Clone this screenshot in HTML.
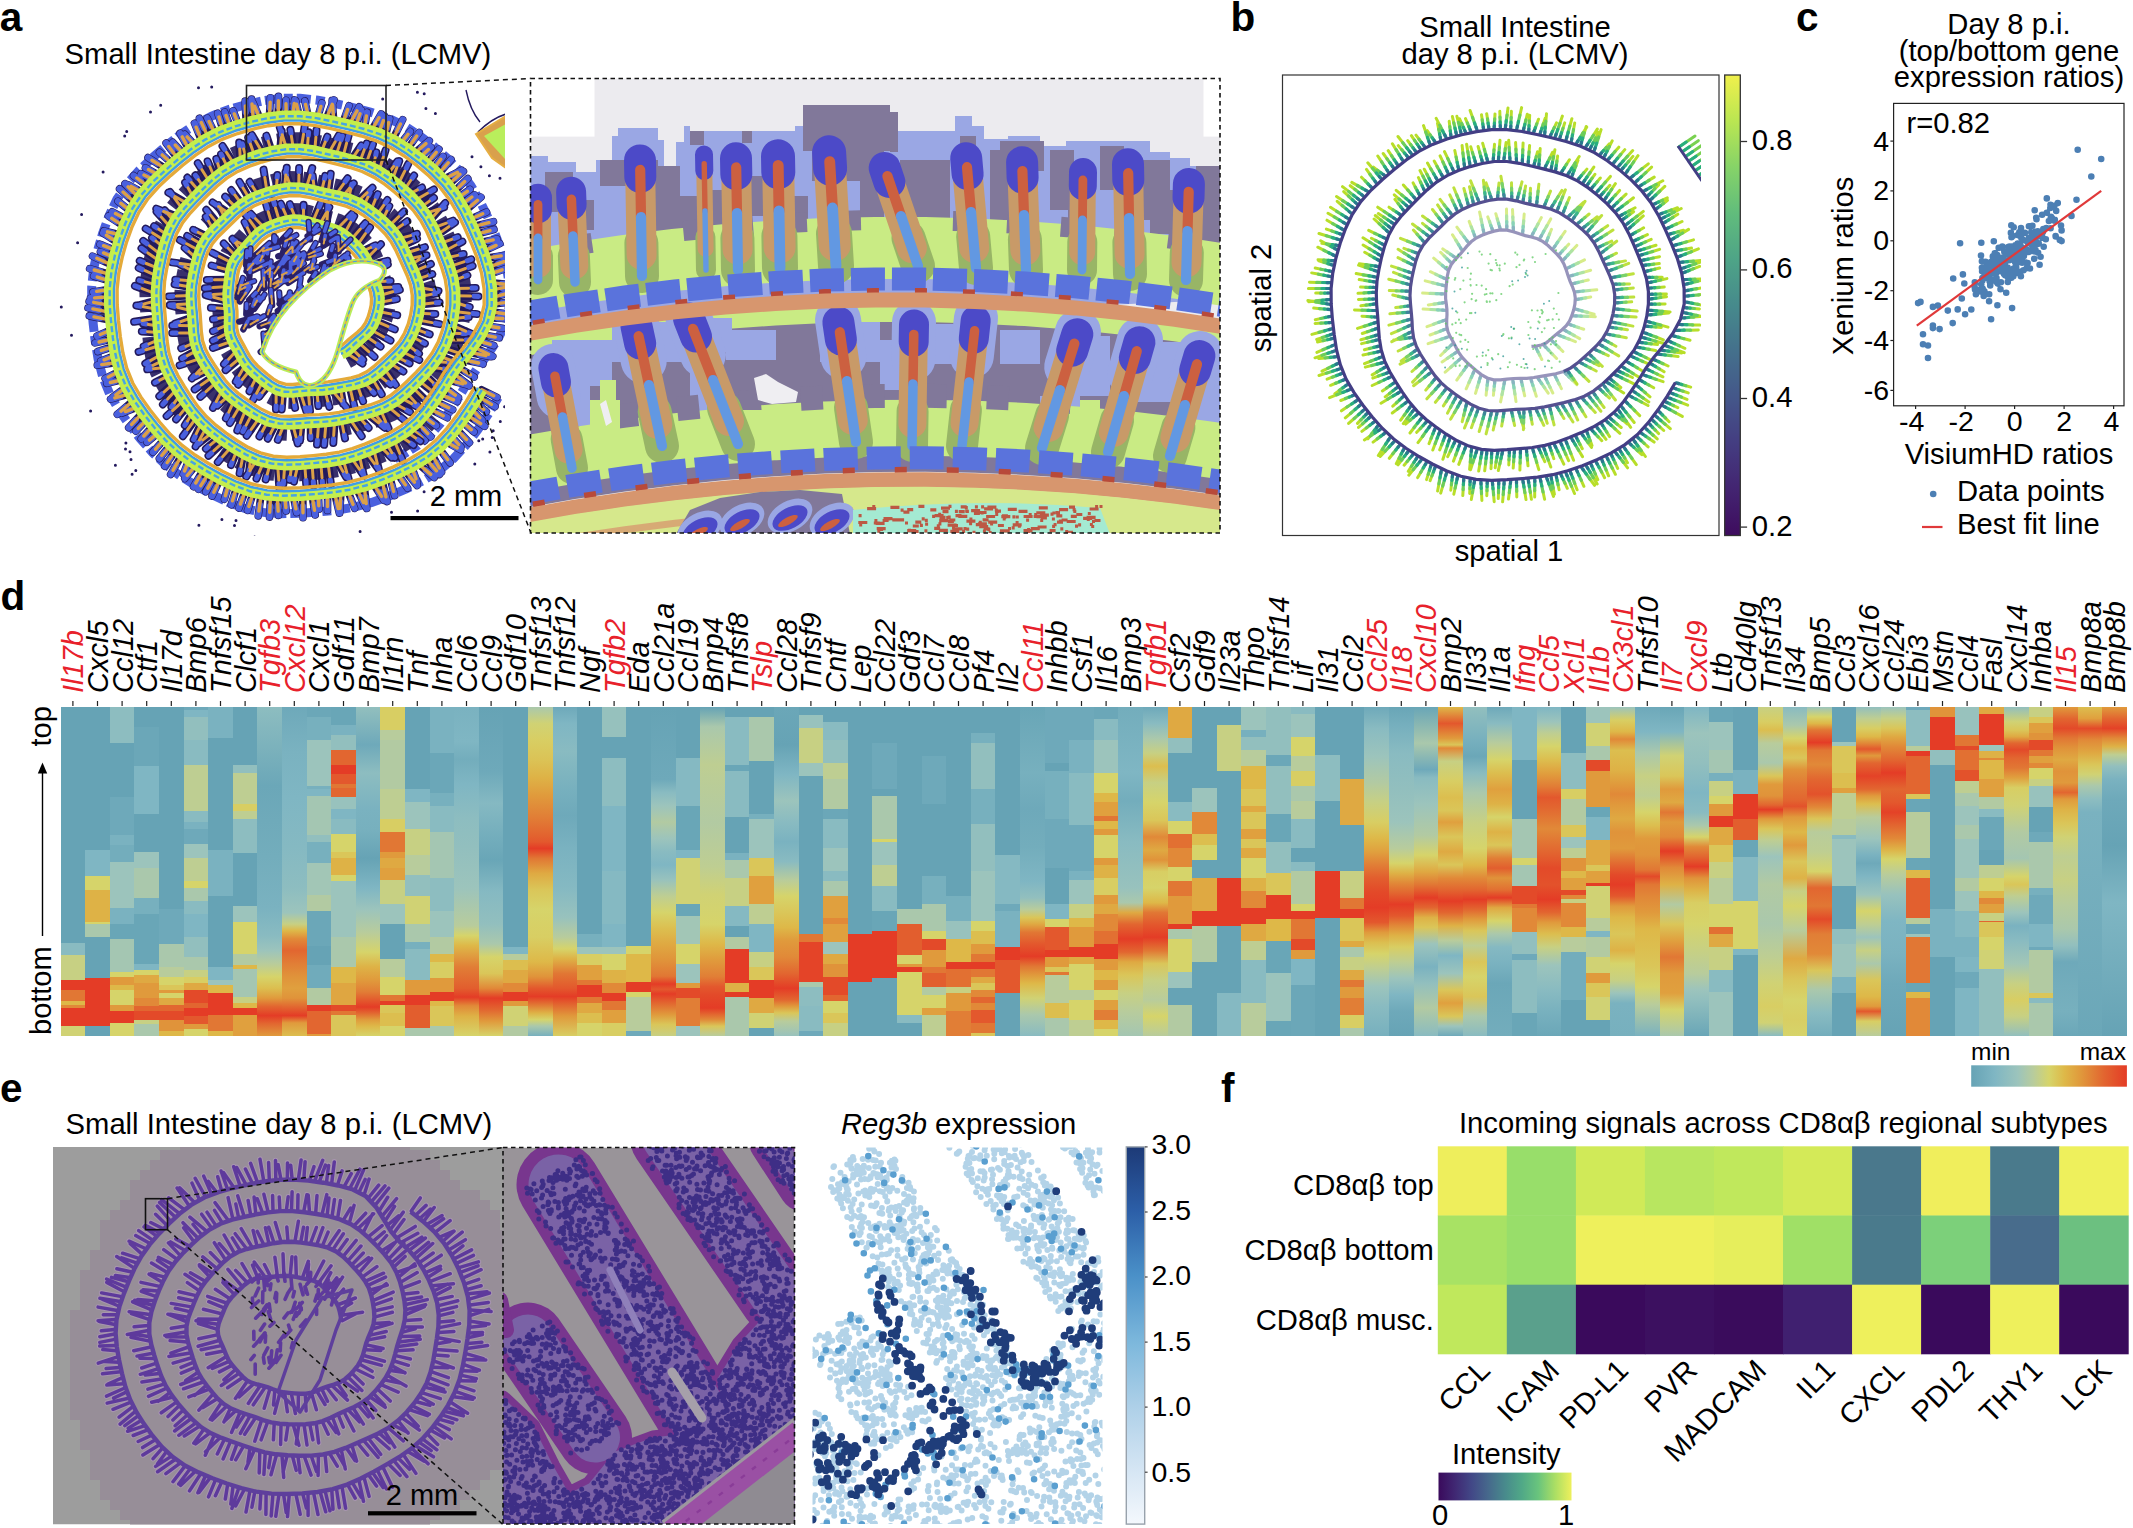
<!DOCTYPE html>
<html><head><meta charset="utf-8"><title>Figure</title>
<style>
html,body{margin:0;padding:0;background:#fff}
#fig{position:relative;width:2133px;height:1528px;overflow:hidden;background:#fff;font-family:'Liberation Sans', sans-serif}
#fig svg{position:absolute;left:0;top:0}
.hm{position:absolute;left:0;top:706.9px;height:329.3px;width:2133px}
.hm div{position:absolute;top:0;height:100%}
svg text{font-family:'Liberation Sans', sans-serif}
</style></head><body>
<div id="fig">
<div class="hm"><div style="left:60.6px;width:24.9px;background:linear-gradient(#66a3b5 0% 71.7%,#89bbc1 71.7% 75.5%,#c7d083 75.5% 83%,#e43c26 83% 86%,#e17734 86% 89.5%,#deb848 89.5% 90.5%,#e18938 90.5% 91.5%,#e43c26 91.5% 97%,#d0d274 97% 100%)"></div><div style="left:85.2px;width:24.9px;background:linear-gradient(#66a3b5 0% 43.5%,#7fb6c3 43.5% 51.3%,#d6d46a 51.3% 55.7%,#deb246 55.7% 65.5%,#d6d46a 65.5% 66%,#aac8ac 66% 70%,#66a3b5 70% 82.5%,#e43c26 82.5% 97%,#66a3b5 97% 100%)"></div><div style="left:109.8px;width:24.9px;background:linear-gradient(#8dbdc0 0% 11%,#66a3b5 11% 27.5%,#6ea9ba 27.5% 39%,#7ab2c0 39% 42%,#73adbc 42% 47%,#9cc4bc 47% 61%,#7ab2c0 61% 66%,#69a6b7 66% 70.5%,#a4c6b2 70.5% 80.5%,#d6d46a 80.5% 82%,#e09a3c 82% 84.5%,#deb848 84.5% 86%,#d6d46a 86% 90.5%,#e09a3c 90.5% 92.5%,#e43c26 92.5% 96%,#d6d46a 96% 100%)"></div><div style="left:134.4px;width:24.9px;background:linear-gradient(#66a3b5 0% 6%,#6ba7b8 6% 18%,#7fb6c3 18% 32.5%,#66a3b5 32.5% 44%,#9cc4bc 44% 49%,#aac8ac 49% 58%,#77b0be 58% 63%,#69a6b7 63% 78%,#7fb6c3 78% 80%,#d6d46a 80% 81.5%,#dfa942 81.5% 84%,#e09a3c 84% 88.5%,#e18938 88.5% 91%,#e26630 91% 92.5%,#e34a29 92.5% 95%,#c7d083 95% 96.5%,#aac8ac 96.5% 100%)"></div><div style="left:159px;width:24.9px;background:linear-gradient(#66a3b5 0% 61.5%,#6ea9ba 61.5% 72%,#aac8ac 72% 79%,#b8cc9c 79% 82%,#d6d46a 82% 84.5%,#dac659 84.5% 86%,#e09a3c 86% 87%,#d6d46a 87% 88.5%,#dfa942 88.5% 90.5%,#e26630 90.5% 92.5%,#e34a29 92.5% 95%,#e0933a 95% 98.5%,#deb848 98.5% 100%)"></div><div style="left:183.6px;width:24.9px;background:linear-gradient(#6ea9ba 0% 1%,#7fb6c3 1% 3%,#92bfbe 3% 10%,#89bbc1 10% 17.5%,#bece92 17.5% 31.5%,#89bbc1 31.5% 35%,#7ab2c0 35% 37%,#6ea9ba 37% 41.5%,#9cc4bc 41.5% 46%,#bece92 46% 53%,#d6d46a 53% 55%,#aac8ac 55% 59%,#89bbc1 59% 63%,#7fb6c3 63% 70%,#92bfbe 70% 76%,#aac8ac 76% 80%,#c7d083 80% 82%,#d8ce63 82% 84%,#dfa942 84% 86%,#e34a29 86% 90%,#e26630 90% 91.5%,#e43c26 91.5% 94%,#e3582d 94% 96.5%,#e09a3c 96.5% 98%,#d6d46a 98% 100%)"></div><div style="left:208.2px;width:24.9px;background:linear-gradient(#7ab2c0 0% 9.5%,#66a3b5 9.5% 43.5%,#7ab2c0 43.5% 57.5%,#66a3b5 57.5% 79%,#7fb6c3 79% 83%,#9cc4bc 83% 84.5%,#deb848 84.5% 87%,#e43c26 87% 93.5%,#e17734 93.5% 98.5%,#deb848 98.5% 100%)"></div><div style="left:232.8px;width:24.9px;background:linear-gradient(#66a3b5 0% 17.5%,#92bfbe 17.5% 20%,#bece92 20% 29.5%,#d8ce63 29.5% 31.5%,#bece92 31.5% 34%,#8dbdc0 34% 44.5%,#66a3b5 44.5% 60.5%,#9cc4bc 60.5% 65.5%,#d6d46a 65.5% 75%,#b2caa2 75% 78.5%,#deb848 78.5% 79.5%,#a4c6b2 79.5% 88%,#c7d083 88% 90%,#deb848 90% 91.5%,#e43c26 91.5% 93.5%,#e0a03e 93.5% 100%)"></div><div style="left:257.4px;width:24.9px;background:linear-gradient(#8dbdc0 0%,#6ba7b8 24%,#73adbc 45.5%,#7ab2c0 61%,#89bbc1 69.5%,#9cc4bc 74%,#b8cc9c 78%,#d6d46a 82%,#dcbe4f 85.5%,#e09a3c 88.5%,#e26630 91%,#e43c26 93.8%,#e26630 96.2%,#e09a3c 100%)"></div><div style="left:282px;width:24.9px;background:linear-gradient(#6ea9ba 0%,#7ab2c0 13.5%,#7fb6c3 27.5%,#85b9c2 42.5%,#8dbdc0 55%,#9cc4bc 62.5%,#c7d083 66%,#deb848 68%,#e18938 70.5%,#e26630 74%,#e17e36 78%,#e0933a 82%,#e0a03e 85.5%,#e0933a 88.5%,#e26630 91.2%,#e43c26 93.8%,#e09a3c 96%,#dcbe4f 100%)"></div><div style="left:306.6px;width:24.9px;background:linear-gradient(#6ba7b8 0% 3%,#77b0be 3% 10%,#9cc4bc 10% 24%,#77b0be 24% 25%,#7fb6c3 25% 27%,#a4c6b2 27% 39%,#92bfbe 39% 41%,#77b0be 41% 47.5%,#a2c6b6 47.5% 57%,#b2caa2 57% 62%,#6ba7b8 62% 72.5%,#66a3b5 72.5% 78.5%,#70abbb 78.5% 85.5%,#b2caa2 85.5% 90.5%,#e43c26 90.5% 92.5%,#e26630 92.5% 99.5%,#e09a3c 99.5% 100%)"></div><div style="left:331.2px;width:24.9px;background:linear-gradient(#69a6b7 0% 5.5%,#7ab2c0 5.5% 8.5%,#92bfbe 8.5% 13%,#e26630 13% 17.5%,#e43c26 17.5% 20.5%,#e3582d 20.5% 23.5%,#e17734 23.5% 24.5%,#e26630 24.5% 27.5%,#98c2bd 27.5% 31%,#7fb6c3 31% 34%,#89bbc1 34% 38.5%,#d6d46a 38.5% 44%,#dac659 44% 46%,#deb246 46% 51%,#d6d46a 51% 53%,#9cc4bc 53% 70%,#aac8ac 70% 79%,#deb848 79% 84%,#dfa641 84% 90.5%,#e34a29 90.5% 92.5%,#e17734 92.5% 93.5%,#dac659 93.5% 100%)"></div><div style="left:355.8px;width:24.9px;background:linear-gradient(#92bfbe 0%,#6ea9ba 11.5%,#8dbdc0 20%,#7ab2c0 31%,#77b0be 37.5%,#66a3b5 46%,#7fb6c3 55%,#9cc4bc 61.5%,#b8cc9c 68.5%,#d6d46a 74.5%,#deb246 79%,#e09a3c 83%,#e17e36 86.5%,#e3582d 89.2%,#e43c26 91.2%,#e26630 93%,#e09a3c 95%,#deb848 97%,#d6d46a 100%)"></div><div style="left:380.4px;width:24.9px;background:linear-gradient(#d8ce63 0% 7%,#b8cc9c 7% 10%,#b2caa2 10% 25%,#bece92 25% 34%,#d8ce63 34% 38%,#e17734 38% 44%,#e09a3c 44% 46%,#dfa942 46% 49%,#e0a03e 49% 52.5%,#c7d083 52.5% 60%,#9cc4bc 60% 66%,#66a3b5 66% 76.5%,#b8cc9c 76.5% 82%,#d6d46a 82% 87.5%,#e17734 87.5% 89.5%,#e43c26 89.5% 90.5%,#dac659 90.5% 93%,#dcbe4f 93% 97%,#d6d46a 97% 100%)"></div><div style="left:405px;width:24.9px;background:linear-gradient(#66a3b5 0% 25%,#7fb6c3 25% 29%,#9cc4bc 29% 37%,#c7d083 37% 45%,#b8cc9c 45% 51%,#92bfbe 51% 57.5%,#d0d274 57.5% 66%,#aac8ac 66% 71.5%,#77b0be 71.5% 73.5%,#89bbc1 73.5% 83%,#e09a3c 83% 87.5%,#e43c26 87.5% 90.5%,#e25e2e 90.5% 97.5%,#aac8ac 97.5% 100%)"></div><div style="left:429.6px;width:24.9px;background:linear-gradient(#7ab2c0 0% 14%,#6ba7b8 14% 26%,#77b0be 26% 30%,#89bbc1 30% 38%,#a4c6b2 38% 52%,#8dbdc0 52% 62%,#9cc4bc 62% 70%,#b2caa2 70% 75%,#deb848 75% 77.5%,#d8ce63 77.5% 82.5%,#e09a3c 82.5% 86.5%,#e43c26 86.5% 89.5%,#deb848 89.5% 91%,#dac659 91% 97%,#aac8ac 97% 100%)"></div><div style="left:454.2px;width:24.9px;background:linear-gradient(#7ab2c0 0%,#7fb6c3 10.5%,#73adbc 16%,#7fb6c3 23.5%,#8dbdc0 34%,#92bfbe 42.5%,#9cc4bc 55%,#b8cc9c 66.5%,#d6d46a 69.5%,#deb848 72.5%,#e17e36 79%,#e25e2e 85.5%,#e43c26 88.2%,#e18938 90.8%,#deb246 94%,#d6d46a 100%)"></div><div style="left:478.8px;width:24.9px;background:linear-gradient(#66a3b5 0%,#6ea9ba 19.8%,#85b9c2 29.2%,#73adbc 39.8%,#69a6b7 46.5%,#85b9c2 56%,#92bfbe 66%,#aac8ac 72%,#d6d46a 76%,#dac659 81%,#e18938 85.5%,#e43c26 88.5%,#e26630 92%,#e09a3c 95.5%,#d6d46a 100%)"></div><div style="left:503.4px;width:24.9px;background:linear-gradient(#66a3b5 0% 73%,#7fb6c3 73% 75%,#b8cc9c 75% 77%,#dcbe4f 77% 80%,#dfa942 80% 84%,#e18938 84% 86.5%,#e43c26 86.5% 89.5%,#e09a3c 89.5% 91%,#d0d274 91% 97%,#b2caa2 97% 100%)"></div><div style="left:528px;width:24.9px;background:linear-gradient(#aac8ac 0%,#d0d274 5%,#d8ce63 10%,#dbc356 16%,#deb246 21.5%,#e09a3c 27%,#e17e36 33.5%,#e26630 38.5%,#e3582d 41%,#e43c26 43%,#e17734 46%,#dfa942 50.5%,#dac659 55.5%,#d6d46a 61.5%,#d8ce63 70%,#deb848 77.5%,#e0933a 82%,#e3582d 85.5%,#e43c26 88%,#e17734 90.5%,#deb246 93%,#d6d46a 95%,#aac8ac 97%,#77b0be 100%)"></div><div style="left:552.6px;width:24.9px;background:linear-gradient(#6ea9ba 0%,#7fb6c3 5%,#89bbc1 13.5%,#77b0be 25%,#6ea9ba 33%,#7ab2c0 43%,#85b9c2 55%,#98c2bd 64%,#b8cc9c 70%,#d6d46a 73.5%,#deb246 76.5%,#e17734 81%,#e3582d 85.5%,#e43c26 88%,#e26630 90.5%,#e09a3c 94%,#d8ce63 100%)"></div><div style="left:577.2px;width:24.9px;background:linear-gradient(#66a3b5 0% 69%,#77b0be 69% 73%,#9cc4bc 73% 75%,#d8ce63 75% 78.5%,#e0a03e 78.5% 83%,#e17734 83% 84.5%,#e43c26 84.5% 88%,#e17734 88% 90%,#dfa942 90% 93%,#dcbe4f 93% 96%,#d6d46a 96% 100%)"></div><div style="left:601.8px;width:24.9px;background:linear-gradient(#96c1bd 0% 9%,#66a3b5 9% 15.5%,#8dbdc0 15.5% 30%,#7fb6c3 30% 50%,#85b9c2 50% 66%,#7fb6c3 66% 73%,#9cc4bc 73% 75%,#d6d46a 75% 80%,#deb246 80% 84%,#e18938 84% 87%,#e43c26 87% 89.5%,#e17734 89.5% 92%,#e0a03e 92% 96%,#d8ce63 96% 100%)"></div><div style="left:626.4px;width:24.9px;background:linear-gradient(#66a3b5 0% 72.5%,#d6d46a 72.5% 75%,#deb848 75% 83.5%,#e43c26 83.5% 86.5%,#d6d46a 86.5% 88%,#b8cc9c 88% 98.5%,#6ea9ba 98.5% 100%)"></div><div style="left:651px;width:24.9px;background:linear-gradient(#66a3b5 0%,#6ea9ba 22%,#89bbc1 26%,#9cc4bc 30%,#b2caa2 35%,#9cc4bc 40%,#89bbc1 44%,#7fb6c3 48%,#98c2bd 52.5%,#bece92 57.5%,#d6d46a 62.5%,#dcbe4f 67.5%,#dfa942 72%,#e0933a 77%,#e17734 81.8%,#e43c26 84.2%,#e3582d 85.8%,#e43c26 87.2%,#e26630 90%,#e09a3c 93.5%,#dac659 96.5%,#c7d083 100%)"></div><div style="left:675.6px;width:24.9px;background:linear-gradient(#66a3b5 0% 15.5%,#85b9c2 15.5% 30%,#69a6b7 30% 43.5%,#7fb6c3 43.5% 46%,#d0d274 46% 60%,#69a6b7 60% 63.5%,#a2c6b6 63.5% 72%,#d6d46a 72% 78%,#9cc4bc 78% 84%,#e09a3c 84% 85.5%,#e34a29 85.5% 88.5%,#e17e36 88.5% 97%,#9cc4bc 97% 100%)"></div><div style="left:700.2px;width:24.9px;background:linear-gradient(#66a3b5 0%,#aac8ac 6%,#bece92 17.5%,#b2caa2 35%,#bece92 48.5%,#d0d274 57%,#d6d46a 66%,#deb848 72%,#e09a3c 77%,#e17e36 82%,#e3582d 85%,#e34a29 87.5%,#e43c26 91.5%,#e18938 95%,#dac659 97%,#b8cc9c 100%)"></div><div style="left:724.8px;width:24.9px;background:linear-gradient(#66a3b5 0% 3%,#89bbc1 3% 17.5%,#69a6b7 17.5% 19.5%,#89bbc1 19.5% 33.5%,#66a3b5 33.5% 44.5%,#7ab2c0 44.5% 46.5%,#aac8ac 46.5% 52%,#c7d083 52% 60.5%,#85b9c2 60.5% 66.5%,#66a3b5 66.5% 70%,#b2caa2 70% 73.5%,#e43c26 73.5% 84%,#deb246 84% 86.5%,#e43c26 86.5% 88%,#aac8ac 88% 100%)"></div><div style="left:749.4px;width:24.9px;background:linear-gradient(#66a3b5 0% 3%,#aac8ac 3% 16.5%,#66a3b5 16.5% 32.5%,#77b0be 32.5% 34%,#9cc4bc 34% 46%,#dac659 46% 51.5%,#e0a03e 51.5% 60%,#bece92 60% 66%,#7fb6c3 66% 74.5%,#c7d083 74.5% 79%,#dac659 79% 83%,#e43c26 83% 88.5%,#dfa942 88.5% 93%,#d0d274 93% 97.5%,#66a3b5 97.5% 100%)"></div><div style="left:774px;width:24.9px;background:linear-gradient(#6ba7b8 0%,#66a3b5 11.5%,#7fb6c3 20.5%,#9cc4bc 28.5%,#89bbc1 35%,#7ab2c0 41%,#89bbc1 47%,#b8cc9c 52.5%,#d6d46a 57.5%,#dac659 62.5%,#deb848 67%,#e09a3c 71%,#e18938 76%,#e26630 81%,#e43c26 85.5%,#e26630 89%,#e09a3c 91%,#dac659 93%,#b8cc9c 95.5%,#98c2bd 100%)"></div><div style="left:798.6px;width:24.9px;background:linear-gradient(#66a3b5 0% 2.5%,#98c2bd 2.5% 6.5%,#c7d083 6.5% 17%,#9cc4bc 17% 21%,#66a3b5 21% 69%,#e17734 69% 71.5%,#e44428 71.5% 83.5%,#aac8ac 83.5% 85%,#8dbdc0 85% 91%,#89bbc1 91% 98.5%,#6ea9ba 98.5% 100%)"></div><div style="left:823.2px;width:24.9px;background:linear-gradient(#66a3b5 0% 4.5%,#89bbc1 4.5% 10%,#92bfbe 10% 17%,#bece92 17% 22%,#b2caa2 22% 31%,#6ba7b8 31% 34%,#89bbc1 34% 43%,#9cc4bc 43% 50%,#89bbc1 50% 53%,#aac8ac 53% 57.5%,#e0a03e 57.5% 64%,#e18938 64% 66%,#e0a03e 66% 71.5%,#9cc4bc 71.5% 75%,#dfa942 75% 78%,#e0933a 78% 82%,#e34a29 82% 87.5%,#e26630 87.5% 89.5%,#d6d46a 89.5% 93%,#dac659 93% 96%,#c7d083 96% 100%)"></div><div style="left:847.8px;width:24.9px;background:linear-gradient(#66a3b5 0% 69%,#e43c26 69% 83.5%,#66a3b5 83.5% 100%)"></div><div style="left:872.4px;width:24.9px;background:linear-gradient(#66a3b5 0% 11%,#6ea9ba 11% 25%,#66a3b5 25% 27%,#aac8ac 27% 40%,#d6d46a 40% 41%,#9cc4bc 41% 48%,#bece92 48% 54.5%,#89bbc1 54.5% 62%,#69a6b7 62% 68%,#e43c26 68% 82.5%,#66a3b5 82.5% 100%)"></div><div style="left:897px;width:24.9px;background:linear-gradient(#66a3b5 0% 61.5%,#aac8ac 61.5% 66%,#e25e2e 66% 75.5%,#d6d46a 75.5% 78%,#e09a3c 78% 79%,#e43c26 79% 80.5%,#d6d46a 80.5% 93.5%,#89bbc1 93.5% 96%,#66a3b5 96% 100%)"></div><div style="left:921.6px;width:24.9px;background:linear-gradient(#66a3b5 0% 15%,#6ea9ba 15% 29.5%,#66a3b5 29.5% 51.5%,#77b0be 51.5% 60%,#aac8ac 60% 68%,#d6d46a 68% 70.5%,#e34a29 70.5% 74%,#e09a3c 74% 79%,#e17734 79% 81%,#e25e2e 81% 85%,#b2caa2 85% 87.5%,#d6d46a 87.5% 91.5%,#e0a03e 91.5% 93.5%,#bece92 93.5% 100%)"></div><div style="left:946.2px;width:24.9px;background:linear-gradient(#66a3b5 0% 57.5%,#77b0be 57.5% 65%,#98c2bd 65% 70.5%,#deb848 70.5% 77.5%,#e43c26 77.5% 79.5%,#e27032 79.5% 85%,#c7d083 85% 87%,#e09a3c 87% 92.5%,#e17e36 92.5% 100%)"></div><div style="left:970.8px;width:24.9px;background:linear-gradient(#66a3b5 0% 8%,#77b0be 8% 11%,#92bfbe 11% 25%,#77b0be 25% 35.5%,#92bfbe 35.5% 50%,#9cc4bc 50% 65%,#d6d46a 65% 68%,#dcbe4f 68% 72%,#e09a3c 72% 75%,#e17734 75% 77.5%,#e43c26 77.5% 79.5%,#e17734 79.5% 82%,#dfa942 82% 84%,#dac659 84% 86%,#e18938 86% 88%,#e26630 88% 90%,#e18938 90% 92%,#e3582d 92% 96%,#e17734 96% 99%,#dac659 99% 100%)"></div><div style="left:995.4px;width:24.9px;background:linear-gradient(#66a3b5 0% 45%,#85b9c2 45% 60%,#6ea9ba 60% 62%,#7ab2c0 62% 73%,#e43c26 73% 77%,#e3582d 77% 87%,#66a3b5 87% 100%)"></div><div style="left:1020px;width:24.9px;background:linear-gradient(#69a6b7 0%,#77b0be 20%,#6ea9ba 31%,#73adbc 42.5%,#7fb6c3 53%,#92bfbe 58%,#b8cc9c 61.5%,#dac659 64%,#dfa942 66%,#e17734 68.5%,#e3582d 72%,#e43c26 75.8%,#e17734 78.8%,#e09a3c 81.5%,#deb848 84%,#d0d274 88.5%,#aac8ac 93.5%,#89bbc1 100%)"></div><div style="left:1044.6px;width:24.9px;background:linear-gradient(#6ea9ba 0% 17%,#66a3b5 17% 19.5%,#77b0be 19.5% 34%,#6ea9ba 34% 49%,#66a3b5 49% 60%,#7fb6c3 60% 64.5%,#d6d46a 64.5% 67%,#e3582d 67% 74%,#e43c26 74% 76%,#e09a3c 76% 79%,#dac659 79% 80.5%,#e17734 80.5% 81.5%,#b8cc9c 81.5% 90%,#dcbe4f 90% 94.5%,#aac8ac 94.5% 100%)"></div><div style="left:1069.2px;width:24.9px;background:linear-gradient(#6ea9ba 0% 10%,#7ab2c0 10% 20%,#89bbc1 20% 36%,#6ea9ba 36% 50%,#7ab2c0 50% 52.5%,#9cc4bc 52.5% 60%,#c7d083 60% 64%,#deb848 64% 67%,#e09a3c 67% 73%,#e43c26 73% 76%,#dfa942 76% 78%,#d6d46a 78% 86%,#b8cc9c 86% 89%,#d6d46a 89% 95%,#bece92 95% 100%)"></div><div style="left:1093.8px;width:24.9px;background:linear-gradient(#6ba7b8 0% 3.5%,#89bbc1 3.5% 10%,#9cc4bc 10% 20%,#d6d46a 20% 26%,#deb848 26% 29%,#e0a03e 29% 33%,#e17734 33% 34.5%,#deb848 34.5% 37%,#e09a3c 37% 39%,#d6d46a 39% 46%,#e09a3c 46% 48%,#deb246 48% 52%,#d8ce63 52% 57%,#e09a3c 57% 60%,#dfa942 60% 63%,#e18938 63% 68%,#e27032 68% 72%,#e43c26 72% 76.5%,#e09a3c 76.5% 80%,#deb848 80% 83%,#e09a3c 83% 86%,#d6d46a 86% 89%,#e0a03e 89% 92%,#e17e36 92% 95%,#deb848 95% 98%,#d6d46a 98% 100%)"></div><div style="left:1118.4px;width:24.9px;background:linear-gradient(#73adbc 0%,#7fb6c3 19.8%,#73adbc 28.5%,#89bbc1 41%,#98c2bd 55%,#aac8ac 59.5%,#dfa942 62.5%,#e26630 66%,#e43c26 70.5%,#e26630 74.5%,#dfa942 77.5%,#dac659 81.5%,#c7d083 87%,#b8cc9c 92.5%,#a4c6b2 100%)"></div><div style="left:1143px;width:24.9px;background:linear-gradient(#6ea9ba 0%,#89bbc1 5%,#aac8ac 9.5%,#c7d083 14%,#dcbe4f 18%,#c7d083 23%,#d6d46a 29%,#dac659 34.5%,#e18938 39.5%,#dfa942 43.5%,#e0933a 46.5%,#d8ce63 50%,#d6d46a 55%,#deb848 59.5%,#e17734 62.5%,#e3582d 66%,#e43c26 70%,#e17734 74%,#dac659 78%,#c7d083 83%,#b8cc9c 89%,#d6d46a 94%,#b8cc9c 100%)"></div><div style="left:1167.6px;width:24.9px;background:linear-gradient(#dfa942 0% 9.5%,#92bfbe 9.5% 14%,#66a3b5 14% 29%,#89bbc1 29% 34.5%,#d6d46a 34.5% 38.5%,#e27032 38.5% 43%,#e18938 43% 48.5%,#d6d46a 48.5% 53%,#e17734 53% 57.5%,#e09a3c 57.5% 66%,#e43c26 66% 67.5%,#aac8ac 67.5% 70.5%,#d6d46a 70.5% 80.5%,#9cc4bc 80.5% 85.5%,#66a3b5 85.5% 90.5%,#b2caa2 90.5% 100%)"></div><div style="left:1192.2px;width:24.9px;background:linear-gradient(#66a3b5 0% 24.5%,#9cc4bc 24.5% 32%,#e18938 32% 38.5%,#dcbe4f 38.5% 42%,#d6d46a 42% 46.5%,#66a3b5 46.5% 52%,#dfa942 52% 62%,#e43c26 62% 66.5%,#b2caa2 66.5% 77.5%,#66a3b5 77.5% 100%)"></div><div style="left:1216.8px;width:24.9px;background:linear-gradient(#66a3b5 0% 5.5%,#c7d083 5.5% 19.5%,#66a3b5 19.5% 52%,#e43c26 52% 66.5%,#66a3b5 66.5% 87%,#85b9c2 87% 100%)"></div><div style="left:1241.4px;width:24.9px;background:linear-gradient(#9cc4bc 0% 7%,#77b0be 7% 9%,#92bfbe 9% 13%,#b8cc9c 13% 18%,#deb848 18% 25%,#dac659 25% 30%,#dfa942 30% 32%,#dac659 32% 37%,#e0a03e 37% 40%,#dac659 40% 43%,#dfa942 43% 46%,#d6d46a 46% 52%,#deb246 52% 56%,#e18938 56% 61%,#e43c26 61% 66%,#dfa942 66% 71%,#bece92 71% 77%,#89bbc1 77% 90%,#b8cc9c 90% 100%)"></div><div style="left:1266px;width:24.9px;background:linear-gradient(#92bfbe 0% 14.5%,#6ba7b8 14.5% 18%,#92bfbe 18% 32.5%,#69a6b7 32.5% 41%,#92bfbe 41% 50.5%,#dac659 50.5% 57%,#e43c26 57% 64.5%,#deb848 64.5% 71%,#69a6b7 71% 81%,#9cc4bc 81% 95.5%,#69a6b7 95.5% 100%)"></div><div style="left:1290.6px;width:24.9px;background:linear-gradient(#89bbc1 0% 2%,#9cc4bc 2% 9%,#d6d46a 9% 15%,#b8cc9c 15% 19.5%,#d8ce63 19.5% 24%,#aac8ac 24% 28.5%,#b8cc9c 28.5% 34%,#89bbc1 34% 43%,#66a3b5 43% 47%,#89bbc1 47% 50%,#b2caa2 50% 60%,#d6d46a 60% 62%,#e43c26 62% 64.5%,#e17734 64.5% 70.5%,#e34a29 70.5% 74%,#e09a3c 74% 76.5%,#7fb6c3 76.5% 84.5%,#6ba7b8 84.5% 100%)"></div><div style="left:1315.2px;width:24.9px;background:linear-gradient(#66a3b5 0% 14.5%,#8dbdc0 14.5% 28.5%,#66a3b5 28.5% 50%,#e43c26 50% 64%,#66a3b5 64% 100%)"></div><div style="left:1339.8px;width:24.9px;background:linear-gradient(#66a3b5 0% 22%,#dfa942 22% 36%,#66a3b5 36% 50%,#c7d083 50% 58%,#e17734 58% 61.5%,#e43c26 61.5% 64%,#dac659 64% 71%,#dfa942 71% 73%,#aac8ac 73% 76%,#c7d083 76% 80%,#dfa942 80% 83%,#e17734 83% 85%,#e09a3c 85% 88.5%,#e17e36 88.5% 93.5%,#d8ce63 93.5% 97.5%,#aac8ac 97.5% 100%)"></div><div style="left:1364.4px;width:24.9px;background:linear-gradient(#6ea9ba 0%,#89bbc1 6.5%,#9cc4bc 15%,#b2caa2 23%,#c7d083 29%,#d8ce63 35%,#deb848 40%,#e0a03e 44%,#e17e36 48%,#e25e2e 52%,#e34a29 56%,#e43c26 61%,#e3582d 65.5%,#e09a3c 68.5%,#dcbe4f 71.5%,#d6d46a 75%,#bece92 79.5%,#9cc4bc 85%,#89bbc1 91%,#77b0be 100%)"></div><div style="left:1389px;width:24.9px;background:linear-gradient(#69a6b7 0%,#77b0be 6%,#89bbc1 14%,#92bfbe 25%,#9cc4bc 35%,#b8cc9c 43%,#d6d46a 47.5%,#deb246 50.5%,#e18938 53.5%,#e26630 56.5%,#e43c26 60%,#e3582d 63.5%,#e18938 66.5%,#deb246 69.5%,#d8ce63 73%,#bece92 77.5%,#9cc4bc 82.5%,#7fb6c3 87.5%,#6ea9ba 92.5%,#66a3b5 100%)"></div><div style="left:1413.6px;width:24.9px;background:linear-gradient(#69a6b7 0%,#aac8ac 11%,#6ea9ba 19%,#89bbc1 21.5%,#9cc4bc 29.5%,#b2caa2 39%,#d6d46a 45%,#dfa942 50%,#e17734 54%,#e43c26 58%,#e26630 61%,#deb246 64%,#dac659 67%,#9cc4bc 72%,#7ab2c0 79%,#92bfbe 84%,#b2caa2 91.5%,#89bbc1 100%)"></div><div style="left:1438.2px;width:24.9px;background:linear-gradient(#deb848 0%,#e3582d 5%,#e09a3c 9.5%,#dac659 11.5%,#e18938 12.5%,#c7d083 16.5%,#d8ce63 22.5%,#dcbe4f 27.5%,#dac659 31.5%,#e0a03e 35%,#dac659 39.5%,#dfa942 44%,#dac659 48%,#e18938 52%,#e26630 55.5%,#e43c26 59%,#e26630 62.5%,#deb246 66.5%,#b8cc9c 71%,#7fb6c3 75.5%,#9cc4bc 81%,#dac659 86%,#e0a03e 90%,#dac659 94%,#9cc4bc 97%,#6ea9ba 100%)"></div><div style="left:1462.8px;width:24.9px;background:linear-gradient(#92bfbe 0%,#77b0be 10%,#6ba7b8 15%,#89bbc1 20%,#aac8ac 26%,#c7d083 35%,#d6d46a 43%,#deb848 48%,#e18938 52%,#e26630 55.5%,#e43c26 58.5%,#e26630 61.5%,#e09a3c 64.5%,#dac659 68%,#bece92 72.5%,#dac659 77.5%,#d6d46a 82%,#dac659 88%,#aac8ac 94%,#89bbc1 100%)"></div><div style="left:1487.4px;width:24.9px;background:linear-gradient(#6ea9ba 0%,#89bbc1 5%,#b8cc9c 11%,#d6d46a 16%,#dcbe4f 20%,#e0a03e 25%,#deb246 29.5%,#d6d46a 33.5%,#deb246 38%,#dac659 42%,#e17e36 46%,#e25e2e 49%,#e0933a 52%,#e27032 55.5%,#e43c26 58%,#dfa942 61%,#d6d46a 65%,#aac8ac 69%,#85b9c2 73%,#7ab2c0 78%,#6ba7b8 84%,#73adbc 100%)"></div><div style="left:1512px;width:24.9px;background:linear-gradient(#7fb6c3 0% 16%,#66a3b5 16% 34%,#a4c6b2 34% 46%,#d6d46a 46% 48%,#a4c6b2 48% 54.5%,#e34a29 54.5% 60%,#e17734 60% 61%,#e18938 61% 68.5%,#92bfbe 68.5% 75%,#6ea9ba 75% 77%,#8dbdc0 77% 93%,#69a6b7 93% 100%)"></div><div style="left:1536.6px;width:24.9px;background:linear-gradient(#7fb6c3 0%,#9cc4bc 4.5%,#bece92 8%,#d6d46a 12%,#dcbe4f 16%,#e0a03e 20%,#e17e36 24%,#e3582d 27.5%,#e26630 30.5%,#e18938 37%,#e26630 44%,#e34a29 49%,#e3522b 54%,#e43c26 58.5%,#e26630 62.5%,#e09a3c 65.5%,#dcbe4f 69%,#c7d083 73%,#9cc4bc 78.5%,#89bbc1 86%,#77b0be 93%,#6ba7b8 100%)"></div><div style="left:1561.2px;width:24.9px;background:linear-gradient(#66a3b5 0% 14%,#8dbdc0 14% 25%,#d8ce63 25% 28%,#b2caa2 28% 36%,#dac659 36% 39.5%,#9cc4bc 39.5% 43%,#bece92 43% 46%,#e0933a 46% 50%,#deb848 50% 52%,#e0a03e 52% 55.5%,#e34a29 55.5% 57%,#e18938 57% 58.5%,#c7d083 58.5% 59.5%,#e18938 59.5% 67%,#deb848 67% 70%,#b8cc9c 70% 74.5%,#73adbc 74.5% 89%,#66a3b5 89% 100%)"></div><div style="left:1585.8px;width:24.9px;background:linear-gradient(#9cc4bc 0% 5%,#d0d274 5% 12%,#aac8ac 12% 16%,#e34a29 16% 19.5%,#e09a3c 19.5% 30.5%,#69a6b7 30.5% 33.5%,#7fb6c3 33.5% 40.5%,#dfa942 40.5% 48%,#dac659 48% 50%,#e0a03e 50% 53.5%,#e43c26 53.5% 54.5%,#d0d274 54.5% 64%,#b8cc9c 64% 68%,#7fb6c3 68% 70%,#b2caa2 70% 76%,#d0d274 76% 81%,#e09a3c 81% 84%,#dac659 84% 88%,#d0d274 88% 95%,#66a3b5 95% 100%)"></div><div style="left:1610.4px;width:24.9px;background:linear-gradient(#9cc4bc 0%,#d8ce63 4%,#deb848 7.5%,#e18938 9.8%,#dcbe4f 13.2%,#deb246 19%,#e09a3c 23.5%,#e18938 26.5%,#e09a3c 30%,#dfa942 34%,#e0933a 38%,#e09a3c 43%,#e26630 48%,#e34a29 51%,#e43c26 54%,#e3582d 57.5%,#e09a3c 60.5%,#deb848 64%,#dac659 69%,#deb246 74%,#d6d46a 78%,#c7d083 83%,#9cc4bc 87%,#7ab2c0 90%,#77b0be 100%)"></div><div style="left:1635px;width:24.9px;background:linear-gradient(#6ea9ba 0%,#7fb6c3 7.5%,#aac8ac 14%,#c7d083 21%,#bece92 27%,#d6d46a 32%,#dcbe4f 36%,#e09a3c 40%,#e0933a 45%,#e17734 49.5%,#e34a29 51.5%,#e17734 54%,#e18938 58%,#e09a3c 62.5%,#deb848 67.5%,#dcbe4f 73%,#dac659 79%,#d6d46a 85%,#b8cc9c 90.5%,#7ab2c0 100%)"></div><div style="left:1659.6px;width:24.9px;background:linear-gradient(#69a6b7 0%,#7fb6c3 7.5%,#d0d274 14.8%,#dac659 21%,#e09a3c 25%,#dfa942 29%,#e17734 32%,#e09a3c 35%,#e18938 39.5%,#e43c26 43.8%,#e18938 48.8%,#deb246 54%,#b2caa2 60%,#dac659 66%,#e0a03e 71%,#e17734 76%,#e09a3c 81%,#e0a03e 87%,#d6d46a 92%,#aac8ac 100%)"></div><div style="left:1684.2px;width:24.9px;background:linear-gradient(#7fb6c3 0%,#9cc4bc 8%,#92bfbe 17%,#7fb6c3 26%,#89bbc1 32%,#aac8ac 36%,#d6d46a 39.5%,#e18938 42.5%,#e26630 45.5%,#e43c26 48.5%,#e0933a 52%,#deb246 55.5%,#d8ce63 59.5%,#d6d46a 66%,#c7d083 74%,#b8cc9c 81%,#9cc4bc 86%,#92bfbe 88.8%,#69a6b7 100%)"></div><div style="left:1708.8px;width:24.9px;background:linear-gradient(#69a6b7 0% 4.5%,#9cc4bc 4.5% 13%,#a4c6b2 13% 20%,#77b0be 20% 22.5%,#c7d083 22.5% 27%,#d6d46a 27% 29.5%,#e09a3c 29.5% 33%,#e43c26 33% 36.5%,#dfa942 36.5% 42%,#dac659 42% 47%,#c7d083 47% 52%,#b8cc9c 52% 60%,#d6d46a 60% 67%,#e27032 67% 69%,#dfa942 69% 73%,#c7d083 73% 80%,#89bbc1 80% 86.5%,#9cc4bc 86.5% 100%)"></div><div style="left:1733.4px;width:24.9px;background:linear-gradient(#66a3b5 0% 19%,#7ab2c0 19% 26.5%,#e43c26 26.5% 34%,#e25e2e 34% 40.5%,#69a6b7 40.5% 45.5%,#85b9c2 45.5% 59%,#d6d46a 59% 73.5%,#7fb6c3 73.5% 75.5%,#66a3b5 75.5% 100%)"></div><div style="left:1758px;width:24.9px;background:linear-gradient(#c7d083 0%,#d8ce63 4.5%,#dcbe4f 7%,#b8cc9c 11%,#aac8ac 17%,#dac659 21%,#e09a3c 23.5%,#e0933a 27%,#e26630 29.8%,#e43c26 31.2%,#e09a3c 34%,#dac659 37%,#bece92 40.5%,#9cc4bc 45.5%,#b2caa2 54%,#aac8ac 66%,#bece92 76%,#d0d274 84%,#d8ce63 91%,#d0d274 96%,#89bbc1 100%)"></div><div style="left:1782.6px;width:24.9px;background:linear-gradient(#89bbc1 0%,#aac8ac 5.5%,#d6d46a 9.5%,#deb848 12.5%,#dac659 15.5%,#e0933a 19%,#e17734 24%,#e26630 28.2%,#e3522b 30.2%,#e09a3c 33.5%,#deb848 38%,#e09a3c 42%,#dac659 47%,#deb246 52%,#c7d083 56%,#d6d46a 60.5%,#b8cc9c 68%,#dfa942 76.5%,#dac659 83%,#d6d46a 89%,#d8ce63 95%,#d6d46a 100%)"></div><div style="left:1807.2px;width:24.9px;background:linear-gradient(#9cc4bc 0%,#d6d46a 3%,#deb848 5%,#e17734 7%,#e3582d 9%,#e43c26 10.8%,#e17734 13.2%,#e18938 17.5%,#e26630 22%,#e3522b 26.5%,#e18938 30.5%,#dac659 34%,#b8cc9c 38%,#bece92 44%,#d6d46a 50%,#e26630 55%,#e17734 60.5%,#e34a29 64.5%,#e17e36 69%,#e18938 75%,#dac659 80%,#aac8ac 86%,#89bbc1 93%,#73adbc 100%)"></div><div style="left:1831.8px;width:24.9px;background:linear-gradient(#66a3b5 0% 10.5%,#9cc4bc 10.5% 12%,#dac659 12% 20%,#dcbe4f 20% 24.5%,#e0a03e 24.5% 26%,#bece92 26% 34%,#b8cc9c 34% 39%,#89bbc1 39% 40%,#9cc4bc 40% 54.5%,#66a3b5 54.5% 67.5%,#92bfbe 67.5% 72%,#9cc4bc 72% 82%,#7ab2c0 82% 87%,#66a3b5 87% 100%)"></div><div style="left:1856.4px;width:24.9px;background:linear-gradient(#92bfbe 0%,#bece92 3.5%,#d8ce63 6.5%,#deb848 9%,#e18938 11%,#e3582d 12.8%,#e09a3c 14.8%,#e26630 17%,#e44227 21%,#e26630 25%,#e09a3c 27%,#dcbe4f 29.5%,#b8cc9c 33.5%,#9cc4bc 40%,#7ab2c0 45%,#6ea9ba 47.5%,#7fb6c3 51.5%,#9cc4bc 57%,#d6d46a 62%,#bece92 66%,#9cc4bc 70%,#c7d083 74%,#aac8ac 78%,#dac659 83%,#deb848 88%,#e09a3c 91%,#e3582d 92.5%,#d8ce63 95.5%,#b8cc9c 100%)"></div><div style="left:1881px;width:24.9px;background:linear-gradient(#9cc4bc 0%,#c7d083 3.5%,#dac659 6.5%,#dfa942 9%,#e18938 12%,#e26630 16%,#e43c26 20%,#e26630 25%,#e3582d 29%,#e44227 32%,#e26630 36%,#e18938 40%,#deb246 43.2%,#d6d46a 46.2%,#b8cc9c 51%,#98c2bd 57%,#7fb6c3 65%,#7ab2c0 75%,#6ea9ba 84%,#66a3b5 100%)"></div><div style="left:1905.6px;width:24.9px;background:linear-gradient(#6ea9ba 0% 1%,#8dbdc0 1% 12%,#b8cc9c 12% 13.5%,#e43c26 13.5% 15%,#e26630 15% 26.5%,#dac659 26.5% 28%,#69a6b7 28% 32%,#b8cc9c 32% 46%,#69a6b7 46% 49.5%,#deb848 49.5% 52%,#e2602f 52% 64%,#b8cc9c 64% 66%,#69a6b7 66% 69%,#9cc4bc 69% 70%,#e17734 70% 84%,#69a6b7 84% 86.5%,#deb848 86.5% 88.5%,#e18938 88.5% 100%)"></div><div style="left:1930.2px;width:24.9px;background:linear-gradient(#e0933a 0% 3%,#e43c26 3% 13%,#92bfbe 13% 17.5%,#66a3b5 17.5% 61.5%,#7ab2c0 61.5% 76%,#66a3b5 76% 100%)"></div><div style="left:1954.8px;width:24.9px;background:linear-gradient(#98c2bd 0% 8.5%,#e17734 8.5% 12%,#e34a29 12% 13%,#e27032 13% 19%,#e3522b 19% 22.5%,#bece92 22.5% 26%,#aac8ac 26% 30%,#9cc4bc 30% 36%,#aac8ac 36% 40%,#9cc4bc 40% 52%,#b2caa2 52% 56%,#9cc4bc 56% 62%,#85b9c2 62% 70%,#7ab2c0 70% 76%,#7fb6c3 76% 80.5%,#6ea9ba 80.5% 85.5%,#7fb6c3 85.5% 100%)"></div><div style="left:1979.4px;width:24.9px;background:linear-gradient(#dfa942 0% 2%,#e43c26 2% 11.5%,#9cc4bc 11.5% 13.5%,#deb246 13.5% 15.5%,#e18938 15.5% 16%,#deb848 16% 22%,#e0a03e 22% 27.5%,#b2caa2 27.5% 31%,#89bbc1 31% 33.5%,#6ba7b8 33.5% 43.5%,#66a3b5 43.5% 48%,#bece92 48% 52%,#d6d46a 52% 56%,#deb848 56% 58%,#e18938 58% 60%,#e0a03e 60% 62.5%,#c7d083 62.5% 65%,#e26630 65% 65.5%,#dac659 65.5% 70%,#d6d46a 70% 74%,#d0d274 74% 79.5%,#92bfbe 79.5% 100%)"></div><div style="left:2004px;width:24.9px;background:linear-gradient(#92bfbe 0%,#d0d274 4.5%,#dac659 7%,#dfa942 9%,#e26630 11%,#e34a29 13%,#e26630 15.5%,#e17734 18.5%,#e0a03e 21.5%,#d8ce63 24.5%,#d0d274 30%,#b2caa2 38%,#a4c6b2 46%,#d6d46a 51.5%,#dac659 54%,#bece92 57.5%,#9cc4bc 62.5%,#7ab2c0 66.5%,#89bbc1 71%,#a2c6b6 78%,#c7d083 84%,#d8ce63 89%,#c7d083 94%,#92bfbe 100%)"></div><div style="left:2028.6px;width:24.9px;background:linear-gradient(#c7d083 0% 3%,#dac659 3% 5%,#e0a03e 5% 8%,#e0933a 8% 10%,#e34a29 10% 13%,#e17734 13% 15%,#e0a03e 15% 17%,#e18938 17% 18.5%,#d6d46a 18.5% 22%,#c7d083 22% 24%,#98c2bd 24% 30.5%,#66a3b5 30.5% 38%,#6ea9ba 38% 41%,#aac8ac 41% 55%,#77b0be 55% 57%,#6ea9ba 57% 66%,#7fb6c3 66% 73%,#6ea9ba 73% 74%,#b2caa2 74% 87%,#dac659 87% 88.5%,#89bbc1 88.5% 90%,#aac8ac 90% 100%)"></div><div style="left:2053.2px;width:24.9px;background:linear-gradient(#e09a3c 0%,#e26630 3.5%,#e34a29 6.5%,#e17734 9.5%,#e0933a 12.5%,#dfa942 16%,#e0933a 19.5%,#e09a3c 23%,#e26630 26%,#e09a3c 28%,#deb246 31%,#dac659 35.5%,#d0d274 39.5%,#bece92 45.5%,#c7d083 52.5%,#b8cc9c 60%,#aac8ac 67.5%,#92bfbe 72.5%,#6ea9ba 77.5%,#73adbc 85%,#77b0be 92.5%,#6ba7b8 100%)"></div><div style="left:2077.8px;width:24.9px;background:linear-gradient(#dcbe4f 0%,#e0a03e 3.5%,#e34a29 6.5%,#e18938 10%,#dfa942 14%,#dac659 17.5%,#d0d274 20.5%,#aac8ac 24%,#8dbdc0 28%,#7ab2c0 32%,#6ba7b8 100%)"></div><div style="left:2102.4px;width:24.9px;background:linear-gradient(#e09a3c 0%,#e26630 3.5%,#e44227 6.5%,#e18938 9.5%,#deb246 12%,#bece92 14.5%,#92bfbe 18%,#7ab2c0 22%,#6ea9ba 28%,#66a3b5 42.2%,#7fb6c3 59.5%,#66a3b5 100%)"></div></div>
<svg width="2133" height="1528" viewBox="0 0 2133 1528">
<clipPath id="ca"><rect x="55" y="84" width="450" height="452"/></clipPath>
<g clip-path="url(#ca)" fill="none">
<path d="M498.2 397.4L488.5 413.8 477.9 429.6 466.4 444.7 453.6 458.6 439.1 470.7 423 480.7 406.2 489 389.1 496.2 371.8 502.4 354.2 507.1 336.2 510.2 318.1 512 300 513.2 281.7 513.7 263.4 512.4 245.4 508.7 228.2 502.4 211.7 494.4 195.7 485.6 180.3 475.9 165.8 464.9 152.5 452.5 140.4 438.9 129.2 424.6 118.7 409.7 109.6 393.8 102.7 376.8 98.1 359.1 95.2 341.1 93.1 323.1 91.7 305 91.7 286.8 93.7 268.6 97.5 250.7 102.7 233.2 109 215.9 116.9 199.3 127.1 183.9 139.3 170.1 152.6 157.6 166.3 145.7 180.6 134.4 195.7 124.3 211.8 116 228.8 109.5 246.3 104.5 264 100.6 281.9 98.3 300 98.2 317.9 100.2 335.5 103.6 352.9 107.6 370.2 112.1 387.3 117.8 403.6 125.5 418.9 135.1 433.4 146.1 447 158 459.7 171 470.8 185.4 480 201.1 487.9 217.4 495.1 234 501.7 251 506.8 268.5 509.5 286.7 509.7 305 505.8 323 497.6 339.8 487.3 355.2 476.6 369.3 467.3 383 459.1 396.8 450.2 410.2 440.7 423.1 430.1 435.1 417.8 445.4 404.3 453.9 390 461" stroke="#4a60de" stroke-width="9" stroke-dasharray="14 5 9 4"/>
<path d="M435.4 418.6L425.1 430.1 413.3 440.1 400.3 448.2 386.5 454.9 372.7 460.8 358.6 466 344.2 470 329.5 472.5 314.8 474 300 475.2 285.1 475.7 270.1 474.5 255.6 470.8 241.8 464.8 229 457.3 216.8 449.1 205.2 440.4 194.5 430.7 185 420 176.7 408.5 169 396.7 161.9 384.7 155.8 372.2 151.6 359 149.2 345.4 147.9 331.8 146.7 318.4 145.7 305 145.4 291.5 146.4 277.9 148.7 264.5 151.7 251 155.5 237.6 160.6 224.5 167.5 212.2 176.1 201.1 185.8 190.8 195.8 180.8 206.2 171 217.5 162.1 229.9 154.6 243.1 148.7 256.9 144.1 271 140.5 285.4 138.3 300 138.2 314.4 140.1 328.5 143.2 342.5 146.5 356.4 150.1 370.1 154.8 383.1 161.1 395.2 169 406.6 178 417.3 187.7 427.3 198.2 435.8 209.9 442.8 222.5 448.7 235.6 454.3 248.8 459.5 262.3 463.6 276.2 465.7 290.5 465.7 305 464 319.3 460.7 333.3 456.1 346.8 449.6 359.4 441.4 370.9 432.3 381.4 423 391.1 413.6 400.3 403.6 408.6 392.5 415.2 380.6 420.1 368.6 423.8 356.9 427 345.4 429.7 334 431.7 322.5 432.8 311.2 433.4 300 434.2 288.6 434.9 277.2 434.3 266.1 431.6 255.6 427 245.8 421.1 236.5 414.9 227.6 408.4 219.3 401.2 211.9 393.1 205.4 384.4 199.3 375.5 193.5 366.5 188.6 357 185.2 346.8 183.4 336.2 182.5 325.7 181.7 315.4 180.7 305 180.3 294.5 181 284 182.8 273.6 185.1 263.2 187.9 252.7 191.8 242.5 197.3 233.1 204.2 224.6 211.9 216.9 219.8 209.4 227.8 201.9 236.5 194.9 246 189.3 256.3 184.9 266.9 181.5 277.7 178.7 288.8 177.1 300 177.2 311 178.9 321.8 181.4 332.4 183.9 343.2 186.3 353.9 189.4 364.1 193.9 373.6 199.9 382.6 206.6 391.2 213.8 399.2 221.8 406.1 230.7 411.6 240.6 416.3 250.8 420.9 261 425.4 271.4 429 282.3 430.8 293.6 430.7 305 429.1 316.3 426.4 327.3 422.5 337.8 417.1 347.6 410.2 356.4 402.7 364.3 395.2 371.6 387.8 378.6 379.9 384.9 371.1 389.7 361.7 393.1 352.2 395.4 343.1 397.5 334.3 399.3 325.6 400.6 317 401.2 308.4 401.5 300 402.2 291.4 402.9 282.8 402.6 274.4 400.4 266.8 396.3 259.8 391.3 253.2 386.1 246.9 380.9 241.2 375.1 236.3 368.7 232.2 361.9 228.3 355.2 224.5 348.6 221.2 341.7 219.3 334.4 218.8 326.8 218.8 319.3 218.5 312.1 217.7 305 217.1 297.7 217.3 290.4 218.2 283.1 219.3 275.6 220.6 268 222.7 260.4 226.2 253.3 231 247.1 236.3 241.3 241.7 235.5 247.1 229.5 253.1 223.8 260 219.1 267.5 215.6 275.3 212.8 283.3 210.4 291.6 209 300 209.2 308.2 210.9 316.2 213.2 324 215.4 331.9 217.4 339.7 220 347 223.7 353.5 228.5 359.6 234 365.4 239.6 370.6 245.7 374.9 252.5 378.1 259.9 380.7 267.4 383.4 274.6 386.4 281.8 388.9 289.3 390 297.1 389.7 305 388.4 312.7 386.3 320.2 383.5 327.4 379.6 334 374.6 339.8 369.2 344.9 364.1 349.9 359.2 354.7 354.1 359.1 348.1 362.4" stroke="#231a5c" stroke-width="12" stroke-dasharray="12 5 7 8" opacity=".9"/>
<path d="M481.8 389.8L497 397.3M478.1 396.4L495.1 406.6M474.7 402L486.3 411.7M470.8 408L482.3 420.4M466.4 414.6L484.7 426.2M461.6 421.4L474 431.9M456.1 428.7L469.4 442.6M450.8 435.4L460.9 447.1M445.3 441.5L460.6 449.7M438.8 447.9L450.1 462.9M431.7 453.8L441.5 472.1M425.5 458.3L439.6 474.4M417.6 463.2L434.3 477.5M411.6 466.5L417.2 482.3M404.6 470L417.1 485.6M397.3 473.3L407.6 488.2M389.7 476.6L394.7 495.6M381.8 479.8L387.1 501.6M372.8 483.1L383.9 500.2M364.2 485.9L366.8 508.5M356.3 488.1L365.5 506.7M347.5 490.1L354.6 508.4M341 491.3L339.7 513.1M334.4 492.3L339.3 513.1M327.6 493L327.5 510.4M318.4 493.9L319 509.2M311.9 494.4L315.2 514.9M302.8 495L303 517.8M293.2 495.5L296.6 512.6M284.8 495.7L286.2 510.9M277.1 495.6L278.5 515.4M270.6 495.1L269.5 517.1M261.2 493.9L258.2 515.9M253.5 492.2L247.5 510.4M245.6 489.9L238.9 508.1M236.8 486.6L231.3 504.8M228.9 483L224.4 499.3M220.4 478.7L212 496M214.8 475.7L205.9 491.7M209.1 472.6L198.4 489.3M203.5 469.3L193.6 486.7M196.2 464.8L184.8 478.5M188.9 460L183.3 474.1M182 454.9L170.6 474.5M176 449.9L164.7 466.2M170.4 444.9L159.4 458.5M164.5 439L153 452.1M158.6 432.5L146.9 442.2M153 425.8L141.3 438.8M147.4 418.8L135.8 431.1M142.7 412.6L128.7 427.7M138.3 406.6L121.9 413.1M133.9 400.1L117.3 414.3M130 393.8L110.5 399.1M126.3 386.9L112.9 397.1M122.9 379.6L106.8 383.3M119.8 371.1L105.1 378.6M117.3 362.5L97.3 365.2M115.7 355.2L100.8 361.1M114.1 346.4L97.8 351.5M113 338.7L95.2 342.9M111.9 329.5L97 335.9M110.9 320.2L89.3 315.9M110.2 312.4L88 307.9M109.7 305.3L89.1 301.4M109.5 296.8L90.4 298.2M109.6 289.3L93 292M110.2 281.1L93.7 276M111 274.6L89.6 268.7M112.6 265.4L92.5 256.1M114.4 257.4L100.4 251.7M116.2 250.7L100 244.3M118.4 243L103.1 233M121 235L103.8 230.9M124.1 226.4L108.4 216.1M127 219.5L112.3 211.8M130.9 211.4L118 201.2M135.5 203.3L119.6 188.9M139.1 198L125 183.7M143 192.8L127.9 184.7M148.3 186.6L133.6 175.6M154.5 180.3L141 173.6M159.4 175.6L145.4 167.9M166.5 169.2L148 157.6M172.5 164L159.5 152.3M178.2 159.2L166.1 143.1M184.1 154.4L172.8 142.4M189.4 150.3L180.1 133.2M195.6 145.8L184.8 134.4M201.9 141.6L194.5 123.2M208.4 137.7L199.4 118.3M215.3 134.2L207.3 118.1M223.2 130.7L217.7 113.2M230.5 127.9L224.7 112M238.7 125.2L233.1 110.7M246.2 123.1L245.2 101.1M253.5 121.2L251.6 99.1M260.5 119.6L252.9 102.5M269.4 117.9L270.4 97.7M278.2 116.7L278.5 96.4M286.3 116.1L286 100.2M292.7 115.9L294.6 99.9M299.3 116.1L295.7 100.8M308.4 117L304.8 100.9M317.4 118.3L321.9 103M325.8 119.9L334.1 99.9M333.8 121.7L332.2 100.4M342.5 123.6L349 105.7M349 125.2L359.2 106.8M355.4 126.7L361.2 110.1M364.2 129L367.1 112.3M371.1 131.1L381.2 113.9M378.4 133.6L384.9 116.9M385.3 136.5L389.6 118.7M392.5 140L402.7 119.6M400.1 144.3L410.2 131.5M407.5 149.1L419.2 132.4M413.9 153.7L429.3 140.7M419.4 157.9L430.9 147.2M426.6 163.8L438.9 149.2M433.1 169.6L443 156.4M438.2 174.4L451 159.5M443.2 179.5L461.5 170.3M448 185L463.4 171.3M453.6 192.2L467.8 178.6M457.5 198.1L470 189.4M461.5 204.6L474.7 194.9M465 211.1L481 197.2M469.2 219.7L486.5 212.1M472.5 226.8L493.5 221.6M475.8 234.3L494 229.5M479.3 242.7L497.1 239M482.8 251.5L499.8 243.6M485.2 258.3L505.7 255.2M488 267.4L508.5 260M489.6 274.2L505.7 268.5M491 282.7L512.7 285M491.7 289.9L513.2 285.9M491.9 297.6L512 292M491.7 304.3L513.3 301.7M490.8 311.7L510.3 314.3M489.1 318L506.8 318.6M486.1 325.7L502.5 328.3M481.3 334.5L499.1 337.8M477.3 340.6L493.8 345.5M473 346.5L492.8 356.4M468.6 352.2L490.6 356.7M462.5 359.6L483.1 363.9M456.9 366.6L474.2 377.1M452.7 372.6L469.1 385.8M448.4 380.1L467 384.9M444.1 386.9L458.4 397.5M439.4 394.1L457.4 401.5M434.6 401.1L452.7 409.6M429.1 408.6L447.2 417.7M423.2 416L436.2 425.6M417.3 422.4L430.8 436.8M411 428.1L424.8 440.6" stroke="#231a5c" stroke-width="7.6" stroke-linecap="round"/>
<path d="M489.4 393.6L497 397.3M486.6 401.5L495.1 406.6M480.5 406.8L486.3 411.7M476.6 414.2L482.3 420.4M475.6 420.4L484.7 426.2M467.8 426.6L474 431.9M462.8 435.7L469.4 442.6M455.9 441.2L460.9 447.1M452.9 445.6L460.6 449.7M444.4 455.4L450.1 462.9M436.6 462.9L441.5 472.1M432.6 466.3L439.6 474.4M426 470.4L434.3 477.5M414.4 474.4L417.2 482.3M410.9 477.8L417.1 485.6M402.5 480.7L407.6 488.2M392.2 486.1L394.7 495.6M384.4 490.7L387.1 501.6M378.4 491.6L383.9 500.2M365.5 497.2L366.8 508.5M360.9 497.4L365.5 506.7M351 499.3L354.6 508.4M340.4 502.2L339.7 513.1M336.8 502.7L339.3 513.1M327.5 501.7L327.5 510.4M318.7 501.5L319 509.2M313.6 504.6L315.2 514.9M302.9 506.4L303 517.8M294.9 504.1L296.6 512.6M285.5 503.3L286.2 510.9M277.8 505.5L278.5 515.4M270 506.1L269.5 517.1M259.7 504.9L258.2 515.9M250.5 501.3L247.5 510.4M242.2 499L238.9 508.1M234.1 495.7L231.3 504.8M226.7 491.2L224.4 499.3M216.2 487.3L212 496M210.3 483.7L205.9 491.7M203.8 481L198.4 489.3M198.6 478L193.6 486.7M190.5 471.7L184.8 478.5M186.1 467L183.3 474.1M176.3 464.7L170.6 474.5M170.3 458L164.7 466.2M164.9 451.7L159.4 458.5M158.8 445.5L153 452.1M152.7 437.3L146.9 442.2M147.1 432.3L141.3 438.8M141.6 424.9L135.8 431.1M135.7 420.1L128.7 427.7M130.1 409.8L121.9 413.1M125.6 407.2L117.3 414.3M120.3 396.4L110.5 399.1M119.6 392L112.9 397.1M114.9 381.4L106.8 383.3M112.4 374.8L105.1 378.6M107.3 363.8L97.3 365.2M108.2 358.2L100.8 361.1M105.9 349L97.8 351.5M104.1 340.8L95.2 342.9M104.4 332.7L97 335.9M100.1 318.1L89.3 315.9M99.1 310.2L88 307.9M99.4 303.4L89.1 301.4M99.9 297.5L90.4 298.2M101.3 290.7L93 292M101.9 278.5L93.7 276M100.3 271.7L89.6 268.7M102.5 260.8L92.5 256.1M107.4 254.5L100.4 251.7M108.1 247.5L100 244.3M110.7 238L103.1 233M112.4 233L103.8 230.9M116.2 221.3L108.4 216.1M119.6 215.7L112.3 211.8M124.5 206.3L118 201.2M127.6 196.1L119.6 188.9M132 190.9L125 183.7M135.5 188.7L127.9 184.7M141 181.1L133.6 175.6M147.7 176.9L141 173.6M152.4 171.7L145.4 167.9M157.2 163.4L148 157.6M166 158.2L159.5 152.3M172.2 151.1L166.1 143.1M178.4 148.4L172.8 142.4M184.8 141.7L180.1 133.2M190.2 140.1L184.8 134.4M198.2 132.4L194.5 123.2M203.9 128L199.4 118.3M211.3 126.1L207.3 118.1M220.4 121.9L217.7 113.2M227.6 120L224.7 112M235.9 118L233.1 110.7M245.7 112.1L245.2 101.1M252.5 110.2L251.6 99.1M256.7 111.1L252.9 102.5M269.9 107.8L270.4 97.7M278.3 106.5L278.5 96.4M286.1 108.2L286 100.2M293.7 107.9L294.6 99.9M297.5 108.5L295.7 100.8M306.6 108.9L304.8 100.9M319.6 110.7L321.9 103M329.9 109.9L334.1 99.9M333 111L332.2 100.4M345.7 114.7L349 105.7M354.1 116L359.2 106.8M358.3 118.4L361.2 110.1M365.6 120.7L367.1 112.3M376.1 122.5L381.2 113.9M381.6 125.3L384.9 116.9M387.5 127.6L389.6 118.7M397.6 129.8L402.7 119.6M405.1 137.9L410.2 131.5M413.4 140.8L419.2 132.4M421.6 147.2L429.3 140.7M425.1 152.6L430.9 147.2M432.7 156.5L438.9 149.2M438.1 163L443 156.4M444.6 167L451 159.5M452.3 174.9L461.5 170.3M455.7 178.2L463.4 171.3M460.7 185.4L467.8 178.6M463.8 193.8L470 189.4M468.1 199.7L474.7 194.9M473 204.2L481 197.2M477.8 215.9L486.5 212.1M483 224.2L493.5 221.6M484.9 231.9L494 229.5M488.2 240.9L497.1 239M491.3 247.6L499.8 243.6M495.5 256.7L505.7 255.2M498.3 263.7L508.5 260M497.6 271.4L505.7 268.5M501.9 283.9L512.7 285M502.4 287.9L513.2 285.9M501.9 294.8L512 292M502.5 303L513.3 301.7M500.6 313L510.3 314.3M498 318.3L506.8 318.6M494.3 327L502.5 328.3M490.2 336.1L499.1 337.8M485.6 343L493.8 345.5M482.9 351.4L492.8 356.4M479.6 354.5L490.6 356.7M472.8 361.7L483.1 363.9M465.6 371.8L474.2 377.1M460.9 379.2L469.1 385.8M457.7 382.5L467 384.9M451.3 392.2L458.4 397.5M448.4 397.8L457.4 401.5M443.7 405.4L452.7 409.6M438.2 413.2L447.2 417.7M429.7 420.8L436.2 425.6M424.1 429.6L430.8 436.8M417.9 434.3L424.8 440.6" stroke="#4a60de" stroke-width="6.4" stroke-linecap="round"/>
<path d="M481.8 389.8L493.7 395.7M478.1 396.4L491.4 404.4M474.7 402L483.8 409.5M470.8 408L479.8 417.7M466.4 414.6L480.7 423.7M461.6 421.4L471.3 429.6M456.1 428.7L466.5 439.5M450.8 435.4L458.7 444.5M445.3 441.5L457.2 447.9M438.8 447.9L447.6 459.6M431.7 453.8L439.3 468M425.5 458.3L436.5 470.8M417.6 463.2L430.7 474.4M411.6 466.5L416 478.8M404.6 470L414.4 482.2M397.3 473.3L405.4 484.9M389.7 476.6L393.6 491.4M381.8 479.8L385.9 496.8M372.8 483.1L381.5 496.4M364.2 485.9L366.2 503.5M356.3 488.1L363.4 502.6M347.5 490.1L353 504.4M341 491.3L340 508.3M334.4 492.3L338.2 508.5M327.6 493L327.5 506.6M318.4 493.9L318.8 505.8M311.9 494.4L314.5 510.3M302.8 495L303 512.8M293.2 495.5L295.9 508.9M284.8 495.7L285.9 507.6M277.1 495.6L278.2 511.1M270.6 495.1L269.7 512.2M261.2 493.9L258.9 511M253.5 492.2L248.8 506.4M245.6 489.9L240.4 504.1M236.8 486.6L232.5 500.8M228.9 483L225.4 495.7M220.4 478.7L213.8 492.2M214.8 475.7L207.8 488.2M209.1 472.6L200.8 485.7M203.5 469.3L195.8 482.9M196.2 464.8L187.3 475.5M188.9 460L184.5 471M182 454.9L173.1 470.2M176 449.9L167.2 462.6M170.4 444.9L161.8 455.5M164.5 439L155.6 449.2M158.6 432.5L149.5 440.1M153 425.8L143.9 436M147.4 418.8L138.3 428.4M142.7 412.6L131.7 424.4M138.3 406.6L125.5 411.6M133.9 400.1L121 411.2M130 393.8L114.8 397.9M126.3 386.9L115.9 394.8M122.9 379.6L110.4 382.5M119.8 371.1L108.3 377M117.3 362.5L101.7 364.6M115.7 355.2L104.1 359.8M114.1 346.4L101.4 350.4M113 338.7L99.1 342M111.9 329.5L100.3 334.5M110.9 320.2L94 316.9M110.2 312.4L92.9 308.9M109.7 305.3L93.7 302.3M109.5 296.8L94.6 297.9M109.6 289.3L96.7 291.4M110.2 281.1L97.3 277.1M111 274.6L94.3 270M112.6 265.4L96.9 258.2M114.4 257.4L103.5 252.9M116.2 250.7L103.6 245.7M118.4 243L106.4 235.2M121 235L107.5 231.8M124.1 226.4L111.8 218.4M127 219.5L115.5 213.5M130.9 211.4L120.9 203.4M135.5 203.3L123.1 192.1M139.1 198L128.1 186.9M143 192.8L131.2 186.4M148.3 186.6L136.9 178M154.5 180.3L144 175.1M159.4 175.6L148.5 169.6M166.5 169.2L152 160.2M172.5 164L162.3 154.9M178.2 159.2L168.7 146.6M184.1 154.4L175.3 145M189.4 150.3L182.2 136.9M195.6 145.8L187.2 136.9M201.9 141.6L196.1 127.2M208.4 137.7L201.4 122.6M215.3 134.2L209.1 121.6M223.2 130.7L218.9 117M230.5 127.9L226 115.5M238.7 125.2L234.3 113.9M246.2 123.1L245.4 105.9M253.5 121.2L252 104M260.5 119.6L254.6 106.3M269.4 117.9L270.2 102.1M278.2 116.7L278.4 100.8M286.3 116.1L286 103.7M292.7 115.9L294.2 103.4M299.3 116.1L296.5 104.2M308.4 117L305.6 104.5M317.4 118.3L320.9 106.4M325.8 119.9L332.2 104.3M333.8 121.7L332.6 105M342.5 123.6L347.6 109.6M349 125.2L357 110.9M355.4 126.7L360 113.8M364.2 129L366.4 116M371.1 131.1L379 117.7M378.4 133.6L383.4 120.6M385.3 136.5L388.7 122.6M392.5 140L400.4 124.1M400.1 144.3L408 134.3M407.5 149.1L416.7 136.1M413.9 153.7L425.9 143.6M419.4 157.9L428.4 149.5M426.6 163.8L436.2 152.4M433.1 169.6L440.8 159.3M438.2 174.4L448.2 162.8M443.2 179.5L457.5 172.3M448 185L460 174.3M453.6 192.2L464.7 181.6M457.5 198.1L467.3 191.3M461.5 204.6L471.8 197M465 211.1L477.5 200.3M469.2 219.7L482.7 213.8M472.5 226.8L488.9 222.7M475.8 234.3L490 230.6M479.3 242.7L493.2 239.9M482.8 251.5L496.1 245.4M485.2 258.3L501.2 255.9M488 267.4L504 261.7M489.6 274.2L502.1 269.8M491 282.7L507.9 284.5M491.7 289.9L508.5 286.7M491.9 297.6L507.6 293.2M491.7 304.3L508.5 302.2M490.8 311.7L506 313.8M489.1 318L502.9 318.5M486.1 325.7L498.9 327.7M481.3 334.5L495.2 337.1M477.3 340.6L490.2 344.4M473 346.5L488.5 354.2M468.6 352.2L485.8 355.7M462.5 359.6L478.6 363M456.9 366.6L470.4 374.8M452.7 372.6L465.5 382.9M448.4 380.1L462.9 383.8M444.1 386.9L455.3 395.2M439.4 394.1L453.5 399.9M434.6 401.1L448.7 407.8M429.1 408.6L443.2 415.7M423.2 416L433.3 423.5M417.3 422.4L427.8 433.6M411 428.1L421.8 437.8" stroke="#dca048" stroke-width="3.4" stroke-linecap="round"/>
<path d="M406.3 431.6L420.4 441.2M400.1 435.7L413.5 445.1M393.7 439.3L402.8 460.7M386.2 443L394.8 457.7M379.8 445.9L391.6 457.6M373.6 448.6L379.3 471.2M365.7 451.8L378.8 469.7M359.1 454.3L363.5 474.4M350.8 457L363.9 475.7M343.1 459L348.7 479.3M336.6 460.3L346.1 477.1M327.8 461.7L331 484.3M320.8 462.5L322.6 485.6M312 463.2L313.6 485.8M304.7 463.8L306.2 484.1M298.1 464.3L294 481.6M291.8 464.6L289.6 479.9M284.8 464.7L283.3 484.4M277.6 464.3L279.4 488.2M270.3 463.3L265.7 479.5M263.6 461.8L256.5 478.6M256.8 459.6L246.3 476.6M250.9 457.1L249 472.5M243.4 453.2L239.6 473.4M237.2 449.6L231 465M231.9 446.2L217.8 462.1M224.4 441.1L208.5 455.7M219.4 437.5L205.9 448.8M212.6 432.3L197.9 443.8M206.5 427.1L195.6 446.6M201.7 422.4L193.6 439.6M196.8 417L182.9 436.2M192.9 412.2L184.8 425.3M187.8 405.3L176.1 419.4M184.2 400L166.6 416.1M180.5 394.3L171.5 407M177 388.7L162.9 404.4M173.7 383.3L159.3 396.3M169.3 375.3L155 382.6M165.8 367.5L147.2 369.3M163.3 360.4L147.8 367.8M161.7 354.3L145.3 363.6M160.1 345.5L138.6 351.8M159.4 339.3L143.7 346.3M158.9 332.5L141.8 331.4M158.4 325.9L143.1 323.6M157.8 318.1L134.1 321.8M157 309.2L136.4 305.5M156.5 300.7L137.6 305.6M156.3 293.9L134.9 285.9M156.7 284.9L139.3 280.4M157.7 276.3L138.7 267.9M159 268.6L139.7 260.8M160.5 261.8L141.5 248.3M161.9 255.5L143.2 240.9M163.9 247.5L152 237.9M165.8 241.2L145.7 228.6M167.9 235.2L154.1 226.1M171.1 227.9L156.6 211.8M174.4 221.9L164.8 210.3M177.7 216.7L156.3 208.7M183 209.9L170.1 192.1M188.2 204.1L168.4 192.6M193.9 198.2L185.1 182.5M199.9 192.2L187.4 177.6M204.3 187.8L195.4 175.3M209.9 182.5L197.8 163.2M214.8 178.1L207.6 161.3M220.8 173.2L216.3 158.8M228 168.3L221.1 154.1M234.4 164.6L222.5 146M240.5 161.7L239.2 142.4M246.5 159.3L242.2 143.8M254.8 156.3L248.2 137.8M263.1 153.7L251.8 134.9M271.7 151.6L266.4 135.7M280.2 150L281.7 131.2M286.8 149.2L279.8 127.4M293.4 148.9L290.4 129.7M301.1 149.3L304.7 126.4M307.2 150L308.6 132.2M314.7 151.3L316.5 129.9M321 152.6L327.3 136.7M328 154.3L338.9 135.3M335.8 156.2L342.3 136.1M342.7 157.9L348.6 135.4M351.3 160.1L361.3 145.4M359.5 162.6L366.7 143.3M365.7 164.8L373 144.2M373.1 168.2L376.3 152.3M378.9 171.3L385.6 150.1M386.3 176.2L397.3 161.5M392.1 180.4L399.2 161.1M397.8 185L408.2 164M404 190.3L414.1 175.5M408.5 194.5L422 187.5M414.7 200.6L433.9 189.5M420.6 207.4L433.9 197.9M425.1 213.6L444.2 207.1M429.5 220.8L445.3 203M433.3 228L453 220.7M436.6 235.2L455 222.4M440.1 243.5L457.7 237.2M443.5 251.7L462.4 241.6M446.1 258L463.6 254M449.4 266.6L471.3 259.3M451.6 273.6L472.6 265.9M453.3 280.8L467.4 275.3M454.5 288.5L475.7 288M454.9 295.7L478.5 296.4M454.8 302.3L469.7 307.1M454.1 311.4L477.2 314.1M453 318.4L468.8 317.1M451.6 325.1L473 334.3M449.3 333.3L465.7 333.4M447 340L470.6 340M443.6 347.9L463.7 354.6M439.1 355.9L455.3 362.1M435.3 361.5L451.1 362.6M430.7 367.2L446.7 369.4M424.4 374.2L436.9 386.5M418.5 380.3L435.4 393.7M412 386.8L428.3 402.9M406.3 392.3L420.4 408.1M400.3 397.4L417.4 406.8M393.1 402.6L410 412M387.2 405.9L404.8 420.5M380.2 409L388.5 428.4M373.2 411.5L384.4 426.1M366.9 413.3L384.7 427.7M357.8 415.6L368.6 427.9M349.1 417.8L361.7 436.3M341.3 419.5L345 438.4M334.6 420.7L333.3 443M326.1 421.6L324.2 444.8M318.7 422L317 444.6M310.7 422.4L310.8 438.3M301.6 423L300 440.7M292.5 423.8L297.7 443.5M284.2 423.9L277.8 439.9M276 422.9L267.8 438.7M268.1 420.7L259.4 436.5M259.9 416.9L246.7 435.8M252.7 412.6L242.8 431.5M246.2 408.3L237.3 430.5M240.8 404.6L229.9 423M234.4 399.8L225.9 418.4M229.1 395.4L217.3 405.6M222.7 389L213 407.9M216.9 381.7L200.4 396.8M213.3 376.5L194.7 389.4M208.7 369.7L195.1 376.4M205.2 364.4L191.9 378.4M201.4 358.1L179.6 365.3M197.6 350.1L182.1 358.5M195.3 342.3L181.2 348.3M194 333L172.2 333.1M193.5 325.8L172.3 325.6M192.9 317.3L175 323.6M192.3 311L170 305.4M191.6 303.8L169.8 305M191.3 295.5L168.7 296.4M191.7 287.3L174.6 284.3M192.6 280.9L175.3 279.7M194.3 271.9L180 264.4M195.8 265.5L172.1 262.4M197.4 259L184.7 247.8M200.1 251L179.8 240M202.8 244.9L187.2 235.9M208 237.1L193.2 229.8M213.9 230.5L205.8 216.6M219 225.4L206.3 209.8M225.5 219.1L218.4 205.2M230.4 214.3L212.6 202.5M236.9 208.4L225.2 196.7M242 204.5L231.2 190.1M249.9 199.6L239.5 182M258.5 195.8L249.7 181.8M267.2 192.9L263.6 169.6M276.2 190.4L277.4 174.9M284.5 188.7L286.7 167.8M291 188L285.5 172.1M298.7 188.1L299.1 168.1M306 189L312.2 168.2M314.5 190.9L312.7 175.7M321.2 192.6L325.2 175.9M327.9 194.1L330.7 173.7M335.1 195.7L347.6 178.3M341.9 197.2L353.7 183.4M348.6 199.2L351.8 184.3M356.8 202.5L372.5 187.7M363.6 206.4L370.1 192.5M370.6 211.2L377.7 194.1M376.4 215.7L387.4 200M382.3 220.6L389.3 206M388.6 226.6L404 211.4M393 231.5L407.3 221.2M398.2 238.9L416.9 233.9M402 245.8L417 238.7M405.4 253.2L424.9 247.2M407.9 258.9L426.5 255.3M410.7 265L423.7 256.8M413.6 271.6L430.9 264M416.7 279.3L432.3 274.1M418.9 287.4L438.5 290.9M419.9 296.5L436.9 293.3M419.8 304.4L439.6 302.4M418.6 313.2L435.3 314.1M417.1 319.7L439.7 324.1M414.4 328.7L429.7 334.3M411.3 336.2L424.9 343.5M406.6 344L419 353.7M400.9 351L419.3 360M395.8 356.3L409.6 363.4M389 362.6L403.4 371.5M383.7 367.6L395.8 385M376.8 373.7L390.6 384.6M371.7 377.4L381.7 394.4M363.4 381.6L374 393.1M356.9 383.7L363.1 401.4M349.4 385.4L354.6 407.4M340.3 387.1L343 403.7M331 388.9L346.4 407.3M324.6 389.8L329.3 406.8M316.8 390.3L318.3 406.1M308.2 390.5L310 411.1M300 391.2L306.4 411.4M292.1 392L295.1 407.9M283.1 391.5L281.7 409.4M276.2 389.3L276 409.5M268.9 384.8L258.9 396.8M263.3 380.4L253.1 399.8M257.2 375.4L249.5 391.3M250.6 369.3L238.2 384.7M245.9 363.7L235.8 381.6M241.6 356.7L225.6 370.1M237.5 349.4L224 364.2M232.9 340.9L212.9 347.9M229.8 331.8L212.9 340.6M229.4 324.1L213 331.1M229.6 316.4L213 319.3M229.2 308.9L210.9 307.8M228.3 301.2L206.3 295.3M228.1 293.4L205.6 294.9M228.7 286.5L204.8 288.2M229.6 279.8L206.8 279.9M230.9 270.8L211.6 265.5M233.1 263.5L212.1 252.6M236.9 257.2L223.8 243.5M241.7 251.6L232.5 238.8M246.4 246.6L232.7 239.5M252.9 239.1L244.6 222.1M259 233L245 213.8M265.3 228.7L250.5 213.6M272.3 225.5L266.2 204.5M279.9 222.8L273.3 200.3M288.4 220.5L280.8 203.7M296.1 219.9L289.9 204.1M303.4 220.8L303.6 204.7M312 223.3L320.7 203.3M319.1 225.5L329.3 207.2M326.7 227.4L327.9 204.2M335.8 230.2L351.9 213.9M343.7 234.7L354.2 216.1M350.4 240.4L365.4 223.1M356.5 246.3L370 227.3M361.5 251.9L375.3 245.3M366.1 259.1L380.9 244.2M368.7 265.7L387.4 260.9M371.1 273L387.8 264.4M374.5 281.7L390.6 280.9M377 287.8L398.3 287.1M378.9 295.7L399.8 289.9M378.9 302.6L396.8 299.1M377.5 311.3L397.2 315.2M374.6 320.6L394.8 329.3M370 329.2L390.5 340.5M364.6 335.2L380.6 346.5M357.3 341.4L374.5 356.9M350.9 347.5L363.2 359.7M345.1 352L362.5 363.5" stroke="#231a5c" stroke-width="8" stroke-linecap="round"/>
<path d="M417.6 439.3L420.4 441.2M410.9 443.2L413.5 445.1M401 456.4L402.8 460.7M393.1 454.7L394.8 457.7M389.2 455.2L391.6 457.6M378.1 466.7L379.3 471.2M376.2 466.1L378.8 469.7M362.6 470.4L363.5 474.4M361.3 472L363.9 475.7M347.6 475.2L348.7 479.3M344.2 473.7L346.1 477.1M330.3 479.7L331 484.3M322.3 481L322.6 485.6M313.3 481.3L313.6 485.8M305.9 480.1L306.2 484.1M294.8 478.1L294 481.6M290.1 476.8L289.6 479.9M283.6 480.5L283.3 484.4M279 483.4L279.4 488.2M266.6 476.3L265.7 479.5M257.9 475.2L256.5 478.6M248.4 473.2L246.3 476.6M249.4 469.5L249 472.5M240.4 469.4L239.6 473.4M232.2 461.9L231 465M220.6 458.9L217.8 462.1M211.7 452.8L208.5 455.7M208.6 446.5L205.9 448.8M200.8 441.5L197.9 443.8M197.8 442.7L195.6 446.6M195.2 436.2L193.6 439.6M185.7 432.4L182.9 436.2M186.4 422.7L184.8 425.3M178.5 416.6L176.1 419.4M170.1 412.9L166.6 416.1M173.3 404.4L171.5 407M165.7 401.3L162.9 404.4M162.2 393.7L159.3 396.3M157.8 381.1L155 382.6M150.9 369L147.2 369.3M150.9 366.3L147.8 367.8M148.6 361.7L145.3 363.6M142.9 350.5L138.6 351.8M146.8 344.9L143.7 346.3M145.2 331.6L141.8 331.4M146.2 324L143.1 323.6M138.9 321.1L134.1 321.8M140.6 306.3L136.4 305.5M141.4 304.6L137.6 305.6M139.2 287.5L134.9 285.9M142.8 281.3L139.3 280.4M142.5 269.6L138.7 267.9M143.5 262.4L139.7 260.8M145.3 251L141.5 248.3M147 243.8L143.2 240.9M154.3 239.8L152 237.9M149.7 231.1L145.7 228.6M156.9 227.9L154.1 226.1M159.5 215L156.6 211.8M166.7 212.6L164.8 210.3M160.6 210.3L156.3 208.7M172.7 195.6L170.1 192.1M172.4 194.9L168.4 192.6M186.9 185.7L185.1 182.5M189.9 180.5L187.4 177.6M197.2 177.8L195.4 175.3M200.2 167L197.8 163.2M209 164.6L207.6 161.3M217.2 161.6L216.3 158.8M222.5 156.9L221.1 154.1M224.8 149.8L222.5 146M239.5 146.2L239.2 142.4M243.1 146.9L242.2 143.8M249.5 141.5L248.2 137.8M254.1 138.7L251.8 134.9M267.5 138.8L266.4 135.7M281.4 135L281.7 131.2M281.2 131.8L279.8 127.4M291 133.6L290.4 129.7M304 131L304.7 126.4M308.3 135.8L308.6 132.2M316.2 134.2L316.5 129.9M326 139.9L327.3 136.7M336.7 139.1L338.9 135.3M341 140.1L342.3 136.1M347.4 139.9L348.6 135.4M359.3 148.4L361.3 145.4M365.2 147.2L366.7 143.3M371.6 148.3L373 144.2M375.7 155.5L376.3 152.3M384.3 154.4L385.6 150.1M395.1 164.4L397.3 161.5M397.8 165L399.2 161.1M406.2 168.2L408.2 164M412.1 178.4L414.1 175.5M419.3 188.9L422 187.5M430 191.7L433.9 189.5M431.3 199.8L433.9 197.9M440.4 208.4L444.2 207.1M442.1 206.6L445.3 203M449.1 222.1L453 220.7M451.3 224.9L455 222.4M454.2 238.4L457.7 237.2M458.6 243.6L462.4 241.6M460.1 254.8L463.6 254M466.9 260.8L471.3 259.3M468.4 267.4L472.6 265.9M464.6 276.4L467.4 275.3M471.5 288.1L475.7 288M473.8 296.2L478.5 296.4M466.7 306.2L469.7 307.1M472.6 313.6L477.2 314.1M465.6 317.4L468.8 317.1M468.7 332.5L473 334.3M462.4 333.4L465.7 333.4M465.9 340L470.6 340M459.6 353.3L463.7 354.6M452.1 360.9L455.3 362.1M447.9 362.3L451.1 362.6M443.5 368.9L446.7 369.4M434.4 384.1L436.9 386.5M432 391L435.4 393.7M425 399.7L428.3 402.9M417.6 404.9L420.4 408.1M414 405L417.4 406.8M406.6 410.1L410 412M401.3 417.6L404.8 420.5M386.9 424.6L388.5 428.4M382.2 423.2L384.4 426.1M381.1 424.8L384.7 427.7M366.5 425.5L368.6 427.9M359.2 432.6L361.7 436.3M344.3 434.6L345 438.4M333.5 438.6L333.3 443M324.6 440.2L324.2 444.8M317.4 440.1L317 444.6M310.7 435.2L310.8 438.3M300.3 437.2L300 440.7M296.7 439.6L297.7 443.5M279.1 436.7L277.8 439.9M269.4 435.6L267.8 438.7M261.1 433.4L259.4 436.5M249.3 432L246.7 435.8M244.8 427.7L242.8 431.5M239.1 426L237.3 430.5M232.1 419.3L229.9 423M227.6 414.7L225.9 418.4M219.6 403.6L217.3 405.6M214.9 404.1L213 407.9M203.7 393.8L200.4 396.8M198.4 386.8L194.7 389.4M197.8 375.1L195.1 376.4M194.6 375.6L191.9 378.4M183.9 363.9L179.6 365.3M185.2 356.8L182.1 358.5M184.1 347.1L181.2 348.3M176.6 333.1L172.2 333.1M176.5 325.6L172.3 325.6M178.6 322.4L175 323.6M174.5 306.5L170 305.4M174.2 304.8L169.8 305M173.2 296.2L168.7 296.4M178.1 284.9L174.6 284.3M178.7 279.9L175.3 279.7M182.9 265.9L180 264.4M176.8 263L172.1 262.4M187.3 250.1L184.7 247.8M183.8 242.2L179.8 240M190.3 237.7L187.2 235.9M196.1 231.3L193.2 229.8M207.4 219.4L205.8 216.6M208.8 213L206.3 209.8M219.8 208L218.4 205.2M216.1 204.8L212.6 202.5M227.5 199L225.2 196.7M233.4 193L231.2 190.1M241.6 185.5L239.5 182M251.4 184.6L249.7 181.8M264.3 174.3L263.6 169.6M277.1 178L277.4 174.9M286.2 172L286.7 167.8M286.6 175.3L285.5 172.1M299 172.1L299.1 168.1M311 172.4L312.2 168.2M313 178.7L312.7 175.7M324.4 179.3L325.2 175.9M330.1 177.8L330.7 173.7M345.1 181.8L347.6 178.3M351.3 186.2L353.7 183.4M351.2 187.2L351.8 184.3M369.3 190.7L372.5 187.7M368.8 195.2L370.1 192.5M376.2 197.5L377.7 194.1M385.2 203.2L387.4 200M387.9 208.9L389.3 206M400.9 214.5L404 211.4M404.5 223.2L407.3 221.2M413.2 234.9L416.9 233.9M414 240.1L417 238.7M421 248.4L424.9 247.2M422.8 256L426.5 255.3M421.1 258.4L423.7 256.8M427.5 265.5L430.9 264M429.2 275.1L432.3 274.1M434.6 290.2L438.5 290.9M433.5 293.9L436.9 293.3M435.6 302.8L439.6 302.4M432 313.9L435.3 314.1M435.2 323.2L439.7 324.1M426.7 333.1L429.7 334.3M422.1 342.1L424.9 343.5M416.5 351.7L419 353.7M415.6 358.2L419.3 360M406.8 361.9L409.6 363.4M400.5 369.7L403.4 371.5M393.4 381.5L395.8 385M387.9 382.4L390.6 384.6M379.7 391L381.7 394.4M371.9 390.8L374 393.1M361.8 397.9L363.1 401.4M353.6 403L354.6 407.4M342.5 400.4L343 403.7M343.3 403.6L346.4 407.3M328.3 403.4L329.3 406.8M318 402.9L318.3 406.1M309.6 406.9L310 411.1M305.1 407.4L306.4 411.4M294.5 404.8L295.1 407.9M282 405.8L281.7 409.4M276.1 405.5L276 409.5M260.9 394.4L258.9 396.8M255.1 395.9L253.1 399.8M251.1 388.1L249.5 391.3M240.7 381.6L238.2 384.7M237.8 378L235.8 381.6M228.8 367.4L225.6 370.1M226.7 361.3L224 364.2M216.9 346.5L212.9 347.9M216.3 338.9L212.9 340.6M216.3 329.7L213 331.1M216.3 318.7L213 319.3M214.6 308L210.9 307.8M210.7 296.5L206.3 295.3M210.1 294.6L205.6 294.9M209.6 287.8L204.8 288.2M211.3 279.8L206.8 279.9M215.5 266.6L211.6 265.5M216.3 254.8L212.1 252.6M226.4 246.2L223.8 243.5M234.3 241.4L232.5 238.8M235.4 240.9L232.7 239.5M246.3 225.5L244.6 222.1M247.8 217.6L245 213.8M253.5 216.6L250.5 213.6M267.4 208.7L266.2 204.5M274.6 204.8L273.3 200.3M282.3 207L280.8 203.7M291.1 207.3L289.9 204.1M303.5 207.9L303.6 204.7M319 207.3L320.7 203.3M327.3 210.8L329.3 207.2M327.7 208.9L327.9 204.2M348.7 217.2L351.9 213.9M352.1 219.8L354.2 216.1M362.4 226.6L365.4 223.1M367.3 231.1L370 227.3M372.6 246.6L375.3 245.3M377.9 247.1L380.9 244.2M383.7 261.8L387.4 260.9M384.4 266.1L387.8 264.4M387.4 281L390.6 280.9M394 287.2L398.3 287.1M395.6 291L399.8 289.9M393.3 299.8L396.8 299.1M393.3 314.4L397.2 315.2M390.7 327.6L394.8 329.3M386.4 338.2L390.5 340.5M377.4 344.2L380.6 346.5M371.1 353.8L374.5 356.9M360.7 357.3L363.2 359.7M359 361.2L362.5 363.5" stroke="#4a60de" stroke-width="5" stroke-linecap="round"/>
<path d="M406.3 431.6L415.6 438M400.1 435.7L409 441.9M393.7 439.3L399.7 453.4M386.2 443L391.9 452.7M379.8 445.9L387.6 453.6M373.6 448.6L377.3 463.5M365.7 451.8L374.4 463.6M359.1 454.3L362 467.6M350.8 457L359.5 469.3M343.1 459L346.8 472.4M336.6 460.3L342.9 471.4M327.8 461.7L329.9 476.6M320.8 462.5L322 477.7M312 463.2L313.1 478.1M304.7 463.8L305.7 477.2M298.1 464.3L295.4 475.7M291.8 464.6L290.4 474.7M284.8 464.7L283.8 477.7M277.6 464.3L278.8 480.1M270.3 463.3L267.3 474M263.6 461.8L258.9 472.9M256.8 459.6L249.9 470.8M250.9 457.1L249.6 467.3M243.4 453.2L240.9 466.5M237.2 449.6L233.1 459.7M231.9 446.2L222.6 456.7M224.4 441.1L213.9 450.7M219.4 437.5L210.5 444.9M212.6 432.3L202.9 439.9M206.5 427.1L199.4 440M201.7 422.4L196.3 433.7M196.8 417L187.6 429.7M192.9 412.2L187.5 420.9M187.8 405.3L180.1 414.6M184.2 400L172.6 410.6M180.5 394.3L174.5 402.7M177 388.7L167.7 399.1M173.7 383.3L164.2 391.9M169.3 375.3L159.8 380.1M165.8 367.5L153.5 368.7M163.3 360.4L153 365.3M161.7 354.3L150.9 360.4M160.1 345.5L145.9 349.7M159.4 339.3L149 343.9M158.9 332.5L147.6 331.7M158.4 325.9L148.3 324.4M157.8 318.1L142.2 320.6M157 309.2L143.4 306.8M156.5 300.7L144 303.9M156.3 293.9L142.2 288.6M156.7 284.9L145.2 281.9M157.7 276.3L145.2 270.7M159 268.6L146.3 263.5M160.5 261.8L147.9 252.9M161.9 255.5L149.6 245.9M163.9 247.5L156 241.1M165.8 241.2L152.6 232.9M167.9 235.2L158.8 229.2M171.1 227.9L161.5 217.2M174.4 221.9L168 214.3M177.7 216.7L163.6 211.5M183 209.9L174.5 198.1M188.2 204.1L175.1 196.5M193.9 198.2L188.1 187.9M199.9 192.2L191.6 182.5M204.3 187.8L198.4 179.6M209.9 182.5L201.9 169.7M214.8 178.1L210 167M220.8 173.2L217.8 163.7M228 168.3L223.4 158.9M234.4 164.6L226.5 152.4M240.5 161.7L239.7 148.9M246.5 159.3L243.7 149M254.8 156.3L250.4 144.1M263.1 153.7L255.7 141.3M271.7 151.6L268.2 141.1M280.2 150L281.2 137.6M286.8 149.2L282.2 134.8M293.4 148.9L291.4 136.2M301.1 149.3L303.5 134.2M307.2 150L308.1 138.3M314.7 151.3L315.9 137.2M321 152.6L325.2 142.1M328 154.3L335.2 141.8M335.8 156.2L340.1 143M342.7 157.9L346.6 143.1M351.3 160.1L357.9 150.4M359.5 162.6L364.2 149.9M365.7 164.8L370.5 151.2M373.1 168.2L375.2 157.7M378.9 171.3L383.3 157.3M386.3 176.2L393.6 166.5M392.1 180.4L396.8 167.7M397.8 185L404.7 171.2M404 190.3L410.6 180.5M408.5 194.5L417.4 189.9M414.7 200.6L427.4 193.3M420.6 207.4L429.4 201.1M425.1 213.6L437.7 209.3M429.5 220.8L439.9 209.1M433.3 228L446.3 223.2M436.6 235.2L448.8 226.7M440.1 243.5L451.7 239.3M443.5 251.7L456 245M446.1 258L457.7 255.4M449.4 266.6L463.8 261.8M451.6 273.6L465.4 268.5M453.3 280.8L462.6 277.2M454.5 288.5L468.5 288.2M454.9 295.7L470.5 296.1M454.8 302.3L464.6 305.5M454.1 311.4L469.4 313.2M453 318.4L463.4 317.6M451.6 325.1L465.7 331.2M449.3 333.3L460.1 333.4M447 340L462.6 340M443.6 347.9L456.8 352.3M439.1 355.9L449.8 360M435.3 361.5L445.7 362.2M430.7 367.2L441.2 368.6M424.4 374.2L432.7 382.3M418.5 380.3L429.7 389.2M412 386.8L422.7 397.4M406.3 392.3L415.6 402.7M400.3 397.4L411.6 403.6M393.1 402.6L404.3 408.8M387.2 405.9L398.8 415.5M380.2 409L385.7 421.8M373.2 411.5L380.6 421.1M366.9 413.3L378.6 422.8M357.8 415.6L364.9 423.7M349.1 417.8L357.4 430M341.3 419.5L343.7 432M334.6 420.7L333.7 435.4M326.1 421.6L324.8 436.9M318.7 422L317.6 436.9M310.7 422.4L310.7 432.9M301.6 423L300.5 434.7M292.5 423.8L296 436.8M284.2 423.9L280 434.5M276 422.9L270.6 433.4M268.1 420.7L262.4 431.2M259.9 416.9L251.2 429.4M252.7 412.6L246.2 425.1M246.2 408.3L240.3 422.9M240.8 404.6L233.6 416.7M234.4 399.8L228.8 412.1M229.1 395.4L221.3 402.2M222.7 389L216.3 401.5M216.9 381.7L206 391.6M213.3 376.5L201.1 385M208.7 369.7L199.7 374.1M205.2 364.4L196.4 373.6M201.4 358.1L187 362.9M197.6 350.1L187.4 355.6M195.3 342.3L186 346.3M194 333L179.6 333.1M193.5 325.8L179.5 325.6M192.9 317.3L181.1 321.5M192.3 311L177.6 307.3M191.6 303.8L177.2 304.6M191.3 295.5L176.4 296.1M191.7 287.3L180.4 285.3M192.6 280.9L181.1 280.1M194.3 271.9L184.9 267M195.8 265.5L180.1 263.5M197.4 259L189 251.6M200.1 251L186.7 243.8M202.8 244.9L192.5 239M208 237.1L198.2 232.3M213.9 230.5L208.5 221.3M219 225.4L210.6 215.1M225.5 219.1L220.8 209.9M230.4 214.3L218.6 206.5M236.9 208.4L229.2 200.7M242 204.5L234.9 195M249.9 199.6L243 188M258.5 195.8L252.7 186.6M267.2 192.9L264.8 177.5M276.2 190.4L277 180.2M284.5 188.7L285.9 174.9M291 188L287.4 177.5M298.7 188.1L298.9 174.9M306 189L310.1 175.3M314.5 190.9L313.3 180.9M321.2 192.6L323.9 181.6M327.9 194.1L329.8 180.7M335.1 195.7L343.4 184.2M341.9 197.2L349.7 188.1M348.6 199.2L350.7 189.3M356.8 202.5L367.1 192.7M363.6 206.4L367.9 197.2M370.6 211.2L375.2 199.9M376.4 215.7L383.6 205.4M382.3 220.6L386.9 211M388.6 226.6L398.8 216.6M393 231.5L402.5 224.7M398.2 238.9L410.5 235.6M402 245.8L411.9 241.1M405.4 253.2L418.2 249.2M407.9 258.9L420.2 256.5M410.7 265L419.3 259.6M413.6 271.6L425.1 266.6M416.7 279.3L427 275.9M418.9 287.4L431.8 289.7M419.9 296.5L431.2 294.4M419.8 304.4L432.8 303.1M418.6 313.2L429.6 313.8M417.1 319.7L432 322.6M414.4 328.7L424.5 332.4M411.3 336.2L420.2 341M406.6 344L414.8 350.4M400.9 351L413 357M395.8 356.3L404.9 361M389 362.6L398.5 368.5M383.7 367.6L391.7 379.1M376.8 373.7L385.9 380.9M371.7 377.4L378.3 388.6M363.4 381.6L370.4 389.2M356.9 383.7L361 395.4M349.4 385.4L352.8 399.9M340.3 387.1L342.1 398.1M331 388.9L341.1 401.1M324.6 389.8L327.7 401M316.8 390.3L317.8 400.7M308.2 390.5L309.4 404.1M300 391.2L304.2 404.5M292.1 392L294 402.5M283.1 391.5L282.2 403.3M276.2 389.3L276.1 402.6M268.9 384.8L262.3 392.7M263.3 380.4L256.6 393.2M257.2 375.4L252.1 385.9M250.6 369.3L242.4 379.5M245.9 363.7L239.2 375.5M241.6 356.7L231.1 365.5M237.5 349.4L228.6 359.2M232.9 340.9L219.7 345.5M229.8 331.8L218.7 337.6M229.4 324.1L218.6 328.7M229.6 316.4L218.7 318.3M229.2 308.9L217.1 308.1M228.3 301.2L213.7 297.3M228.1 293.4L213.2 294.4M228.7 286.5L212.9 287.6M229.6 279.8L214.5 279.8M230.9 270.8L218.2 267.3M233.1 263.5L219.3 256.3M236.9 257.2L228.2 248.2M241.7 251.6L235.6 243.2M246.4 246.6L237.3 241.9M252.9 239.1L247.4 227.9M259 233L249.8 220.3M265.3 228.7L255.6 218.7M272.3 225.5L268.2 211.7M279.9 222.8L275.5 208M288.4 220.5L283.4 209.4M296.1 219.9L292 209.5M303.4 220.8L303.5 210.1M312 223.3L317.7 210.1M319.1 225.5L325.9 213.4M326.7 227.4L327.5 212.1M335.8 230.2L346.4 219.5M343.7 234.7L350.6 222.4M350.4 240.4L360.3 229M356.5 246.3L365.4 233.7M361.5 251.9L370.6 247.5M366.1 259.1L375.9 249.2M368.7 265.7L381.1 262.5M371.1 273L382.1 267.3M374.5 281.7L385.1 281.2M377 287.8L391 287.3M378.9 295.7L392.7 291.8M378.9 302.6L390.8 300.3M377.5 311.3L390.5 313.9M374.6 320.6L387.9 326.4M370 329.2L383.5 336.7M364.6 335.2L375.1 342.6M357.3 341.4L368.7 351.7M350.9 347.5L359 355.6M345.1 352L356.6 359.6" stroke="#dca048" stroke-width="3" stroke-linecap="round"/>
<path d="M482.3 390L473.3 405.1 463.6 419.5 453 433.4 441.3 446.3 427.8 457.3 413 466.3 397.5 473.8 381.7 480.3 365.9 485.9 349.6 490.2 333.1 492.9 316.6 494.5 300 495.7 283.3 496.2 266.5 495.2 250 491.8 234.1 485.9 219.1 478.6 204.5 470.4 190.4 461.6 177 451.5 164.9 440.1 153.8 427.6 143.5 414.6 133.9 400.9 125.5 386.4 119.2 370.8 115 354.6 112.4 338.1 110.5 321.6 109.2 305 109.2 288.3 110.9 271.7 114.4 255.3 119.1 239.2 124.8 223.3 132.1 208.1 141.4 194 152.7 181.4 164.9 169.9 177.6 159.1 190.6 148.8 204.4 139.4 219.2 131.8 234.8 125.9 250.8 121.4 267 117.8 283.4 115.7 300 115.7 316.4 117.6 332.5 120.9 348.4 124.5 364.2 128.5 379.9 133.7 394.9 140.7 408.9 149.5 422.1 159.5 434.7 170.3 446.3 182.3 456.4 195.5 464.9 209.8 472.1 224.8 478.7 240 484.8 255.5 489.5 271.6 492 288.2 492.2 305 488.4 321.5 480.4 336.8 470.4 350.7 460.1 363.3 451.5 375.6 443.9 388.1 435.9 400.1 427.3 411.8 417.7 422.7 406.6 432 394.2 439.6 381.3 445.8 368.2 451.3 355 456.2 341.5 459.9 327.7 462.2 313.9 463.6 300 464.7 286 465.2 271.9 464.1 258.3 460.7 245.4 454.9 233.4 447.8 222.1 440 211.2 431.8 201.3 422.7 192.5 412.5 184.7 401.7 177.6 390.7 171 379.5 165.3 367.8 161.4 355.4 159.3 342.7 158.2 330 157.2 317.5 156.2 305 155.9 292.4 156.8 279.7 158.8 267.2 161.6 254.6 165 242.1 169.7 229.7 176.1 218.2 184.2 207.8 193.2 198.2 202.5 188.8 212.2 179.6 222.7 171.2 234.3 164.1 246.7 158.6 259.6 154.2 272.8 150.8 286.3 148.7 300 148.7 313.5 150.5 326.7 153.5 339.7 156.7 352.8 160 365.6 164.3 377.8 170.2 389.2 177.6 399.8 186 409.9 195.1 419.2 205 427.2 215.9 433.7 227.8 439.2 240.1 444.4 252.4 449.3 265 453.2 278 455.2 291.4 455.2 305 453.5 318.4 450.4 331.5 445.9 344.1 439.7 355.9 431.9 366.5 423.2 376.1 414.4 385.1 405.6 393.6 396.1 401.1 385.7 407.2 374.6 411.5 363.3 414.7 352.4 417.5 341.8 419.9 331.2 421.6 320.7 422.4 310.3 422.9 300 423.7 289.6 424.4 279 423.9 268.8 421.5 259.2 417.1 250.3 411.6 241.8 405.8 233.6 399.8 226 393.2 219.3 385.7 213.5 377.6 207.9 369.5 202.6 361.2 198.1 352.5 195 343.2 193.5 333.5 192.9 323.9 192.1 314.4 191.2 305 190.8 295.4 191.4 285.8 192.9 276.3 195 266.8 197.4 257.2 200.9 247.8 205.9 239.1 212.3 231.4 219.4 224.4 226.5 217.4 233.8 210.5 241.7 204 250.5 198.8 259.9 194.8 269.6 191.6 279.6 189.1 289.7 187.5 300 187.7 310.1 189.4 320 191.8 329.7 194 339.6 196.2 349.5 198.9 358.9 203 367.6 208.5 375.8 214.6 383.7 221.3 391.1 228.5 397.5 236.8 402.5 245.8 406.8 255.2 411 264.6 415.2 274.1 418.6 284.1 420.3 294.5 420.2 305 418.7 315.4 416 325.5 412.3 335.1 407.2 344 400.7 352 393.6 359 386.6 365.6 379.7 371.9 372.5 377.5 364.4 381.7 355.6 384.5 347 386.3 338.7 387.9 330.7 389.4 322.9 390.5 315.1 390.8 307.5 391 300 391.7 292.3 392.5 284.6 392.3 277.2 390.2 270.4 386.4 264.2 381.8 258.4 377 252.9 372.3 247.9 367.1 243.7 361.3 240.2 355.2 236.9 349.2 233.6 343.4 230.8 337.3 229.2 330.8 228.9 324 229.1 317.5 228.9 311.2 228.2 305 227.6 298.7 227.6 292.2 228.3 285.8 229.1 279.2 230.1 272.4 231.8 265.6 234.8 259.3 239 253.8 243.8 248.8 248.4 243.6 253.1 238.1 258.4 232.9 264.4 228.6 271 225.5 278 222.9 285.1 220.8 292.5 219.5 300 219.7 307.3 221.3 314.4 223.6 321.3 225.6 328.3 227.3 335.2 229.5 341.7 232.8 347.5 237.1 352.8 242 357.9 247.1 362.6 252.5 366.3 258.5 369 265.1 371.2 271.8 373.6 278.2 376.3 284.6 378.5 291.1 379.6 298 379.2 305 377.9 311.8 376 318.4 373.4 324.7 369.7 330.4 365.1 335.3 360.1 339.7 355.5 343.8 351.2 347.9 346.7 351.7 341.4 354.3" stroke="#c4ee4c" stroke-width="10.5"/>
<path d="M481.8 389.8L472.9 404.8 463.1 419.2 452.7 433.1 440.9 445.9 427.5 456.9 412.7 465.9 397.2 473.4 381.5 479.9 365.7 485.5 349.5 489.7 333 492.4 316.5 494 300 495.2 283.3 495.7 266.6 494.7 250.1 491.3 234.3 485.5 219.3 478.1 204.7 470 190.6 461.2 177.4 451.2 165.2 439.8 154.2 427.3 143.9 414.3 134.3 400.7 125.9 386.2 119.6 370.7 115.5 354.4 112.9 338 111 321.5 109.7 305 109.7 288.3 111.4 271.8 114.9 255.4 119.6 239.3 125.3 223.5 132.5 208.3 141.9 194.3 153 181.7 165.3 170.3 177.9 159.5 190.9 149.2 204.7 139.9 219.5 132.3 235 126.4 250.9 121.9 267.1 118.3 283.5 116.2 300 116.2 316.3 118.1 332.4 121.4 348.2 125 364.1 129 379.7 134.1 394.6 141.1 408.6 149.9 421.8 159.9 434.3 170.7 445.9 182.6 456 195.8 464.4 210.1 471.6 225 478.2 240.1 484.3 255.6 489 271.7 491.5 288.2 491.7 305 487.9 321.4 479.9 336.7 469.9 350.5 459.7 363.1 451 375.4 443.5 387.8 435.5 399.8 426.9 411.5 417.3 422.3 406.3 431.6 393.9 439.2 381 445.4 368 450.9 354.8 455.7 341.4 459.4 327.6 461.7 313.8 463.1 300 464.2 286 464.7 272 463.6 258.4 460.2 245.6 454.4 233.6 447.3 222.3 439.6 211.5 431.4 201.6 422.3 192.8 412.2 185.1 401.4 178 390.4 171.4 379.2 165.8 367.6 161.9 355.3 159.8 342.6 158.7 329.9 157.7 317.4 156.7 305 156.4 292.4 157.2 279.8 159.3 267.3 162.1 254.8 165.5 242.3 170.1 230 176.5 218.5 184.6 208.1 193.6 198.6 202.9 189.2 212.5 180 223 171.6 234.5 164.6 246.9 159.1 259.7 154.7 272.9 151.3 286.4 149.2 300 149.2 313.5 151 326.6 154 339.6 157.1 352.6 160.5 365.4 164.7 377.6 170.6 388.9 178 399.5 186.4 409.5 195.5 418.8 205.3 426.8 216.2 433.3 228 438.8 240.3 443.9 252.6 448.8 265.1 452.7 278.1 454.7 291.5 454.7 305 453 318.4 449.9 331.4 445.4 344 439.3 355.7 431.5 366.3 422.8 375.9 414 384.8 405.2 393.3 395.8 400.8 385.4 406.8 374.3 411.1 363.1 414.3 352.2 417 341.6 419.4 331.1 421.1 320.6 422 310.3 422.4 300 423.2 289.6 423.9 279.1 423.5 268.9 421 259.4 416.6 250.5 411.2 242 405.4 233.9 399.4 226.3 392.8 219.7 385.3 213.8 377.3 208.3 369.2 203.1 361 198.5 352.3 195.5 343 194 333.4 193.4 323.8 192.6 314.4 191.7 305 191.3 295.5 191.9 285.9 193.4 276.4 195.4 266.9 197.9 257.4 201.3 248 206.3 239.4 212.7 231.7 219.7 224.7 226.9 217.8 234.1 210.9 242 204.5 250.7 199.2 260.1 195.3 269.8 192.1 279.6 189.6 289.8 188 300 188.2 310.1 189.9 319.9 192.3 329.6 194.5 339.4 196.6 349.2 199.4 358.6 203.5 367.3 208.9 375.5 215 383.4 221.6 390.7 228.9 397 237.1 402.1 246.1 406.4 255.4 410.6 264.8 414.8 274.3 418.1 284.2 419.8 294.5 419.7 305 418.2 315.3 415.5 325.4 411.8 335 406.7 343.8 400.2 351.7 393.1 358.8 386.2 365.3 379.3 371.6 372.1 377.1 364 381.3 355.4 384.1 346.7 385.9 338.5 387.5 330.6 389 322.8 390 315 390.3 307.5 390.5 300 391.2 292.4 392 284.7 391.8 277.3 389.7 270.5 386 264.4 381.3 258.7 376.6 253.2 371.8 248.2 366.7 244.1 360.9 240.6 354.8 237.3 348.9 234 343.1 231.2 337.1 229.7 330.6 229.4 323.9 229.6 317.4 229.4 311.2 228.7 305 228.1 298.7 228.1 292.3 228.8 285.9 229.6 279.4 230.6 272.6 232.2 265.9 235.2 259.6 239.4 254.2 244.1 249.1 248.8 243.9 253.4 238.5 258.6 233.3 264.6 229.1 271.2 225.9 278.1 223.4 285.2 221.3 292.6 220 300 220.2 307.3 221.8 314.3 224.1 321.1 226.1 328.1 227.8 335 229.9 341.5 233.2 347.2 237.6 352.5 242.4 357.6 247.4 362.2 252.8 365.9 258.8 368.6 265.4 370.7 272 373.1 278.4 375.8 284.7 378.1 291.2 379.1 298.1 378.7 305 377.4 311.8 375.5 318.3 372.9 324.5 369.3 330.2 364.6 335.1 359.7 339.4 355 343.5 350.8 347.6 346.3 351.3 341.1 353.9" stroke="#46a4e4" stroke-width="2.4" stroke-dasharray="6 3"/>
<path d="M477.9 387.9L469.1 402.6 459.5 416.7 449.3 430.3 437.8 442.8 424.7 453.6 410.2 462.3 395 469.6 379.7 475.9 364.2 481.3 348.4 485.5 332.3 488.1 316.2 489.6 300 490.8 283.7 491.3 267.3 490.4 251.2 487 235.8 481.3 221.1 474.1 206.9 466.2 193.2 457.6 180.2 447.8 168.4 436.6 157.6 424.5 147.5 411.8 138.1 398.5 129.9 384.3 123.8 369.1 119.8 353.3 117.3 337.2 115.4 321.1 114.1 305 114 288.7 115.8 272.5 119.2 256.5 123.7 240.8 129.3 225.4 136.3 210.5 145.5 196.8 156.4 184.5 168.4 173.4 180.7 162.8 193.4 152.8 206.9 143.7 221.3 136.3 236.5 130.5 252.1 126.1 267.8 122.7 283.9 120.6 300 120.6 316 122.5 331.6 125.7 347.1 129.2 362.6 133.1 377.8 138.1 392.4 144.9 406.1 153.5 419 163.2 431.2 173.8 442.5 185.4 452.4 198.3 460.6 212.3 467.6 226.8 474.1 241.6 480.1 256.8 484.7 272.4 487.2 288.6 487.3 305 483.5 321.1 475.6 336 465.7 349.4 455.5 361.6 447 373.6 439.7 385.6 431.8 397.3 423.6 408.7 414.2 419.2 403.4 428.3 391.4 435.6 378.8 441.6 366.2 446.9 353.3 451.6 340.2 455.1 326.9 457.4 313.4 458.7 300 459.8 286.4 460.3 272.8 459.3 259.6 455.9 247.1 450.3 235.5 443.3 224.5 435.8 214 427.8 204.4 418.9 195.9 409.1 188.5 398.6 181.6 387.9 175.2 377 169.8 365.7 166 353.8 164 341.4 163 329.2 162.1 317.1 161.1 305 160.7 292.8 161.6 280.6 163.6 268.4 166.2 256.3 169.5 244.1 173.9 232.2 180.1 221 187.9 211 196.7 201.7 205.7 192.6 215 183.7 225.2 175.4 236.4 168.6 248.4 163.2 260.9 159 273.7 155.6 286.8 153.6 300 153.6 313.1 155.4 325.9 158.3 338.5 161.4 351.1 164.6 363.6 168.7 375.4 174.4 386.4 181.6 396.7 189.8 406.4 198.6 415.5 208.1 423.2 218.7 429.5 230.2 434.8 242.1 439.8 254.1 444.6 266.3 448.4 278.8 450.3 291.8 450.3 305 448.6 318 445.6 330.7 441.2 342.8 435.1 354.2 427.5 364.4 419 373.7 410.4 382.3 401.8 390.4 392.7 397.7 382.6 403.4 371.8 407.5 360.9 410.5 350.4 413 340.1 415.3 330 416.9 319.9 417.6 309.9 418 300 418.8 290 419.5 279.9 419.1 270.1 416.8 260.9 412.5 252.4 407.2 244.2 401.6 236.4 395.8 229.2 389.4 222.8 382.2 217.2 374.5 212 366.7 206.9 358.8 202.5 350.5 199.6 341.5 198.3 332.3 197.7 323 197 314 196.1 305 195.6 295.9 196.2 286.7 197.7 277.6 199.6 268.4 201.9 259.2 205.1 250.2 209.9 241.9 216 234.5 222.8 227.8 229.7 221.2 236.6 214.5 244.2 208.3 252.5 203.2 261.6 199.4 270.9 196.4 280.4 193.9 290.2 192.4 300 192.6 309.7 194.2 319.1 196.6 328.5 198.8 337.9 200.8 347.4 203.4 356.4 207.3 364.8 212.5 372.7 218.4 380.3 224.7 387.4 231.7 393.4 239.6 398.3 248.3 402.4 257.3 406.4 266.3 410.5 275.4 413.8 284.9 415.4 294.9 415.3 305 413.8 315 411.2 324.6 407.6 333.8 402.6 342.3 396.3 349.9 389.3 356.6 382.6 362.8 376 368.7 369 374 361.2 378 352.8 380.5 344.5 382.1 336.6 383.5 329.1 384.8 321.6 385.7 314.3 386 307.1 386.1 300 386.8 292.8 387.6 285.5 387.4 278.4 385.5 272 381.8 266.3 377.3 260.9 372.8 255.7 368.2 251.1 363.3 247.2 357.8 244 352 240.9 346.4 237.8 340.9 235.2 335.2 233.8 329.1 233.7 322.8 234 316.6 233.8 310.8 233.1 305 232.5 299.1 232.5 293.1 233 287.1 233.7 280.9 234.5 274.5 236 268.1 238.8 262.2 242.8 257 247.2 252.2 251.6 247.3 255.9 242.1 260.8 237.1 266.5 233.1 272.7 230.1 279.3 227.6 286 225.6 292.9 224.4 300 224.6 306.9 226.2 313.5 228.4 320 230.3 326.6 231.9 333.1 233.9 339.3 237 344.7 241.2 349.7 245.8 354.5 250.5 358.8 255.6 362.3 261.4 364.8 267.6 366.8 273.9 369 279.9 371.5 285.8 373.7 292 374.7 298.5 374.3 305 373 311.4 371.1 317.5 368.6 323.4 365.1 328.7 360.6 333.3 355.8 337.2 351.4 341 347.4 344.8 343.2 348.2 338.2 350.6" stroke="#3f9ee6" stroke-width="2.4"/>
<path d="M475 386.6L466.4 401.1 457 414.9 446.9 428.3 435.6 440.6 422.7 451.2 408.4 459.8 393.5 466.9 378.4 473.1 363.1 478.4 347.6 482.5 331.7 485 315.9 486.5 300 487.7 284 488.3 267.9 487.3 252 484 236.9 478.4 222.4 471.3 208.5 463.5 195 455 182.2 445.4 170.5 434.5 160 422.5 150.1 410 140.8 396.9 132.7 383 126.7 368.1 122.8 352.5 120.3 336.7 118.5 320.9 117.2 305 117.1 289 118.8 273.1 122.2 257.3 126.6 241.9 132.1 226.7 139 212.1 148 198.6 158.8 186.5 170.6 175.6 182.7 165.2 195.2 155.3 208.4 146.4 222.6 139.1 237.6 133.5 252.9 129.1 268.4 125.7 284.1 123.7 300 123.7 315.7 125.6 331.1 128.7 346.3 132.2 361.5 136 376.5 140.9 390.9 147.6 404.3 156 417 165.6 429 176 440.2 187.4 449.9 200.1 457.9 213.8 464.8 228.1 471.2 242.7 477.1 257.6 481.6 273 484.1 288.9 484.2 305 480.4 320.8 472.5 335.4 462.7 348.6 452.6 360.5 444.2 372.3 437 384.1 429.3 395.5 421.2 406.7 412 417 401.4 425.9 389.6 433 377.3 438.9 364.8 444.1 352.3 448.6 339.4 452.1 326.3 454.3 313.2 455.6 300 456.7 286.7 457.2 273.3 456.2 260.4 452.9 248.2 447.4 236.8 440.5 226.1 433.1 215.8 425.2 206.4 416.5 198.1 406.9 190.9 396.6 184.2 386.1 177.9 375.5 172.6 364.4 168.9 352.7 167 340.6 166.1 328.6 165.2 316.8 164.2 305 163.8 293.1 164.6 281.1 166.6 269.2 169.1 257.4 172.3 245.4 176.6 233.7 182.6 222.8 190.3 213 198.9 203.9 207.7 195 216.8 186.2 226.7 178.1 237.7 171.4 249.5 166.1 261.7 162 274.2 158.7 287 156.7 300 156.7 312.8 158.5 325.3 161.4 337.7 164.4 350 167.5 362.2 171.5 373.8 177.1 384.6 184.2 394.7 192.2 404.2 200.8 413.1 210.1 420.7 220.5 426.8 231.8 432 243.5 436.9 255.2 441.6 267.1 445.3 279.4 447.2 292.1 447.2 305 445.5 317.7 442.5 330.1 438.2 342 432.2 353.1 424.7 363.1 416.3 372.1 407.9 380.5 399.4 388.4 390.5 395.5 380.6 401 370 405 359.3 407.8 349.1 410.2 339.1 412.4 329.2 413.9 319.3 414.6 309.6 414.9 300 415.7 290.3 416.4 280.4 416.1 270.9 413.8 261.9 409.6 253.7 404.4 245.8 398.9 238.2 393.3 231.1 387.1 225 380 219.6 372.5 214.5 364.9 209.6 357.2 205.3 349.1 202.5 340.5 201.3 331.5 200.7 322.5 200.1 313.7 199.2 305 198.7 296.1 199.2 287.2 200.6 278.4 202.5 269.5 204.7 260.6 207.8 251.8 212.4 243.7 218.4 236.5 225 230 231.7 223.6 238.4 217 245.7 211 253.8 206 262.6 202.3 271.7 199.4 280.9 197 290.4 195.5 300 195.7 309.4 197.3 318.6 199.6 327.7 201.8 336.9 203.7 346.1 206.2 354.9 210 363 215 370.7 220.8 378.1 226.9 385 233.7 390.9 241.4 395.6 249.8 399.6 258.6 403.5 267.3 407.5 276.2 410.7 285.5 412.3 295.2 412.2 305 410.7 314.7 408.2 324.1 404.6 333 399.7 341.3 393.4 348.6 386.6 355 380 361 373.6 366.7 366.8 371.8 359.2 375.6 351.1 377.9 343 379.4 335.3 380.7 328 381.9 320.8 382.7 313.7 382.9 306.8 383 300 383.7 293 384.5 286 384.4 279.2 382.5 273.1 378.9 267.6 374.5 262.4 370.1 257.5 365.7 253.1 360.9 249.4 355.6 246.3 350 243.4 344.6 240.5 339.4 238 333.9 236.7 328 236.6 322 237 316.1 236.9 310.5 236.2 305 235.5 299.4 235.5 293.6 236 287.9 236.7 281.9 237.4 275.8 238.7 269.6 241.3 263.9 245.2 259 249.4 254.4 253.6 249.7 257.7 244.6 262.4 239.8 267.8 235.9 273.8 233 280.1 230.6 286.5 228.6 293.2 227.4 300 227.7 306.6 229.3 313 231.5 319.2 233.3 325.5 234.8 331.8 236.7 337.7 239.7 342.9 243.7 347.7 248.2 352.3 252.7 356.5 257.6 359.8 263.1 362.1 269.1 364 275.2 366.1 281 368.6 286.6 370.7 292.5 371.6 298.7 371.2 305 369.9 311.1 368.1 317 365.6 322.6 362.2 327.6 357.8 332 353.2 335.7 348.9 339.2 345.1 342.8 341 346 336.2 348.2" stroke="#e4aa3a" stroke-width="3.4"/>
<path d="M239.5 286.3L254.1 281.1M292.3 256L301.5 244.5M269.5 348.5L278.3 342.6M310.1 239.5L308.6 221.8M261.1 251.7L278.1 246.7M270.7 354.7L280.5 342.3M260.6 351.9L274.9 339.9M343.2 263.2L347.6 253.5M272.2 305.2L270.9 289.5M276.5 264.8L288.6 258M273.9 288.4L281.4 282.4M279.9 301.8L279.2 292.4M259.6 326.3L276.8 319.8M277.3 271L287.4 257.6M249 325.3L264 316.2M246.9 269L259.5 255.9M276.8 349.5L284.4 340.1M274 246.5L274.2 236M284.7 254.8L296.4 242M290.7 280.2L290.5 262M239.9 290.1L249 285.3M248.8 282L250.9 264.6M271.4 284.5L288.3 280M353.1 284.6L362.2 271.1M293.5 262.2L298.3 252.9M295.9 268.7L296.4 257M279.4 330.5L292.7 321.8M279.6 319.2L283.8 306M271.3 352.5L282.1 342.4M237.4 297.5L241.5 282.3M291.6 334.7L303.9 323.1M277.7 310.9L291.7 300.7M278 338.3L292.4 331.5M298.2 295L300.7 277.9M348.5 287.9L361 277.5M323.6 245.7L336.1 237.7M315.9 280.1L327.7 268.2M288.9 311.7L292.4 296.2M292.6 253.2L292.5 242.9M274.1 247.1L275.8 237.9M291.8 274.5L302.2 263.8M264.5 346.6L263.4 333.6M269.4 278.6L270.7 261.3M309.6 235.1L317.4 225.4M334.2 279.8L347.6 272.1M280.3 241.6L290.3 230.8M309 270.5L317.3 266.9M249 300.1L256.2 292.6M281.1 281.6L283.8 270M352.7 274.4L369.9 268.8M307.5 257.9L320.9 253.9M285.9 266L299.2 262.1M270.4 287.8L271.6 272.7M289.2 262.4L303.8 253.2M237.6 295.5L242.9 277.9M329.8 255.9L332.8 245.8M309 287.5L319.9 277.2M325.2 238.3L335.2 231.6M300 268.4L304.6 254.8M291.7 271.8L303.9 263.2M287.3 301.4L299.3 291.9M282.3 276.1L292 271.1M271.6 336.5L271.7 319.2M319.4 281.7L324.5 265.7M293.4 297.8L300.4 287.7M254.4 302.8L262.8 298M263.6 335.1L276.9 326.9M239.1 321.7L257.2 316.3M337 252.3L350.5 239.5M321.5 240.6L327.2 223.3M254 306.3L259 296.9M249 274.3L249.1 264.8M305 324.4L314.4 320.1M287.8 265.4L297.3 255.3M348.6 273.6L348.5 257.7M254.1 309.1L264.6 294.4M302.6 307.7L306.6 293.7M266.5 325.6L272.6 317.3M264.1 273.2L272.9 266.9M246.2 314.2L246.6 303.9M307.3 254.9L319.8 249.1M274.8 331.9L274 315.7M311 270.9L313.9 258.9M309.7 270.1L314.2 260.8M332.5 281.8L345.2 275.4M307.1 301.1L317.6 293.5M342.7 288.4L350.2 283.3M310.3 281.2L315.7 272.7M281 275.2L290.5 270.8M266.5 260.3L268.1 248.5M264.2 288.5L263.4 270.3M250.1 314.3L255.1 299.3M323.5 244.5L325.3 235.4M279.7 265L286.1 255M255.6 255.2L269.4 243.1M313.5 281.4L322.2 278.8M243.3 329.5L247.7 321.2M298.3 270.3L298.7 260.6M343.9 289.8L352.8 286.5M266.7 278.2L269.8 269.3M257.5 292.2L264.1 279.5M246.1 265.3L247 250.9M338.8 251.6L337.9 237.2M294.4 300.9L300.9 287M272.9 284L282.8 278.5M249.9 265L250.5 248.3M334.3 265.2L335.3 255.4M287.4 301.6L289.9 292.3M260 261.5L264.2 252.4M286.5 265.3L298.4 257M327.2 301.3L335.8 286.5M268.1 334.1L272.6 324.8M267.5 315.3L270.5 306.1M327.7 298.9L327.2 289.4M251.6 271.3L268.2 263.1M309.4 253.9L315.6 242.9M299.6 245.6L310.2 237.3M250.2 265.8L262.8 260.7M288.1 282.9L303.4 272.8M307.5 236.3L319 229.7M239.9 301.6L249.8 286.8M283.1 251.8L286.4 241.2M303.5 271.3L312.9 264.7M278.2 256.3L294.9 251.3M284.1 241.7L296.3 235.1M247.8 321L258 316.7M331.6 266.7L345.1 255.3M297.4 303L299.6 290.3M273.4 274.8L282.2 261.4M279.5 303.9L290.3 294.6M246.5 271.1L257.5 258.7M321.7 264.3L332.7 260.2" stroke="#2a2068" stroke-width="6.2" stroke-linecap="round"/>
<path d="M247.5 283.4L254.1 281.1M297.3 249.7L301.5 244.5M274.4 345.2L278.3 342.6M309.3 229.8L308.6 221.8M270.5 249L278.1 246.7M276.1 347.9L280.5 342.3M268.5 345.3L274.9 339.9M345.6 257.9L347.6 253.5M271.4 296.6L270.9 289.5M283.2 261L288.6 258M278 285.1L281.4 282.4M279.6 296.6L279.2 292.4M269.1 322.7L276.8 319.8M282.9 263.6L287.4 257.6M257.2 320.3L264 316.2M253.9 261.8L259.5 255.9M281 344.3L284.4 340.1M274.1 240.7L274.2 236M291.1 247.8L296.4 242M290.6 270.2L290.5 262M244.9 287.5L249 285.3M250 272.4L250.9 264.6M280.7 282L288.3 280M358.1 277.2L362.2 271.1M296.1 257L298.3 252.9M296.2 262.3L296.4 257M286.7 325.7L292.7 321.8M281.9 311.9L283.8 306M277.2 346.9L282.1 342.4M239.6 289.1L241.5 282.3M298.4 328.3L303.9 323.1M285.4 305.3L291.7 300.7M285.9 334.6L292.4 331.5M299.6 285.6L300.7 277.9M355.3 282.2L361 277.5M330.5 241.3L336.1 237.7M322.4 273.5L327.7 268.2M290.8 303.2L292.4 296.2M292.5 247.5L292.5 242.9M275 242L275.8 237.9M297.5 268.6L302.2 263.8M263.9 339.5L263.4 333.6M270.1 269.1L270.7 261.3M313.9 229.8L317.4 225.4M341.6 275.6L347.6 272.1M285.8 235.7L290.3 230.8M313.6 268.5L317.3 266.9M252.9 296L256.2 292.6M282.6 275.2L283.8 270M362.2 271.3L369.9 268.8M314.9 255.7L320.9 253.9M293.2 263.9L299.2 262.1M271.1 279.5L271.6 272.7M297.2 257.4L303.8 253.2M240.5 285.8L242.9 277.9M331.5 250.3L332.8 245.8M315 281.8L319.9 277.2M330.7 234.6L335.2 231.6M302.5 260.9L304.6 254.8M298.4 267.1L303.9 263.2M293.9 296.2L299.3 291.9M287.6 273.4L292 271.1M271.6 327L271.7 319.2M322.2 272.9L324.5 265.7M297.3 292.2L300.4 287.7M259 300.2L262.8 298M270.9 330.6L276.9 326.9M249.1 318.7L257.2 316.3M344.5 245.3L350.5 239.5M324.6 231.1L327.2 223.3M256.7 301.1L259 296.9M249.1 269.1L249.1 264.8M310.2 322.1L314.4 320.1M293 259.8L297.3 255.3M348.5 264.9L348.5 257.7M259.9 301L264.6 294.4M304.8 300L306.6 293.7M269.9 321L272.6 317.3M268.9 269.7L272.9 266.9M246.5 308.5L246.6 303.9M314.2 251.7L319.8 249.1M274.4 323L274 315.7M312.6 264.3L313.9 258.9M312.1 265L314.2 260.8M339.5 278.3L345.2 275.4M312.9 296.9L317.6 293.5M346.8 285.6L350.2 283.3M313.3 276.5L315.7 272.7M286.2 272.8L290.5 270.8M267.4 253.8L268.1 248.5M263.8 278.5L263.4 270.3M252.9 306L255.1 299.3M324.5 239.5L325.3 235.4M283.2 259.5L286.1 255M263.2 248.5L269.4 243.1M318.3 280L322.2 278.8M245.7 324.9L247.7 321.2M298.5 265L298.7 260.6M348.8 288L352.8 286.5M268.4 273.3L269.8 269.3M261.1 285.2L264.1 279.5M246.6 257.4L247 250.9M338.3 243.7L337.9 237.2M297.9 293.3L300.9 287M278.3 281L282.8 278.5M250.2 255.8L250.5 248.3M334.8 259.8L335.3 255.4M288.8 296.5L289.9 292.3M262.3 256.5L264.2 252.4M293 260.8L298.4 257M331.9 293.2L335.8 286.5M270.6 329L272.6 324.8M269.1 310.2L270.5 306.1M327.4 293.7L327.2 289.4M260.7 266.8L268.2 263.1M312.8 247.8L315.6 242.9M305.5 241L310.2 237.3M257.1 263L262.8 260.7M296.5 277.3L303.4 272.8M313.8 232.7L319 229.7M245.4 293.5L249.8 286.8M284.9 246L286.4 241.2M308.6 267.7L312.9 264.7M287.4 253.6L294.9 251.3M290.8 238.1L296.3 235.1M253.4 318.7L258 316.7M339 260.4L345.1 255.3M298.6 296L299.6 290.3M278.3 267.4L282.2 261.4M285.5 298.8L290.3 294.6M252.5 264.3L257.5 258.7M327.8 262.1L332.7 260.2" stroke="#4a60de" stroke-width="3.6" stroke-linecap="round"/>
<path d="M240.9 285.7L248.2 283.1M270.4 347.9L274.8 344.9M262.8 251.2L271.3 248.7M262 350.7L269.2 344.7M272 303.7L271.4 295.8M274.6 287.8L278.4 284.8M261.3 325.6L269.9 322.4M250.5 324.4L258 319.8M277.6 348.6L281.3 343.9M285.9 253.5L291.7 247.1M240.8 289.6L245.4 287.2M273.1 284.1L281.5 281.8M294 261.2L296.4 256.6M280.7 329.6L287.4 325.3M272.3 351.5L277.8 346.4M292.8 333.5L299 327.7M279.4 337.6L286.6 334.2M349.7 286.8L356 281.7M317 278.9L323 273M292.6 252.2L292.5 247M292.9 273.4L298 268M269.6 276.9L270.2 268.2M335.6 279.1L342.2 275.2M309.9 270.1L314 268.3M281.4 280.4L282.7 274.6M308.8 257.5L315.5 255.5M270.5 286.3L271.1 278.7M238.1 293.7L240.8 285M310.1 286.5L315.5 281.3M300.5 267L302.8 260.3M288.5 300.5L294.5 295.7M271.6 334.8L271.6 326.1M294.1 296.8L297.6 291.7M264.9 334.3L271.6 330.2M338.4 251L345.1 244.6M254.5 305.3L257 300.6M306 324L310.7 321.8M348.6 272L348.5 264.1M303 306.3L305 299.3M265 272.6L269.4 269.4M308.5 254.3L314.8 251.4M311.3 269.7L312.7 263.7M333.8 281.2L340.1 278M343.5 287.9L347.2 285.3M281.9 274.8L286.7 272.6M264.1 286.7L263.8 277.6M323.7 243.6L324.6 239.1M257 254L263.9 247.9M243.7 328.7L245.9 324.5M344.8 289.5L349.2 287.8M258.2 290.9L261.5 284.6M338.7 250.2L338.3 243M273.9 283.4L278.8 280.7M334.4 264.2L334.9 259.3M260.4 260.6L262.5 256M328 299.8L332.4 292.4M267.8 314.4L269.3 309.8M253.3 270.5L261.6 266.4M300.7 244.8L306 240.6M289.6 281.9L297.3 276.8M240.9 300.1L245.9 292.7M304.4 270.6L309.1 267.3M285.3 241.1L291.4 237.8M333 265.6L339.7 259.9M274.3 273.5L278.7 266.8M247.6 269.9L253.1 263.6" stroke="#dca048" stroke-width="2" stroke-linecap="round"/>
<path d="M262 352Q270 326 288 306T330 270Q352 258 372 262T380 280Q358 288 352 304T338 350Q330 378 316 384T296 372Q270 366 262 352Z" fill="#fff" stroke="#b9ee5c" stroke-width="5" stroke-linejoin="round"/>
<path d="M262 352Q270 326 288 306T330 270Q352 258 372 262T380 280Q358 288 352 304T338 350Q330 378 316 384T296 372Q270 366 262 352Z" stroke="#e6ae42" stroke-width="1.6" stroke-linejoin="round"/>
<path d="M262 352Q270 326 288 306T330 270Q352 258 372 262T380 280Q358 288 352 304T338 350Q330 378 316 384T296 372Q270 366 262 352Z" stroke="#3fa4e6" stroke-width="1.2" stroke-linejoin="round" stroke-dasharray="4 3"/>
<path d="M478 132Q492 118 506 114" stroke="#241a5e" stroke-width="1.6"/>
<path d="M466 90Q470 110 480 122" stroke="#241a5e" stroke-width="1.4"/>
<path d="M476 134L506 116 506 168 492 158Z" fill="#d9a04c" stroke="#e6ae42" stroke-width="2"/>
<path d="M484 136L506 124 506 160Z" fill="#b9ee5c"/>
<path d="M283 68.9h0M360.1 531.6h0M480.9 166.7h0M532.1 267.7h0M125.9 442.9h0M125.5 449.1h0M160.7 105.2h0M500 178.3h0M130 451.8h0M211.7 86.9h0M250 79.5h0M472 156.7h0M221.9 519.6h0M124.7 135.9h0M417.6 511h0M323.5 78.8h0M517.5 395.4h0M417.4 92.2h0M268.1 75.2h0M90.6 411h0M489.4 175.8h0M254.6 537.1h0M521.5 257.7h0M520.7 347.8h0M81.6 214.4h0M391.5 512.3h0M103.1 172.1h0M212.1 82.2h0M516.5 392.9h0M424.2 93.8h0M198.9 525.3h0M150.5 111.9h0M331.3 541.7h0M425.9 108.4h0M482.7 439.1h0M424.1 491.7h0M436.8 498.2h0M489.9 452.1h0M279.1 64.3h0M379.1 79.4h0M517.6 192.5h0M126.7 131.6h0M478.8 440.7h0M508.6 394.4h0M135.8 470.4h0M198.5 87.7h0M500.3 421.4h0M77.6 242.7h0M474.8 464.1h0M132.1 474.2h0M510.5 229.2h0M314.7 66.1h0M236 520.5h0M71.5 335.3h0M280.5 61.7h0M131 459.5h0M61.3 306.9h0M357.2 76.2h0M234.5 525.6h0M435.4 113.6h0M520.6 377.3h0M318.2 542.3h0M504.6 406.7h0M492.2 437.5h0M533.9 282.3h0M115.4 465.2h0M493.2 430.7h0M382.7 98.9h0M323 75.5h0" stroke="#241a5e" stroke-width="3" stroke-linecap="round"/>
</g>
<rect x="246.5" y="85.5" width="139.5" height="74.5" fill="none" stroke="#222" stroke-width="1.6"/>
<path d="M386 85.5L531 78.5M386 160L531 533" stroke="#111" stroke-width="1.5" stroke-dasharray="5 4" fill="none"/>
<rect x="390.5" y="516" width="128" height="4.2" fill="#000"/>
<text x="466" y="506" font-size="29" text-anchor="middle">2 mm</text>
<text x="64.6" y="64" font-size="29.2">Small Intestine day 8 p.i. (LCMV)</text>
<text x="-0.2" y="30.6" font-size="40.5" font-weight="bold">a</text>
<clipPath id="cai"><rect x="530.5" y="78.5" width="689.5" height="454.5"/></clipPath>
<g clip-path="url(#cai)" fill="none">
<rect x="530.5" y="78.5" width="689.5" height="454.5" fill="#ecebef"/>
<rect x="530" y="78" width="64.5" height="58.6" fill="#fff"/><rect x="1203.5" y="78" width="17" height="58.6" fill="#fff"/>
<path d="M530 156 548 156 548 162 576 162 576 172 596 172 596 160 612 160 612 136 618 136 618 128 658 128 658 140 664 140 664 166 676 166 676 142 684 142 684 126 690 126 690 131 795 131 795 126 803 126 803 112 812 112 812 105 890 105 890 112 897 112 897 131 955 131 955 116 972 116 972 126 984 126 984 139 1008 139 1008 136 1040 136 1040 146 1066 146 1066 141 1150 141 1150 152 1170 152 1170 158 1190 158 1190 166 1221 166 L1221 300 529 330Z" fill="#9aa7e4"/>
<path d="M803 105h87v46h-87zM812 151h60v30h-60zM890 112h8v40h-8zM600 160h58v26h-58zM640 166h40v60h-40zM655 196h50v42h-50zM690 131h14v14h-14zM742 131h10v12h-10zM740 176h40v40h-40zM860 150h24v70h-24zM900 160h50v58h-50zM905 210h34v14h-34zM990 150h22v70h-22zM1000 141h44v30h-44zM1050 150h24v60h-24zM1100 146h24v44h-24zM1140 160h30v60h-30zM1150 190h36v44h-36zM1196 166h25v110h-25zM545 172h28v40h-28zM560 200h34v30h-34zM700 190h26v40h-26zM782 196h26v36h-26zM960 136h16v30h-16zM1068 200h20v24h-20z" fill="#81789a"/>
<path d="M525 281.9L575 273.3 625 266 675 259.9 725 255.1 775 251.5 825 249.1 875 248 925 248.1 975 249.5 1025 252.1 1075 255.9 1125 261 1175 267.3 1225 274.8" stroke="#c9eb84" stroke-width="62"/>
<path d="M525 253.9L575 245.3 625 238 675 231.9 725 227.1 775 223.5 825 221.1 875 220 925 220.1 975 221.5 1025 224.1 1075 227.9 1125 233 1175 239.3 1225 246.8" stroke="#81789a" stroke-width="20" stroke-dasharray="16 38" stroke-dashoffset="-52"/>
<path d="M525 339.9L575 331.3 625 324 675 317.9 725 313.1 775 309.5 825 307.1 875 306 925 306.1 975 307.5 1025 310.1 1075 313.9 1125 319 1175 325.3 1225 332.8 1225 495.8 1175 488.7 1125 482.9 1075 478.3 1025 474.9 975 472.7 925 471.7 875 472 825 473.5 775 476.2 725 480.1 675 485.2 625 491.6 575 499.1 525 507.9Z" fill="#81789a"/>
<path d="M525 347.9L575 339.3 625 332 675 325.9 725 321.1 775 317.5 825 315.1 875 314 925 314.1 975 315.5 1025 318.1 1075 321.9 1125 327 1175 333.3 1225 340.8" stroke="#c9eb84" stroke-width="16"/>
<path d="M552 340h60v46h-60zM612 322h72v40h-72zM672 318h60v34h-60zM726 330h50v30h-50zM820 322h60v40h-60zM930 324h56v40h-56zM1000 330h40v34h-40zM1060 336h50v60h-50zM1128 342h60v60h-60zM1180 360h41v70h-41zM560 386h30v40h-30zM690 352h30v60h-30zM880 340h30v50h-30zM1040 396h40v30h-40z" fill="#9aa7e4"/>
<path d="M525 463.9L575 455.1 625 447.6 675 441.2 725 436.1 775 432.2 825 429.5 875 428 925 427.7 975 428.7 1025 430.9 1075 434.3 1125 438.9 1175 444.7 1225 451.8" stroke="#c9eb84" stroke-width="56"/>
<path d="M525 431.9L575 423.1 625 415.6 675 409.2 725 404.1 775 400.2 825 397.5 875 396 925 395.7 975 396.7 1025 398.9 1075 402.3 1125 406.9 1175 412.7 1225 419.8" stroke="#81789a" stroke-width="24" stroke-dasharray="22 40" stroke-dashoffset="-30"/>
<path d="M590 400h30v34h-30zM600 380h16v20h-16zM740 410h30v30h-30zM960 420h40v20h-40zM1080 400h20v30h-20z" fill="#c9eb84"/>
<path d="M538 256.5L538 280" stroke="#98b566" stroke-width="30" stroke-linecap="round"/>
<path d="M538 209.4L538 264.9" stroke="#c89a68" stroke-width="26" stroke-linecap="round"/>
<path d="M538 197.7L538 209.4" stroke="#4c4ac8" stroke-width="28" stroke-linecap="round"/>
<path d="M538 204.4L538 238" stroke="#cc6040" stroke-width="8.8" stroke-linecap="round"/>
<path d="M538 238L538 280" stroke="#6298e2" stroke-width="8.8" stroke-linecap="round"/>
<path d="M573.9 256.2L575 282" stroke="#98b566" stroke-width="32" stroke-linecap="round"/>
<path d="M571.6 204.7L574.3 265.4" stroke="#c89a68" stroke-width="28" stroke-linecap="round"/>
<path d="M571.1 191.8L571.6 204.7" stroke="#4c4ac8" stroke-width="30" stroke-linecap="round"/>
<path d="M571.4 199.2L573 236" stroke="#cc6040" stroke-width="9.5" stroke-linecap="round"/>
<path d="M573 236L575 282" stroke="#6298e2" stroke-width="9.5" stroke-linecap="round"/>
<path d="M641.4 243L642 276" stroke="#98b566" stroke-width="34" stroke-linecap="round"/>
<path d="M640.3 176.9L641.6 254.8" stroke="#c89a68" stroke-width="30" stroke-linecap="round"/>
<path d="M640 160.4L640.3 176.9" stroke="#4c4ac8" stroke-width="32" stroke-linecap="round"/>
<path d="M640.2 169.8L641 217" stroke="#cc6040" stroke-width="10.2" stroke-linecap="round"/>
<path d="M641 217L642 276" stroke="#6298e2" stroke-width="10.2" stroke-linecap="round"/>
<path d="M705.4 237L706 270" stroke="#98b566" stroke-width="20" stroke-linecap="round"/>
<path d="M704.3 170.9L705.6 248.8" stroke="#c89a68" stroke-width="16" stroke-linecap="round"/>
<path d="M704 154.4L704.3 170.9" stroke="#4c4ac8" stroke-width="18" stroke-linecap="round"/>
<path d="M704.2 163.8L705 211" stroke="#cc6040" stroke-width="5.4" stroke-linecap="round"/>
<path d="M705 211L706 270" stroke="#6298e2" stroke-width="5.4" stroke-linecap="round"/>
<path d="M737.4 238.1L738 270" stroke="#98b566" stroke-width="34" stroke-linecap="round"/>
<path d="M736.3 174.2L737.6 249.5" stroke="#c89a68" stroke-width="30" stroke-linecap="round"/>
<path d="M736 158.3L736.3 174.2" stroke="#4c4ac8" stroke-width="32" stroke-linecap="round"/>
<path d="M736.2 167.4L737 213" stroke="#cc6040" stroke-width="10.2" stroke-linecap="round"/>
<path d="M737 213L738 270" stroke="#6298e2" stroke-width="10.2" stroke-linecap="round"/>
<path d="M779.4 236.1L780 268" stroke="#98b566" stroke-width="36" stroke-linecap="round"/>
<path d="M778.3 172.2L779.6 247.5" stroke="#c89a68" stroke-width="32" stroke-linecap="round"/>
<path d="M778 156.3L778.3 172.2" stroke="#4c4ac8" stroke-width="34" stroke-linecap="round"/>
<path d="M778.2 165.4L779 211" stroke="#cc6040" stroke-width="10.9" stroke-linecap="round"/>
<path d="M779 211L780 268" stroke="#6298e2" stroke-width="10.9" stroke-linecap="round"/>
<path d="M834 233.5L836 266" stroke="#98b566" stroke-width="36" stroke-linecap="round"/>
<path d="M830.1 168.6L834.7 245.1" stroke="#c89a68" stroke-width="32" stroke-linecap="round"/>
<path d="M829.1 152.3L830.1 168.6" stroke="#4c4ac8" stroke-width="34" stroke-linecap="round"/>
<path d="M829.7 161.6L832.5 208" stroke="#cc6040" stroke-width="10.9" stroke-linecap="round"/>
<path d="M832.5 208L836 266" stroke="#6298e2" stroke-width="10.9" stroke-linecap="round"/>
<path d="M908.5 238L918 266" stroke="#98b566" stroke-width="34" stroke-linecap="round"/>
<path d="M889.4 182L911.9 248" stroke="#c89a68" stroke-width="30" stroke-linecap="round"/>
<path d="M884.7 168L889.4 182" stroke="#4c4ac8" stroke-width="32" stroke-linecap="round"/>
<path d="M887.4 176L901 216" stroke="#cc6040" stroke-width="10.2" stroke-linecap="round"/>
<path d="M901 216L918 266" stroke="#6298e2" stroke-width="10.2" stroke-linecap="round"/>
<path d="M973.2 236.6L976 268" stroke="#98b566" stroke-width="34" stroke-linecap="round"/>
<path d="M967.6 173.9L974.2 247.8" stroke="#c89a68" stroke-width="30" stroke-linecap="round"/>
<path d="M966.2 158.2L967.6 173.9" stroke="#4c4ac8" stroke-width="32" stroke-linecap="round"/>
<path d="M967 167.2L971 212" stroke="#cc6040" stroke-width="10.2" stroke-linecap="round"/>
<path d="M971 212L976 268" stroke="#6298e2" stroke-width="10.2" stroke-linecap="round"/>
<path d="M1024.9 239.2L1026 270" stroke="#98b566" stroke-width="34" stroke-linecap="round"/>
<path d="M1022.6 177.6L1025.3 250.2" stroke="#c89a68" stroke-width="30" stroke-linecap="round"/>
<path d="M1022.1 162.2L1022.6 177.6" stroke="#4c4ac8" stroke-width="32" stroke-linecap="round"/>
<path d="M1022.4 171L1024 215" stroke="#cc6040" stroke-width="10.2" stroke-linecap="round"/>
<path d="M1024 215L1026 270" stroke="#6298e2" stroke-width="10.2" stroke-linecap="round"/>
<path d="M1082.3 242L1082 270" stroke="#98b566" stroke-width="30" stroke-linecap="round"/>
<path d="M1082.8 186L1082.2 252" stroke="#c89a68" stroke-width="26" stroke-linecap="round"/>
<path d="M1083 172L1082.8 186" stroke="#4c4ac8" stroke-width="28" stroke-linecap="round"/>
<path d="M1082.9 180L1082.5 220" stroke="#cc6040" stroke-width="8.8" stroke-linecap="round"/>
<path d="M1082.5 220L1082 270" stroke="#6298e2" stroke-width="8.8" stroke-linecap="round"/>
<path d="M1129.4 242.6L1130 274" stroke="#98b566" stroke-width="34" stroke-linecap="round"/>
<path d="M1128.3 179.9L1129.6 253.8" stroke="#c89a68" stroke-width="30" stroke-linecap="round"/>
<path d="M1128 164.2L1128.3 179.9" stroke="#4c4ac8" stroke-width="32" stroke-linecap="round"/>
<path d="M1128.2 173.2L1129 218" stroke="#cc6040" stroke-width="10.2" stroke-linecap="round"/>
<path d="M1129 218L1130 274" stroke="#6298e2" stroke-width="10.2" stroke-linecap="round"/>
<path d="M1186.8 252.6L1186 280" stroke="#98b566" stroke-width="34" stroke-linecap="round"/>
<path d="M1188.5 197.7L1186.5 262.4" stroke="#c89a68" stroke-width="30" stroke-linecap="round"/>
<path d="M1188.9 184L1188.5 197.7" stroke="#4c4ac8" stroke-width="32" stroke-linecap="round"/>
<path d="M1188.7 191.8L1187.5 231" stroke="#cc6040" stroke-width="10.2" stroke-linecap="round"/>
<path d="M1187.5 231L1186 280" stroke="#6298e2" stroke-width="10.2" stroke-linecap="round"/>
<path d="M553 366L558.7 396.6" stroke="#9aa7e4" stroke-width="44" stroke-linecap="round"/>
<path d="M566.7 439.4L572 468" stroke="#98b566" stroke-width="32" stroke-linecap="round"/>
<path d="M556 382.3L568.6 449.6" stroke="#c89a68" stroke-width="28" stroke-linecap="round"/>
<path d="M553.4 368L556 382.3" stroke="#4c4ac8" stroke-width="30" stroke-linecap="round"/>
<path d="M554.9 376.2L562.5 417" stroke="#cc6040" stroke-width="9.5" stroke-linecap="round"/>
<path d="M562.5 417L572 468" stroke="#6298e2" stroke-width="9.5" stroke-linecap="round"/>
<path d="M636 324L643.8 360.6" stroke="#9aa7e4" stroke-width="46" stroke-linecap="round"/>
<path d="M654.7 411.8L662 446" stroke="#98b566" stroke-width="34" stroke-linecap="round"/>
<path d="M640.2 343.5L657.3 424" stroke="#c89a68" stroke-width="30" stroke-linecap="round"/>
<path d="M636.5 326.4L640.2 343.5" stroke="#4c4ac8" stroke-width="32" stroke-linecap="round"/>
<path d="M638.6 336.2L649 385" stroke="#cc6040" stroke-width="10.2" stroke-linecap="round"/>
<path d="M649 385L662 446" stroke="#6298e2" stroke-width="10.2" stroke-linecap="round"/>
<path d="M688 316L703 354.4" stroke="#9aa7e4" stroke-width="46" stroke-linecap="round"/>
<path d="M724 408.2L738 444" stroke="#98b566" stroke-width="34" stroke-linecap="round"/>
<path d="M696 336.5L729 421" stroke="#c89a68" stroke-width="30" stroke-linecap="round"/>
<path d="M689 318.6L696 336.5" stroke="#4c4ac8" stroke-width="32" stroke-linecap="round"/>
<path d="M693 328.8L713 380" stroke="#cc6040" stroke-width="10.2" stroke-linecap="round"/>
<path d="M713 380L738 444" stroke="#6298e2" stroke-width="10.2" stroke-linecap="round"/>
<path d="M838 320L843.4 356.6" stroke="#9aa7e4" stroke-width="46" stroke-linecap="round"/>
<path d="M851 407.8L856 442" stroke="#98b566" stroke-width="34" stroke-linecap="round"/>
<path d="M840.9 339.5L852.8 420" stroke="#c89a68" stroke-width="30" stroke-linecap="round"/>
<path d="M838.4 322.4L840.9 339.5" stroke="#4c4ac8" stroke-width="32" stroke-linecap="round"/>
<path d="M839.8 332.2L847 381" stroke="#cc6040" stroke-width="10.2" stroke-linecap="round"/>
<path d="M847 381L856 442" stroke="#6298e2" stroke-width="10.2" stroke-linecap="round"/>
<path d="M914 322L913.4 359.2" stroke="#9aa7e4" stroke-width="44" stroke-linecap="round"/>
<path d="M912.6 411.3L912 446" stroke="#98b566" stroke-width="32" stroke-linecap="round"/>
<path d="M913.7 341.8L912.4 423.7" stroke="#c89a68" stroke-width="28" stroke-linecap="round"/>
<path d="M914 324.5L913.7 341.8" stroke="#4c4ac8" stroke-width="30" stroke-linecap="round"/>
<path d="M913.8 334.4L913 384" stroke="#cc6040" stroke-width="9.5" stroke-linecap="round"/>
<path d="M913 384L912 446" stroke="#6298e2" stroke-width="9.5" stroke-linecap="round"/>
<path d="M976 318L971.8 356.4" stroke="#9aa7e4" stroke-width="44" stroke-linecap="round"/>
<path d="M965.9 410.2L962 446" stroke="#98b566" stroke-width="32" stroke-linecap="round"/>
<path d="M973.8 338.5L964.5 423" stroke="#c89a68" stroke-width="28" stroke-linecap="round"/>
<path d="M975.7 320.6L973.8 338.5" stroke="#4c4ac8" stroke-width="30" stroke-linecap="round"/>
<path d="M974.6 330.8L969 382" stroke="#cc6040" stroke-width="9.5" stroke-linecap="round"/>
<path d="M969 382L962 446" stroke="#6298e2" stroke-width="9.5" stroke-linecap="round"/>
<path d="M1078 332L1067.2 366.8" stroke="#9aa7e4" stroke-width="46" stroke-linecap="round"/>
<path d="M1052.1 415.5L1042 448" stroke="#98b566" stroke-width="34" stroke-linecap="round"/>
<path d="M1072.2 350.6L1048.5 427.1" stroke="#c89a68" stroke-width="30" stroke-linecap="round"/>
<path d="M1077.3 334.3L1072.2 350.6" stroke="#4c4ac8" stroke-width="32" stroke-linecap="round"/>
<path d="M1074.4 343.6L1060 390" stroke="#cc6040" stroke-width="10.2" stroke-linecap="round"/>
<path d="M1060 390L1042 448" stroke="#6298e2" stroke-width="10.2" stroke-linecap="round"/>
<path d="M1140 340L1130.4 373.6" stroke="#9aa7e4" stroke-width="46" stroke-linecap="round"/>
<path d="M1117 420.6L1108 452" stroke="#98b566" stroke-width="34" stroke-linecap="round"/>
<path d="M1134.9 357.9L1113.8 431.8" stroke="#c89a68" stroke-width="30" stroke-linecap="round"/>
<path d="M1139.4 342.2L1134.9 357.9" stroke="#4c4ac8" stroke-width="32" stroke-linecap="round"/>
<path d="M1136.8 351.2L1124 396" stroke="#cc6040" stroke-width="10.2" stroke-linecap="round"/>
<path d="M1124 396L1108 452" stroke="#6298e2" stroke-width="10.2" stroke-linecap="round"/>
<path d="M1200 354L1191 384.6" stroke="#9aa7e4" stroke-width="46" stroke-linecap="round"/>
<path d="M1178.4 427.4L1170 456" stroke="#98b566" stroke-width="34" stroke-linecap="round"/>
<path d="M1195.2 370.3L1175.4 437.6" stroke="#c89a68" stroke-width="30" stroke-linecap="round"/>
<path d="M1199.4 356L1195.2 370.3" stroke="#4c4ac8" stroke-width="32" stroke-linecap="round"/>
<path d="M1197 364.2L1185 405" stroke="#cc6040" stroke-width="10.2" stroke-linecap="round"/>
<path d="M1185 405L1170 456" stroke="#6298e2" stroke-width="10.2" stroke-linecap="round"/>
<path d="M754 378L766 374 778 382 798 392 796 402 772 404 758 400Z" fill="#efeef2"/>
<path d="M600 404l6 -4 6 22 -6 4z" fill="#efeef2"/>
<path d="M525 312.9L575 304.3 625 297 675 290.9 725 286.1 775 282.5 825 280.1 875 279 925 279.1 975 280.5 1025 283.1 1075 286.9 1125 292 1175 298.3 1225 305.8" stroke="#5a73dc" stroke-width="23" stroke-dasharray="34 7"/>
<path d="M525 493.9L575 485.1 625 477.6 675 471.2 725 466.1 775 462.2 825 459.5 875 458 925 457.7 975 458.7 1025 460.9 1075 464.3 1125 468.9 1175 474.7 1225 481.8" stroke="#5a73dc" stroke-width="23" stroke-dasharray="34 9"/>
<path d="M525 324.9L575 316.3 625 309 675 302.9 725 298.1 775 294.5 825 292.1 875 291 925 291.1 975 292.5 1025 295.1 1075 298.9 1125 304 1175 310.3 1225 317.8" stroke="#b84a3a" stroke-width="6" stroke-dasharray="12 36" stroke-dashoffset="-8"/>
<path d="M525 505.9L575 497.1 625 489.6 675 483.2 725 478.1 775 474.2 825 471.5 875 470 925 469.7 975 470.7 1025 472.9 1075 476.3 1125 480.9 1175 486.7 1225 493.8" stroke="#b84a3a" stroke-width="6" stroke-dasharray="12 40" stroke-dashoffset="-8"/>
<path d="M525 333.9L575 325.3 625 318 675 311.9 725 307.1 775 303.5 825 301.1 875 300 925 300.1 975 301.5 1025 304.1 1075 307.9 1125 313 1175 319.3 1225 326.8" stroke="#d7966e" stroke-width="15"/>
<path d="M525 515.9L575 507.1 625 499.6 675 493.2 725 488.1 775 484.2 825 481.5 875 480 925 479.7 975 480.7 1025 482.9 1075 486.3 1125 490.9 1175 496.7 1225 503.8" stroke="#d7966e" stroke-width="15"/>
<path d="M525 522.9L575 514.1 625 506.6 675 500.2 725 495.1 775 491.2 825 488.5 875 487 925 486.7 975 487.7 1025 489.9 1075 493.3 1125 497.9 1175 503.7 1225 510.8 1225 540 525 540Z" fill="#d6e88c"/>
<path d="M525 545.9L575 537.1 625 529.6 675 523.2 725 518.1 775 514.2 825 511.5 875 510 925 509.7 975 510.7 1025 512.9 1075 516.3 1125 520.9 1175 526.7 1225 533.8" stroke="#d7966e" stroke-width="7" opacity=".75" stroke-dasharray="330 800"/>
<path d="M676 534L690 510 720 498 760 492 800 490 842 494 850 534Z" fill="#81789a"/>
<ellipse cx="700" cy="528" rx="24" ry="15" fill="#9aa7e4" transform="rotate(-28 700 528)"/>
<ellipse cx="700" cy="530" rx="19" ry="10.5" fill="#4c4ac8" transform="rotate(-28 700 530)"/>
<ellipse cx="698" cy="533" rx="11" ry="3.6" fill="#cc6040" transform="rotate(-28 698 533)"/>
<ellipse cx="742" cy="520" rx="24" ry="15" fill="#9aa7e4" transform="rotate(-28 742 520)"/>
<ellipse cx="742" cy="522" rx="19" ry="10.5" fill="#4c4ac8" transform="rotate(-28 742 522)"/>
<ellipse cx="740" cy="525" rx="11" ry="3.6" fill="#cc6040" transform="rotate(-28 740 525)"/>
<ellipse cx="790" cy="516" rx="24" ry="15" fill="#9aa7e4" transform="rotate(-28 790 516)"/>
<ellipse cx="790" cy="518" rx="19" ry="10.5" fill="#4c4ac8" transform="rotate(-28 790 518)"/>
<ellipse cx="788" cy="521" rx="11" ry="3.6" fill="#cc6040" transform="rotate(-28 788 521)"/>
<ellipse cx="832" cy="520" rx="24" ry="15" fill="#9aa7e4" transform="rotate(-28 832 520)"/>
<ellipse cx="832" cy="522" rx="19" ry="10.5" fill="#4c4ac8" transform="rotate(-28 832 522)"/>
<ellipse cx="830" cy="525" rx="11" ry="3.6" fill="#cc6040" transform="rotate(-28 830 525)"/>
<path d="M853 510Q980 497 1100 508L1110 534 853 534Z" fill="#a4ead2"/>
<path d="M966.4 521.1h9M966.2 529.1h3M901.1 519.8h3M1053.6 524.7h3M1001.3 516.7h9M1015.6 522.6h3M1008 528.5h3M1061.6 520h6M977.9 523.9h9M1015.8 517h3M1028.7 514.5h3M981.1 506.8h3M953.7 528.9h9M872.3 506.5h3M907.2 530.6h9M947.6 525.1h9M873.8 523h6M938.2 514.4h3M1091.2 526.5h3M969.4 519.1h3M965.2 511.1h3M958.3 516.4h9M958.7 511.7h6M1066.9 532.3h6M1099.5 506.5h3M952.2 529.1h3M858.3 522.5h9M915.3 522.2h6M1007.8 509.4h9M1059.1 509.7h9M900.6 510.2h3M1055.5 512.7h3M1023.6 516.5h9M1003.3 517.4h3M1036.5 516.6h9M1057 522.1h6M982.9 531.1h3M886.8 518.9h3M924.4 530.8h3M1038.8 507.9h9M964.8 507.6h3M924.8 520.3h3M936.8 525.8h3M999.9 530.9h9M1078.1 524.9h3M1034.2 514.6h3M874.4 520.7h3M1049.6 530.7h6M1065.2 531.5h3M1066.7 521.5h9M948.5 506.3h3M875.6 523.3h9M1033.7 516.5h9M963.5 528.6h3M982.6 519.9h6M1002.7 519h3M1089.6 509h9M918.4 506.3h6M1039.9 515.2h9M977.6 512.5h9M1018.5 511.4h9M1052.1 526.4h3M1070.8 516.4h6M907.2 509.6h6M1060.3 528.9h3M1087.8 513.5h3M883.5 518.7h9M949.3 520h6M1030.8 528.7h9M934.2 528.4h6M1069 507.1h6M995.2 514.3h3M1012.4 516.9h3M890.4 507.3h9M882.6 520.5h6M1089.9 524.5h3M1057 512.9h3M1040.2 520.4h3M1026.1 520.1h3M952 527.4h3M877.3 531.2h3M965.9 511.3h3M947.9 521.4h6M969.1 523.6h3M880.1 529.4h3M908 530.3h3M1094.5 520.5h6M919.9 525.4h3M941 508.2h9M939.5 517.4h6M974.9 506.8h3M960.7 506.9h6M1023.5 530.7h9M892.3 519.9h9M1086.8 519.3h3M1040.9 517.9h6M1058.8 521.2h3M983.6 528.8h6M932.1 516.3h3M930.3 509.8h6M995.8 511.4h3M978.8 522.3h3M987.4 507.2h9M988.7 532.7h3M975.8 524.7h3M1083.1 518.4h9M921.7 518.8h3M938.9 530.3h9M984.1 508.9h9M1006.8 531h3M1027.3 532.4h3M903.4 512.1h6M934.6 515.6h9M980.6 512.8h3M1027.1 529.7h3M947.7 517.2h3M987.3 529.3h3M985.2 529h3M912.8 526h6M1076.3 514.5h6M1073.3 511.3h3M1072.6 509.6h3M962.1 531.4h3M905 523h3M1056.3 515.8h6M978.7 524.5h3M1051.9 519h3M994.8 510h3M925.1 524.2h3M942.5 511.7h6M859.2 524.9h3M955.5 515.7h6M954.9 511.3h3M876.7 528.7h9M995 511.2h6M1052.4 513h3M1037.6 527h9M946.2 517.7h3M955 525.5h3M1050.5 514.1h3M858.6 515.6h3M912.6 531.5h6M938.4 523.8h3M986.1 516.5h9M1012.7 524.9h9M1095.1 506.6h3M1036.3 512.9h9M979.2 526.6h9M939.2 520.6h9M1092 521.3h3M1011.7 527.9h3M990.1 524h3M950.3 531.3h9M971.1 510.6h9M988.2 522.1h9M1086.6 517.4h9M1001.9 515.9h6M973.9 513.3h6M1017.9 526.2h3M1075 526.2h3M997.9 525.5h6M972.5 532.3h3M867.1 508.7h9" stroke="#bc5844" stroke-width="3.2"/>
</g>
<rect x="530.5" y="78.5" width="689.5" height="454.5" fill="none" stroke="#111" stroke-width="1.6" stroke-dasharray="4.5 3.5"/>
<clipPath id="cb"><rect x="1290" y="84" width="411" height="444"/></clipPath>
<g clip-path="url(#cb)" fill="none">
<g opacity="1.0" stroke-linecap="round">
<path d="M1685.2 385.5L1690.7 387.1M1682.6 391L1688.2 392.9M1680.7 396.9L1687 399.4M1680.1 402.2L1687.7 405.2M1672.9 405.3L1677.8 407.6M1674.7 412.2L1682.3 416.4M1665 417.6L1669.1 421.7M1664.5 423.7L1670.3 428.7M1659.3 426.4L1663.7 430.5M1655 429.7L1658.6 433.6M1652.6 434.7L1657.2 438.9M1649 438.5L1654.1 442.1M1643.8 443L1648.1 446.9M1640.8 450L1645.4 456.5M1636.9 450.2L1641.8 454.7M1631.5 457.8L1636.3 464.6M1624.4 457.6L1627.5 462.7M1622.9 461.7L1627.6 467.8M1615.2 462.9L1617.7 468.4M1612 467.5L1615.4 474.3M1605.9 469.3L1608.6 475.8M1601.3 471.4L1604.6 477.7M1595.1 473.5L1597.8 479.7M1592.9 476.9L1597.2 484M1589.5 478.5L1594.6 485.4M1580.9 479.7L1583.9 486.3M1574.4 482.7L1577.1 489.8M1571.2 485.5L1574.5 493.5M1564.8 482.8L1567.3 488.3M1557.9 484.2L1559.1 489.8M1553.1 487.4L1554.4 494.3M1550.8 489L1553.5 496.4M1542.9 491.1L1544.6 499.3M1534.7 489.9L1534.7 497M1530.2 491.6L1531.4 499.3M1524.8 491.9L1526 499.5M1516.7 490.6L1516.8 497.1M1509.4 491.9L1508.5 499M1503.3 493.8L1502.6 501.8M1498.5 491.9L1498.3 498.6M1493.5 493.9L1494.2 501.7M1487 490.2L1486.8 495.7M1481.5 493L1481.9 500.4M1472.6 492.1L1471.3 499.4M1469.9 488.2L1469.7 493.5M1463.2 488.9L1462.8 495.6M1455.3 487.3L1453.8 494.2M1451.5 484.2L1450.8 490.2M1443 485.1L1440.7 493.1M1439.1 483L1437.6 491.1M1432.1 475.3L1430.1 480.7M1428.4 473.8L1426.6 479.6M1421.1 471.7L1417.7 477.6M1413.7 469.1L1408.8 475.2M1411.8 465.7L1408.3 471.3M1407.6 461L1404.1 465.2M1402 459.7L1398 464.9M1399.3 457.8L1396.3 463.7M1393.3 453.2L1389.3 458.3M1385.7 450.6L1380.2 456.4M1382.8 448.6L1378.3 455.5M1377.7 438.6L1373.1 442.1M1370.8 435.6L1364.4 439.9M1371.9 433.6L1367.9 438.7M1366.8 427.6L1361.9 431.4M1363.1 423.3L1358.5 427.4M1361.3 419.4L1357.5 423.4M1354.8 418L1348.6 423.4M1351.3 412.8L1345.3 417.9M1347.7 406.6L1341.5 410.8M1346 398.4L1340.8 400.5M1337.7 394.4L1329.6 397.6M1339.8 390.1L1334.9 393.6M1336.1 383L1330.6 385.3M1332.9 376.9L1327.1 379.1M1327.2 372.9L1319 375.5M1328.4 368.1L1322 371.1M1325.7 357.9L1318.8 358.6M1322.9 355.1L1315 357.8M1323.7 349.4L1316.9 352.4M1323.7 340.6L1317.5 342M1322.9 337.3L1316.7 339.5M1319.7 332.2L1311.9 334.4M1321.5 323.1L1315.1 323.4M1321.3 318.4L1315.3 319.7M1320.1 308.7L1313.7 308.1M1316.4 302L1307.9 300.5M1316.8 300.9L1308.6 301.7M1321.1 293.1L1315.7 293.1M1316.7 288.5L1308.4 288.5M1317.5 282.4L1309.5 282.3M1319.1 274.3L1311.7 272.9M1321.6 269.4L1315.2 268M1324.3 262.5L1318.8 260.8M1324.2 260.1L1318 259.8M1324.5 250.6L1317.8 247.2M1327 244.2L1320.7 240.7M1328.2 244.2L1321.9 243.3M1327.1 236L1319 233.5M1332.4 231.2L1326.4 229.1M1333.4 224L1327 220.2M1335 217.3L1328 213.2M1337.4 211.7L1330.5 207.3M1342.7 206L1337.2 201.3M1343.4 201L1336.5 196.5M1349 196.5L1343.7 191.6M1349.3 191.9L1342.5 186.6M1355.4 189.8L1350.2 185.7M1358 185.9L1351.8 182.4M1365.5 181.3L1361.5 177.2M1370.4 174.8L1366.5 169.4M1373.1 169L1367.8 162.8M1377.9 170.6L1373.5 167.2M1382 162.4L1377.8 156M1387.3 159.2L1383.2 153.5M1391.9 156.2L1388.2 150.7M1396.5 150.4L1392.4 143.8M1402 150.1L1398.3 145.6M1403.4 143.4L1398 136.5M1410.9 145L1407.7 140.7M1414.9 140.9L1411.4 135.7M1419.4 139.7L1416 135.1M1426 132.8L1423.5 125.6M1430.3 135.1L1427.2 130.7M1438.8 129.7L1437.5 123.3M1440.1 125.9L1436.2 118.4M1449.9 127.2L1449.2 121.3M1454 123.6L1452.4 116.5M1458.6 123L1456.9 116.3M1461.9 124.1L1459.5 118.7M1467.6 123.6L1465.5 118.6M1472.8 118.1L1470.1 110.5M1482.3 120.4L1481.5 114.8M1487.6 119.5L1486.7 113.7M1494.7 119.5L1495 113.9M1500 117.8L1499.8 111.2M1507 115.8L1508 107.9M1511.1 118L1511.4 111.2M1519.7 116L1521.6 107.6M1525.8 120.5L1527.3 114.2M1529.3 121.5L1529.7 115.2M1536.6 124.3L1538.5 119.2M1543.1 124.4L1545.1 118.4M1545.8 121.9L1546.5 113.7M1554 128.1L1556.5 122.9M1559.6 124.3L1562.4 116.1M1562.8 128.9L1564.7 122.9M1569.6 127L1571.9 118.7M1573.4 130.2L1574.7 123M1582.7 133.4L1586.7 127.1M1584.1 133.6L1586.2 126.5M1592.9 136L1597.3 129.1M1595.3 138.7L1598.7 132.3M1598.4 137.9L1601.1 129.6M1605.8 147.9L1609.4 143.8M1609.1 147.1L1612.2 140.9M1614.6 152L1618.8 147.2M1620.3 154.9L1624.8 149.6M1627 156.8L1632.7 150.5M1628.5 161.6L1632.9 156.4M1633.2 162.5L1638 155.7M1641.5 169.2L1648.3 163.8M1645.4 173L1651.6 167.1M1648.4 180.6L1654.2 177.1M1655.4 184.8L1662.8 180.8M1654.4 189.2L1658.7 184.9M1659.3 191.6L1664.8 186.4M1661.9 200.4L1667.3 197.9M1663.2 203.7L1667.5 200.3M1670.5 210.3L1677.5 207.7M1673.6 212.4L1681.2 208.5M1672.3 217.6L1677.8 214.2M1675.9 224.3L1682 221.5M1677.8 231.8L1683.5 230.2M1681.9 233.4L1688.6 229.4M1685.8 242.1L1693.5 239.9M1685.4 249.2L1691.5 248.1M1690.6 252L1698.4 248.9M1692.6 261.2L1700.6 260.4M1694.8 264L1703 261.2M1693.2 268.9L1699.6 266.4M1694.5 279.3L1700.9 279.1M1697 281.4L1704.6 279.5M1696.1 288.9L1702.8 287.7M1698.2 294.9L1706.1 294M1697.6 304.3L1705.1 305.7M1693.9 308.4L1699.4 308.9M1696.5 315.3L1704.3 317M1693.2 317.1L1700 316.6M1692 324.9L1699.9 325.1M1689.7 330.2L1698.3 330.1M1683.3 338.5L1690 340.3M1678.6 345.5L1684.9 348.3M1676.9 350L1684.2 352.7M1673.9 351.9L1681.8 352.9M1670.3 355.6L1678.1 356.5M1662.4 363.4L1668.1 366M1658.8 368.5L1664.1 371.8M1656.7 373.8L1662.9 376.8M1655.5 379.1L1663.1 381.7M1648.4 384.8L1653.7 387.8M1644.8 392.4L1650 396.8M1642.7 397.7L1648.8 401.9M1640.9 401.7L1648 405.5M1634.2 410.1L1639.7 415.6M1629.2 416.3L1634.2 422.5M1625.9 420.6L1630.7 427.3M1622.5 419.9L1627.4 424M1616.7 423.8L1621.2 427.5M1614.5 428.4L1619.9 433.3M1606.4 431.6L1609.6 436.6M1602.3 434.5L1606 439.4M1597.7 436.3L1601.8 440.7M1590 440.1L1592 445.6M1587.7 442.2L1591.5 447.5M1579.8 443.9L1582.3 448.7M1578.2 449.5L1582.5 456.6M1570.5 452.6L1573.6 460.3M1565.5 453.6L1568.6 460.7M1560.1 456.4L1563.8 464.1M1552.1 453.6L1553.8 458.7M1548 459.3L1550.8 467M1542.4 456.3L1544.8 461.7M1536.4 461.6L1538.8 469.6M1527.4 459.5L1528 465.8M1520.1 462.3L1519.9 470.1M1513.7 461.2L1513.2 468.1M1509 459.4L1508.8 464.9M1500 463.1L1498.3 470.6M1496.2 461.4L1495.2 467.7M1491.3 462.1L1491 468.8M1485.6 463.2L1484.7 470.8M1480 463.2L1478.7 471M1473 462L1470.5 469.7M1470.4 461.2L1469.6 469.3M1461.5 457.4L1458.8 464.4M1455.9 454.4L1453.4 461.2M1450.6 450.6L1447.7 456.6M1445.6 451.1L1442.9 459.3M1441.9 444.2L1439.7 449.9M1435.5 442.8L1432.8 450M1431.4 437.6L1429 443.7M1423 435.8L1418 442.6M1420.6 428.2L1416.7 432.3M1414.6 427L1410 433M1410.3 420L1405.6 424.1M1407.4 418.2L1403.3 423.6M1404.6 414.7L1400.7 420.2M1398.1 408.6L1392.3 413M1397 402.3L1392.8 406.2M1388.5 398.7L1381 403.2M1390 393.1L1385.2 396.9M1387.1 387.7L1382.4 390.9M1379.5 382.1L1372.2 385.5M1379 375.9L1372.8 378.1M1377.5 371.7L1372.2 374.9M1372.5 365.3L1365.3 367.1M1371.2 361L1364.5 363.6M1369.7 353.6L1363 355M1370.1 348.3L1364.4 349.7M1368 342.1L1361.6 343.6M1367.4 337.9L1360.9 339.8M1368.1 331.5L1362.3 333.5M1365 326L1357.5 328.4M1367.6 316.5L1362 316.2M1362.8 310.2L1354.5 310.1M1366.5 305.1L1360.9 305.8M1364.9 299.3L1358.4 299.5M1364.6 292.9L1358 293.3M1366.3 287.3L1360.6 287.1M1365.6 280.6L1359.2 279.6M1364 274.9L1356.2 273.6M1365.8 267.6L1358.6 265.2M1366.6 264.8L1359.3 263.7M1370.4 255.5L1364.7 252.2M1369.9 249.1L1363.1 245M1370.4 242.5L1363 237.8M1376.2 240.8L1371.4 238.2M1375.3 233.6L1368.7 230.4M1379.7 224.2L1374.1 219M1381.3 220.4L1375.3 215.5M1384.3 217.5L1378.3 213.5M1385 212L1377.7 207.2M1393.6 210.2L1389 207.2M1398.5 203.9L1394.9 199.4M1399.6 199.5L1394.3 194.8M1402.2 195.3L1396.2 190.3M1408.2 190.5L1403.4 185M1415.6 187.7L1413.1 182.9M1420.7 182.6L1418.4 177.5M1423.3 176.9L1420 170.5M1427.3 174.9L1424.3 169.2M1431.3 169.7L1427.5 163.1M1437.5 167L1434.2 161M1443.3 162.7L1440.1 155.9M1448.1 159.2L1444.5 151.6M1456.3 157.7L1454.8 150.5M1463 153.8L1462.1 145.4M1467.9 152.3L1466.6 144.2M1472.7 153.3L1470.8 146.8M1479.8 152.6L1478.1 146.5M1484.6 150.2L1482.7 143.3M1494 150.5L1494.5 144.3M1499.4 147.9L1500 140.3M1505.2 149.2L1506.1 142.4M1509.2 148.1L1508.7 140.3M1516 149.9L1515.6 142.6M1522.8 150.5L1523.1 142.9M1529 152.6L1529.6 145.4M1536.1 157.1L1537.5 151.8M1539.7 155.5L1540.2 148.6M1549.6 158.3L1552.6 152.2M1553.4 157.4L1554.9 149.8M1556.8 161.8L1557.6 156.1M1566.2 164.7L1569.4 159.8M1574.7 163.5L1579.2 156.5M1575.6 166.6L1578 160.3M1583.4 173.2L1586.9 169.1M1589.7 173.1L1593.8 167.1M1591.8 178.6L1594.9 174.3M1596.8 182.1L1600.3 178M1605 182.7L1610.4 176.4M1606.2 189.4L1609.9 185.3M1611.2 189.9L1615.4 183.7M1615.2 195.4L1619.6 190.4M1620.8 199.2L1626.1 194.1M1626.7 203L1633.5 197.8M1629.2 210.9L1635.1 207.7M1629.3 214.8L1633.6 211.7M1636.5 216.7L1643.3 211.4M1637.4 221.1L1643.3 215.9M1638.7 230.7L1643.6 227.8M1642 237.1L1647.4 234.6M1645.2 242L1651.2 239.3M1648.9 247.4L1656 245.2M1651.9 251.7L1659.6 249.4M1652.6 258.1L1659.5 256.7M1653.2 264.3L1659.3 263.6M1654.2 269.3L1659.6 268M1656.4 277.3L1662.2 277.3M1659.8 280.2L1666.9 278.6M1658.5 287.4L1664.3 287M1660 294.1L1666.4 294M1660.1 297.6L1666.5 296.7M1659.1 304.1L1665.1 304M1662 311.3L1670.1 311.9M1660.8 313.8L1668.6 313.1M1659.9 324.9L1668 327.1M1655.2 326.9L1661.3 327.4M1655.9 337L1663.4 339.9M1655 341L1663.1 343.3M1650.7 343.8L1657.5 344.6M1648.6 349.2L1655.7 350.5M1645.4 357.3L1652.3 360.6M1642.1 361.1L1649 364.2M1636.7 367.5L1642.9 371.2M1632.5 373.2L1639.1 377.3M1626.8 374.9L1632.4 377.5M1626.4 380.2L1633.9 383.9M1616.6 384.1L1620.8 387.5M1617.1 388.7L1623.7 392.9" stroke="#b8de29" stroke-width="3"/>
<path d="M1681.2 384.4L1685.8 385.7M1678.4 389.7L1683.2 391.2M1676.1 395L1681.4 397.1M1674.4 400L1680.9 402.5M1669.3 403.6L1673.4 405.5M1669.1 409.1L1675.5 412.7M1662 414.6L1665.5 418M1660.2 420L1665.1 424.2M1656 423.3L1659.7 426.8M1652.2 426.8L1655.3 430.1M1649.2 431.6L1653.1 435.2M1645.2 435.9L1649.5 438.9M1640.6 440L1644.2 443.4M1637.4 445.3L1641.3 450.7M1633.4 446.9L1637.5 450.7M1627.9 452.8L1632 458.5M1622.2 453.9L1624.8 458.1M1619.4 457.3L1623.4 462.4M1613.3 458.9L1615.4 463.5M1609.4 462.5L1612.3 468.2M1603.8 464.5L1606.1 470M1598.8 466.8L1601.6 472.1M1593.1 468.9L1595.4 474.2M1589.8 471.6L1593.3 477.6M1585.8 473.3L1590 479.2M1578.8 474.9L1581.3 480.4M1572.5 477.4L1574.7 483.4M1568.7 479.6L1571.5 486.3M1562.9 478.8L1565 483.4M1557.1 480L1558.1 484.8M1552.1 482.3L1553.2 488.1M1548.8 483.5L1551.1 489.8M1541.6 485.1L1543 492M1534.8 484.7L1534.7 490.7M1529.3 485.9L1530.3 492.4M1523.8 486.3L1524.9 492.7M1516.6 485.8L1516.7 491.3M1510 486.7L1509.3 492.7M1503.7 487.9L1503.2 494.6M1498.6 487L1498.5 492.6M1493 488.2L1493.6 494.8M1487.1 486.1L1487 490.7M1481.2 487.5L1481.5 493.7M1473.5 486.7L1472.5 492.8M1470 484.2L1469.9 488.7M1463.4 484L1463.1 489.6M1456.4 482.3L1455.1 488.1M1452 479.8L1451.4 484.8M1444.7 479.2L1442.7 486M1440.1 476.9L1438.9 483.8M1433.6 471.4L1431.9 475.9M1429.7 469.6L1428.2 474.4M1423.7 467.3L1420.8 472.3M1417.4 464.7L1413.2 469.8M1414.4 461.7L1411.4 466.3M1410.1 457.9L1407.2 461.4M1404.9 455.8L1401.5 460.2M1401.5 453.5L1399 458.4M1396.2 449.5L1392.8 453.8M1389.7 446.3L1385.1 451.2M1386.1 443.5L1382.3 449.3M1381.2 435.9L1377.2 438.9M1375.6 432.5L1370.2 436.1M1374.7 429.9L1371.4 434.1M1370.4 424.8L1366.3 428M1366.5 420.2L1362.6 423.7M1364.2 416.4L1360.9 419.8M1359.3 414L1354.1 418.6M1355.7 408.9L1350.7 413.3M1352.3 403.5L1347 407M1349.8 396.8L1345.4 398.6M1343.6 392.1L1336.8 394.8M1343.4 387.4L1339.3 390.4M1340.2 381.4L1335.6 383.3M1337.2 375.3L1332.3 377.2M1333.3 371L1326.3 373.2M1333.1 365.8L1327.7 368.4M1330.9 357.3L1325 357.9M1328.7 353L1322 355.3M1328.6 347.3L1322.9 349.8M1328.2 339.5L1323 340.7M1327.5 335.7L1322.3 337.5M1325.5 330.6L1318.9 332.4M1326.1 322.8L1320.8 323.1M1325.8 317.4L1320.7 318.5M1324.9 309.1L1319.5 308.6M1322.7 303.1L1315.5 301.9M1322.8 300.2L1315.9 300.9M1325.1 293L1320.6 293.1M1322.8 288.5L1315.8 288.5M1323.4 282.5L1316.7 282.4M1324.6 275.4L1318.4 274.2M1326.3 270.3L1320.9 269.2M1328.4 263.8L1323.8 262.3M1328.8 260.4L1323.6 260.1M1329.5 253.1L1323.8 250.2M1331.6 246.8L1326.3 243.8M1332.9 244.8L1327.6 244.1M1333.1 237.8L1326.3 235.7M1336.8 232.7L1331.8 231M1338.1 226.7L1332.7 223.6M1340.1 220.4L1334.2 216.9M1342.6 215L1336.7 211.3M1346.7 209.4L1342.1 205.5M1348.5 204.4L1342.7 200.6M1352.8 200.1L1348.4 196M1354.3 195.9L1348.6 191.4M1359.2 192.8L1354.8 189.3M1362.6 188.5L1357.4 185.5M1368.4 184.3L1365.1 180.8M1373.2 178.7L1369.9 174.2M1376.9 173.6L1372.5 168.3M1381.2 173L1377.5 170.2M1385.1 167.1L1381.6 161.8M1390.3 163.4L1386.9 158.6M1394.6 160.3L1391.5 155.6M1399.5 155.2L1396.1 149.7M1404.8 153.4L1401.7 149.6M1407.3 148.5L1402.8 142.7M1413.3 148.1L1410.6 144.5M1417.5 144.7L1414.6 140.3M1421.9 143L1419 139.2M1427.8 138.1L1425.7 132M1432.6 138.3L1430 134.6M1439.7 134.4L1438.7 129M1443 131.5L1439.7 125.1M1450.4 131.5L1449.8 126.6M1455.2 128.8L1453.8 122.8M1459.8 127.9L1458.4 122.3M1463.7 128L1461.7 123.5M1469.1 127.2L1467.4 123M1474.8 123.7L1472.5 117.3M1482.9 124.5L1482.2 119.8M1488.2 123.7L1487.5 118.8M1494.4 123.6L1494.7 118.9M1500.2 122.6L1500 117.1M1506.2 121.5L1507.1 115M1510.9 122.9L1511.2 117.3M1518.3 122.2L1519.9 115.1M1524.7 125.1L1525.9 119.8M1529 126.1L1529.3 120.9M1535.2 128.1L1536.8 123.8M1541.7 128.8L1543.3 123.8M1545.3 127.9L1545.8 121.1M1552.2 131.9L1554.3 127.5M1557.5 130.3L1559.9 123.4M1561.3 133.4L1563 128.3M1567.9 133L1569.8 126.1M1572.4 135.5L1573.5 129.5M1579.8 138L1583.1 132.7M1582.5 138.8L1584.3 132.8M1589.6 141.1L1593.3 135.3M1592.8 143.4L1595.7 138M1596.4 143.9L1598.7 137M1603.1 151L1606.2 147.5M1606.8 151.7L1609.4 146.5M1611.5 155.6L1615 151.5M1617 158.9L1620.8 154.4M1622.7 161.5L1627.6 156.2M1625.2 165.5L1628.9 161.1M1629.7 167.6L1633.7 161.8M1636.5 173.2L1642.2 168.6M1640.7 177.3L1646 172.4M1644.2 183.3L1649 180.3M1650 187.7L1656.2 184.4M1651.3 192.4L1654.9 188.7M1655.2 195.5L1659.9 191M1658 202.3L1662.5 200.2M1659.9 206.1L1663.6 203.3M1665.3 212.2L1671.2 210M1668.1 215.4L1674.4 212M1668.3 220.2L1672.9 217.3M1671.4 226.3L1676.5 224M1673.6 233L1678.4 231.7M1677 236.4L1682.6 233M1680.2 243.7L1686.6 241.8M1680.9 249.9L1686.1 249.1M1684.8 254.3L1691.4 251.7M1686.8 261.7L1693.5 261.1M1688.8 266.1L1695.7 263.7M1688.4 270.8L1693.8 268.6M1689.7 279.4L1695.2 279.2M1691.4 282.8L1697.8 281.2M1691.2 289.7L1696.8 288.7M1692.4 295.5L1699.1 294.8M1692 303.2L1698.4 304.4M1689.8 308.1L1694.4 308.5M1690.7 314.1L1697.3 315.5M1688.1 317.5L1693.9 317.1M1686.1 324.7L1692.8 324.9M1683.4 330.2L1690.6 330.2M1678.4 337.2L1684 338.7M1674 343.4L1679.3 345.8M1671.4 347.9L1677.6 350.3M1668 351.1L1674.7 352M1664.5 354.9L1671.1 355.7M1658.3 361.5L1663 363.7M1654.9 366.2L1659.3 368.9M1652.1 371.6L1657.3 374.1M1649.9 377.1L1656.3 379.4M1644.5 382.6L1648.9 385.1M1641 389.1L1645.4 392.8M1638.1 394.5L1643.3 398.1M1635.6 398.9L1641.6 402.1M1630.2 406L1634.8 410.7M1625.6 411.7L1629.8 416.9M1622.4 415.6L1626.4 421.3M1618.8 416.9L1623 420.4M1613.4 421L1617.2 424.2M1610.6 424.8L1615.1 428.9M1604.1 427.9L1606.8 432.1M1599.6 430.8L1602.7 435M1594.6 433.1L1598.1 436.8M1588.5 436.1L1590.2 440.7M1584.9 438.3L1588.1 442.7M1577.9 440.4L1580 444.4M1575 444.3L1578.6 450.3M1568.3 447L1570.8 453.5M1563.2 448.3L1565.8 454.3M1557.4 450.8L1560.5 457.2M1550.8 449.9L1552.3 454.2M1545.9 453.6L1548.3 460.1M1540.6 452.4L1542.6 456.9M1534.7 455.6L1536.7 462.4M1526.9 454.8L1527.5 460.1M1520.3 456.6L1520.1 463.1M1514 456.2L1513.6 462M1509.2 455.4L1509 460M1501.2 457.6L1499.8 463.9M1497 456.8L1496.1 462.1M1491.5 457.1L1491.3 462.8M1486.2 457.7L1485.5 464M1480.9 457.4L1479.8 464M1474.9 456.4L1472.7 462.8M1470.9 455.3L1470.3 462.1M1463.5 452.3L1461.2 458.2M1457.8 449.4L1455.7 455.1M1452.7 446.2L1450.3 451.2M1447.6 445L1445.3 452M1443.6 439.9L1441.7 444.8M1437.5 437.5L1435.2 443.6M1433.2 433.2L1431.1 438.3M1426.6 430.7L1422.5 436.5M1423.5 425.1L1420.2 428.6M1418 422.6L1414.1 427.6M1413.8 417.1L1409.8 420.5M1410.5 414.2L1407 418.8M1407.5 410.6L1404.2 415.3M1402.4 405.3L1397.5 409.1M1400 399.5L1396.5 402.7M1394 395.4L1387.7 399.2M1393.6 390.3L1389.5 393.5M1390.6 385.2L1386.6 388M1384.9 379.6L1378.8 382.4M1383.5 374.3L1378.3 376.1M1381.3 369.4L1376.9 372M1377.7 363.9L1371.7 365.5M1376.1 359.1L1370.5 361.3M1374.6 352.6L1369 353.8M1374.3 347.3L1369.5 348.5M1372.8 341L1367.4 342.2M1372.2 336.5L1366.7 338.1M1372.4 330L1367.5 331.7M1370.5 324.2L1364.2 326.3M1371.7 316.8L1367 316.5M1368.8 310.4L1361.9 310.2M1370.7 304.6L1365.9 305.2M1369.6 299.1L1364.2 299.3M1369.4 292.6L1363.9 292.9M1370.4 287.4L1365.7 287.3M1370.3 281.3L1364.9 280.5M1369.7 275.9L1363.1 274.8M1371.1 269.3L1365.1 267.3M1372 265.6L1365.8 264.7M1374.6 258L1369.8 255.2M1374.9 252.1L1369.1 248.7M1375.8 246L1369.6 242M1379.7 242.6L1375.7 240.5M1380.2 235.9L1374.6 233.3M1383.8 228L1379.1 223.6M1385.7 224L1380.7 219.9M1388.6 220.4L1383.6 217M1390.3 215.6L1384.2 211.5M1396.9 212.3L1393.1 209.8M1401.1 207.2L1398.1 203.4M1403.5 202.9L1399 199M1406.6 199L1401.5 194.8M1411.7 194.5L1407.7 189.9M1417.5 191.2L1415.4 187.2M1422.5 186.4L1420.5 182M1425.7 181.6L1423 176.2M1429.5 179.2L1427 174.3M1434.1 174.5L1430.9 169M1439.9 171.5L1437.1 166.4M1445.6 167.8L1442.9 162M1450.6 164.7L1447.7 158.4M1457.3 163L1456.1 157M1463.7 159.9L1462.9 152.9M1468.9 158.3L1467.8 151.5M1474.2 158.1L1472.5 152.6M1481 157L1479.6 151.9M1486 155.3L1484.4 149.5M1493.6 155.1L1494 149.9M1498.9 153.5L1499.4 147.1M1504.6 154.3L1505.3 148.5M1509.6 153.9L1509.1 147.3M1516.2 155.3L1515.9 149.1M1522.6 156.1L1522.8 149.7M1528.6 157.9L1529.1 151.8M1535.1 161L1536.3 156.5M1539.3 160.7L1539.7 154.8M1547.4 162.8L1549.9 157.7M1552.3 163L1553.6 156.6M1556.2 166L1556.9 161.2M1563.9 168.3L1566.6 164.2M1571.4 168.7L1575.2 162.8M1573.8 171.2L1575.9 165.9M1580.8 176.2L1583.7 172.8M1586.6 177.6L1590.1 172.5M1589.5 181.8L1592.1 178.1M1594.2 185.2L1597.2 181.7M1601 187.3L1605.5 182M1603.4 192.5L1606.6 189M1608.1 194.5L1611.7 189.3M1611.9 199L1615.6 194.8M1616.9 203L1621.3 198.7M1621.7 206.8L1627.4 202.5M1624.8 213.3L1629.8 210.6M1626.1 217.1L1629.7 214.5M1631.5 220.5L1637.2 216.1M1633.1 224.9L1638 220.5M1635 232.7L1639.2 230.4M1638.1 239L1642.6 236.9M1640.8 244L1645.8 241.8M1643.7 249.1L1649.7 247.2M1646.2 253.5L1652.7 251.5M1647.5 259.2L1653.3 258M1648.7 264.8L1653.8 264.2M1650.2 270.3L1654.8 269.2M1652.2 277.3L1657.1 277.3M1654.6 281.4L1660.6 280M1654.3 287.8L1659.1 287.4M1655.2 294.2L1660.6 294.1M1655.3 298.3L1660.8 297.5M1654.7 304.2L1659.8 304.1M1656 310.8L1662.8 311.3M1655 314.3L1661.6 313.7M1653.9 323.2L1660.8 325.1M1650.8 326.6L1655.9 327M1650.3 334.9L1656.7 337.3M1649 339.3L1655.9 341.2M1645.6 343.1L1651.4 343.9M1643.3 348.3L1649.3 349.4M1640.2 354.8L1646.1 357.6M1637 358.9L1642.8 361.5M1632.1 364.7L1637.3 367.9M1627.7 370.2L1633.2 373.6M1622.7 373L1627.4 375.2M1620.9 377.5L1627.2 380.6M1613.5 381.6L1617.1 384.4M1612.2 385.6L1617.8 389.1" stroke="#6ccd5a" stroke-width="3.2"/>
<path d="M1678 383.4L1681.8 384.5M1675.2 388.6L1679 389.9M1672.5 393.6L1676.8 395.3M1670 398.3L1675.2 400.4M1666.4 402.2L1669.8 403.8M1664.6 406.7L1669.9 409.6M1659.7 412.2L1662.5 415M1656.9 417.1L1660.9 420.5M1653.4 420.9L1656.4 423.8M1650.1 424.6L1652.6 427.3M1646.5 429.2L1649.7 432.1M1642.2 433.8L1645.7 436.3M1638.1 437.7L1641 440.5M1634.7 441.5L1637.9 446M1630.6 444.3L1633.9 447.4M1625.1 448.9L1628.4 453.5M1620.4 451L1622.5 454.4M1616.6 453.8L1619.9 457.9M1611.9 455.8L1613.6 459.5M1607.4 458.6L1609.8 463.2M1602.3 460.8L1604.1 465.2M1596.8 463.2L1599.1 467.5M1591.5 465.3L1593.4 469.6M1587.3 467.5L1590.2 472.4M1582.8 469.3L1586.3 474.1M1577.1 471.1L1579.1 475.6M1570.9 473.3L1572.8 478.2M1566.8 474.9L1569.1 480.4M1561.4 475.6L1563.2 479.3M1556.4 476.7L1557.2 480.6M1551.3 478.2L1552.2 483M1547.2 479.2L1549 484.3M1540.6 480.4L1541.8 486M1534.8 480.7L1534.8 485.5M1528.5 481.5L1529.4 486.7M1523.1 481.9L1524 487.1M1516.5 482L1516.6 486.5M1510.5 482.6L1509.9 487.5M1504.1 483.3L1503.6 488.8M1498.8 483.2L1498.6 487.7M1492.6 483.7L1493 489M1487.2 482.9L1487.1 486.7M1481 483.2L1481.3 488.3M1474.3 482.4L1473.4 487.4M1470.1 481.1L1470 484.8M1463.7 480.1L1463.4 484.7M1457.2 478.4L1456.2 483M1452.4 476.3L1451.9 480.4M1446 474.6L1444.4 480.1M1441 472.2L1440 477.8M1434.7 468.3L1433.4 472M1430.7 466.3L1429.5 470.2M1425.7 463.9L1423.3 467.9M1420.3 461.2L1416.9 465.3M1416.4 458.5L1414 462.3M1412.2 455.5L1409.8 458.3M1407.2 452.8L1404.5 456.4M1403.3 450.1L1401.2 454.1M1398.5 446.6L1395.8 450.1M1392.9 442.9L1389.2 446.9M1388.8 439.5L1385.7 444.2M1383.9 433.9L1380.7 436.3M1379.3 430.1L1374.9 433M1377 426.9L1374.3 430.4M1373.3 422.6L1369.9 425.2M1369.2 417.8L1366 420.6M1366.4 414.1L1363.8 416.8M1362.9 410.8L1358.6 414.6M1359.2 405.9L1355.1 409.5M1355.9 401.1L1351.6 404M1352.8 395.6L1349.3 397.1M1348.2 390.3L1342.7 392.4M1346.2 385.3L1342.9 387.8M1343.4 380.1L1339.6 381.6M1340.6 374L1336.6 375.5M1338 369.5L1332.4 371.2M1336.8 364L1332.4 366.1M1334.9 356.9L1330.1 357.4M1333.2 351.4L1327.8 353.3M1332.6 345.6L1327.9 347.6M1331.8 338.7L1327.6 339.7M1331.2 334.4L1326.9 335.9M1330 329.3L1324.7 330.8M1329.8 322.6L1325.5 322.8M1329.3 316.6L1325.1 317.5M1328.6 309.4L1324.2 309M1327.6 304L1321.8 303M1327.5 299.7L1321.9 300.3M1328.3 293L1324.6 293.1M1327.6 288.5L1321.9 288.5M1328 282.6L1322.6 282.5M1328.9 276.2L1323.8 275.2M1330 271.1L1325.7 270.2M1331.6 264.8L1327.8 263.6M1332.4 260.6L1328.1 260.4M1333.4 255L1328.8 252.7M1335.3 248.8L1331 246.4M1336.5 245.3L1332.2 244.7M1337.8 239.2L1332.2 237.6M1340.3 233.9L1336.2 232.5M1341.8 228.9L1337.5 226.4M1344.1 222.9L1339.4 220M1346.6 217.6L1341.8 214.5M1349.9 212.1L1346.2 208.9M1352.5 207.1L1347.8 203.9M1355.8 202.9L1352.3 199.6M1358.2 199L1353.6 195.3M1362.2 195.1L1358.7 192.4M1366.2 190.6L1362 188.1M1370.7 186.6L1368 183.8M1375.5 181.8L1372.8 178.1M1379.9 177.2L1376.3 172.9M1383.8 174.9L1380.7 172.7M1387.5 170.8L1384.6 166.4M1392.7 166.7L1389.9 162.8M1396.8 163.5L1394.2 159.7M1401.9 159.1L1399.1 154.5M1407 156L1404.4 152.9M1410.4 152.5L1406.7 147.7M1415.2 150.6L1413 147.7M1419.6 147.7L1417.2 144.1M1423.8 145.6L1421.5 142.5M1429.2 142.3L1427.5 137.3M1434.4 140.8L1432.2 137.8M1440.4 138.1L1439.6 133.7M1445.2 135.8L1442.5 130.7M1450.8 134.9L1450.3 130.9M1456.1 132.9L1455 128.1M1460.7 131.8L1459.6 127.2M1465.1 131.1L1463.4 127.5M1470.3 130.1L1468.9 126.7M1476.4 128.1L1474.5 122.9M1483.3 127.7L1482.8 123.9M1488.7 127.1L1488.1 123.1M1494.2 126.8L1494.5 123M1500.3 126.4L1500.1 121.9M1505.6 126.1L1506.3 120.7M1510.8 126.8L1511 122.2M1517.2 127L1518.5 121.3M1523.8 128.7L1524.8 124.4M1528.8 129.8L1529.1 125.5M1534.1 131.1L1535.4 127.6M1540.5 132.3L1541.9 128.2M1544.8 132.7L1545.3 127.1M1550.8 134.9L1552.5 131.3M1555.8 135.1L1557.8 129.5M1560.2 136.9L1561.5 132.7M1566.6 137.8L1568.2 132.2M1571.6 139.7L1572.5 134.8M1577.5 141.6L1580.2 137.3M1581.3 143L1582.7 138.1M1587 145.1L1590 140.4M1590.9 147.2L1593.2 142.8M1594.9 148.7L1596.7 143.1M1601 153.4L1603.5 150.5M1605 155.3L1607.1 151.1M1609.1 158.4L1612 155.1M1614.4 162L1617.5 158.3M1619.4 165.2L1623.3 160.9M1622.6 168.5L1625.7 164.9M1627 171.5L1630.2 166.8M1632.5 176.3L1637.2 172.6M1637.1 180.6L1641.4 176.6M1640.9 185.3L1644.8 182.9M1645.7 190L1650.7 187.3M1648.8 194.9L1651.7 191.9M1652 198.5L1655.8 194.9M1654.9 203.7L1658.6 202M1657.4 208.1L1660.4 205.8M1661.2 213.6L1666 211.9M1663.7 217.7L1668.9 214.9M1665.1 222.1L1668.8 219.8M1667.9 228L1672.1 226.1M1670.3 233.9L1674.2 232.8M1673.1 238.7L1677.7 236M1675.7 244.9L1681 243.5M1677.4 250.5L1681.6 249.8M1680.3 256.1L1685.7 254M1682.2 262.2L1687.6 261.6M1684.1 267.7L1689.7 265.8M1684.7 272.2L1689.1 270.5M1686 279.5L1690.4 279.4M1687 283.9L1692.2 282.6M1687.3 290.4L1691.9 289.6M1687.8 296L1693.2 295.4M1687.6 302.4L1692.8 303.4M1686.5 307.8L1690.3 308.1M1686.2 313.1L1691.5 314.2M1684.1 317.8L1688.8 317.5M1681.6 324.6L1687 324.7M1678.5 330.3L1684.3 330.2M1674.5 336.2L1679.1 337.4M1670.4 341.8L1674.7 343.7M1667.2 346.3L1672.2 348.2M1663.5 350.5L1668.9 351.2M1660 354.4L1665.4 355M1655.1 360.1L1658.9 361.8M1651.8 364.3L1655.5 366.5M1648.5 369.9L1652.7 371.9M1645.5 375.6L1650.7 377.4M1641.5 380.9L1645.1 383M1638 386.6L1641.6 389.6M1634.6 392.1L1638.8 395M1631.5 396.8L1636.3 399.3M1627 402.8L1630.7 406.6M1622.7 408.1L1626.1 412.4M1619.6 411.6L1622.9 416.3M1615.9 414.6L1619.3 417.4M1610.8 418.8L1613.9 421.4M1607.4 422L1611.1 425.3M1602.3 425L1604.5 428.4M1597.4 428L1600 431.3M1592.3 430.6L1595.1 433.6M1587.3 433L1588.7 436.7M1582.7 435.2L1585.3 438.9M1576.4 437.6L1578.2 440.9M1572.6 440.1L1575.5 445M1566.5 442.5L1568.6 447.8M1561.3 444.2L1563.5 449.1M1555.3 446.4L1557.8 451.6M1549.8 446.9L1551 450.4M1544.3 449.1L1546.2 454.4M1539.2 449.2L1540.8 452.9M1533.3 450.9L1534.9 456.5M1526.6 451.1L1527 455.4M1520.4 452L1520.3 457.4M1514.3 452.2L1514 456.9M1509.4 452.2L1509.2 456M1502.1 453.3L1501 458.4M1497.6 453.1L1496.9 457.4M1491.7 453.3L1491.5 457.9M1486.7 453.3L1486.1 458.5M1481.7 452.9L1480.8 458.2M1476.3 451.9L1474.6 457.2M1471.3 450.6L1470.8 456.1M1465.1 448.2L1463.3 453M1459.3 445.5L1457.5 450.1M1454.4 442.7L1452.4 446.8M1449.2 440.3L1447.3 445.9M1444.8 436.6L1443.3 440.6M1439.1 433.3L1437.2 438.2M1434.6 429.7L1432.9 433.8M1429.5 426.7L1426.1 431.4M1425.7 422.7L1423.1 425.5M1420.7 419.2L1417.5 423.2M1416.6 414.8L1413.3 417.5M1412.9 411.1L1410 414.8M1409.8 407.4L1407.1 411.2M1405.8 402.7L1401.8 405.8M1402.5 397.2L1399.6 399.9M1398.4 392.8L1393.2 395.9M1396.3 388.2L1393 390.7M1393.4 383.3L1390.1 385.6M1389.1 377.6L1384.1 379.9M1387.1 373L1382.9 374.5M1384.4 367.6L1380.8 369.7M1381.9 362.9L1377 364.1M1380 357.6L1375.4 359.4M1378.4 351.8L1373.9 352.7M1377.6 346.4L1373.7 347.4M1376.5 340.1L1372.1 341.2M1376 335.4L1371.5 336.7M1375.8 328.9L1371.8 330.2M1374.8 322.8L1369.7 324.5M1375 317L1371.2 316.8M1373.6 310.5L1368 310.4M1373.9 304.2L1370.1 304.6M1373.4 299L1368.9 299.2M1373.2 292.4L1368.7 292.6M1373.7 287.4L1369.8 287.3M1374 281.8L1369.6 281.2M1374.2 276.7L1368.9 275.8M1375.3 270.7L1370.4 269.1M1376.2 266.2L1371.2 265.5M1377.9 259.9L1374 257.6M1378.8 254.5L1374.2 251.7M1380.1 248.7L1375 245.5M1382.5 244.1L1379.2 242.4M1384 237.7L1379.5 235.6M1387.1 231L1383.2 227.4M1389.2 226.8L1385.1 223.5M1392 222.7L1388 220M1394.5 218.5L1389.5 215.1M1399.5 214.1L1396.4 212M1403.2 209.9L1400.7 206.8M1406.6 205.6L1403 202.4M1410 201.9L1405.9 198.4M1414.4 197.7L1411.2 193.9M1419 194L1417.3 190.7M1423.8 189.3L1422.2 185.8M1427.6 185.2L1425.4 180.9M1431.2 182.5L1429.2 178.6M1436.3 178.3L1433.7 173.8M1441.8 175L1439.6 170.9M1447.4 171.8L1445.3 167.1M1452.7 169.1L1450.3 163.9M1458.2 167.2L1457.2 162.3M1464.3 164.8L1463.6 159.1M1469.7 163.1L1468.7 157.5M1475.3 161.9L1474 157.4M1482 160.5L1480.8 156.4M1487.1 159.3L1485.8 154.6M1493.3 158.7L1493.7 154.5M1498.6 158L1499 152.7M1504.1 158.2L1504.7 153.5M1509.9 158.4L1509.5 153M1516.4 159.5L1516.2 154.5M1522.4 160.6L1522.6 155.3M1528.3 162L1528.6 157.1M1534.3 164L1535.2 160.4M1538.9 164.7L1539.3 159.9M1545.6 166.4L1547.7 162.2M1551.4 167.5L1552.5 162.2M1555.8 169.3L1556.3 165.4M1562.1 171.2L1564.3 167.8M1568.8 172.8L1571.9 168M1572.4 174.8L1574.1 170.5M1578.8 178.6L1581.2 175.8M1584.2 181.1L1587 177M1587.7 184.3L1589.8 181.3M1592.2 187.6L1594.6 184.7M1597.8 190.9L1601.5 186.6M1601.3 194.9L1603.8 192.1M1605.7 198L1608.6 193.8M1609.4 201.8L1612.4 198.5M1613.8 205.9L1617.4 202.4M1617.8 209.8L1622.4 206.3M1621.3 215.1L1625.4 212.9M1623.5 219L1626.5 216.8M1627.6 223.6L1632.2 220M1629.7 227.9L1633.7 224.3M1632.1 234.4L1635.5 232.4M1634.9 240.5L1638.6 238.7M1637.3 245.6L1641.4 243.7M1639.6 250.4L1644.5 248.8M1641.7 254.8L1647 253.2M1643.5 260.1L1648.2 259.1M1645.2 265.2L1649.3 264.7M1647.1 271.1L1650.8 270.2M1648.9 277.3L1652.8 277.3M1650.5 282.3L1655.4 281.2M1650.9 288L1654.9 287.7M1651.5 294.3L1655.9 294.2M1651.6 298.8L1656 298.2M1651.2 304.2L1655.3 304.1M1651.3 310.4L1656.9 310.9M1650.4 314.8L1655.8 314.3M1649.2 322L1654.8 323.5M1647.3 326.4L1651.4 326.7M1645.9 333.3L1651.1 335.2M1644.3 337.9L1649.9 339.5M1641.6 342.7L1646.3 343.2M1639.2 347.5L1644.1 348.4M1636.2 352.9L1641 355.2M1633.1 357.1L1637.8 359.2M1628.5 362.6L1632.7 365.1M1623.9 367.8L1628.4 370.6M1619.4 371.5L1623.3 373.3M1616.6 375.3L1621.7 377.9M1611.1 379.6L1614 381.9M1608.4 383.1L1612.9 386" stroke="#28ae80" stroke-width="3.2"/>
<path d="M1676.3 382.9L1678.6 383.6M1673.4 388L1675.8 388.8M1670.5 392.8L1673.1 393.9M1667.6 397.4L1670.8 398.6M1664.9 401.5L1667 402.5M1662.2 405.4L1665.4 407.2M1658.4 410.9L1660.1 412.7M1655 415.5L1657.5 417.6M1651.9 419.6L1653.8 421.4M1648.9 423.4L1650.5 425M1645.1 427.9L1647 429.6M1640.6 432.7L1642.8 434.2M1636.7 436.5L1638.5 438.2M1633.2 439.5L1635.2 442.2M1629 442.9L1631.1 444.8M1623.6 446.7L1625.6 449.6M1619.4 449.4L1620.7 451.5M1615.1 451.9L1617.1 454.4M1611.1 454.1L1612.1 456.4M1606.4 456.4L1607.8 459.3M1601.4 458.7L1602.6 461.5M1595.8 461.2L1597.2 463.9M1590.6 463.4L1591.8 466M1585.9 465.3L1587.7 468.3M1581.2 467.1L1583.4 470M1576.1 469L1577.4 471.8M1570.1 471L1571.2 474M1565.7 472.4L1567.1 475.8M1560.6 473.8L1561.7 476.1M1556 475L1556.5 477.3M1550.9 476L1551.5 479M1546.3 476.9L1547.5 480M1540 477.8L1540.8 481.2M1534.8 478.4L1534.8 481.4M1528.1 479.1L1528.7 482.3M1522.7 479.5L1523.3 482.7M1516.5 480L1516.5 482.7M1510.8 480.4L1510.4 483.4M1504.2 480.8L1504 484.2M1498.8 481.1L1498.7 483.9M1492.3 481.2L1492.6 484.5M1487.3 481.1L1487.2 483.5M1480.9 480.8L1481 483.9M1474.7 480.1L1474.1 483.2M1470.1 479.4L1470.1 481.7M1463.8 478L1463.6 480.8M1457.7 476.2L1457.1 479.1M1452.6 474.4L1452.3 477M1446.8 472.1L1445.8 475.4M1441.5 469.6L1440.8 473.1M1435.4 466.6L1434.5 468.9M1431.3 464.5L1430.5 466.9M1426.8 462L1425.3 464.5M1421.9 459.2L1419.8 461.8M1417.5 456.7L1416.1 459.1M1413.3 454.1L1411.8 455.9M1408.5 451.1L1406.8 453.3M1404.2 448.3L1403 450.7M1399.8 445.1L1398.1 447.2M1394.6 441.1L1392.3 443.5M1390.2 437.3L1388.3 440.2M1385.3 432.7L1383.4 434.2M1381.4 428.7L1378.7 430.5M1378.2 425.3L1376.6 427.5M1374.8 421.4L1372.7 423M1370.7 416.5L1368.7 418.3M1367.7 412.8L1366 414.5M1364.8 409.1L1362.2 411.4M1361.1 404.3L1358.6 406.5M1357.8 399.8L1355.2 401.6M1354.4 395L1352.3 395.8M1350.7 389.3L1347.4 390.6M1347.8 384.2L1345.7 385.7M1345.2 379.3L1342.9 380.3M1342.4 373.3L1340 374.2M1340.6 368.6L1337.2 369.7M1338.8 363.1L1336.1 364.3M1337.1 356.6L1334.1 357M1335.7 350.5L1332.4 351.7M1334.7 344.6L1331.8 345.9M1333.7 338.2L1331.1 338.8M1333.1 333.7L1330.5 334.7M1332.5 328.6L1329.2 329.6M1331.8 322.5L1329.1 322.7M1331.2 316.2L1328.6 316.7M1330.6 309.6L1327.9 309.3M1330.3 304.5L1326.7 303.8M1330.1 299.5L1326.6 299.8M1330 293L1327.7 293M1330.2 288.5L1326.7 288.5M1330.6 282.7L1327.2 282.6M1331.3 276.6L1328.1 276M1332.1 271.5L1329.4 271M1333.3 265.3L1331 264.6M1334.3 260.7L1331.7 260.6M1335.5 256.1L1332.7 254.7M1337.2 249.9L1334.6 248.4M1338.5 245.5L1335.9 245.2M1340.3 240L1336.9 239M1342.2 234.6L1339.7 233.7M1343.9 230.1L1341.2 228.5M1346.3 224.2L1343.4 222.4M1348.8 219L1345.8 217.1M1351.6 213.6L1349.3 211.6M1354.7 208.5L1351.8 206.6M1357.5 204.4L1355.3 202.4M1360.3 200.7L1357.5 198.4M1363.8 196.4L1361.7 194.7M1368.2 191.7L1365.6 190.2M1372 187.9L1370.3 186.2M1376.7 183.5L1375 181.2M1381.6 179.1L1379.4 176.5M1385.1 176L1383.3 174.6M1388.8 172.8L1387.1 170.1M1394 168.5L1392.3 166.1M1397.9 165.3L1396.4 162.9M1403.2 161.1L1401.4 158.4M1408.1 157.4L1406.6 155.5M1412.1 154.6L1409.8 151.7M1416.2 152L1414.8 150.2M1420.7 149.3L1419.2 147.1M1424.9 147L1423.5 145.1M1430 144.5L1429 141.5M1435.4 142.2L1434 140.4M1440.8 140.1L1440.3 137.4M1446.4 138.2L1444.8 135M1451 136.8L1450.7 134.3M1456.6 135.2L1455.9 132.2M1461.2 134L1460.5 131.1M1465.8 132.8L1464.8 130.6M1471 131.7L1470.1 129.6M1477.2 130.5L1476.1 127.3M1483.6 129.5L1483.3 127.1M1488.9 128.9L1488.6 126.5M1494.1 128.5L1494.3 126.2M1500.4 128.4L1500.3 125.7M1505.2 128.6L1505.7 125.3M1510.7 128.9L1510.8 126.1M1516.6 129.7L1517.4 126.1M1523.3 130.7L1523.9 128.1M1528.7 131.8L1528.9 129.1M1533.5 132.8L1534.3 130.6M1539.9 134.2L1540.7 131.7M1544.6 135.3L1544.9 131.8M1550 136.5L1551 134.3M1554.9 137.7L1556.1 134.2M1559.6 138.8L1560.4 136.3M1565.9 140.4L1566.9 137M1571.2 142L1571.8 138.9M1576.2 143.6L1577.9 141M1580.6 145.2L1581.5 142.2M1585.6 147.2L1587.4 144.3M1589.8 149.2L1591.2 146.5M1594 151.3L1595.1 147.9M1599.9 154.7L1601.4 152.9M1604 157.3L1605.3 154.7M1607.8 159.9L1609.5 157.9M1613 163.6L1614.9 161.4M1617.6 167.2L1620 164.5M1621.2 170.1L1623.1 167.9M1625.5 173.7L1627.5 170.8M1630.4 178L1633.2 175.7M1635.1 182.5L1637.8 180M1639.1 186.5L1641.5 185M1643.4 191.2L1646.5 189.6M1647.4 196.3L1649.2 194.4M1650.3 200.2L1652.6 197.9M1653.2 204.5L1655.5 203.5M1656.1 209.1L1657.9 207.7M1659 214.4L1662 213.4M1661.3 218.9L1664.5 217.2M1663.4 223.2L1665.7 221.8M1666 228.9L1668.6 227.7M1668.5 234.4L1670.9 233.8M1670.9 240L1673.8 238.3M1673.3 245.6L1676.5 244.7M1675.5 250.9L1678 250.4M1677.8 257.1L1681.1 255.8M1679.7 262.4L1683 262.1M1681.5 268.6L1685 267.4M1682.7 273L1685.4 272M1683.9 279.6L1686.7 279.5M1684.6 284.5L1687.8 283.7M1685.2 290.8L1688 290.3M1685.3 296.2L1688.6 295.9M1685.2 301.9L1688.4 302.5M1684.8 307.7L1687.1 307.9M1683.7 312.6L1687 313.3M1682 318L1684.9 317.8M1679.1 324.5L1682.4 324.6M1675.8 330.3L1679.4 330.3M1672.3 335.6L1675.2 336.4M1668.5 340.9L1671.1 342.1M1664.9 345.4L1668 346.6M1661 350.1L1664.3 350.6M1657.6 354.1L1660.9 354.5M1653.3 359.3L1655.7 360.3M1650.2 363.3L1652.4 364.7M1646.5 369L1649.1 370.2M1643.1 374.8L1646.3 375.9M1639.8 380L1642 381.2M1636.4 385.2L1638.6 387M1632.6 390.7L1635.2 392.5M1629.2 395.6L1632.2 397.2M1625.2 401L1627.5 403.3M1621.1 406.1L1623.2 408.7M1618.1 409.5L1620.1 412.4M1614.4 413.3L1616.5 415M1609.4 417.6L1611.3 419.2M1605.7 420.4L1608 422.5M1601.3 423.4L1602.7 425.5M1596.3 426.4L1597.8 428.5M1591 429.2L1592.7 431M1586.7 431.2L1587.5 433.5M1581.5 433.6L1583.1 435.8M1575.6 436.1L1576.7 438.1M1571.2 437.9L1573 440.9M1565.5 440.1L1566.8 443.3M1560.3 442L1561.7 445M1554.1 444L1555.7 447.2M1549.2 445.3L1550 447.5M1543.4 446.7L1544.6 449.9M1538.4 447.6L1539.4 449.8M1532.5 448.4L1533.5 451.8M1526.4 449.1L1526.6 451.7M1520.5 449.6L1520.4 452.9M1514.5 450.1L1514.3 453M1509.4 450.5L1509.3 452.8M1502.6 451L1502 454.1M1498 451.2L1497.5 453.8M1491.8 451.2L1491.6 454M1486.9 450.9L1486.6 454.1M1482.1 450.4L1481.5 453.7M1477.1 449.5L1476.1 452.7M1471.6 448L1471.3 451.4M1466 446L1464.8 449M1460.1 443.4L1459 446.2M1455.3 440.8L1454.1 443.3M1450 437.7L1448.9 441.1M1445.5 434.8L1444.6 437.2M1440 431L1438.8 434.1M1435.4 427.8L1434.3 430.3M1431.1 424.6L1429 427.5M1427 421.4L1425.3 423.1M1422.1 417.3L1420.2 419.8M1418.1 413.5L1416.1 415.2M1414.2 409.4L1412.4 411.6M1411 405.7L1409.4 408M1407.6 401.3L1405.2 403.2M1403.8 396L1402 397.7M1400.7 391.4L1397.6 393.3M1397.9 387L1395.8 388.6M1394.9 382.3L1392.9 383.7M1391.4 376.6L1388.4 378M1389 372.3L1386.4 373.2M1386 366.6L1383.8 367.9M1384.2 362.3L1381.1 363.1M1382.1 356.7L1379.3 357.8M1380.6 351.3L1377.7 351.9M1379.4 346L1377 346.6M1378.6 339.7L1375.8 340.3M1378.1 334.8L1375.3 335.6M1377.6 328.2L1375.1 329.1M1377.2 322.1L1374 323.1M1376.8 317.2L1374.4 317M1376.2 310.5L1372.7 310.5M1375.7 303.9L1373.3 304.2M1375.4 299L1372.7 299.1M1375.3 292.3L1372.5 292.4M1375.5 287.5L1373.1 287.4M1376 282.1L1373.3 281.7M1376.6 277.2L1373.3 276.6M1377.6 271.5L1374.5 270.5M1378.5 266.6L1375.4 266.1M1379.8 260.9L1377.3 259.5M1380.9 255.8L1378.1 254.1M1382.4 250.2L1379.3 248.2M1384 244.9L1382 243.8M1386.1 238.7L1383.3 237.4M1388.8 232.6L1386.5 230.5M1391.1 228.4L1388.6 226.3M1393.9 223.9L1391.4 222.3M1396.8 220L1393.7 218M1400.9 215L1399 213.8M1404.3 211.3L1402.8 209.4M1408.3 207.1L1406.1 205.1M1411.9 203.4L1409.4 201.3M1415.9 199.4L1413.9 197.1M1419.8 195.5L1418.8 193.5M1424.6 190.9L1423.6 188.8M1428.7 187.2L1427.3 184.6M1432.2 184.3L1430.9 181.9M1437.5 180.3L1435.9 177.6M1442.9 176.9L1441.5 174.4M1448.4 173.9L1447.1 171M1453.8 171.5L1452.3 168.3M1458.7 169.5L1458 166.5M1464.6 167.4L1464.2 163.9M1470.1 165.7L1469.5 162.2M1476 164L1475.1 161.2M1482.5 162.4L1481.8 159.9M1487.7 161.4L1486.9 158.5M1493.2 160.7L1493.4 158.1M1498.4 160.4L1498.6 157.2M1503.8 160.4L1504.2 157.5M1510.1 160.9L1509.8 157.6M1516.5 161.8L1516.4 158.7M1522.3 163L1522.4 159.7M1528.1 164.3L1528.3 161.3M1533.8 165.7L1534.4 163.5M1538.8 166.9L1539 164M1544.7 168.3L1545.9 165.7M1551 169.9L1551.6 166.7M1555.5 171.1L1555.8 168.7M1561.1 172.8L1562.5 170.7M1567.4 175L1569.3 172.1M1571.7 176.8L1572.7 174.2M1577.7 179.9L1579.1 178.2M1582.9 183L1584.6 180.5M1586.8 185.7L1588.1 183.8M1591.1 188.9L1592.6 187.1M1596.1 192.8L1598.4 190.2M1600.1 196.2L1601.7 194.5M1604.4 200L1606.2 197.4M1608 203.4L1609.8 201.3M1612.1 207.5L1614.4 205.4M1615.7 211.5L1618.5 209.3M1619.5 216.2L1622 214.8M1622.2 220L1624 218.6M1625.5 225.2L1628.3 223M1627.8 229.5L1630.3 227.3M1630.6 235.3L1632.7 234.1M1633.2 241.3L1635.5 240.2M1635.5 246.5L1638 245.3M1637.4 251.1L1640.4 250.1M1639.3 255.5L1642.5 254.6M1641.3 260.5L1644.2 259.9M1643.2 265.4L1645.8 265.1M1645.4 271.5L1647.7 270.9M1647.1 277.3L1649.5 277.3M1648.3 282.8L1651.3 282.1M1649.1 288.1L1651.5 288M1649.5 294.3L1652.2 294.2M1649.6 299.1L1652.3 298.7M1649.3 304.2L1651.9 304.2M1648.7 310.2L1652.1 310.5M1648 315L1651.3 314.7M1646.7 321.3L1650.1 322.2M1645.4 326.2L1648 326.4M1643.5 332.4L1646.7 333.6M1641.7 337.2L1645.2 338.2M1639.4 342.4L1642.3 342.7M1636.9 347.1L1639.9 347.7M1634 351.8L1636.9 353.2M1630.9 356.1L1633.8 357.4M1626.5 361.4L1629.1 363M1621.8 366.5L1624.6 368.2M1617.7 370.7L1620 371.8M1614.2 374.2L1617.3 375.7M1609.7 378.5L1611.5 380M1606.3 381.8L1609.1 383.6" stroke="#2a788e" stroke-width="3.2"/>
<path d="M1675.4 382.5L1667.1 396.4 1658 409.8 1648.3 422.6 1637.5 434.5 1625 444.6 1611.3 452.9 1596.9 459.7 1582.4 465.7 1567.7 470.8 1552.7 474.7 1537.5 477.2 1522.3 478.6 1507 479.7 1491.6 480.3 1476.1 479.4 1460.9 476.2 1446.3 470.8 1432.4 464 1419 456.5 1406 448.3 1393.7 439 1382.5 428.5 1372.3 417 1362.8 405 1353.9 392.4 1346.1 379 1340.3 364.7 1336.5 349.7 1334.2 334.5 1332.4 319.3 1331.2 304 1331.1 288.6 1332.7 273.3 1335.9 258.2 1340.2 243.3 1345.5 228.7 1352.2 214.6 1360.8 201.6 1371.2 190 1382.5 179.5 1394.2 169.6 1406.2 160 1418.9 151.4 1432.6 144.4 1447 139 1461.7 134.8 1476.6 131.6 1491.7 129.6 1507 129.6 1522.1 131.5 1536.9 134.5 1551.5 137.8 1566.1 141.5 1580.6 146.2 1594.4 152.6 1607.3 160.7 1619.5 169.9 1631.1 179.9 1641.8 190.9 1651.2 203.1 1658.9 216.3 1665.5 230.1 1671.6 244.1 1677.3 258.4 1681.7 273.2 1684.1 288.5 1684.2 304 1680.5 319.2 1672.9 333.3 1663.4 345.9 1653.7 357.4 1645.6 368.6 1638.7 380 1631.3 391 1623.5 401.7 1614.7 411.7 1604.5 420.2 1593.1 427 1581.3 432.6 1569.3 437.6 1557.2 442 1544.9 445.4 1532.3 447.5 1519.7 448.7 1507 449.7 1494.2 450.3 1481.4 449.3 1468.9 446.1 1457.2 440.8 1446.3 434.2 1436 427 1426.1 419.5 1417.1 411.1 1409.2 401.8 1402.2 391.9 1395.8 381.9 1389.8 371.7 1384.7 361.1 1381.2 349.8 1379.3 338.2 1378.4 326.7 1377.6 315.3 1376.6 304 1376.3 292.6 1377 281.1 1378.9 269.7 1381.3 258.3 1384.4 246.8 1388.5 235.6 1394.3 225.1 1401.7 215.6 1409.9 206.9 1418.3 198.3 1427.1 189.9 1436.6 182.1 1447.1 175.6 1458.4 170.6 1470.2 166.6 1482.2 163.5 1494.5 161.5 1507 161.5 1519.3 163.3 1531.3 166 1543.2 168.9 1555.1 171.9 1566.8 175.8 1577.9 181.1 1588.3 187.9 1597.9 195.6 1607.1 203.9 1615.6 212.9 1622.9 222.8 1628.8 233.7 1633.8 244.9 1638.5 256.1 1643 267.6 1646.6 279.4 1648.4 291.6 1648.4 304 1646.8 316.2 1643.9 328.1 1639.7 339.6 1634 350.2 1626.7 359.8 1618.6 368.4 1610.5 376.5 1602.4 384.1" stroke="#433e85" stroke-width="3.2" stroke-linecap="butt"/>
</g>
<g opacity="0.9" stroke-linecap="round">
<path d="M1610.8 394.2L1615.4 400M1605.5 394.4L1609.5 398.1M1599.9 401.8L1604.1 407.5M1596.1 405.1L1600.9 411.2M1590.3 407L1595.3 412.5M1582.1 410.6L1585.9 416.8M1574.5 413.2L1577.7 420M1568.7 415.2L1573 422M1561 413.5L1563.9 418.5M1552.4 418L1554.1 424.9M1545.4 417.5L1547.2 423.2M1540.8 419.2L1543.8 425.3M1531.3 418.7L1532.3 424.2M1523.6 422.3L1523.4 429.8M1521.7 421.4L1523.8 428.2M1513.4 419.8L1514.6 425.5M1502.6 420.5L1501.7 426.1M1494.7 423.1L1493.2 430M1488.2 425.5L1486.1 433.9M1481.5 423.7L1479.2 431.5M1474 420.6L1471.4 427.7M1467.8 419.9L1464.5 428M1463.9 414.6L1462.2 421.7M1454.9 411.8L1450.7 419.1M1450.9 406.6L1447.5 413.1M1446.6 400.9L1443.4 405.9M1439.6 397.1L1435.4 402.3M1432.1 393L1426.9 398.8M1429.6 385.5L1425.8 390.1M1420.3 380.5L1413.6 385.7M1418.2 376.2L1412.6 382.1M1416.4 367.5L1412 371.5M1407.5 360.5L1400.1 364.2M1407.1 356.6L1401.2 360.9M1404.3 348.1L1398.2 351M1400.8 339.1L1393.6 340.1M1399.3 337.9L1391.8 341.7M1399 330.3L1391.4 333.6M1397.3 322.9L1388.9 325.1M1397.7 313.1L1389.9 313.8M1401 306.9L1395.7 307.6M1399 296.5L1392.8 295M1396.9 290.8L1389.3 290.6M1396.8 281.3L1388.8 279.2M1400.1 274.9L1393.5 272.4M1399.3 268.7L1391.5 266.1M1404 260.6L1398 257.6M1404.6 253.4L1398.1 249.3M1409.1 250.3L1403.9 248.4M1408.3 241.5L1400.5 238.4M1417.5 234.6L1413.4 230M1418.8 228.8L1412.5 224M1426.7 226.8L1422.5 223.3M1428.5 220.4L1422.5 216M1436.5 214.7L1432.5 209.5M1441.3 210.3L1437.6 204.9M1444.6 205.3L1440.1 199.4M1452.7 201L1449.8 194.8M1457 195.6L1453.8 187.8M1465.6 195L1463.9 188.5M1471 193.2L1469.5 186.8M1473.8 188.9L1470.6 180.9M1484.2 187.9L1483.4 180.3M1488.2 189L1486.1 182.9M1498.4 188.7L1499 182.9M1502.3 184.5L1500.9 176.3M1511.6 188.9L1511.5 182.7M1520.1 188.8L1522 181.9M1524.6 191.8L1525.6 185.9M1530.2 193.9L1530.5 188.2M1538 192L1538.9 184.2M1548.1 196.9L1550.5 191.1M1557.7 197.2L1562 190.4M1562.3 197.7L1565.4 189.8M1566.9 203.7L1569.4 197.6M1577.8 207.7L1583.8 202.1M1580.2 208.5L1585 201.3M1584.5 217.8L1589.1 214M1591.6 221.2L1597.2 216.8M1596 222L1601.6 215.5M1601.4 230.1L1607.7 225.7M1606 234.5L1613 230.1M1606.4 243.5L1611.7 241.1M1610.6 245.8L1616.7 241.2M1611.6 255.6L1616.5 253.2M1618 262.3L1625.5 260.9M1621.1 266.3L1628.7 263.4M1625 275.2L1633.3 273.8M1623.6 284.1L1629.5 284M1626.4 288.7L1633.3 288M1626.9 297.3L1633.8 297.1M1625.5 302.2L1631.7 301.8M1628.7 310.3L1637.2 311.1M1627.5 316.5L1636.1 317.1M1624.9 324.5L1632.9 326.1M1620.8 328.7L1627.4 329.7M1618.8 336.3L1626.3 337.7M1611.1 343.5L1615.9 346.2M1611.3 351.5L1618.7 355.9M1603 353.2L1608.3 355.7M1597.3 361.6L1602.3 366.3M1593.5 362.8L1599.1 365.6M1589.9 367.7L1596.2 371M1583.3 375.8L1589 381.3M1573.4 378.9L1576.9 383.9" stroke="#b8de29" stroke-width="3"/>
<path d="M1607.3 389.9L1611.2 394.8M1602.5 391.6L1605.9 394.8M1596.9 397.6L1600.4 402.4M1592.5 400.7L1596.6 405.8M1586.6 403L1590.8 407.6M1579.2 405.9L1582.5 411.2M1572.1 408.2L1574.8 413.9M1565.6 410.1L1569.2 415.9M1558.8 409.8L1561.3 414M1551.2 413L1552.6 418.8M1544 413.3L1545.5 418.1M1538.6 414.7L1541.1 419.8M1530.6 414.7L1531.4 419.3M1523.8 416.7L1523.6 423.1M1520.2 416.3L1521.9 422.1M1512.5 415.7L1513.5 420.4M1503.3 416.3L1502.5 421.1M1495.9 418L1494.6 423.8M1489.7 419.3L1488 426.4M1483.2 417.9L1481.3 424.5M1475.9 415.3L1473.7 421.3M1470.2 413.9L1467.4 420.7M1465.2 409.4L1463.8 415.3M1458 406.4L1454.5 412.5M1453.4 401.9L1450.6 407.3M1448.9 397.3L1446.3 401.5M1442.6 393.3L1439.1 397.7M1436 388.8L1431.6 393.6M1432.4 382.2L1429.2 386M1425.3 376.8L1419.6 381.1M1422.4 371.9L1417.6 376.8M1419.7 364.5L1416 367.9M1412.9 357.8L1406.7 360.9M1411.5 353.5L1406.5 357.1M1408.8 346L1403.6 348.4M1406.1 338.3L1400 339.2M1404.9 335L1398.5 338.3M1404.5 327.9L1398.2 330.6M1403.4 321.2L1396.4 323.1M1403.4 312.7L1396.9 313.2M1405 306.4L1400.5 307M1403.6 297.6L1398.4 296.4M1402.4 291L1396.1 290.8M1402.7 282.8L1396 281M1404.9 276.8L1399.4 274.7M1405 270.7L1398.5 268.5M1408.4 262.7L1403.3 260.3M1409.3 256.4L1403.9 252.9M1412.9 251.6L1408.5 250.1M1414.1 243.8L1407.5 241.2M1420.5 238L1417 234.1M1423.5 232.3L1418.2 228.3M1429.7 229.4L1426.2 226.4M1433 223.7L1427.9 220M1439.5 218.5L1436.1 214.2M1444.1 214.2L1440.9 209.7M1447.9 209.7L1444.1 204.7M1454.8 205.6L1452.3 200.3M1459.4 201.4L1456.7 194.8M1466.9 199.8L1465.5 194.3M1472.1 198L1470.8 192.5M1476.2 194.8L1473.5 188.1M1484.9 193.4L1484.2 187.1M1489.7 193.5L1488 188.4M1498 193L1498.5 188.1M1503.2 190.6L1502.1 183.7M1511.7 193.5L1511.6 188.2M1518.7 193.9L1520.3 188.1M1523.8 196.3L1524.7 191.2M1530 198.2L1530.3 193.3M1537.4 197.8L1538.1 191.2M1546.3 201.2L1548.3 196.3M1554.6 202.2L1558.2 196.5M1559.9 203.6L1562.6 196.9M1565 208.2L1567.1 203M1573.3 211.9L1578.4 207.1M1576.6 213.8L1580.7 207.7M1581.2 220.6L1585 217.4M1587.4 224.5L1592.2 220.8M1591.9 226.7L1596.6 221.3M1596.8 233.4L1602.1 229.7M1600.8 237.8L1606.7 234.1M1602.6 245.4L1607 243.3M1606.2 249.2L1611.3 245.3M1607.9 257.4L1612.1 255.4M1612.4 263.3L1618.8 262.2M1615.5 268.5L1621.9 266M1618.9 276.3L1625.9 275.1M1619.2 284.1L1624.2 284.1M1621.3 289.2L1627.1 288.6M1621.9 297.4L1627.7 297.3M1621.1 302.5L1626.2 302.2M1622.5 309.7L1629.6 310.4M1621.2 316.1L1628.4 316.6M1618.9 323.4L1625.7 324.7M1615.9 328L1621.5 328.8M1613.3 335.3L1619.6 336.4M1607.6 341.6L1611.6 343.8M1605.9 348.2L1612.1 351.9M1599.1 351.3L1603.6 353.4M1593.6 358.1L1597.8 362.1M1589.4 360.7L1594.1 363.1M1585.3 365.3L1590.6 368.1M1579.2 371.8L1583.9 376.4M1570.8 375.2L1573.8 379.4" stroke="#6ccd5a" stroke-width="3.2"/>
<path d="M1604.6 386.5L1607.8 390.5M1600.2 389.4L1603 392M1594.4 394.2L1597.3 398.2M1589.7 397.2L1593 401.3M1583.6 399.8L1587.1 403.6M1577 402.3L1579.6 406.6M1570.2 404.3L1572.4 409M1563.1 406.2L1566 410.8M1557.1 406.9L1559.1 410.3M1550.2 409L1551.3 413.7M1543 410L1544.2 413.9M1536.9 411.1L1538.9 415.3M1530 411.5L1530.7 415.2M1523.9 412.4L1523.7 417.5M1519 412.4L1520.4 417.1M1511.8 412.4L1512.6 416.2M1503.8 413.1L1503.2 416.9M1496.8 414L1495.7 418.7M1490.9 414.4L1489.5 420.2M1484.5 413.4L1483 418.7M1477.4 411.2L1475.6 416.1M1472.1 409.2L1469.8 414.8M1466.2 405.3L1465 410.1M1460.4 402.1L1457.6 407.1M1455.4 398.2L1453.1 402.6M1450.8 394.4L1448.6 397.8M1445 390.3L1442.2 393.8M1439 385.4L1435.4 389.4M1434.5 379.5L1432 382.6M1429.2 373.8L1424.6 377.3M1425.7 368.5L1421.8 372.5M1422.2 362.2L1419.2 364.9M1417.2 355.7L1412.2 358.2M1415 351L1410.9 353.9M1412.3 344.3L1408.1 346.3M1410.3 337.6L1405.3 338.4M1409.3 332.8L1404.1 335.4M1408.9 325.9L1403.7 328.2M1408.3 319.8L1402.6 321.4M1407.9 312.3L1402.6 312.7M1408 306L1404.4 306.5M1407.2 298.4L1402.9 297.4M1406.8 291.1L1401.6 290.9M1407.3 284L1401.9 282.6M1408.7 278.2L1404.2 276.5M1409.5 272.2L1404.2 270.4M1411.8 264.4L1407.7 262.4M1413.1 258.8L1408.6 256M1415.9 252.7L1412.3 251.4M1418.6 245.6L1413.2 243.5M1422.9 240.7L1420.1 237.5M1427.2 235.1L1422.9 231.8M1432.1 231.4L1429.3 229M1436.5 226.3L1432.4 223.3M1441.8 221.5L1439 218M1446.3 217.3L1443.7 213.6M1450.6 213.1L1447.5 209.1M1456.5 209.2L1454.5 204.9M1461.2 205.9L1459 200.5M1467.9 203.6L1466.7 199.1M1473 201.7L1472 197.3M1478 199.5L1475.8 194M1485.4 197.8L1484.8 192.7M1490.9 197L1489.5 192.9M1497.7 196.3L1498.1 192.3M1504 195.4L1503.1 189.8M1511.8 197L1511.7 192.8M1517.6 197.9L1518.9 193.2M1523.3 199.7L1523.9 195.6M1529.9 201.5L1530.1 197.6M1536.9 202.3L1537.4 197M1544.9 204.5L1546.5 200.6M1552.2 206.1L1555.1 201.4M1558.1 208.1L1560.3 202.7M1563.6 211.7L1565.3 207.5M1569.8 215.2L1574 211.3M1573.8 217.9L1577.1 213M1578.6 222.8L1581.7 220.2M1584.2 227L1588 224M1588.6 230.5L1592.4 226.1M1593.1 235.9L1597.5 232.9M1596.7 240.4L1601.5 237.4M1599.6 246.8L1603.1 245.1M1602.6 251.9L1606.8 248.7M1605.1 258.9L1608.5 257.2M1608.1 264.1L1613.2 263.2M1611.1 270.1L1616.3 268.2M1614.2 277.1L1619.8 276.1M1615.7 284.2L1619.8 284.1M1617.3 289.7L1622 289.2M1617.9 297.6L1622.6 297.4M1617.5 302.8L1621.7 302.5M1617.6 309.2L1623.4 309.7M1616.2 315.8L1622.1 316.2M1614.3 322.5L1619.8 323.5M1612 327.5L1616.6 328.1M1609 334.5L1614.1 335.4M1604.8 340.1L1608.1 341.9M1601.6 345.6L1606.7 348.6M1596 349.9L1599.7 351.6M1590.7 355.4L1594.1 358.6M1586.2 359L1590 361M1581.7 363.4L1586 365.6M1575.9 368.6L1579.8 372.4M1568.8 372.4L1571.2 375.8" stroke="#28ae80" stroke-width="3.2"/>
<path d="M1603.2 384.7L1605.1 387.1M1598.9 388.3L1600.6 389.8M1593.1 392.4L1594.9 394.8M1588.2 395.3L1590.2 397.8M1582.1 398.1L1584.2 400.4M1575.8 400.3L1577.4 403M1569.1 402.2L1570.5 405M1561.7 404L1563.5 406.9M1556.1 405.3L1557.4 407.4M1549.6 406.8L1550.3 409.7M1542.4 408.3L1543.1 410.6M1536 409.2L1537.2 411.8M1529.7 409.7L1530.1 412.1M1523.9 410L1523.9 413.2M1518.4 410.2L1519.3 413.1M1511.4 410.6L1511.9 413M1504.1 411.3L1503.7 413.7M1497.2 411.8L1496.6 414.7M1491.5 411.7L1490.7 415.3M1485.2 410.9L1484.3 414.2M1478.2 409L1477.1 412M1473.1 406.7L1471.7 410.1M1466.7 403.1L1466 406M1461.8 399.8L1460 402.9M1456.5 396.2L1455.1 398.9M1451.8 392.8L1450.4 394.9M1446.3 388.6L1444.5 390.8M1440.7 383.6L1438.5 386M1435.7 378.1L1434.1 380M1431.3 372.2L1428.5 374.3M1427.5 366.7L1425.1 369.1M1423.6 360.9L1421.8 362.6M1419.6 354.5L1416.4 356.1M1416.8 349.6L1414.3 351.4M1414.2 343.4L1411.6 344.6M1412.5 337.3L1409.5 337.8M1411.7 331.6L1408.5 333.2M1411.2 324.9L1408.1 326.3M1410.9 319.1L1407.4 320.1M1410.4 312.1L1407.1 312.3M1409.7 305.8L1407.5 306.1M1409.2 298.9L1406.5 298.3M1409.2 291.2L1406 291.1M1409.8 284.7L1406.5 283.8M1410.8 279L1408 277.9M1412 273L1408.7 271.9M1413.7 265.3L1411.2 264.1M1415.1 260.1L1412.4 258.4M1417.5 253.3L1415.3 252.5M1421 246.6L1417.7 245.3M1424.2 242.2L1422.5 240.2M1429.3 236.6L1426.6 234.6M1433.4 232.5L1431.7 231.1M1438.4 227.7L1435.9 225.8M1443 223.2L1441.3 221M1447.5 218.9L1445.9 216.7M1452 215L1450.1 212.5M1457.4 211.1L1456.2 208.5M1462.2 208.4L1460.9 205.1M1468.4 205.6L1467.7 202.9M1473.5 203.8L1472.9 201M1479 202L1477.7 198.6M1485.7 200.2L1485.3 197M1491.5 198.9L1490.7 196.4M1497.6 198.1L1497.8 195.7M1504.4 198.1L1503.8 194.6M1511.8 199L1511.7 196.4M1517 200.1L1517.8 197.2M1523 201.6L1523.4 199.1M1529.8 203.3L1529.9 200.9M1536.6 204.8L1536.9 201.5M1544.1 206.4L1545.2 203.9M1550.8 208.2L1552.6 205.4M1557.1 210.7L1558.4 207.3M1562.8 213.6L1563.8 211.1M1567.9 217L1570.5 214.6M1572.3 220.2L1574.3 217.2M1577.2 224L1579.1 222.4M1582.4 228.4L1584.8 226.6M1586.8 232.6L1589.2 229.8M1591.1 237.3L1593.8 235.5M1594.5 241.9L1597.5 240M1597.9 247.6L1600.1 246.6M1600.7 253.4L1603.3 251.4M1603.5 259.6L1605.6 258.6M1605.7 264.6L1608.9 264M1608.7 271.1L1611.9 269.8M1611.6 277.6L1615 277M1613.8 284.2L1616.4 284.2M1615.1 289.9L1618 289.6M1615.8 297.6L1618.6 297.5M1615.6 302.9L1618.2 302.7M1614.9 308.9L1618.5 309.3M1613.5 315.6L1617.1 315.8M1611.7 322L1615.1 322.6M1609.9 327.2L1612.7 327.6M1606.6 334L1609.8 334.6M1603.3 339.3L1605.3 340.4M1599.2 344.1L1602.4 346M1594.3 349.1L1596.6 350.2M1589.1 353.9L1591.2 355.9M1584.4 358.1L1586.8 359.3M1579.8 362.3L1582.4 363.7M1574.2 366.9L1576.5 369.2M1567.7 370.8L1569.1 372.9" stroke="#2a788e" stroke-width="3.2"/>
<path d="M1602.4 384.1L1593.8 390.8 1584.3 396.2 1574.1 399.9 1563.9 402.6 1554 404.9 1544.5 406.9 1535 408.4 1525.5 409 1516.2 409.4 1507 410.1 1497.7 410.8 1488.2 410.5 1479.1 408.3 1470.5 404.2 1462.6 399.2 1455 394 1447.8 388.6 1441 382.6 1435.1 375.9 1430 368.6 1425.1 361.4 1420.4 354 1416.3 346.3 1413.6 338 1412.4 329.3 1412 320.8 1411.3 312.4 1410.5 304 1410 295.5 1410.5 287 1411.8 278.5 1413.6 270 1415.7 261.4 1418.7 253 1423.1 245.2 1428.8 238.4 1435.2 232.2 1441.5 226 1448 219.7 1455 213.9 1462.8 209.2 1471.2 205.6 1479.9 202.8 1488.7 200.5 1497.8 199.1 1507 199.2 1516 200.8 1524.8 203.1 1533.5 205.1 1542.3 206.9 1551.2 209.3 1559.6 212.9 1567.4 217.8 1574.7 223.3 1581.8 229.2 1588.5 235.6 1594.1 243 1598.6 251.1 1602.4 259.5 1606.2 267.9 1610 276.4 1613.2 285.3 1614.7 294.6 1614.6 304 1613.1 313.3 1610.7 322.3 1607.2 330.9 1602.5 338.8 1596.5 345.7 1590 351.9 1583.6 357.6 1577.4 363.1 1570.9 367.9 1563.7 371.5" stroke="#433e85" stroke-width="3.2" stroke-linecap="butt"/>
</g>
<g opacity="0.55" stroke-linecap="round">
<path d="M1572.1 379.9L1576.9 384.6M1558.8 383.4L1561.4 388.7M1549.7 386.7L1552.8 393M1544.2 387.3L1548.2 393.2M1534.2 389.6L1536.3 396.2M1523.3 389.5L1524.7 395.8M1514.8 393.2L1516 401.6M1502.2 393.7L1500.6 401.9M1493.9 389.9L1493.4 395.3M1486.7 389.1L1486.1 395.2M1477.5 386.5L1475.5 393.4M1469.4 381.7L1466.2 388.8M1461 374.2L1456.8 380.1M1451.3 366.8L1445.2 372.2M1447.9 358L1442.1 361.9M1445.3 350.9L1440.6 355.5M1436.1 341L1428.1 343.7M1436.2 332.6L1430.1 335M1434.1 324.1L1427 326.7M1431.8 309.6L1423.1 309.1M1434.7 304L1428.3 304.9M1430.9 293.4L1422.6 293.1M1432.9 282.8L1425.2 280.9M1436.3 274.5L1430.4 271.7M1439 262.7L1433.7 258.2M1444.6 256.3L1440.6 252.3M1447.6 252.2L1442.8 248.9M1456.2 240.8L1452.5 234.8M1461.3 233.1L1456.9 227.1M1471.5 227.5L1469.2 221.4M1481.3 220.1L1479.6 212M1489.7 222.1L1487.8 216.9M1497.5 219.5L1495.8 213.7M1506.6 216.6L1506.5 208.9M1512.9 217.6L1512.5 209.5M1523.6 221.6L1524.2 214M1537.6 224.6L1541.3 217.6M1546.5 226.5L1550.7 218.9M1549.4 234.4L1551.5 229.3M1560.5 238L1565.1 231.3M1565 248.2L1568.7 244.2M1571.6 251.1L1576.8 245.4M1577.8 263.1L1584.5 259.8M1582.4 272.6L1590.6 270.3M1582.2 281.4L1588.3 280M1588.6 290.5L1596.8 289.8M1585.2 298L1590.7 297M1586.8 312.2L1594.2 314.2M1586.8 316.3L1595.4 316.7M1577.9 327.4L1583.7 329.3M1573.6 335.2L1579.7 338.6M1568.5 338.9L1575.4 341.6M1558.5 347.1L1562.9 351.5M1551.7 353.4L1556.6 358.5M1539.4 354.7L1541.8 359.5" stroke="#b8de29" stroke-width="3"/>
<path d="M1568.6 376.5L1572.6 380.4M1556.9 379.6L1559.1 384M1547.5 382.1L1550.1 387.4M1541.3 383L1544.7 387.9M1532.7 384.8L1534.5 390.3M1522.3 384.9L1523.5 390.2M1513.9 387L1514.9 394.1M1503.4 387.7L1502 394.6M1494.3 385.8L1493.9 390.4M1487.2 384.7L1486.7 389.8M1479.1 381.5L1477.3 387.3M1471.7 376.5L1469 382.5M1464.1 369.9L1460.6 374.8M1455.9 362.7L1450.7 367.3M1452.1 355.1L1447.3 358.4M1448.8 347.6L1444.8 351.4M1442 339L1435.3 341.3M1440.7 330.9L1435.6 332.9M1439.4 322.1L1433.4 324.3M1438.3 309.9L1430.9 309.5M1439.4 303.3L1434 304.1M1437.1 293.6L1430.1 293.4M1438.5 284.2L1432.1 282.6M1440.7 276.6L1435.7 274.2M1442.9 266L1438.5 262.2M1447.6 259.3L1444.2 255.9M1451.2 254.7L1447.1 251.9M1458.9 245.2L1455.8 240.2M1464.6 237.5L1460.8 232.5M1473.3 232L1471.3 226.8M1482.5 226.1L1481.1 219.3M1491 225.9L1489.5 221.5M1498.7 223.8L1497.3 218.9M1506.7 222.3L1506.6 215.8M1513.1 223.6L1512.8 216.8M1523.1 227.1L1523.7 220.8M1534.9 229.8L1538 223.9M1543.4 232L1546.9 225.7M1547.9 238.2L1549.6 233.8M1557.1 242.9L1561 237.3M1562.2 251.2L1565.4 247.8M1567.7 255.2L1572.1 250.5M1572.8 265.5L1578.5 262.7M1576.5 274.2L1583.3 272.3M1577.7 282.5L1582.8 281.3M1582.6 291.1L1589.5 290.5M1581.1 298.7L1585.8 297.9M1581.4 310.7L1587.6 312.4M1580.4 316.1L1587.7 316.4M1573.7 325.9L1578.5 327.6M1569 332.6L1574.2 335.5M1563.4 337L1569.2 339.2M1555.2 343.9L1558.9 347.5M1548.1 349.7L1552.2 354M1537.7 351.2L1539.7 355.2" stroke="#6ccd5a" stroke-width="3.2"/>
<path d="M1565.8 373.7L1569.1 377M1555.4 376.5L1557.2 380.1M1545.8 378.5L1547.8 382.8M1539 379.6L1541.7 383.6M1531.4 380.9L1532.9 385.4M1521.5 381.3L1522.4 385.6M1513.1 382.1L1514 387.9M1504.3 383L1503.2 388.6M1494.7 382.6L1494.3 386.4M1487.6 381.2L1487.2 385.3M1480.2 377.6L1478.8 382.2M1473.5 372.5L1471.4 377.3M1466.6 366.4L1463.7 370.5M1459.5 359.6L1455.2 363.3M1455.5 352.9L1451.5 355.5M1451.5 344.9L1448.3 348M1446.6 337.4L1441.1 339.3M1444.3 329.6L1440.1 331.2M1443.5 320.6L1438.6 322.4M1443.3 310.2L1437.3 309.9M1443.1 302.8L1438.7 303.4M1442 293.8L1436.2 293.6M1442.9 285.3L1437.7 284M1444.1 278.2L1440.1 276.3M1446 268.5L1442.4 265.5M1449.9 261.7L1447.1 258.9M1454 256.7L1450.7 254.4M1461 248.6L1458.5 244.5M1467.2 241L1464.1 236.9M1474.6 235.5L1473 231.3M1483.5 230.9L1482.3 225.3M1492.1 228.9L1490.8 225.4M1499.7 227.2L1498.6 223.2M1506.8 226.8L1506.7 221.5M1513.3 228.3L1513.1 222.7M1522.8 231.5L1523.2 226.3M1532.7 233.9L1535.3 229.1M1541 236.4L1543.8 231.2M1546.7 241.1L1548.1 237.6M1554.5 246.8L1557.6 242.2M1560 253.6L1562.6 250.8M1564.7 258.5L1568.3 254.6M1568.9 267.4L1573.5 265.2M1571.8 275.6L1577.3 274M1574.2 283.4L1578.3 282.4M1577.9 291.6L1583.5 291M1578 299.3L1581.7 298.6M1577.2 309.5L1582.2 310.9M1575.5 315.9L1581.4 316.1M1570.4 324.8L1574.3 326.1M1565.4 330.7L1569.7 333M1559.5 335.4L1564.2 337.3M1552.6 341.4L1555.7 344.3M1545.3 346.7L1548.6 350.2M1536.3 348.4L1537.9 351.7" stroke="#28ae80" stroke-width="3.2"/>
<path d="M1564.3 372.2L1566.3 374.2M1554.6 374.9L1555.7 377.1M1544.8 376.6L1546.1 379.2M1537.7 377.8L1539.4 380.3M1530.8 378.8L1531.7 381.6M1521.1 379.4L1521.6 382M1512.7 379.5L1513.3 383M1504.8 380.4L1504.1 383.8M1494.8 380.9L1494.6 383.2M1487.8 379.3L1487.6 381.9M1480.9 375.4L1480 378.3M1474.5 370.2L1473.2 373.2M1467.9 364.6L1466.2 367.1M1461.4 357.8L1458.8 360.1M1457.3 351.6L1454.9 353.3M1452.9 343.5L1451 345.4M1449.1 336.6L1445.7 337.7M1446.2 328.9L1443.6 329.8M1445.8 319.8L1442.8 320.9M1446.1 310.3L1442.4 310.1M1445.1 302.5L1442.4 302.9M1444.6 293.9L1441.1 293.8M1445.3 285.9L1442.1 285.1M1446 279L1443.5 277.9M1447.7 269.9L1445.5 268.1M1451.2 262.9L1449.5 261.2M1455.6 257.8L1453.5 256.3M1462.1 250.5L1460.6 248M1468.6 242.9L1466.7 240.4M1475.3 237.5L1474.3 234.9M1484 233.4L1483.3 230M1492.6 230.5L1491.9 228.3M1500.3 229L1499.5 226.6M1506.8 229.2L1506.8 225.9M1513.4 230.8L1513.3 227.4M1522.6 233.9L1522.8 230.7M1531.6 236.1L1533.1 233.1M1539.6 238.8L1541.4 235.6M1546.1 242.7L1547 240.6M1553 248.9L1554.9 246.1M1558.8 254.8L1560.4 253.1M1563.1 260.3L1565.3 257.9M1566.8 268.5L1569.6 267.1M1569.2 276.3L1572.6 275.3M1572.2 283.8L1574.8 283.2M1575.3 291.8L1578.8 291.5M1576.2 299.6L1578.5 299.2M1574.9 308.9L1578 309.8M1572.8 315.8L1576.4 315.9M1568.5 324.1L1571 325M1563.5 329.6L1566.1 331M1557.3 334.6L1560.2 335.7M1551.2 340L1553.1 341.8M1543.8 345.1L1545.8 347.3M1535.5 346.9L1536.5 348.9" stroke="#2a788e" stroke-width="3.2"/>
<path d="M1563.7 371.5L1555.8 373.7 1548.1 375.1 1540.7 376.3 1533.8 377.5 1526.9 378.3 1520.1 378.4 1513.5 378.5 1507 379.1 1500.4 379.9 1493.6 379.8 1487.2 378 1481.3 374.6 1476.1 370.4 1471.1 366.1 1466.4 361.9 1462.2 357.4 1458.7 352.3 1455.8 346.9 1453.1 341.8 1450.3 336.8 1447.9 331.6 1446.7 325.9 1446.7 320.2 1447 314.6 1446.9 309.3 1446.3 304 1445.6 298.6 1445.6 293.2 1446.1 287.7 1446.6 282 1447.3 276.2 1448.6 270.3 1451.1 264.8 1454.7 260.1 1458.8 255.8 1462.7 251.2 1466.7 246.4 1471.1 241.8 1476.2 238 1482 235.2 1488 233 1494.1 231.1 1500.5 229.9 1507 230.2 1513.3 231.7 1519.4 233.8 1525.3 235.6 1531.4 237 1537.4 238.8 1543 241.7 1548 245.5 1552.5 249.8 1556.9 254.1 1560.9 258.8 1564 264.1 1566.2 269.8 1568 275.6 1570 281.1 1572.4 286.5 1574.4 292.1 1575.3 298 1574.9 304 1573.7 309.8 1571.9 315.4 1569.6 320.8 1566.3 325.6 1562.1 329.7 1557.6 333.2 1553.5 336.6 1549.8 339.9 1546 343 1541.4 345 1536.4 346 1531.5 346.4" stroke="#433e85" stroke-width="3.2" stroke-linecap="butt"/>
</g>
<path d="M1471.1 365.5h0M1459.5 334.6h0M1454.8 279.7h0M1467.1 349.7h0M1455.3 278.1h0M1447.3 282h0M1491.9 358.2h0M1488.6 263.6h0M1474.7 369h0M1452.3 324.4h0M1548.7 319.8h0M1461.3 257.7h0M1553.8 308.6h0M1467.3 363.5h0M1511.6 337.5h0M1486 355.4h0M1460.5 341.7h0M1456.2 332.8h0M1525.7 364h0M1542 310.4h0M1467.7 268h0M1453.2 358.4h0M1503.4 334.2h0M1470.3 279.3h0M1446.4 291.2h0M1475.7 300.8h0M1488.3 350.1h0M1490.6 269.9h0M1521.3 367h0M1468.2 342h0M1479.5 251.6h0M1464.6 302.3h0M1471.6 299.2h0M1496.3 300.2h0M1512.7 284.6h0M1455.9 260.2h0M1457.3 312.5h0M1503.1 335h0M1446.9 266.8h0M1556 250.4h0M1545.6 254h0M1556 341.1h0M1558.9 319.6h0M1465.4 366.4h0M1495.8 260h0M1499.4 268.5h0M1459 319.7h0M1497.1 265.2h0M1490.3 293.3h0M1470.9 273.7h0M1496.3 263h0M1528.4 335h0M1515.3 252.7h0M1486.9 301.9h0M1455.7 366.1h0M1531.9 310.3h0M1526.1 274.1h0M1471.4 313.1h0M1530.6 327.7h0M1445.8 323.6h0M1549.5 339.2h0M1551.7 367.8h0M1470.7 285.6h0M1507.9 367.2h0M1487.5 363h0M1542.8 312h0M1516.9 364.8h0M1487.5 365h0M1541.9 332.1h0M1552.6 337.4h0M1539.4 322.6h0M1486.7 301.3h0M1452.9 338h0M1476.2 300.4h0M1458.5 349.5h0M1476.5 285h0M1537.5 310.5h0M1476.9 356.6h0M1492.4 293.4h0M1556 344.8h0M1538.5 321.6h0M1534.8 345.2h0M1534.7 369.2h0M1550.9 344.3h0M1460.7 323.2h0M1523.8 260.4h0M1498.2 354.2h0M1549.1 361h0M1455.7 322.9h0M1544.5 328.3h0M1481.8 254.6h0M1550.8 353.1h0M1540.3 347.8h0M1528.3 322h0M1481.7 285.6h0M1486.1 289.2h0M1504.8 263.7h0M1463.4 280.6h0M1489.8 301.7h0M1535 262h0M1470.6 285.2h0M1465.3 339.9h0M1457.5 256.1h0M1508.9 338.3h0M1539.9 317.1h0M1482.6 355.8h0M1509.7 362.3h0M1559.7 361.7h0M1460.3 289.2h0M1491.9 270.3h0M1532.6 257.3h0M1547.1 320.3h0M1552.7 319.4h0M1548.1 360.7h0M1524.6 368h0M1501.3 294h0M1542.1 313.4h0M1499.7 265.3h0M1541.4 310h0M1556.7 314h0M1470 313.2h0M1533.2 349h0M1519.5 264.9h0M1490.3 254.2h0M1487.7 363.4h0M1516.5 267.2h0M1524.2 259.6h0M1466.2 319.6h0M1459.7 365.7h0M1514.1 328.7h0M1558.4 293h0M1553.9 328h0M1499.8 270.4h0M1472.1 293.8h0M1484.8 294.6h0M1517.3 254.6h0M1461.2 335.2h0M1448.7 277.9h0M1486.5 294h0M1509.6 286.2h0" stroke="#5ec962" stroke-width="2.2" stroke-linecap="round" opacity=".75"/>
<path d="M1519.4 344.3h0M1535.1 339h0M1512.2 281.3h0M1543.9 303.7h0M1511.5 338.4h0M1526.6 270.8h0M1461.8 348.8h0M1455.2 345.2h0M1518.1 280.4h0M1458.3 254.4h0M1527.6 275.4h0M1481.1 367.2h0M1529.6 338.5h0M1511.2 326.9h0M1446.3 347.5h0M1482.8 352.6h0M1492.7 359.4h0M1445.1 367.6h0M1456 311.3h0M1500.4 368.4h0M1527.4 367.8h0M1549.2 301h0M1462 267.5h0M1526.6 364.2h0M1513.7 328.8h0M1467.9 253.3h0M1452.4 308.6h0M1525 277.1h0M1475.3 312.7h0M1525.6 272.7h0M1537.8 328.6h0M1544.6 343.6h0M1501.8 335.9h0M1454.5 291.5h0M1503.2 356.3h0M1523.6 359.1h0M1545 366.5h0" stroke="#21918c" stroke-width="2" stroke-linecap="round" opacity=".7"/>
<path d="M1679 147L1695 136M1682.3 151.7L1698.3 140.7M1685.6 156.4L1701.6 145.4M1688.9 161.1L1704.9 150.1M1692.1 165.9L1708.1 154.9M1695.4 170.6L1711.4 159.6M1698.7 175.3L1714.7 164.3M1702 180L1718 169" stroke="#7ad151" stroke-width="3" stroke-linecap="round"/>
<path d="M1679 147L1686.2 142.1M1682.3 151.7L1689.5 146.8M1685.6 156.4L1692.8 151.5M1688.9 161.1L1696.1 156.2M1692.1 165.9L1699.3 160.9M1695.4 170.6L1702.6 165.6M1698.7 175.3L1705.9 170.3M1702 180L1709.2 175.1" stroke="#28ae80" stroke-width="3" stroke-linecap="round"/>
<path d="M1678 146L1702 181" stroke="#433e85" stroke-width="3"/>
</g>
<rect x="1282.5" y="75" width="436.5" height="460.5" fill="none" stroke="#333" stroke-width="1.2"/>
<linearGradient id="gb" x1="0" y1="0" x2="0" y2="1"><stop offset="0.000" stop-color="#f0f04c"/><stop offset="0.100" stop-color="#bae652"/><stop offset="0.200" stop-color="#86d368"/><stop offset="0.300" stop-color="#61bc7c"/><stop offset="0.400" stop-color="#4ea487"/><stop offset="0.500" stop-color="#468a8c"/><stop offset="0.600" stop-color="#44708c"/><stop offset="0.700" stop-color="#44578a"/><stop offset="0.800" stop-color="#443d81"/><stop offset="0.900" stop-color="#432471"/><stop offset="1.000" stop-color="#3e0c5e"/></linearGradient>
<rect x="1724.7" y="75" width="15.6" height="460.5" fill="url(#gb)" stroke="#333" stroke-width="1.3"/>
<path d="M1740.5 141.5h6.6" stroke="#333" stroke-width="1.3"/>
<text x="1751.8" y="150" font-size="29.3">0.8</text>
<path d="M1740.5 269.9h6.6" stroke="#333" stroke-width="1.3"/>
<text x="1751.8" y="278.4" font-size="29.3">0.6</text>
<path d="M1740.5 398.5h6.6" stroke="#333" stroke-width="1.3"/>
<text x="1751.8" y="407" font-size="29.3">0.4</text>
<path d="M1740.5 527.1h6.6" stroke="#333" stroke-width="1.3"/>
<text x="1751.8" y="535.6" font-size="29.3">0.2</text>
<text x="1515" y="37" font-size="29.2" text-anchor="middle">Small Intestine</text>
<text x="1515" y="63.6" font-size="29.2" text-anchor="middle">day 8 p.i. (LCMV)</text>
<text x="1509" y="561" font-size="29.2" text-anchor="middle">spatial 1</text>
<text transform="translate(1271 298) rotate(-90)" font-size="29.2" text-anchor="middle">spatial 2</text>
<text x="1230.5" y="31" font-size="40.5" font-weight="bold">b</text>
<rect x="1893.6" y="103.4" width="230.4" height="302.4" fill="none" stroke="#222" stroke-width="1.2"/>
<path d="M2030.4 226.3h0M1994.4 279.7h0M2021 228h0M2022.1 262.7h0M1994.9 269h0M2034.8 239.3h0M2004.5 264.1h0M2016.8 261.4h0M2012.9 251.9h0M2050.6 228.3h0M2035.1 251.5h0M2032.6 238.7h0M2000.5 264.5h0M2033.6 243.9h0M2036.5 219.2h0M2050.3 208h0M1983.6 272.3h0M1997.2 255h0M2014.6 251.1h0M2023.6 254.5h0M2015.2 262.2h0M2061 225.5h0M2013.3 276.3h0M1978.9 290.1h0M2031.3 232.2h0M2019.5 258.1h0M2055.7 236.4h0M1993.2 263.5h0M1990 268.5h0M2035.4 239.5h0M2022.4 247.7h0M1997.4 305.2h0M1984.8 275.7h0M1975 289.6h0M2017.8 235.1h0M1981.3 284.6h0M2018.2 244.7h0M1981 255.5h0M1994 255.5h0M2008.3 253.4h0M2051.6 218.1h0M2016 265.2h0M1997.8 283.6h0M2059.8 239.9h0M1953.2 278.5h0M2042.6 237.8h0M2032.4 251h0M1999.6 258.6h0M2022.1 254h0M2050.7 218.4h0M2016.2 267.3h0M2016.1 256.6h0M2011.2 246.5h0M1999.5 261.6h0M2031.5 237.1h0M2061.6 241.1h0M2011.4 270.8h0M2011.3 225.2h0M1974.6 286.7h0M2028.1 242.9h0M2034.2 258.8h0M2035.6 250.4h0M1984.4 269h0M2023.9 256.1h0M1993.7 271.7h0M2012.5 257.6h0M1989.1 301.3h0M2043.3 230.8h0M1983.7 296h0M1996.5 272.4h0M1962.9 274.4h0M2022.6 252.2h0M2020.8 246.6h0M2037.4 235.5h0M2042.1 214.8h0M2005.3 266.4h0M1991.9 273.5h0M1995.6 267.8h0M2019.7 243.7h0M1985.5 261.9h0M2005.2 262.3h0M2000.5 289.2h0M2018.4 273.3h0M2038.3 236.2h0M2048.9 221h0M2028.9 226.3h0M2011.5 237.3h0M2009.4 254.7h0M1996.6 260.5h0M2028.1 250.5h0M1982.4 278.1h0M2022.3 250.5h0M1989.6 281.3h0M2006.2 292.8h0M1998.7 247.9h0M1982.4 280.4h0M2051.9 218.1h0M2033.9 241.8h0M1981.3 242.7h0M2019.4 247.6h0M2050.8 217.7h0M2013.7 268.5h0M2008.7 260.3h0M1996.5 278.1h0M1988.9 274.4h0M1998.4 260.9h0M2036 234.6h0M2012.8 236.1h0M2027.6 263h0M1995.5 265.7h0M1991.7 261.5h0M1971.3 309.5h0M2035.2 231.9h0M1974.8 282.3h0M2043.7 246.8h0M1984.4 291.3h0M1989.2 294.3h0M2000.9 282.2h0M2013.7 227.2h0M1987.6 262.6h0M2039.6 264.7h0M2014.8 254.2h0M2004.3 251.8h0M2001.9 259.1h0M2003.1 264.3h0M1993.8 241.2h0M2010.9 270.9h0M2057.8 203.1h0M2007.6 267.5h0M1994.9 253.3h0M2004.5 270.4h0M2031.9 244.9h0M2010.9 232.9h0M2032.4 225.8h0M2022 232.9h0M2008.2 247h0M2036.7 243.2h0M1982.1 271.3h0M2009.3 250.5h0M1998.1 259.7h0M2034.7 210.2h0M2054 220.6h0M2045.8 239.2h0M2039.7 234.2h0M2043.3 229.1h0M2006.8 268.8h0M2041.6 233.8h0M2028.9 237.8h0M1964.3 283.5h0M2003.5 257.5h0M2023.5 270.2h0M2004.8 262.2h0M2021.3 237.7h0M1996.2 270.5h0M2026.8 268.1h0M2055.6 236h0M2043 231.7h0M2056.2 210.9h0M2011.4 277.7h0M2015.2 249.7h0M2024.9 262.3h0M1992.8 279.8h0M2018.7 262h0M2009.4 246.5h0M2002.3 246.5h0M2019.1 254h0M2037.8 231.2h0M2005.5 268.2h0M2011.1 252.5h0M2038.9 233.2h0M1997.7 283.1h0M2018.1 246.8h0M2038.7 243.2h0M1981.9 267.7h0M2008.1 274h0M2051 216.7h0M2013.7 251.5h0M1994.7 256.5h0M2002.1 269h0M2005.2 275.2h0M2036.2 217.8h0M2030 268.5h0M2005.1 269.1h0M2020.9 276.2h0M1961.8 298.5h0M2035.1 241.6h0M2061.6 230.4h0M2013.1 257.2h0M1992.8 256.4h0M1981.3 291.7h0M2003.7 268.1h0M2038.6 243.3h0M2023.9 253.2h0M2042 234.4h0M2018.3 271.8h0M2028.6 251.9h0M2032.9 234.6h0M2024.9 232.8h0M2021 260.5h0M2015.9 251.2h0M1984.7 268.5h0M2046.4 228h0M2014.8 248.3h0M2037.8 244h0M2034.4 248.9h0M2024.6 240.5h0M1982.2 269.7h0M2017.3 272.9h0M2001.6 271.5h0M1991.4 266.1h0M1993.7 268.9h0M1986.8 277.8h0M2054.8 219.8h0M1975.9 294.2h0M2008.9 278.5h0M2035 239.9h0M2010.5 256.6h0M1996.2 281.8h0M1939.6 329.1h0M2017.7 243.6h0M2007.8 281.9h0M2004.3 261.4h0M1981.9 261.2h0M1986 275.2h0M1986.7 263.4h0M1982.7 288.7h0M2038.1 252.7h0M1999.5 258.6h0M2020.4 271.7h0M2026.2 249.4h0M2040.6 256.7h0M2030 238h0M2003.3 267.7h0M2021.1 258h0M2004 271.5h0M2015.3 245.4h0M1975 282.9h0M2019.3 232.2h0M1994.8 253.2h0M2001.7 257.7h0M2017.3 249h0M2004.1 274.1h0M2046.8 212.8h0M2009.4 260.2h0M2007.1 276.3h0M1986.1 270h0M2034.2 242.8h0M1990.2 285.4h0M1997.7 258h0M2013.2 273h0M1918.1 303.1h0M1920.5 301.9h0M1932.9 306.9h0M1937.9 305.6h0M1923 334.3h0M1932.9 328.1h0M1932.9 325.6h0M1923 344.3h0M1928 345.5h0M1928 358h0M2077.7 149.8h0M2101.2 159h0M2091.3 176.5h0M2076.5 199.7h0M2071.5 215.9h0M2046.8 198.4h0M2050.5 204.7h0M2054.2 205.9h0M1960.1 243.3h0M2012.1 308.1h0M1991.1 319.3h0M1952.7 323.1h0M1965.1 314.3h0M1947.8 310.6h0M1957.7 309.4h0" stroke="#4c7fb4" stroke-width="6.6" stroke-linecap="round" fill="none"/>
<path d="M1916.8 325.6L2101.2 190.9" stroke="#e0393a" stroke-width="2.2"/>
<path d="M1893.6 141.1h-3.2" stroke="#222" stroke-width="1.2"/>
<text x="1889" y="150.5" font-size="28.5" text-anchor="end">4</text>
<path d="M1893.6 190.9h-3.2" stroke="#222" stroke-width="1.2"/>
<text x="1889" y="200.3" font-size="28.5" text-anchor="end">2</text>
<path d="M1893.6 240.8h-3.2" stroke="#222" stroke-width="1.2"/>
<text x="1889" y="250.2" font-size="28.5" text-anchor="end">0</text>
<path d="M1893.6 290.7h-3.2" stroke="#222" stroke-width="1.2"/>
<text x="1889" y="300.1" font-size="28.5" text-anchor="end">-2</text>
<path d="M1893.6 340.5h-3.2" stroke="#222" stroke-width="1.2"/>
<text x="1889" y="349.9" font-size="28.5" text-anchor="end">-4</text>
<path d="M1893.6 390.4h-3.2" stroke="#222" stroke-width="1.2"/>
<text x="1889" y="399.8" font-size="28.5" text-anchor="end">-6</text>
<path d="M1915.6 405.8v3.2" stroke="#222" stroke-width="1.2"/>
<text x="1911.6" y="431" font-size="28.5" text-anchor="middle">-4</text>
<path d="M1965.1 405.8v3.2" stroke="#222" stroke-width="1.2"/>
<text x="1961.1" y="431" font-size="28.5" text-anchor="middle">-2</text>
<path d="M2014.6 405.8v3.2" stroke="#222" stroke-width="1.2"/>
<text x="2014.6" y="431" font-size="28.5" text-anchor="middle">0</text>
<path d="M2064.1 405.8v3.2" stroke="#222" stroke-width="1.2"/>
<text x="2064.1" y="431" font-size="28.5" text-anchor="middle">2</text>
<path d="M2113.6 405.8v3.2" stroke="#222" stroke-width="1.2"/>
<text x="2111.4" y="431" font-size="28.5" text-anchor="middle">4</text>
<text x="2009" y="34.2" font-size="29.2" text-anchor="middle">Day 8 p.i.</text>
<text x="2009" y="60.6" font-size="29.2" text-anchor="middle">(top/bottom gene</text>
<text x="2009" y="87.4" font-size="29.2" text-anchor="middle">expression ratios)</text>
<text x="1906.5" y="133" font-size="29.2">r=0.82</text>
<text x="2009" y="463.6" font-size="29.2" text-anchor="middle">VisiumHD ratios</text>
<text transform="translate(1853 266) rotate(-90)" font-size="29.2" text-anchor="middle">Xenium ratios</text>
<circle cx="1933.2" cy="494" r="3.3" fill="#4c7fb4"/>
<text x="1957" y="500.5" font-size="29.2">Data points</text>
<path d="M1922 527h20.5" stroke="#e0393a" stroke-width="2.2"/>
<text x="1957" y="533.8" font-size="29.2">Best fit line</text>
<text x="1796" y="31" font-size="40.5" font-weight="bold">c</text>
<text transform="translate(83.4 693) rotate(-90)" font-size="29" font-style="italic" fill="#e8212b">Il17b</text>
<text transform="translate(108 693) rotate(-90)" font-size="29" font-style="italic">Cxcl5</text>
<text transform="translate(132.6 693) rotate(-90)" font-size="29" font-style="italic">Ccl12</text>
<text transform="translate(157.2 693) rotate(-90)" font-size="29" font-style="italic">Ctf1</text>
<text transform="translate(181.8 693) rotate(-90)" font-size="29" font-style="italic">Il17d</text>
<text transform="translate(206.4 693) rotate(-90)" font-size="29" font-style="italic">Bmp6</text>
<text transform="translate(231 693) rotate(-90)" font-size="29" font-style="italic">Tnfsf15</text>
<text transform="translate(255.6 693) rotate(-90)" font-size="29" font-style="italic">Clcf1</text>
<text transform="translate(280.2 693) rotate(-90)" font-size="29" font-style="italic" fill="#e8212b">Tgfb3</text>
<text transform="translate(304.8 693) rotate(-90)" font-size="29" font-style="italic" fill="#e8212b">Cxcl12</text>
<text transform="translate(329.4 693) rotate(-90)" font-size="29" font-style="italic">Cxcl1</text>
<text transform="translate(354 693) rotate(-90)" font-size="29" font-style="italic">Gdf11</text>
<text transform="translate(378.6 693) rotate(-90)" font-size="29" font-style="italic">Bmp7</text>
<text transform="translate(403.2 693) rotate(-90)" font-size="29" font-style="italic">Il1rn</text>
<text transform="translate(427.8 693) rotate(-90)" font-size="29" font-style="italic">Tnf</text>
<text transform="translate(452.4 693) rotate(-90)" font-size="29" font-style="italic">Inha</text>
<text transform="translate(477 693) rotate(-90)" font-size="29" font-style="italic">Ccl6</text>
<text transform="translate(501.6 693) rotate(-90)" font-size="29" font-style="italic">Ccl9</text>
<text transform="translate(526.2 693) rotate(-90)" font-size="29" font-style="italic">Gdf10</text>
<text transform="translate(550.8 693) rotate(-90)" font-size="29" font-style="italic">Tnfsf13</text>
<text transform="translate(575.4 693) rotate(-90)" font-size="29" font-style="italic">Tnfsf12</text>
<text transform="translate(600 693) rotate(-90)" font-size="29" font-style="italic">Ngf</text>
<text transform="translate(624.6 693) rotate(-90)" font-size="29" font-style="italic" fill="#e8212b">Tgfb2</text>
<text transform="translate(649.2 693) rotate(-90)" font-size="29" font-style="italic">Eda</text>
<text transform="translate(673.8 693) rotate(-90)" font-size="29" font-style="italic">Ccl21a</text>
<text transform="translate(698.4 693) rotate(-90)" font-size="29" font-style="italic">Ccl19</text>
<text transform="translate(723 693) rotate(-90)" font-size="29" font-style="italic">Bmp4</text>
<text transform="translate(747.6 693) rotate(-90)" font-size="29" font-style="italic">Tnfsf8</text>
<text transform="translate(772.2 693) rotate(-90)" font-size="29" font-style="italic" fill="#e8212b">Tslp</text>
<text transform="translate(796.8 693) rotate(-90)" font-size="29" font-style="italic">Ccl28</text>
<text transform="translate(821.4 693) rotate(-90)" font-size="29" font-style="italic">Tnfsf9</text>
<text transform="translate(846 693) rotate(-90)" font-size="29" font-style="italic">Cntf</text>
<text transform="translate(870.6 693) rotate(-90)" font-size="29" font-style="italic">Lep</text>
<text transform="translate(895.2 693) rotate(-90)" font-size="29" font-style="italic">Ccl22</text>
<text transform="translate(919.8 693) rotate(-90)" font-size="29" font-style="italic">Gdf3</text>
<text transform="translate(944.4 693) rotate(-90)" font-size="29" font-style="italic">Ccl7</text>
<text transform="translate(969 693) rotate(-90)" font-size="29" font-style="italic">Ccl8</text>
<text transform="translate(993.6 693) rotate(-90)" font-size="29" font-style="italic">Pf4</text>
<text transform="translate(1018.2 693) rotate(-90)" font-size="29" font-style="italic">Il2</text>
<text transform="translate(1042.8 693) rotate(-90)" font-size="29" font-style="italic" fill="#e8212b">Ccl11</text>
<text transform="translate(1067.4 693) rotate(-90)" font-size="29" font-style="italic">Inhbb</text>
<text transform="translate(1092 693) rotate(-90)" font-size="29" font-style="italic">Csf1</text>
<text transform="translate(1116.6 693) rotate(-90)" font-size="29" font-style="italic">Il16</text>
<text transform="translate(1141.2 693) rotate(-90)" font-size="29" font-style="italic">Bmp3</text>
<text transform="translate(1165.8 693) rotate(-90)" font-size="29" font-style="italic" fill="#e8212b">Tgfb1</text>
<text transform="translate(1190.4 693) rotate(-90)" font-size="29" font-style="italic">Csf2</text>
<text transform="translate(1215 693) rotate(-90)" font-size="29" font-style="italic">Gdf9</text>
<text transform="translate(1239.6 693) rotate(-90)" font-size="29" font-style="italic">Il23a</text>
<text transform="translate(1264.2 693) rotate(-90)" font-size="29" font-style="italic">Thpo</text>
<text transform="translate(1288.8 693) rotate(-90)" font-size="29" font-style="italic">Tnfsf14</text>
<text transform="translate(1313.4 693) rotate(-90)" font-size="29" font-style="italic">Lif</text>
<text transform="translate(1338 693) rotate(-90)" font-size="29" font-style="italic">Il31</text>
<text transform="translate(1362.6 693) rotate(-90)" font-size="29" font-style="italic">Ccl2</text>
<text transform="translate(1387.2 693) rotate(-90)" font-size="29" font-style="italic" fill="#e8212b">Ccl25</text>
<text transform="translate(1411.8 693) rotate(-90)" font-size="29" font-style="italic" fill="#e8212b">Il18</text>
<text transform="translate(1436.4 693) rotate(-90)" font-size="29" font-style="italic" fill="#e8212b">Cxcl10</text>
<text transform="translate(1461 693) rotate(-90)" font-size="29" font-style="italic">Bmp2</text>
<text transform="translate(1485.6 693) rotate(-90)" font-size="29" font-style="italic">Il33</text>
<text transform="translate(1510.2 693) rotate(-90)" font-size="29" font-style="italic">Il1a</text>
<text transform="translate(1534.8 693) rotate(-90)" font-size="29" font-style="italic" fill="#e8212b">Ifng</text>
<text transform="translate(1559.4 693) rotate(-90)" font-size="29" font-style="italic" fill="#e8212b">Ccl5</text>
<text transform="translate(1584 693) rotate(-90)" font-size="29" font-style="italic" fill="#e8212b">Xcl1</text>
<text transform="translate(1608.6 693) rotate(-90)" font-size="29" font-style="italic" fill="#e8212b">Il1b</text>
<text transform="translate(1633.2 693) rotate(-90)" font-size="29" font-style="italic" fill="#e8212b">Cx3cl1</text>
<text transform="translate(1657.8 693) rotate(-90)" font-size="29" font-style="italic">Tnfsf10</text>
<text transform="translate(1682.4 693) rotate(-90)" font-size="29" font-style="italic" fill="#e8212b">Il7</text>
<text transform="translate(1707 693) rotate(-90)" font-size="29" font-style="italic" fill="#e8212b">Cxcl9</text>
<text transform="translate(1731.6 693) rotate(-90)" font-size="29" font-style="italic">Ltb</text>
<text transform="translate(1756.2 693) rotate(-90)" font-size="29" font-style="italic">Cd40lg</text>
<text transform="translate(1780.8 693) rotate(-90)" font-size="29" font-style="italic">Tnfsf13</text>
<text transform="translate(1805.4 693) rotate(-90)" font-size="29" font-style="italic">Il34</text>
<text transform="translate(1830 693) rotate(-90)" font-size="29" font-style="italic">Bmp5</text>
<text transform="translate(1854.6 693) rotate(-90)" font-size="29" font-style="italic">Ccl3</text>
<text transform="translate(1879.2 693) rotate(-90)" font-size="29" font-style="italic">Cxcl16</text>
<text transform="translate(1903.8 693) rotate(-90)" font-size="29" font-style="italic">Ccl24</text>
<text transform="translate(1928.4 693) rotate(-90)" font-size="29" font-style="italic">Ebi3</text>
<text transform="translate(1953 693) rotate(-90)" font-size="29" font-style="italic">Mstn</text>
<text transform="translate(1977.6 693) rotate(-90)" font-size="29" font-style="italic">Ccl4</text>
<text transform="translate(2002.2 693) rotate(-90)" font-size="29" font-style="italic">Fasl</text>
<text transform="translate(2026.8 693) rotate(-90)" font-size="29" font-style="italic">Cxcl14</text>
<text transform="translate(2051.4 693) rotate(-90)" font-size="29" font-style="italic">Inhba</text>
<text transform="translate(2076 693) rotate(-90)" font-size="29" font-style="italic" fill="#e8212b">Il15</text>
<text transform="translate(2100.6 693) rotate(-90)" font-size="29" font-style="italic">Bmp8a</text>
<text transform="translate(2125.2 693) rotate(-90)" font-size="29" font-style="italic">Bmp8b</text>
<path d="M72.9 701v5M97.5 701v5M122.1 701v5M146.7 701v5M171.3 701v5M195.9 701v5M220.5 701v5M245.1 701v5M269.7 701v5M294.3 701v5M318.9 701v5M343.5 701v5M368.1 701v5M392.7 701v5M417.3 701v5M441.9 701v5M466.5 701v5M491.1 701v5M515.7 701v5M540.3 701v5M564.9 701v5M589.5 701v5M614.1 701v5M638.7 701v5M663.3 701v5M687.9 701v5M712.5 701v5M737.1 701v5M761.7 701v5M786.3 701v5M810.9 701v5M835.5 701v5M860.1 701v5M884.7 701v5M909.3 701v5M933.9 701v5M958.5 701v5M983.1 701v5M1007.7 701v5M1032.3 701v5M1056.9 701v5M1081.5 701v5M1106.1 701v5M1130.7 701v5M1155.3 701v5M1179.9 701v5M1204.5 701v5M1229.1 701v5M1253.7 701v5M1278.3 701v5M1302.9 701v5M1327.5 701v5M1352.1 701v5M1376.7 701v5M1401.3 701v5M1425.9 701v5M1450.5 701v5M1475.1 701v5M1499.7 701v5M1524.3 701v5M1548.9 701v5M1573.5 701v5M1598.1 701v5M1622.7 701v5M1647.3 701v5M1671.9 701v5M1696.5 701v5M1721.1 701v5M1745.7 701v5M1770.3 701v5M1794.9 701v5M1819.5 701v5M1844.1 701v5M1868.7 701v5M1893.3 701v5M1917.9 701v5M1942.5 701v5M1967.1 701v5M1991.7 701v5M2016.3 701v5M2040.9 701v5M2065.5 701v5M2090.1 701v5M2114.7 701v5" stroke="#222" stroke-width="1.2"/>
<text transform="translate(50.8 746.5) rotate(-90)" font-size="29">top</text>
<text transform="translate(50.8 1035) rotate(-90)" font-size="29">bottom</text>
<path d="M42.5 936V772" stroke="#000" stroke-width="1.4"/><path d="M42.5 762.5l-4.7 11h9.4z" fill="#000"/>
<linearGradient id="gd" x1="0" y1="0" x2="1" y2="0"><stop offset="0.00" stop-color="#66a3b5"/><stop offset="0.15" stop-color="#7fb6c3"/><stop offset="0.30" stop-color="#9cc4bc"/><stop offset="0.40" stop-color="#b8cc9c"/><stop offset="0.50" stop-color="#d6d46a"/><stop offset="0.60" stop-color="#deb848"/><stop offset="0.70" stop-color="#e09a3c"/><stop offset="0.85" stop-color="#e26630"/><stop offset="1.00" stop-color="#e43c26"/></linearGradient>
<rect x="1971.2" y="1065.3" width="155.7" height="21.4" fill="url(#gd)"/>
<text x="1971" y="1060" font-size="24.5">min</text>
<text x="2126" y="1060" font-size="24.5" text-anchor="end">max</text>
<text x="0.5" y="609.5" font-size="40.5" font-weight="bold">d</text>
<clipPath id="ce"><rect x="53" y="1147" width="450" height="377.5"/></clipPath>
<g clip-path="url(#ce)" fill="none">
<rect x="53" y="1147" width="450" height="377.5" fill="#9d9d9d"/>
<path d="M550 1340L550 1340 550 1360 550 1360 550 1380 540 1380 540 1390 540 1390 540 1410 530 1410 530 1430 520 1430 520 1440 520 1440 520 1450 510 1450 510 1470 490 1470 490 1480 480 1480 480 1490 470 1490 470 1500 460 1500 460 1510 440 1510 440 1520 430 1520 430 1530 410 1530 410 1540 400 1540 400 1540 390 1540 390 1550 370 1550 370 1550 360 1550 360 1560 340 1560 340 1560 320 1560 320 1570 310 1570 310 1570 290 1570 290 1570 280 1570 280 1570 260 1570 260 1570 240 1570 240 1570 230 1570 230 1570 210 1570 210 1560 190 1560 190 1560 180 1560 180 1550 160 1550 160 1540 150 1540 150 1530 130 1530 130 1520 120 1520 120 1510 110 1510 110 1500 100 1500 100 1480 90 1480 90 1470 90 1470 90 1450 80 1450 80 1440 80 1440 80 1420 70 1420 70 1410 70 1410 70 1390 70 1390 70 1380 70 1380 70 1360 70 1360 70 1340 70 1340 70 1330 70 1330 70 1310 80 1310 80 1300 80 1300 80 1280 80 1280 80 1270 90 1270 90 1250 100 1250 100 1240 100 1240 100 1220 110 1220 110 1210 120 1210 120 1200 130 1200 130 1180 140 1180 140 1170 150 1170 150 1160 160 1160 160 1150 180 1150 180 1140 190 1140 190 1130 210 1130 210 1120 220 1120 220 1120 240 1120 240 1110 260 1110 260 1110 270 1110 270 1110 290 1110 290 1110 310 1110 310 1110 330 1110 330 1110 340 1110 340 1120 360 1120 360 1120 370 1120 370 1130 390 1130 390 1140 400 1140 400 1140 410 1140 410 1150 430 1150 430 1160 440 1160 440 1170 450 1170 450 1180 460 1180 460 1190 480 1190 480 1200 490 1200 490 1210 500 1210 500 1230 510 1230 510 1240 520 1240 520 1250 520 1250 520 1270 530 1270 530 1280 540 1280 540 1300 540 1300 540 1310 540 1310 540 1330Z" fill="#978e98"/>
<path d="M411.3 1211L420.3 1197.9M416.1 1214.7L426.1 1205.4M420.4 1218L430.4 1209M424 1220.9L434.2 1207.5M427.6 1224L442.1 1215.6M431.1 1227.2L443.6 1218.8M435.8 1231.9L450.1 1220.6M440.3 1236.8L452.6 1231.5M443.4 1240.8L454 1231.1M446.4 1244.9L462.2 1232.1M449.5 1249.6L465.4 1239.7M452.3 1254.4L462.9 1245.9M454.6 1258.6L471.6 1249.9M456.9 1263.1L473.5 1255.4M459 1267.6L478.4 1261.9M461 1272.1L478.1 1265.9M463.3 1277.8L481.1 1269.7M465.5 1283.9L478.8 1279.3M467.2 1289.5L481.1 1285.8M468.3 1293.8L487.2 1291.8M469.4 1299.2L489.4 1293.1M470.2 1304.9L488.4 1302.4M470.6 1310.1L491.1 1311.6M470.7 1315.4L488.7 1309.3M470.5 1321.2L489.1 1324.1M470 1327.2L485.5 1325.6M469.3 1332.9L482.5 1332.4M468.7 1337.5L482.4 1334.6M467.8 1343.4L481.9 1342.2M467 1348.4L487.6 1345.6M466.1 1353.6L483.3 1358.6M465.1 1359.5L485.8 1360M464.1 1364.6L479.4 1370.1M462.8 1370.7L477.2 1371.3M461.7 1375.4L476.4 1378.6M460.1 1380.7L475.5 1380.9M458.5 1385.6L474 1390.8M456.1 1391.6L474.3 1397.8M453.7 1396.7L472.7 1399.3M450.8 1402.3L467.6 1413.2M447.7 1407.6L463.1 1413.6M445.3 1411.5L463.4 1415.9M442.7 1415.2L456.9 1419.8M439.8 1419.4L452.8 1423M436.9 1423.3L449.3 1429.6M434.2 1426.8L451.2 1438.9M431.2 1430.5L444.5 1438M427.8 1434.5L437.7 1444.5M423.2 1439.4L436.9 1449.8M419.8 1442.6L431.2 1450.6M416 1446L433.5 1456.8M412.5 1448.9L428.1 1463.8M408.6 1451.9L423.9 1461.1M403.8 1455.2L415.9 1473.4M398.6 1458.5L409.5 1469.3M394.3 1461.1L406.9 1476.6M388.8 1464.3L400.1 1475.5M383.1 1467.5L392.5 1487.2M377.5 1470.6L386.5 1488.9M372.9 1473.1L383.1 1487.5M368.8 1475.3L376.5 1486.1M364.1 1477.8L369.1 1496.4M359 1480.4L363.5 1501.3M352.8 1483.3L361.1 1497.2M347.9 1485.2L355.2 1498.1M342.1 1487.3L345.6 1508.2M336.5 1489.1L339.3 1507.7M331.8 1490.3L333 1509.2M325.3 1491.6L329.9 1510.8M320.3 1492.5L325.7 1511.8M313.7 1493.3L318 1514.6M308 1493.9L308.1 1515.4M302.9 1494.3L306.4 1508M296 1494.6L300.2 1514.4M289.2 1494.8L287.5 1516.6M283.7 1494.9L286.2 1512.6M278.9 1494.8L275.8 1516.3M272.9 1494.5L271.2 1515.9M266.1 1493.9L265.9 1514.4M260.8 1493.3L259.9 1508.9M254.7 1492.3L251.9 1507.3M249.8 1491.2L246 1512.1M244.2 1489.8L235.6 1506M238.7 1488.3L231.9 1508.4M233 1486.5L230.8 1504.1M227.6 1484.7L225.3 1499.1M221.4 1482.5L215.4 1495.7M215.4 1480.2L208.5 1496.9M209.9 1478.1L199 1492.4M205.3 1476.3L197.9 1492.8M200.4 1474.2L189.5 1490.9M194.9 1471.8L180.5 1485.4M189.8 1469.3L178.7 1484M184.7 1466.4L173 1481.7M179.8 1463.3L165.9 1473.7M174.8 1459.8L157.6 1471.7M170.8 1456.6L155.6 1466.4M166 1452.3L157.6 1463.8M162.2 1448.4L153.1 1458.6M159 1445L142.9 1455M154.9 1440.1L142.6 1447.6M151.2 1435.4L138.2 1441.5M147.2 1430.2L133.2 1435.5M144.2 1425.9L127.6 1431.3M140.7 1420.7L128.3 1428.3M137.7 1416.1L124.8 1425.6M135.1 1411.7L120.1 1424.1M132.5 1406.8L119.1 1417.2M130.3 1402.3L113 1409.3M128.5 1398.2L107.2 1403.1M126.2 1392.2L113.6 1398.2M124.8 1388L106.5 1396.2M123.5 1383.7L106.8 1385M122 1377.8L108 1384M120.6 1371.7L102.5 1373.7M119.6 1367.4L106.1 1368.6M118.5 1362.3L104.9 1361.5M117.5 1356.8L98.3 1363.2M116.4 1350.8L102.8 1349.5M115.6 1345.6L99.6 1346M114.9 1339.4L99.8 1342.4M114.7 1334L99.8 1336.7M114.7 1329.4L101.3 1330.8M115 1324.5L99.5 1321.5M115.5 1319.6L98.1 1320.7M116.4 1314.7L103.3 1314.7M117.4 1310.5L98.1 1307.1M118.7 1306L102.7 1299.5M120 1301.6L99.9 1298.3M121.8 1296.6L101.6 1292.9M123.7 1291.5L106.8 1282.4M125.5 1286.8L106.6 1279M127.7 1281.5L111.5 1277.4M129.4 1277.4L115.4 1275.5M131.8 1272L116.9 1268.7M133.8 1267.9L116.7 1256.5M136.4 1262.8L121.7 1257.9M138.9 1258.4L122.6 1253.2M141.7 1253.9L130.3 1243.6M145.4 1248.5L129.1 1241.2M149.5 1243.3L135.7 1235.5M152.3 1239.9L138.7 1230.6M156 1235.7L144.1 1226.8M159 1232.4L145.3 1225.4M162.7 1228.5L150.8 1222.5M166.4 1224.8L155.6 1214.3M170.4 1220.9L157.3 1206.1M174.9 1216.7L159.6 1202.4M178.9 1213.2L161.7 1199.7M183.7 1209.2L168.7 1197.9M188.9 1205.4L177.1 1188M194.1 1202L179.6 1187.8M199.2 1199.1L192 1183.1M205.1 1196.2L195.2 1178.3M211.3 1193.6L203.7 1176.1M216.2 1191.9L208.2 1181.3M221.5 1190.2L217.7 1176.8M227.3 1188.6L221.1 1171M233.5 1187L223.6 1172.7M239.9 1185.4L233.7 1166.7M245.7 1184.1L236.7 1167.5M252.1 1182.8L245.4 1169M257.3 1181.8L250.6 1163.4M263.7 1180.7L260 1159.2M269.3 1179.8L268.6 1162.6M275.8 1179.1L275.5 1160.6M280.8 1178.8L278.2 1164.7M287.3 1178.6L287.5 1162.9M292.1 1178.6L290.7 1165.2M298.4 1178.9L301.1 1159.9M303.8 1179.3L305.1 1161.7M309.7 1179.9L314 1166.6M314.8 1180.6L322.7 1160.3M319.6 1181.2L325.4 1165.1M326.5 1182.3L328.6 1165.4M331.7 1183.3L334.3 1161.9M337.7 1184.5L342.1 1170.9M344.4 1186.1L351.3 1173.7M350.1 1187.7L359.9 1169.2M355.1 1189.4L363.5 1170.1M359.5 1191.2L365.1 1179.4M364.4 1194.1L369.1 1179.1M368.7 1197.5L378.7 1185.2M372.1 1200.9L385 1185.9M375.4 1204.8L388.8 1188.2M379.4 1210.5L387.7 1197.3M382.5 1215.5L396.6 1198.7M385.4 1220.5L394.6 1206.4M387.8 1224.8L398.6 1215.9M390.6 1229.3L403.3 1212.1M393.5 1233.6L404 1219.5M396.9 1237.8L415.3 1226.4M401.4 1242.2L417.8 1233.3M406.5 1246.6L421.8 1237.2M409.8 1249.8L425.4 1238M414 1254.3L428.5 1242.4M416.8 1257.8L432.7 1243.5M420 1262.3L433.2 1253M423.2 1267.4L441.3 1255.2M426.1 1272.4L440.5 1266.2M428.4 1277L440.7 1269.2M430.5 1281.4L450.2 1273.7M432.4 1285.8L453.5 1283.7M434.4 1290.7L447.2 1284.4M435.9 1294.9L450.2 1287.6M437.3 1299.5L452.2 1296.4M438.6 1305.6L457.8 1300.8M439.4 1310.7L456.6 1306.6M439.7 1315.6L452.9 1312.4M439.7 1322L453.8 1320.7M439.3 1327.6L459.6 1323.6M438.7 1332.5L453.9 1331.4M437.9 1337.7L459.2 1341.6M437 1343.8L450 1341.5M436.1 1349.5L457.1 1351.1M435.2 1354.9L448.2 1355.9M434.2 1361.1L453.4 1368M432.9 1367.3L448.1 1367.7M431.7 1371.8L448.4 1377.7M429.8 1377.8L448 1384.8M427.5 1383.4L443.6 1389.4M425.6 1387.4L445.1 1392M422.5 1392.9L440.4 1398.6M419.9 1396.8L433.3 1404.2M416.5 1401.7L430 1405.4M413 1406.1L429.4 1414.3M409.9 1409.9L427.4 1415.6M406.4 1413.7L418.2 1426.2M402.3 1418L419.4 1430.1M398.6 1421.4L408.1 1433.2M393.7 1425.2L407.8 1432.4M389 1428.5L403.4 1440.9M384.5 1431.2L394.8 1447.1M379.9 1433.6L389.7 1442.7M374.8 1436.1L389.2 1448.8M368.8 1438.8L380.7 1454.4M364 1440.9L378.1 1457.4M358 1443.5L367.7 1455.1M352.1 1446.1L356.6 1461.1M346.7 1448.4L355 1460.5M341.4 1450.4L345.3 1469M336.7 1452.1L344.9 1466.4M329.9 1454L337.3 1466.2M325.1 1455L326.7 1471.5M318.4 1455.9L318.1 1475.5M311.4 1456.4L316.5 1471.5M304.4 1456.6L311.1 1475.1M298 1456.5L300.1 1472.8M292.5 1456.3L296.2 1470.4M287 1456.1L283.1 1471.8M282 1455.7L283.7 1477.4M276.4 1455.2L271 1474.8M270.7 1454.4L268.7 1467.7M265.2 1453.3L263.9 1474.5M259.8 1451.9L259.2 1473M254.3 1450.3L245.8 1468.8M249.8 1448.8L248 1462M243.3 1446.5L235.7 1459.8M236.9 1444.2L231.4 1459.3M230.3 1441.9L223.1 1459M224.2 1439.8L217.3 1454M219.8 1438.1L205.5 1451.8M214 1435.7L205.3 1455.3M209.3 1433.3L195.6 1443.9M203.5 1429.8L193.8 1443.2M199 1426.6L184.3 1436M195.2 1423.4L178.8 1435.3M190.6 1419L174.6 1431M187 1415.2L175.1 1425.7M182.8 1410.6L172.9 1420M178.9 1405.9L168 1416.6M176 1402.4L161.3 1412.8M172 1397.2L151.6 1402.2M169.1 1393.1L158.1 1401.3M166.2 1388.4L148.5 1396.4M163.9 1384.1L147.9 1389.2M161.4 1378.9L141.9 1381.9M159.3 1373.5L145.3 1375.1M157.6 1368.9L140.3 1374.3M155.8 1363.3L141.7 1368M154.3 1358.6L139.9 1358.3M152.7 1353.3L137 1356.1M150.9 1347L133.7 1350.7M149.5 1341.1L131 1337.3M148.7 1336.6L131.6 1334M148.2 1330.5L127.3 1334.5M148.2 1325.6L134.1 1326.8M148.8 1319.3L131.5 1313.5M149.8 1314.4L129.1 1311.7M151 1309.7L132.6 1301.8M152.4 1305.3L134.7 1300.3M153.9 1300.8L137.7 1299.6M155.6 1296.4L141.2 1291.4M157.7 1291.1L143 1289.7M159.7 1286.4L141 1282.4M161.8 1281.9L149.1 1274.2M164.2 1276.9L151.1 1273.6M166.8 1272.3L151.5 1263M169.3 1268.4L157.4 1260.2M172.3 1264.1L158.4 1257.3M176.5 1259L163.7 1249.7M179.9 1255.1L168.4 1242.9M184.6 1250.2L170.6 1241.9M188.9 1245.9L175.8 1238.9M193.6 1241.3L183.6 1227.8M197.6 1237.7L183 1222.7M201.4 1234.5L193 1224.4M206.2 1230.8L189.9 1217.2M211.2 1227.5L201.6 1214.2M215.6 1225.1L207 1212.1M221.8 1222.2L214.5 1210.3M228 1220L215 1202.6M232.8 1218.6L228.1 1197.6M238.5 1217.2L235.8 1204M244 1216L237.7 1195.8M250.6 1214.6L248.1 1200.4M255.8 1213.6L254.1 1197.1M262.4 1212.4L257.2 1198.7M268 1211.5L263.9 1194.3M273 1210.8L272.6 1195.6M279.9 1210.2L279.2 1196.9M286.4 1210L288.2 1196.8M291.5 1210.1L292.1 1191.8M297.7 1210.6L298 1194.8M303.8 1211.2L306.9 1194.7M309.5 1212L308.2 1195.1M315.7 1212.9L317 1195.6M322.1 1214.1L326.8 1194.6M327.2 1215.1L329 1197.9M332.1 1216.2L334.5 1199.5M337.7 1217.7L340.5 1200.4M343.6 1219.7L350.7 1208M349.5 1222.4L354.1 1205.4M354.5 1225.3L365.7 1213.2M358.6 1228.1L373.6 1213.8M363.5 1232L372.6 1213.8M368.6 1236.6L382.1 1225.6M373.3 1241.2L384.3 1231.8M378 1245.9L386.7 1235.5M382.3 1250.4L394.5 1242.8M385.6 1254.2L398.6 1238.5M389.2 1258.5L403.9 1243.2M392.1 1262.6L405.4 1251.2M394.5 1266.5L405.1 1256.4M397.4 1272.2L415.4 1265.8M399.2 1276.6L414.7 1263.9M401 1281.9L417.2 1272.6M402.7 1288L419.5 1281.6M404.2 1294.1L418 1292.5M405.2 1299.7L421.6 1297M405.9 1304.5L427.3 1299.6M406.3 1309.6L425.6 1304.7M406.3 1314.4L424.4 1306.6M405.6 1320.6L420.8 1319.6M404.1 1327.1L422.4 1327.1M402.6 1332.1L415.2 1328.7M401.1 1336.6L419.7 1336.1M399.4 1341.9L420.3 1339.3M398.1 1346.6L416.8 1344M397 1350.7L413.1 1349.8M395.7 1355.6L410.4 1359M394.2 1361L408.4 1365.3M392.5 1366.1L405 1372.9M390.6 1370.5L404.8 1372.5M388 1375.7L406 1386.1M385.1 1380.1L400.2 1383.1M381.7 1384.8L398.2 1392.1M378 1389.4L390.3 1401.1M373.9 1394L384.5 1404.9M370.6 1397.2L385.3 1407.3M366.7 1400.5L375.8 1410.5M362.9 1403.2L373.2 1417.9M358.6 1405.7L368.4 1416.8M353.3 1408.3L363.4 1424.1M348.6 1410.4L359.5 1421.8M344.2 1412.3L353.9 1431M338.4 1415L343.3 1427.1M332.7 1417.8L338.8 1433.9M327.4 1420.2L336.1 1432.5M322.5 1422.1L328.2 1434.2M316.3 1423.8L318.6 1442.9M309.9 1424.8L312.9 1439.9M304.1 1425.2L307 1445.1M298.7 1425.3L296.2 1443.9M293.4 1425.2L299 1445.4M288 1425.1L285.8 1440.1M281 1424.7L280.6 1444.4M274.2 1423.8L273.4 1439.8M267.5 1422.3L261.1 1439.9M261.5 1420.4L254.8 1441.2M255.2 1418.2L244.7 1434.3M249.7 1416.3L240.4 1433.4M244.5 1414.5L236.3 1427M239.8 1413L231.5 1432.5M235.2 1411.3L224.9 1420.7M230.1 1409.1L223.9 1421.9M226 1406.7L212.2 1420.1M221.1 1403L210.2 1419.4M216.8 1399L203 1407.6M212.7 1394.3L198.9 1410.2M208.6 1389.3L188.8 1396.9M205.7 1385.7L194.6 1395.5M203 1382L183.5 1388.8M199.8 1377.2L180.7 1384.5M197.3 1372.8L185.7 1380.4M194.9 1367.4L181.3 1373.2M193.2 1362.4L181 1367.4M191.7 1357.7L173.1 1363.1M190.3 1352.9L168.9 1356.5M188.4 1347L170.9 1353.1M187 1341.9L170.1 1340.6M185.9 1336.9L166.5 1336.7M185.3 1332.1L164.8 1335.5M185.5 1326.1L171.2 1328.3M186.3 1321.5L167.9 1314.2M187.5 1317.3L170.4 1314.3M189.5 1311.6L175.3 1308.2M191.4 1306.9L171.2 1303.4M193.8 1301L178.6 1297.7M196.1 1295.6L179 1291.8M198.7 1290.4L187.4 1282.6M201.7 1285.3L185 1274.3M204.8 1281.1L190.4 1272.8M208.9 1276.1L199.5 1266M211.9 1272.8L199.4 1264.8M216.4 1268L202.8 1256.9M220.9 1263.3L210.3 1252.5M225.1 1259.3L214.3 1242.7M229.9 1255.6L219.2 1243.5M234.2 1252.9L224.1 1235M240 1250.2L232.3 1237.9M246.2 1248.2L235.2 1233.7M251.9 1246.8L241.2 1228.7M257 1245.7L253.1 1230.5M263.6 1244.3L257.3 1231.4M268.8 1243.2L265.4 1227.7M273.8 1242.3L268.8 1227.2M280.9 1241.3L275.3 1222.5M287.9 1240.9L286.8 1227M295 1241.1L298.4 1221.2M300.8 1241.7L303.5 1227.2M305.8 1242.3L307.4 1227.6M310.6 1243L316.4 1227.5M316.9 1244.1L322.9 1227.6M322.6 1245.3L328.1 1232.1M328.1 1246.8L339.3 1230.6M333.4 1248.9L343.4 1233.8M338.3 1251.7L347.2 1239.5M343.6 1255.8L356.2 1240.3M348.3 1260.3L361 1246M352.2 1264.4L363.3 1253.1M355.4 1267.9L368.6 1257.5M359.5 1272.4L371.7 1258.3M363 1276.6L376.9 1266.6M366.2 1280.9L383.6 1273.2M368.5 1285.2L385.6 1277.1M370.6 1290L387.3 1285.1M372 1294.3L386.3 1283.7M373.4 1300.3L393.2 1292.1M374.2 1304.9L391.4 1298.9M375.1 1310.7L392.2 1306.9M375.3 1316.9L392.4 1312.3M374.6 1323.4L389.4 1322.6M373 1328.7L392.1 1323.4M370.4 1335.1L386.2 1331.5M368.4 1339.9L384.7 1336.8M366.7 1344.9L383.1 1348.5M365.4 1349.8L380.8 1350.5M363.8 1355.5L384.5 1361.3M362 1360L381.5 1365.4M359.8 1364.3L372.1 1371.3M356.1 1369.3L372.9 1377.5M352.3 1373.6L363.1 1384.1M348.5 1377.4L361.9 1390.5M343.4 1381.3L357.5 1391.1M337.9 1384.1L346.1 1395.6M332.4 1386L347.5 1400.1M326.9 1387.7L336.2 1399.8M322 1389.4L327.5 1401.3M317.1 1391.5L325 1404.5M311.6 1393.6L316.4 1409.7M305.3 1394.7L306.1 1410.9M298.4 1394.6L298.2 1408.1M291.4 1393.9L295.4 1413.6M284.7 1393.3L287.4 1411.8M280 1392.5L274.6 1413.4M274.8 1391L273.5 1404.9M269.9 1389.1L264.2 1408.2M265.1 1387.3L253.3 1404.8M260 1386L248.3 1403.4M253.3 1384.3L239.1 1396.9M247.1 1381.5L235.4 1398.4M242.3 1377.7L227.6 1387.7M238.6 1373.6L221.3 1385.5M235.2 1369.8L223.9 1379.9M231.4 1365.6L219.4 1371.9M228.5 1361.7L212.4 1368.5M225.9 1356.8L208.2 1367.7M223.5 1351L206.6 1354.3M221.2 1345.6L201.1 1349.7M219 1340.5L198.1 1346.3M217.1 1334.9L198.8 1338.8M216.7 1329.2L198.4 1323.5M217.5 1324.3L196 1320.7M219.3 1319.2L198.2 1319.1M221.5 1313.7L203.4 1309.3M223.9 1307.9L208.8 1301.7M226.4 1303L207.6 1296.4M229.5 1298.5L215.4 1289.3M233.8 1293.9L222.9 1282.6M237.7 1290.1L223.3 1280M241.8 1286.1L227.9 1269.3M246.7 1282L235.6 1270.4M251.3 1279.3L242 1263.6M257.6 1277.3L252.5 1265M264.7 1276.5L254.2 1262M270.3 1276.2L264.4 1264.5M277.3 1275.5L274.9 1257.2M283.9 1275L283 1253.8M290.2 1275.2L292 1256.7M296.3 1276.2L295.7 1257.1M302.6 1277.4L308.3 1261.3M307.5 1278.4L308.5 1263.8M313.9 1279.9L323.7 1261.1M319 1282.3L331.1 1265.8M323.5 1286.2L330.8 1272.7M327.2 1290.5L336.8 1277.9M331.1 1295.1L342.6 1277.1M335 1299.4L343.6 1289.2M338.5 1304.5L355.4 1298M340.3 1309.7L351.6 1303M341.4 1315.3L362.6 1312.2M342.2 1320.7L357.1 1313" stroke="#b79cc6" stroke-width="5.6" stroke-linecap="round" opacity=".5"/>
<path d="M411.3 1211L420.3 1197.9M416.1 1214.7L426.1 1205.4M420.4 1218L430.4 1209M424 1220.9L434.2 1207.5M427.6 1224L442.1 1215.6M431.1 1227.2L443.6 1218.8M435.8 1231.9L450.1 1220.6M440.3 1236.8L452.6 1231.5M443.4 1240.8L454 1231.1M446.4 1244.9L462.2 1232.1M449.5 1249.6L465.4 1239.7M452.3 1254.4L462.9 1245.9M454.6 1258.6L471.6 1249.9M456.9 1263.1L473.5 1255.4M459 1267.6L478.4 1261.9M461 1272.1L478.1 1265.9M463.3 1277.8L481.1 1269.7M465.5 1283.9L478.8 1279.3M467.2 1289.5L481.1 1285.8M468.3 1293.8L487.2 1291.8M469.4 1299.2L489.4 1293.1M470.2 1304.9L488.4 1302.4M470.6 1310.1L491.1 1311.6M470.7 1315.4L488.7 1309.3M470.5 1321.2L489.1 1324.1M470 1327.2L485.5 1325.6M469.3 1332.9L482.5 1332.4M468.7 1337.5L482.4 1334.6M467.8 1343.4L481.9 1342.2M467 1348.4L487.6 1345.6M466.1 1353.6L483.3 1358.6M465.1 1359.5L485.8 1360M464.1 1364.6L479.4 1370.1M462.8 1370.7L477.2 1371.3M461.7 1375.4L476.4 1378.6M460.1 1380.7L475.5 1380.9M458.5 1385.6L474 1390.8M456.1 1391.6L474.3 1397.8M453.7 1396.7L472.7 1399.3M450.8 1402.3L467.6 1413.2M447.7 1407.6L463.1 1413.6M445.3 1411.5L463.4 1415.9M442.7 1415.2L456.9 1419.8M439.8 1419.4L452.8 1423M436.9 1423.3L449.3 1429.6M434.2 1426.8L451.2 1438.9M431.2 1430.5L444.5 1438M427.8 1434.5L437.7 1444.5M423.2 1439.4L436.9 1449.8M419.8 1442.6L431.2 1450.6M416 1446L433.5 1456.8M412.5 1448.9L428.1 1463.8M408.6 1451.9L423.9 1461.1M403.8 1455.2L415.9 1473.4M398.6 1458.5L409.5 1469.3M394.3 1461.1L406.9 1476.6M388.8 1464.3L400.1 1475.5M383.1 1467.5L392.5 1487.2M377.5 1470.6L386.5 1488.9M372.9 1473.1L383.1 1487.5M368.8 1475.3L376.5 1486.1M364.1 1477.8L369.1 1496.4M359 1480.4L363.5 1501.3M352.8 1483.3L361.1 1497.2M347.9 1485.2L355.2 1498.1M342.1 1487.3L345.6 1508.2M336.5 1489.1L339.3 1507.7M331.8 1490.3L333 1509.2M325.3 1491.6L329.9 1510.8M320.3 1492.5L325.7 1511.8M313.7 1493.3L318 1514.6M308 1493.9L308.1 1515.4M302.9 1494.3L306.4 1508M296 1494.6L300.2 1514.4M289.2 1494.8L287.5 1516.6M283.7 1494.9L286.2 1512.6M278.9 1494.8L275.8 1516.3M272.9 1494.5L271.2 1515.9M266.1 1493.9L265.9 1514.4M260.8 1493.3L259.9 1508.9M254.7 1492.3L251.9 1507.3M249.8 1491.2L246 1512.1M244.2 1489.8L235.6 1506M238.7 1488.3L231.9 1508.4M233 1486.5L230.8 1504.1M227.6 1484.7L225.3 1499.1M221.4 1482.5L215.4 1495.7M215.4 1480.2L208.5 1496.9M209.9 1478.1L199 1492.4M205.3 1476.3L197.9 1492.8M200.4 1474.2L189.5 1490.9M194.9 1471.8L180.5 1485.4M189.8 1469.3L178.7 1484M184.7 1466.4L173 1481.7M179.8 1463.3L165.9 1473.7M174.8 1459.8L157.6 1471.7M170.8 1456.6L155.6 1466.4M166 1452.3L157.6 1463.8M162.2 1448.4L153.1 1458.6M159 1445L142.9 1455M154.9 1440.1L142.6 1447.6M151.2 1435.4L138.2 1441.5M147.2 1430.2L133.2 1435.5M144.2 1425.9L127.6 1431.3M140.7 1420.7L128.3 1428.3M137.7 1416.1L124.8 1425.6M135.1 1411.7L120.1 1424.1M132.5 1406.8L119.1 1417.2M130.3 1402.3L113 1409.3M128.5 1398.2L107.2 1403.1M126.2 1392.2L113.6 1398.2M124.8 1388L106.5 1396.2M123.5 1383.7L106.8 1385M122 1377.8L108 1384M120.6 1371.7L102.5 1373.7M119.6 1367.4L106.1 1368.6M118.5 1362.3L104.9 1361.5M117.5 1356.8L98.3 1363.2M116.4 1350.8L102.8 1349.5M115.6 1345.6L99.6 1346M114.9 1339.4L99.8 1342.4M114.7 1334L99.8 1336.7M114.7 1329.4L101.3 1330.8M115 1324.5L99.5 1321.5M115.5 1319.6L98.1 1320.7M116.4 1314.7L103.3 1314.7M117.4 1310.5L98.1 1307.1M118.7 1306L102.7 1299.5M120 1301.6L99.9 1298.3M121.8 1296.6L101.6 1292.9M123.7 1291.5L106.8 1282.4M125.5 1286.8L106.6 1279M127.7 1281.5L111.5 1277.4M129.4 1277.4L115.4 1275.5M131.8 1272L116.9 1268.7M133.8 1267.9L116.7 1256.5M136.4 1262.8L121.7 1257.9M138.9 1258.4L122.6 1253.2M141.7 1253.9L130.3 1243.6M145.4 1248.5L129.1 1241.2M149.5 1243.3L135.7 1235.5M152.3 1239.9L138.7 1230.6M156 1235.7L144.1 1226.8M159 1232.4L145.3 1225.4M162.7 1228.5L150.8 1222.5M166.4 1224.8L155.6 1214.3M170.4 1220.9L157.3 1206.1M174.9 1216.7L159.6 1202.4M178.9 1213.2L161.7 1199.7M183.7 1209.2L168.7 1197.9M188.9 1205.4L177.1 1188M194.1 1202L179.6 1187.8M199.2 1199.1L192 1183.1M205.1 1196.2L195.2 1178.3M211.3 1193.6L203.7 1176.1M216.2 1191.9L208.2 1181.3M221.5 1190.2L217.7 1176.8M227.3 1188.6L221.1 1171M233.5 1187L223.6 1172.7M239.9 1185.4L233.7 1166.7M245.7 1184.1L236.7 1167.5M252.1 1182.8L245.4 1169M257.3 1181.8L250.6 1163.4M263.7 1180.7L260 1159.2M269.3 1179.8L268.6 1162.6M275.8 1179.1L275.5 1160.6M280.8 1178.8L278.2 1164.7M287.3 1178.6L287.5 1162.9M292.1 1178.6L290.7 1165.2M298.4 1178.9L301.1 1159.9M303.8 1179.3L305.1 1161.7M309.7 1179.9L314 1166.6M314.8 1180.6L322.7 1160.3M319.6 1181.2L325.4 1165.1M326.5 1182.3L328.6 1165.4M331.7 1183.3L334.3 1161.9M337.7 1184.5L342.1 1170.9M344.4 1186.1L351.3 1173.7M350.1 1187.7L359.9 1169.2M355.1 1189.4L363.5 1170.1M359.5 1191.2L365.1 1179.4M364.4 1194.1L369.1 1179.1M368.7 1197.5L378.7 1185.2M372.1 1200.9L385 1185.9M375.4 1204.8L388.8 1188.2M379.4 1210.5L387.7 1197.3M382.5 1215.5L396.6 1198.7M385.4 1220.5L394.6 1206.4M387.8 1224.8L398.6 1215.9M390.6 1229.3L403.3 1212.1M393.5 1233.6L404 1219.5M396.9 1237.8L415.3 1226.4M401.4 1242.2L417.8 1233.3M406.5 1246.6L421.8 1237.2M409.8 1249.8L425.4 1238M414 1254.3L428.5 1242.4M416.8 1257.8L432.7 1243.5M420 1262.3L433.2 1253M423.2 1267.4L441.3 1255.2M426.1 1272.4L440.5 1266.2M428.4 1277L440.7 1269.2M430.5 1281.4L450.2 1273.7M432.4 1285.8L453.5 1283.7M434.4 1290.7L447.2 1284.4M435.9 1294.9L450.2 1287.6M437.3 1299.5L452.2 1296.4M438.6 1305.6L457.8 1300.8M439.4 1310.7L456.6 1306.6M439.7 1315.6L452.9 1312.4M439.7 1322L453.8 1320.7M439.3 1327.6L459.6 1323.6M438.7 1332.5L453.9 1331.4M437.9 1337.7L459.2 1341.6M437 1343.8L450 1341.5M436.1 1349.5L457.1 1351.1M435.2 1354.9L448.2 1355.9M434.2 1361.1L453.4 1368M432.9 1367.3L448.1 1367.7M431.7 1371.8L448.4 1377.7M429.8 1377.8L448 1384.8M427.5 1383.4L443.6 1389.4M425.6 1387.4L445.1 1392M422.5 1392.9L440.4 1398.6M419.9 1396.8L433.3 1404.2M416.5 1401.7L430 1405.4M413 1406.1L429.4 1414.3M409.9 1409.9L427.4 1415.6M406.4 1413.7L418.2 1426.2M402.3 1418L419.4 1430.1M398.6 1421.4L408.1 1433.2M393.7 1425.2L407.8 1432.4M389 1428.5L403.4 1440.9M384.5 1431.2L394.8 1447.1M379.9 1433.6L389.7 1442.7M374.8 1436.1L389.2 1448.8M368.8 1438.8L380.7 1454.4M364 1440.9L378.1 1457.4M358 1443.5L367.7 1455.1M352.1 1446.1L356.6 1461.1M346.7 1448.4L355 1460.5M341.4 1450.4L345.3 1469M336.7 1452.1L344.9 1466.4M329.9 1454L337.3 1466.2M325.1 1455L326.7 1471.5M318.4 1455.9L318.1 1475.5M311.4 1456.4L316.5 1471.5M304.4 1456.6L311.1 1475.1M298 1456.5L300.1 1472.8M292.5 1456.3L296.2 1470.4M287 1456.1L283.1 1471.8M282 1455.7L283.7 1477.4M276.4 1455.2L271 1474.8M270.7 1454.4L268.7 1467.7M265.2 1453.3L263.9 1474.5M259.8 1451.9L259.2 1473M254.3 1450.3L245.8 1468.8M249.8 1448.8L248 1462M243.3 1446.5L235.7 1459.8M236.9 1444.2L231.4 1459.3M230.3 1441.9L223.1 1459M224.2 1439.8L217.3 1454M219.8 1438.1L205.5 1451.8M214 1435.7L205.3 1455.3M209.3 1433.3L195.6 1443.9M203.5 1429.8L193.8 1443.2M199 1426.6L184.3 1436M195.2 1423.4L178.8 1435.3M190.6 1419L174.6 1431M187 1415.2L175.1 1425.7M182.8 1410.6L172.9 1420M178.9 1405.9L168 1416.6M176 1402.4L161.3 1412.8M172 1397.2L151.6 1402.2M169.1 1393.1L158.1 1401.3M166.2 1388.4L148.5 1396.4M163.9 1384.1L147.9 1389.2M161.4 1378.9L141.9 1381.9M159.3 1373.5L145.3 1375.1M157.6 1368.9L140.3 1374.3M155.8 1363.3L141.7 1368M154.3 1358.6L139.9 1358.3M152.7 1353.3L137 1356.1M150.9 1347L133.7 1350.7M149.5 1341.1L131 1337.3M148.7 1336.6L131.6 1334M148.2 1330.5L127.3 1334.5M148.2 1325.6L134.1 1326.8M148.8 1319.3L131.5 1313.5M149.8 1314.4L129.1 1311.7M151 1309.7L132.6 1301.8M152.4 1305.3L134.7 1300.3M153.9 1300.8L137.7 1299.6M155.6 1296.4L141.2 1291.4M157.7 1291.1L143 1289.7M159.7 1286.4L141 1282.4M161.8 1281.9L149.1 1274.2M164.2 1276.9L151.1 1273.6M166.8 1272.3L151.5 1263M169.3 1268.4L157.4 1260.2M172.3 1264.1L158.4 1257.3M176.5 1259L163.7 1249.7M179.9 1255.1L168.4 1242.9M184.6 1250.2L170.6 1241.9M188.9 1245.9L175.8 1238.9M193.6 1241.3L183.6 1227.8M197.6 1237.7L183 1222.7M201.4 1234.5L193 1224.4M206.2 1230.8L189.9 1217.2M211.2 1227.5L201.6 1214.2M215.6 1225.1L207 1212.1M221.8 1222.2L214.5 1210.3M228 1220L215 1202.6M232.8 1218.6L228.1 1197.6M238.5 1217.2L235.8 1204M244 1216L237.7 1195.8M250.6 1214.6L248.1 1200.4M255.8 1213.6L254.1 1197.1M262.4 1212.4L257.2 1198.7M268 1211.5L263.9 1194.3M273 1210.8L272.6 1195.6M279.9 1210.2L279.2 1196.9M286.4 1210L288.2 1196.8M291.5 1210.1L292.1 1191.8M297.7 1210.6L298 1194.8M303.8 1211.2L306.9 1194.7M309.5 1212L308.2 1195.1M315.7 1212.9L317 1195.6M322.1 1214.1L326.8 1194.6M327.2 1215.1L329 1197.9M332.1 1216.2L334.5 1199.5M337.7 1217.7L340.5 1200.4M343.6 1219.7L350.7 1208M349.5 1222.4L354.1 1205.4M354.5 1225.3L365.7 1213.2M358.6 1228.1L373.6 1213.8M363.5 1232L372.6 1213.8M368.6 1236.6L382.1 1225.6M373.3 1241.2L384.3 1231.8M378 1245.9L386.7 1235.5M382.3 1250.4L394.5 1242.8M385.6 1254.2L398.6 1238.5M389.2 1258.5L403.9 1243.2M392.1 1262.6L405.4 1251.2M394.5 1266.5L405.1 1256.4M397.4 1272.2L415.4 1265.8M399.2 1276.6L414.7 1263.9M401 1281.9L417.2 1272.6M402.7 1288L419.5 1281.6M404.2 1294.1L418 1292.5M405.2 1299.7L421.6 1297M405.9 1304.5L427.3 1299.6M406.3 1309.6L425.6 1304.7M406.3 1314.4L424.4 1306.6M405.6 1320.6L420.8 1319.6M404.1 1327.1L422.4 1327.1M402.6 1332.1L415.2 1328.7M401.1 1336.6L419.7 1336.1M399.4 1341.9L420.3 1339.3M398.1 1346.6L416.8 1344M397 1350.7L413.1 1349.8M395.7 1355.6L410.4 1359M394.2 1361L408.4 1365.3M392.5 1366.1L405 1372.9M390.6 1370.5L404.8 1372.5M388 1375.7L406 1386.1M385.1 1380.1L400.2 1383.1M381.7 1384.8L398.2 1392.1M378 1389.4L390.3 1401.1M373.9 1394L384.5 1404.9M370.6 1397.2L385.3 1407.3M366.7 1400.5L375.8 1410.5M362.9 1403.2L373.2 1417.9M358.6 1405.7L368.4 1416.8M353.3 1408.3L363.4 1424.1M348.6 1410.4L359.5 1421.8M344.2 1412.3L353.9 1431M338.4 1415L343.3 1427.1M332.7 1417.8L338.8 1433.9M327.4 1420.2L336.1 1432.5M322.5 1422.1L328.2 1434.2M316.3 1423.8L318.6 1442.9M309.9 1424.8L312.9 1439.9M304.1 1425.2L307 1445.1M298.7 1425.3L296.2 1443.9M293.4 1425.2L299 1445.4M288 1425.1L285.8 1440.1M281 1424.7L280.6 1444.4M274.2 1423.8L273.4 1439.8M267.5 1422.3L261.1 1439.9M261.5 1420.4L254.8 1441.2M255.2 1418.2L244.7 1434.3M249.7 1416.3L240.4 1433.4M244.5 1414.5L236.3 1427M239.8 1413L231.5 1432.5M235.2 1411.3L224.9 1420.7M230.1 1409.1L223.9 1421.9M226 1406.7L212.2 1420.1M221.1 1403L210.2 1419.4M216.8 1399L203 1407.6M212.7 1394.3L198.9 1410.2M208.6 1389.3L188.8 1396.9M205.7 1385.7L194.6 1395.5M203 1382L183.5 1388.8M199.8 1377.2L180.7 1384.5M197.3 1372.8L185.7 1380.4M194.9 1367.4L181.3 1373.2M193.2 1362.4L181 1367.4M191.7 1357.7L173.1 1363.1M190.3 1352.9L168.9 1356.5M188.4 1347L170.9 1353.1M187 1341.9L170.1 1340.6M185.9 1336.9L166.5 1336.7M185.3 1332.1L164.8 1335.5M185.5 1326.1L171.2 1328.3M186.3 1321.5L167.9 1314.2M187.5 1317.3L170.4 1314.3M189.5 1311.6L175.3 1308.2M191.4 1306.9L171.2 1303.4M193.8 1301L178.6 1297.7M196.1 1295.6L179 1291.8M198.7 1290.4L187.4 1282.6M201.7 1285.3L185 1274.3M204.8 1281.1L190.4 1272.8M208.9 1276.1L199.5 1266M211.9 1272.8L199.4 1264.8M216.4 1268L202.8 1256.9M220.9 1263.3L210.3 1252.5M225.1 1259.3L214.3 1242.7M229.9 1255.6L219.2 1243.5M234.2 1252.9L224.1 1235M240 1250.2L232.3 1237.9M246.2 1248.2L235.2 1233.7M251.9 1246.8L241.2 1228.7M257 1245.7L253.1 1230.5M263.6 1244.3L257.3 1231.4M268.8 1243.2L265.4 1227.7M273.8 1242.3L268.8 1227.2M280.9 1241.3L275.3 1222.5M287.9 1240.9L286.8 1227M295 1241.1L298.4 1221.2M300.8 1241.7L303.5 1227.2M305.8 1242.3L307.4 1227.6M310.6 1243L316.4 1227.5M316.9 1244.1L322.9 1227.6M322.6 1245.3L328.1 1232.1M328.1 1246.8L339.3 1230.6M333.4 1248.9L343.4 1233.8M338.3 1251.7L347.2 1239.5M343.6 1255.8L356.2 1240.3M348.3 1260.3L361 1246M352.2 1264.4L363.3 1253.1M355.4 1267.9L368.6 1257.5M359.5 1272.4L371.7 1258.3M363 1276.6L376.9 1266.6M366.2 1280.9L383.6 1273.2M368.5 1285.2L385.6 1277.1M370.6 1290L387.3 1285.1M372 1294.3L386.3 1283.7M373.4 1300.3L393.2 1292.1M374.2 1304.9L391.4 1298.9M375.1 1310.7L392.2 1306.9M375.3 1316.9L392.4 1312.3M374.6 1323.4L389.4 1322.6M373 1328.7L392.1 1323.4M370.4 1335.1L386.2 1331.5M368.4 1339.9L384.7 1336.8M366.7 1344.9L383.1 1348.5M365.4 1349.8L380.8 1350.5M363.8 1355.5L384.5 1361.3M362 1360L381.5 1365.4M359.8 1364.3L372.1 1371.3M356.1 1369.3L372.9 1377.5M352.3 1373.6L363.1 1384.1M348.5 1377.4L361.9 1390.5M343.4 1381.3L357.5 1391.1M337.9 1384.1L346.1 1395.6M332.4 1386L347.5 1400.1M326.9 1387.7L336.2 1399.8M322 1389.4L327.5 1401.3M317.1 1391.5L325 1404.5M311.6 1393.6L316.4 1409.7M305.3 1394.7L306.1 1410.9M298.4 1394.6L298.2 1408.1M291.4 1393.9L295.4 1413.6M284.7 1393.3L287.4 1411.8M280 1392.5L274.6 1413.4M274.8 1391L273.5 1404.9M269.9 1389.1L264.2 1408.2M265.1 1387.3L253.3 1404.8M260 1386L248.3 1403.4M253.3 1384.3L239.1 1396.9M247.1 1381.5L235.4 1398.4M242.3 1377.7L227.6 1387.7M238.6 1373.6L221.3 1385.5M235.2 1369.8L223.9 1379.9M231.4 1365.6L219.4 1371.9M228.5 1361.7L212.4 1368.5M225.9 1356.8L208.2 1367.7M223.5 1351L206.6 1354.3M221.2 1345.6L201.1 1349.7M219 1340.5L198.1 1346.3M217.1 1334.9L198.8 1338.8M216.7 1329.2L198.4 1323.5M217.5 1324.3L196 1320.7M219.3 1319.2L198.2 1319.1M221.5 1313.7L203.4 1309.3M223.9 1307.9L208.8 1301.7M226.4 1303L207.6 1296.4M229.5 1298.5L215.4 1289.3M233.8 1293.9L222.9 1282.6M237.7 1290.1L223.3 1280M241.8 1286.1L227.9 1269.3M246.7 1282L235.6 1270.4M251.3 1279.3L242 1263.6M257.6 1277.3L252.5 1265M264.7 1276.5L254.2 1262M270.3 1276.2L264.4 1264.5M277.3 1275.5L274.9 1257.2M283.9 1275L283 1253.8M290.2 1275.2L292 1256.7M296.3 1276.2L295.7 1257.1M302.6 1277.4L308.3 1261.3M307.5 1278.4L308.5 1263.8M313.9 1279.9L323.7 1261.1M319 1282.3L331.1 1265.8M323.5 1286.2L330.8 1272.7M327.2 1290.5L336.8 1277.9M331.1 1295.1L342.6 1277.1M335 1299.4L343.6 1289.2M338.5 1304.5L355.4 1298M340.3 1309.7L351.6 1303M341.4 1315.3L362.6 1312.2M342.2 1320.7L357.1 1313" stroke="#5e3a9c" stroke-width="3.5" stroke-linecap="round"/>
<path d="M410.7 1211.7L422.8 1221.2 434.2 1231.5 443.9 1243 451.9 1255.6 458.5 1268.8 463.9 1282.4 467.8 1296.3 469.6 1310.5 469.3 1324.8 467.5 1338.8 465.3 1352.5 462.8 1366.1 459.5 1379.5 454.6 1392.6 448.1 1405.1 440.4 1416.9 431.8 1428.3 422.3 1439 411.4 1448.6 399.4 1457 386.8 1464.4 373.9 1471.6 360.8 1478.5 347.1 1484.6 332.7 1489.2 317.6 1492 302.3 1493.4 286.9 1494 271.5 1493.6 256.2 1491.7 241.3 1488.1 226.8 1483.5 212.5 1478.2 198.5 1472.4 184.9 1465.5 172.6 1456.9 161.9 1446.8 152.5 1435.7 144.1 1424.1 136.5 1412.2 130.2 1399.7 125.4 1386.7 122 1373.5 119.1 1360.2 116.8 1346.8 115.6 1333.3 116.5 1319.7 119.5 1306.3 124 1293.4 129.1 1280.7 134.7 1268.2 141.4 1256.1 149.6 1244.6 158.9 1233.9 168.9 1223.7 179.5 1213.8 191.2 1204.9 204.3 1197.5 218.4 1192.1 233.1 1188 247.8 1184.6 262.7 1181.7 277.8 1179.9 293.1 1179.5 308.2 1180.6 323.3 1182.7 338.2 1185.5 352.8 1189.5 366 1196.4 376.3 1207.4 384.1 1220 391.2 1231.8 399.3 1241.5 408.7 1250 416.8 1259.4 423.5 1269.7 429.1 1280.6 433.7 1291.7 437.2 1303.1 438.7 1314.9 438.4 1326.7 436.9 1338.3 435.1 1349.7 433.2 1360.9 430.6 1372.1 426.7 1383 421.1 1393.3 414.4 1402.9 406.8 1412 398.4 1420.3 388.8 1427.6 378.2 1433.5 367.2 1438.5 356.4 1443.3 345.6 1447.9 334.5 1451.8 323 1454.5 311.1 1455.6 299.3 1455.7 287.7 1455.2 276.1 1454.3 264.8 1452.3 253.7 1449.2 243.1 1445.5 232.4 1441.7 221.6 1437.9 211.1 1433.3 201.4 1427.3 192.9 1420 185.3 1412 178.1 1403.6 171.5 1394.8 165.7 1385.6 161.1 1375.7 157.5 1365.6 154.3 1355.3 151.3 1344.7 149.3 1333.8 149.3 1322.8 151.4 1311.9 154.8 1301.3 158.8 1290.9 163.4 1280.7 168.8 1270.8 175.6 1261.5 183.2 1252.9 191.5 1244.6 200.2 1236.7 209.7 1229.5 220.5 1223.7 232.2 1219.7 244.2 1216.8 256.2 1214.4 268.1 1212.4 280.2 1211.1 292.4 1211.1 304.5 1212.2 316.5 1214 328.4 1216.2 340 1219.4 350.9 1224.2 360.6 1230.8 369.2 1238.4 377.1 1246.3 384.5 1254.3 391.1 1262.7 396.2 1271.8 399.9 1281.5 402.5 1291.1 404.4 1300.7 405.4 1310.2 404.8 1319.7 402.7 1328.9 399.8 1337.7 397.2 1346.1 395.1 1354.3 392.8 1362.4 389.7 1370.3 385.6 1377.7 380.6 1384.7 375.1 1391.3 369 1397.5 362 1402.7 354.2 1406.9 346.1 1410.5 338.3 1414.1 330.7 1417.8 322.7 1421.1 314.3 1423.3 305.6 1424.3 296.9 1424.4 288.3 1424.3 279.7 1423.7 271.2 1422.4 263.1 1420.1 255.2 1417.2 247.2 1414.5 239.1 1411.8 231.1 1408.6 223.9 1404.1 217.7 1398.6 212.3 1392.4 207.2 1386 202.4 1379.5 198.3 1372.6 195.2 1365.2 192.7 1357.7 190.4 1350.1 188.1 1342.4 186.5 1334.4 186.5 1326.3 188.2 1318.3 191 1310.6 194 1303 197.2 1295.5 201 1288.1 205.8 1281.2 211.3 1274.8 217.2 1268.5 223.3 1262.2 230.1 1256.5 238 1252 246.7 1249 255.7 1246.9 264.7 1245 273.6 1243.2 282.7 1242 291.8 1241.8 301 1242.6 310 1243.8 319 1245.4 327.9 1247.7 336.1 1251.4 343.2 1256.7 349.4 1262.8 355.1 1268.9 360.5 1275 365.3 1281.4 369 1288.3 371.3 1295.6 372.9 1302.9 374 1310.1 374.4 1317.2 373.5 1324.2 371.2 1330.9 368.5 1337.2 366.2 1343.2 364.6 1349 363 1354.8 360.8 1360.3 357.8 1365.6 353.9 1370.4 349.8 1374.9 345.2 1379 339.9 1382.3 334 1384.6 328 1386.4 322.4 1388.3 317.1 1390.6 311.8 1392.6 306.1 1393.7 300.2 1393.8 294.5 1393.4 288.9 1392.9 283.4 1392.3 278 1391.1 272.9 1389.3 268 1387.4 262.9 1385.8 257.5 1384.5 251.9 1382.9 246.9 1380.4 242.8 1376.8 239.1 1372.9 235.5 1368.9 231.9 1364.8 228.8 1360.4 226.4 1355.6 224.4 1350.6 222.3 1345.6 219.9 1340.4 218.1 1334.9 217.6 1329.2 218.7 1323.6 220.7 1318.2 222.9 1312.9 225 1307.6 227.7 1302.5 231.3 1297.8 235.4 1293.5 239.7 1289.4 244.1 1285.2 249 1281.5 254.7 1278.9 261 1277.7 267.4 1277.2 273.5 1276.7 279.4 1276.1 285.3 1275.8 291.2 1276.2 296.9 1277.2 302.5 1278.3 308.1 1279.4 313.7 1280.8 318.8 1283.2 323 1286.9 326.5 1291 329.8 1295 333.1 1298.7 336.2 1302.5 338.4 1306.8 339.7 1311.3 340.6 1315.8 341.2 1320.2" stroke="#5e3f9c" stroke-width="4.4"/>
<path d="M270.1 1289.8l0.8 -5.9M255.7 1318.2l6.8 -7M315 1301.1l2 -6.3M264.7 1290.1l-0.9 -10.5M318 1298.4l0.3 -8.8M324.8 1288.2l3.4 -8.3M293 1296.9l1.3 -5.4M296.5 1308.5l5.8 -6.1M293.2 1319.3l2.8 -7M263.7 1309l3.2 -4.2M253.9 1339.5l-0.1 -8.2M290.1 1312.6l4.7 -4M285.1 1299.3l2.7 -6.1M280.2 1351l0.4 -8.3M326.9 1289.6l-1.7 -6.1M270.2 1311.5l-1 -7.7M253.6 1346.2l7.3 -7.9M251.5 1307.5l7.1 -6.5M274.9 1298.2l1.1 -5.7M278.2 1280.9l-1.7 -5.8M316.6 1314.5l0 -5.6M267.7 1285.6l-1.7 -5.8M307.5 1294.2l-2.3 -7.6M260.4 1330.3l4.2 -6.2M270.6 1319l-2.3 -7.2M271.1 1364.5l4.9 -6.3M252.7 1304.2l-0.3 -6.2M269.7 1362.6l-0.9 -5.2M292 1288.8l-0.9 -10.2M278.6 1342.4l5.2 -7.2M331.3 1287.1l8 -7.2M306.8 1284.2l3.9 -4.2M255.1 1295.9l3.5 -7.7M268.6 1280.3l3.6 -3.6M324.5 1291l5.8 -7.8M324.7 1299.2l3.2 -6.2M290.1 1330l-1.6 -4.9M300.5 1326.4l5.6 -6.6M261.8 1314.4l4.5 -6.8M250.9 1359.6l3.4 -4.3M296.2 1316.2l4 -5.6M269.9 1326.2l4.1 -3.8M259.7 1339l5.4 -6M316 1286.4l4.1 -4.6M275.7 1359.5l1.6 -9.7M264.2 1363.1l-0.8 -5.8M292 1312.2l3.2 -9.9M310.4 1280.5l0.3 -8.3M291.4 1348l1.3 -5.3M270.9 1360.5l0.8 -9.6M276 1362.4l5 -7.1M287.6 1293.4l4 -5.9M306.3 1292.7l-1.4 -5.7M318.8 1296.9l4.9 -5.3M299 1313.3l2.2 -5.1M265.3 1342.2l0.3 -6.8M252 1281.9l7.2 -6.9M331 1295.1l2.8 -7.4M259.9 1341.9l4.3 -8.4M284.5 1336.9l6.3 -6.8M276.3 1301.9l0.4 -8.7M284 1318.1l4.1 -5.3M285 1281.3l-1 -8.2M303 1294.8l-2.9 -10.5M301.3 1309.7l-1.5 -6.4M268.9 1368.2l6.5 -7.1M262.6 1302.6l0.2 -10.7M263.9 1355.1l3.8 -7.3M331.5 1304.9l1.7 -5.7M258.2 1283l0.2 -5.7M255.2 1374.3l0 -10.3" stroke="#5e3a9c" stroke-width="3.6" stroke-linecap="round"/>
<path d="M278 1392L296 1340 322 1298 352 1290 336 1330 320 1380 300 1412Z" stroke="#5e3f9c" stroke-width="3.4" stroke-linejoin="round"/>
</g>
<rect x="145.5" y="1198.7" width="22" height="31" fill="none" stroke="#111" stroke-width="1.6"/>
<path d="M167.5 1198.7L503 1147.5M167.5 1229.7L503 1524.5" stroke="#111" stroke-width="1.5" stroke-dasharray="5 4" fill="none"/>
<rect x="368" y="1511.2" width="108.5" height="4.2" fill="#000"/>
<text x="422" y="1505" font-size="29" text-anchor="middle">2 mm</text>
<text x="65.6" y="1133.5" font-size="29.2">Small Intestine day 8 p.i. (LCMV)</text>
<text x="0" y="1102" font-size="40.5" font-weight="bold">e</text>
<clipPath id="cei"><rect x="503" y="1147.5" width="291.5" height="376.5"/></clipPath>
<g clip-path="url(#cei)" fill="none" stroke-linecap="round" stroke-linejoin="round">
<rect x="503" y="1147.5" width="291.5" height="376.5" fill="#999499" stroke="none"/>
<path d="M503 1397.5 533 1425.5 553 1465.5 569 1493.5 589 1483.5 615 1451.5 653 1437.5 703 1431.5 725 1409.5 717 1379.5 739 1343.5 765 1315.5 795 1297.5 795 1527.5 503 1527.5Z" fill="#7a62a6" stroke="#78368e" stroke-width="14"/>
<path d="M558.5 1184.5L703 1422.5" stroke="#78368e" stroke-width="84"/>
<path d="M668 1137.5L778 1297.5" stroke="#78368e" stroke-width="76"/>
<path d="M528 1339.5L595 1437.5" stroke="#78368e" stroke-width="74"/>
<path d="M773 1141.5L803 1187.5" stroke="#78368e" stroke-width="48"/>
<path d="M503 1397.5 533 1425.5 553 1465.5 569 1493.5 589 1483.5 615 1451.5 653 1437.5 703 1431.5 725 1409.5 717 1379.5 739 1343.5 765 1315.5 795 1297.5 795 1527.5 503 1527.5Z" fill="#7a62a6"/>
<path d="M558.5 1184.5L703 1422.5" stroke="#7a62a6" stroke-width="60"/>
<path d="M668 1137.5L778 1297.5" stroke="#7a62a6" stroke-width="52"/>
<path d="M528 1339.5L595 1437.5" stroke="#7a62a6" stroke-width="50"/>
<path d="M773 1141.5L803 1187.5" stroke="#7a62a6" stroke-width="24"/>
<path d="M500 1300L506 1330" stroke="#78368e" stroke-width="16"/>
<path d="M676.4 1439.2h0M585.1 1172.3h0M670 1399.9h0M669.2 1341h0M641.2 1335.1h0M664.1 1312.3h0M626.1 1281.5h0M636.6 1379.9h0M699.5 1422.8h0M635.9 1280.6h0M585.3 1164.8h0M636 1287.7h0M588.2 1286.3h0M631.2 1312.4h0M617.3 1217.1h0M624.7 1244.5h0M602.5 1324.3h0M677.5 1337.6h0M675.6 1417.3h0M643.7 1379.6h0M655.2 1382.8h0M578.7 1282.7h0M724.4 1412.1h0M658.3 1377.8h0M622.8 1294.5h0M603.7 1316.3h0M611 1315.8h0M584.6 1279.2h0M696.6 1406.7h0M616.4 1336.5h0M667.1 1361.6h0M597 1224.3h0M682.5 1343.6h0M709.5 1401.9h0M707.5 1404.3h0M691.1 1430.7h0M630.4 1305.3h0M649.6 1346.3h0M618.3 1243.6h0M606.7 1322.4h0M675.8 1320.3h0M668.2 1395.6h0M714 1399h0M696.1 1351.6h0M668.6 1335.3h0M564.8 1245.6h0M566.8 1201.2h0M702.3 1386.9h0M562 1241.5h0M605.5 1291.2h0M564.6 1175.9h0M568.3 1223.9h0M537.3 1210.8h0M541.6 1187.6h0M569.3 1169.3h0M701.1 1373.1h0M569 1227.7h0M639.9 1256.9h0M729.5 1419.1h0M566.4 1176.4h0M634.6 1342.5h0M579 1196.3h0M559.2 1178.8h0M658.7 1381.8h0M679.4 1418h0M676.1 1405.8h0M642.8 1286.4h0M667.3 1338.9h0M570.6 1197.4h0M712.6 1388.1h0M650.7 1321.9h0M654.4 1294.4h0M718.2 1415.1h0M652.4 1328.4h0M550.7 1179.4h0M600.1 1193.3h0M576.9 1169.1h0M558.4 1202.6h0M603.1 1323.2h0M670.2 1435.1h0M591.5 1231.5h0M585.7 1241.6h0M632.5 1346.9h0M678.6 1349.5h0M616.9 1284.3h0M579.8 1157h0M639.5 1265.5h0M681.8 1352.7h0M586.2 1187.2h0M605 1222.9h0M636.2 1307.6h0M592 1258.8h0M560.7 1243h0M690.7 1433.1h0M619.5 1286.6h0M670.5 1308.4h0M616.2 1282.9h0M604.4 1205.3h0M686.9 1377.9h0M608.6 1323.8h0M660.9 1324.8h0M715.3 1425.4h0M543.2 1184.3h0M579 1192h0M674.6 1398.9h0M556.7 1175h0M617.4 1279.6h0M579.1 1230.3h0M575.9 1184.1h0M584.5 1286h0M548.2 1201.9h0M577.6 1225.6h0M615.7 1273.8h0M677.3 1366.1h0M593.3 1190.7h0M543.1 1206.4h0M625.7 1357.1h0M689.8 1336.7h0M639.5 1355.2h0M666.4 1361.9h0M610.7 1264.7h0M692.1 1373.3h0M636.3 1309.6h0M684.8 1433.6h0M679.3 1428.8h0M614.5 1240.5h0M643.4 1291.8h0M608.5 1291.1h0M692.1 1416.2h0M705.4 1372h0M578.1 1283.9h0M579.5 1207.9h0M586.7 1175.1h0M664.4 1424.8h0M676.5 1328.8h0M614.4 1240.4h0M647.1 1354.8h0M619.6 1288.4h0M566.6 1203.4h0M687 1430.6h0M565.6 1198.4h0M679.5 1351.1h0M695.9 1405.5h0M668.8 1353.2h0M692.5 1443.4h0M663.7 1309.8h0M649.6 1271h0M623 1342.3h0M579.3 1220.2h0M633.7 1295.5h0M638.1 1374.5h0M665 1356.3h0M714.3 1418.3h0M660.3 1373.6h0M651.3 1384.8h0M579.8 1235.9h0M605.3 1284.1h0M698.5 1433.3h0M555.2 1174.4h0M641.5 1372.8h0M635.7 1354.3h0M527.5 1193.2h0M660.9 1367.4h0M672.2 1423.6h0M548.4 1210.4h0M691.2 1362.5h0M664.4 1370.6h0M563.5 1233.8h0M566.5 1212.8h0M635.1 1277.4h0M643.2 1319.6h0M555.9 1243.2h0M592.6 1173.6h0M608.3 1311.9h0M640.7 1354.2h0M617.9 1305.9h0M618.5 1251.8h0M659.5 1287.1h0M548.8 1202.7h0M563.9 1227.2h0M681.7 1374.5h0M641.4 1359.8h0M710.5 1385.5h0M584.2 1210.9h0M637.4 1286.8h0M549.5 1177.4h0M713 1420.9h0M643.8 1309.2h0M599.5 1302h0M591.4 1258.8h0M625.9 1300.7h0M722 1396.7h0M694 1381.3h0M636.3 1352.6h0M661.5 1339.8h0M709.3 1377.9h0M658.5 1334.4h0M614.6 1324.2h0M670.4 1386.2h0M616.2 1243.6h0M640 1282.7h0M568 1261.9h0M550 1213.5h0M619.7 1267h0M627.2 1240.6h0M643.9 1280.2h0M634 1280.8h0M668.2 1422.1h0M613.2 1293.4h0M709.4 1409.7h0M582.8 1189.1h0M570.7 1228.7h0M619.3 1265.2h0M693.6 1371.1h0M671.8 1389.1h0M595.5 1289.1h0M583 1276h0M698.3 1415.1h0M634.1 1369.5h0M654.3 1376.1h0M663.4 1416h0M642.4 1387.3h0M590.3 1253.4h0M665.8 1343.4h0M633.5 1264.2h0M712.2 1418h0M603.5 1311.7h0M553.3 1238.1h0M599.7 1188.7h0M615.5 1259.3h0M674.2 1426.8h0M676.1 1369.7h0M653.3 1305.1h0M690.4 1386.8h0M588.3 1252.1h0M586.2 1205.3h0M722.7 1400.4h0M591.6 1199.1h0M595.9 1235.4h0M600.5 1232.4h0M606 1227.7h0M658.1 1326.5h0M594.5 1279.9h0M582.4 1175.8h0M690.7 1392.8h0M697 1363.2h0M613.7 1322.1h0M589 1270.8h0M654.6 1328.6h0M716.2 1429.8h0M619.4 1301h0M581.4 1267.8h0M641 1332.2h0M607.9 1331.2h0M688.1 1443.9h0M628.8 1288.4h0M661.8 1293.5h0M538.8 1218.9h0M545.5 1222.1h0M634.5 1365.6h0M575.2 1185.8h0M707.5 1363.7h0M577.1 1194.9h0M599.9 1205.1h0M682.2 1333.1h0M696.8 1432.4h0M535.3 1200.1h0M590.8 1235.2h0M661.7 1305.8h0M657.4 1288.1h0M558 1240.1h0M680.6 1388.6h0M637.2 1364.7h0M574 1209h0M595.2 1193.2h0M585.7 1190.5h0M576.8 1176.2h0M604.2 1276.3h0M663.6 1412.1h0M664.9 1360.7h0M717.2 1400.4h0M549 1211.8h0M668.3 1326.3h0M623.4 1264h0M624.1 1282.8h0M596.7 1287.7h0M676.5 1387.3h0M639.3 1288.5h0M643.8 1390.7h0M575.5 1240h0M652.9 1361.4h0M553 1182.5h0M601.7 1214.4h0M634.7 1329.7h0M636.2 1345.1h0M664.4 1355.6h0M542.6 1195h0M662 1400.3h0M674 1312.4h0M605.8 1209.7h0M649.7 1340.7h0M553.6 1238h0M682.8 1443.1h0M637.5 1286.5h0M565.1 1239.1h0M676 1348h0M690.6 1411.4h0M621.9 1277.6h0M668.5 1359.6h0M678.7 1331.5h0M676.5 1348.2h0M713.1 1400.6h0M602 1261.2h0M612.1 1276.3h0M716 1403.6h0M662.4 1381.8h0M679.4 1376.5h0M632.7 1286h0M641.2 1287.6h0M583 1221.7h0M583.6 1221.8h0M653.8 1315.8h0M572.1 1221h0M704.6 1387.7h0M639.6 1339.6h0M681 1410.9h0M617.7 1242.6h0M696.3 1384.4h0M531.1 1189.4h0M593.9 1217.6h0M616.6 1247.2h0M675.8 1356.5h0M626.1 1285h0M712.6 1373.3h0M665.5 1311h0M568.8 1215.9h0M637 1255.2h0M620 1341.6h0M654.1 1341.3h0M653.7 1397.4h0M587.3 1204.9h0M679.1 1440.7h0M571.3 1233.1h0M684.8 1404.8h0M661.5 1357.3h0M605.7 1223.6h0M551.2 1194.8h0M566 1213.2h0M617.3 1272.7h0M712 1422.7h0M633.9 1292.5h0M602 1218.9h0M616.9 1323.6h0M539 1212.5h0M685.2 1333h0M669.6 1354.1h0M657 1292.8h0M631.2 1306.9h0M670.8 1380.4h0M649.3 1365.6h0M614.9 1213.2h0M649.5 1284.4h0M584.5 1203.2h0M629.8 1317.6h0M627.5 1357.9h0M564 1201.4h0M554.9 1201.4h0M642.3 1274h0M591 1259.7h0M599.9 1312.6h0M617.3 1259.8h0M691.6 1418h0M551.3 1210.9h0M582.3 1284h0M634.1 1350.1h0M693.1 1407.5h0M733.4 1408.6h0M585.2 1274h0M542.3 1181h0M697.2 1442h0M713.6 1382.9h0M630.6 1318h0M625.3 1283.7h0M697.1 1367.3h0M552.9 1187.8h0M685.3 1437.5h0M670.6 1341.4h0M722.5 1392.7h0M573.2 1247.6h0M699.3 1403.3h0M719.1 1396.5h0M672 1313.2h0M606.9 1222.4h0M557.9 1170.8h0M643.9 1295.6h0M681.6 1326.9h0M631.9 1309.1h0M590.5 1293.2h0M575.8 1203.1h0M632 1288.4h0M701.7 1430.1h0M636.9 1305.6h0M593.8 1303.5h0M669.5 1387.2h0M571.4 1218.5h0M580.5 1200.7h0M542.7 1186.1h0M698.4 1433.5h0M656.8 1312.7h0M623.7 1287.1h0M632.3 1275h0M571.1 1239.1h0M683.4 1433.6h0M678.3 1318.2h0M579 1264.1h0M703 1429h0M630.6 1328.3h0M577.9 1245h0M588.5 1280.8h0M614.9 1299.4h0M637.6 1319.4h0M597.5 1309.7h0M676 1367.3h0M607.8 1319.4h0M660.9 1373.7h0M726.6 1409.7h0M638.9 1333.7h0M595.8 1308.4h0M711.6 1421.9h0M633.3 1343.6h0M670.1 1349.9h0M687.2 1376.1h0M564.8 1217h0M659.9 1339.2h0M601.4 1320.9h0M685.3 1380.8h0M692 1413.8h0M606.9 1283.9h0M652.1 1392.1h0M647.8 1354.2h0M642.5 1260.8h0M646.6 1277.6h0M709.3 1414.3h0M633.5 1339.5h0M559.7 1231.5h0M628.1 1242.6h0M652.5 1326.1h0M700.7 1411.2h0M595.1 1179.8h0M556.5 1180.3h0M691.6 1343.3h0M605 1258.2h0M665.8 1424.7h0M682.1 1406.7h0M659.3 1313.1h0M668.6 1320.8h0M579.7 1264h0M628 1329.6h0M638.4 1286.4h0M627 1307.1h0M569 1248.4h0M726.3 1417.9h0M571.1 1247.3h0M682.5 1351.6h0M660.1 1316.5h0M683.2 1401.7h0M652.7 1294h0M617.4 1277.8h0M627.9 1255.7h0M570.8 1231.8h0M677.7 1427.2h0M631.6 1344.2h0M589.9 1197h0M693 1338.7h0M547.9 1204.7h0M601.4 1212.7h0M594 1288.4h0M530.3 1189h0M595.5 1255h0M649 1282.6h0M723 1411.7h0M656.5 1397.1h0M595.9 1308.2h0M582.3 1176.3h0M653.6 1283.8h0M678.1 1385h0M691 1374h0M532.2 1193.9h0M589.4 1224.1h0M566.1 1208.7h0M643.1 1283.1h0M567.2 1176.9h0M696.5 1365.2h0M580.5 1236.7h0M634 1349.9h0M632.9 1354.2h0M550.7 1228.6h0M578.7 1166.3h0M551.3 1209.7h0M606.3 1320h0M679.2 1444.2h0M657.8 1328h0M689.5 1431.6h0M579.3 1225.8h0M583.4 1160.4h0M639.7 1347.8h0M673 1407.2h0M558.8 1217.1h0M696.7 1435.9h0M639.9 1291h0M553.9 1193.8h0M727.2 1410.4h0M658 1402h0M586.6 1277.4h0M588 1206.1h0M618.6 1334.7h0M661 1297.9h0M694.8 1418.6h0M691.3 1366.7h0M629 1245.4h0M584.7 1219.2h0M607.2 1285.9h0M693.7 1384.8h0M689.2 1420.5h0M624.9 1251.4h0M693.9 1428.6h0M547.1 1190.6h0M616.1 1268.7h0M689.5 1363h0M591.5 1244.3h0M719.8 1394.4h0M670.7 1399h0M569.8 1224.9h0M637.5 1342.8h0M647.8 1306.4h0M646.9 1294.7h0M629.3 1288.4h0M584.3 1190.8h0M612.4 1258.9h0M626 1329h0M589.2 1242.4h0M621.3 1251.1h0M546 1225.9h0M679.7 1428.7h0M599.4 1204.8h0M579.8 1192.7h0M648.5 1266.3h0M607 1290h0M702.4 1379.7h0M533.9 1183.8h0M622.9 1265.4h0M589.7 1204.7h0M608.1 1233.5h0M587.2 1234.2h0M692 1378.6h0M618.4 1281h0M669.2 1402.8h0M727.5 1418.7h0M691.6 1376h0M641.3 1324.5h0M653.3 1316.6h0M592.2 1173.6h0M675.6 1429.5h0M648.9 1278.1h0M684.4 1392.1h0M617.7 1300.8h0M593.2 1203.6h0M666.7 1394.4h0M711.6 1427.7h0M682.4 1441.1h0M608.5 1319.7h0M602.8 1199.6h0M702.1 1372.7h0M619 1316.1h0M676 1340.3h0M703.7 1362h0M616.8 1334.2h0M649.9 1308.5h0M696.2 1441.9h0M653.4 1394.2h0M695.5 1420.1h0M682.2 1388.5h0M605.1 1231.3h0M621.3 1223.9h0M655.8 1331.3h0M722.8 1394.6h0M694 1366.5h0M615.2 1249.9h0M694.7 1428.5h0M644.5 1283.5h0M566.8 1180.3h0M709.4 1425.6h0M635.9 1363.3h0M569.5 1178.5h0M634.1 1272.1h0M601.3 1279.5h0M561.1 1214.9h0M589 1256h0M561.6 1228.6h0M598 1294.4h0M700.2 1428.9h0M562.7 1173.3h0M697.3 1433.6h0M673.3 1370.3h0M676.4 1433.6h0M643.3 1336.3h0M597.1 1181.7h0M570.7 1234.4h0M669.8 1404.2h0M720.4 1387.8h0M570.5 1171.2h0M549 1180.5h0M675.2 1430.5h0M558.4 1206.4h0M648.5 1354h0M632.5 1270.8h0M668 1419.3h0M662.5 1361.8h0M569.9 1173.1h0M604.8 1226h0M575.6 1235.3h0M678.7 1338.8h0M724.5 1390.6h0M698.2 1425.8h0M666.9 1333.6h0M638.7 1367.3h0M605.9 1213h0M691.5 1369.8h0M568.5 1199.9h0M598.1 1211.1h0M621.2 1231.8h0M677.5 1389.4h0M667.6 1336.1h0M646.9 1392.3h0M737.5 1417.7h0M625.2 1239h0M617.3 1302.6h0M656.7 1326.6h0M697 1429.4h0M714.1 1430.8h0M677.7 1326.8h0M627.7 1318.2h0M580.9 1238.1h0M574.6 1205.8h0M649 1330.8h0M593.9 1201h0M601.8 1276.3h0M638 1275.1h0M616.4 1254.1h0M567.8 1211.9h0M636.6 1289.6h0M526.8 1188.1h0M581.5 1170.5h0M580.7 1260h0M684.6 1427.2h0M563.8 1238.9h0M579.6 1167h0M565.3 1204.2h0M638 1332.6h0M686.9 1430h0M689.1 1355.4h0M670.9 1426.2h0M708 1374.2h0M663.6 1360.2h0M650.5 1304.8h0M655.8 1386.1h0M685.5 1366.9h0M693 1350.3h0M687.6 1333.7h0M575.9 1159.8h0M626.1 1361.1h0M617 1300.3h0M624 1338.5h0M686.4 1438h0M629.6 1243.9h0M706.5 1398.4h0M650 1384.5h0M596.3 1205.5h0M597.9 1295.7h0M657.2 1413.5h0M587.3 1248.6h0M697.4 1396.7h0M661.1 1316.3h0M690.9 1394.8h0M619.2 1305.6h0M583.3 1267.5h0M628.5 1290.3h0M656.6 1368.6h0M641.6 1372h0M685.4 1381.1h0M631.8 1354.4h0M550.6 1193h0M640.9 1307.2h0M582.9 1196.1h0M647.5 1382.9h0M692.9 1440.1h0M671.7 1414.9h0M566.1 1222.7h0M674.3 1409.3h0M583.3 1252.2h0M617.3 1272.2h0M656.9 1370.3h0M564.5 1213.3h0M578.3 1177.6h0M657.7 1403.5h0M575.9 1248.7h0M580.4 1220.3h0M631.6 1248.7h0M617 1287.9h0M710.3 1381h0M626.7 1229.9h0M598.4 1218.7h0M655.4 1403.2h0M586.5 1228.2h0M635.1 1309.4h0M676.8 1440.1h0M562.9 1179.3h0M626.3 1316.3h0M616.4 1323.1h0M569.3 1197h0M703 1378h0M571.9 1222.3h0M571.6 1212.2h0M589.8 1193.8h0M587.5 1270.4h0M641.9 1336.5h0M657.2 1333.2h0M700.7 1431.6h0M677.1 1321.5h0M585.8 1241.1h0M691 1430.2h0M541.5 1198h0M579.3 1231.6h0M607.9 1206.7h0M674.9 1374.4h0M635.2 1338.4h0M650.7 1325h0M600.6 1258h0M604.6 1228.4h0M689.6 1379.1h0M655.1 1367.9h0M608.2 1304.8h0M633.5 1241.1h0M671.2 1403.8h0M643.5 1381.2h0M620.6 1276.8h0M626.4 1346.5h0M580.5 1255.6h0M718.1 1414.2h0M574.3 1164.9h0M670.8 1331.2h0M726.4 1406h0M702.2 1401.6h0M707.2 1407.7h0M558.4 1208h0M572.5 1266.9h0M696.6 1379.1h0M626.2 1302.8h0M688.3 1366.4h0M640.1 1321.5h0M641.4 1328.6h0M626.7 1281.7h0M584.5 1294h0M657.8 1295h0M597.9 1285.3h0M684.8 1336h0M619.8 1279h0M699.6 1385.5h0M678.1 1423.9h0M554.6 1177.7h0M628.1 1316.8h0M710.2 1394.1h0M712.3 1371.6h0M698 1382.1h0M536.7 1190.8h0M696.2 1432.5h0M681.1 1372.6h0M580.8 1243.5h0M693.7 1375.9h0M624.7 1262.6h0M571.5 1255.2h0M581 1157h0M563.5 1231.1h0M626.5 1331.2h0M638.6 1368.9h0M673.1 1308.8h0M572.8 1196.2h0M581.5 1196.7h0M566 1262.1h0M694.3 1431.4h0M623.4 1279.7h0M565.3 1189.3h0M572.2 1211.3h0M687 1382.7h0M644.7 1368.9h0M701 1409.4h0M565.6 1248.8h0M644.2 1295h0M638.2 1364.7h0M715 1425.5h0M608.3 1232.9h0M615.6 1240.4h0M689.4 1418.2h0M583.5 1171h0M552.7 1238.1h0M587.3 1273.3h0M605.2 1220.4h0M726.5 1403.9h0M629.1 1304.8h0M589.6 1270.3h0M703.3 1386.4h0M600 1251.1h0M619.6 1303h0M684 1369.5h0M703.4 1417.3h0M560.5 1177.2h0M654.5 1299.8h0M685.3 1406.4h0M646.8 1300.9h0M585.8 1199.3h0M642.3 1347.2h0M687.9 1334.5h0M663.3 1383.4h0M658.3 1352h0M659.3 1412.9h0M648.1 1322.9h0M619.3 1325.3h0M642.3 1359.9h0M594.3 1257.2h0M584.2 1237.2h0M551.6 1177.7h0M642.3 1378h0M606.1 1313.1h0M612.3 1207.3h0M648.5 1311.7h0M705.3 1202.6h0M735.4 1275.2h0M697.5 1189.4h0M729.2 1246.9h0M734.9 1231.1h0M785 1255.1h0M774.6 1256.2h0M675.8 1167.6h0M725.6 1204h0M694.9 1127.5h0M715.5 1162.4h0M762.1 1241.6h0M712.6 1193.7h0M731.6 1264.6h0M753.4 1230.8h0M676.1 1155.8h0M695.3 1201.8h0M678.9 1174.2h0M717.1 1184.8h0M671.4 1170.2h0M721.2 1219.8h0M787.4 1259.4h0M737.2 1219.4h0M675.2 1183.9h0M696.5 1169.1h0M733.5 1193.2h0M725.4 1166.6h0M716.5 1222.1h0M760 1321.6h0M679 1204.2h0M693.1 1135.5h0M717.3 1229.2h0M758 1217.7h0M712.2 1201h0M695.9 1206.7h0M773.7 1246h0M708.7 1218.3h0M749.6 1274h0M768.5 1310h0M693 1210.5h0M731.6 1240.7h0M721.4 1242.8h0M750.4 1252.8h0M761.8 1265.3h0M731 1274.4h0M744.6 1210.4h0M786.8 1278.9h0M711.2 1150.7h0M718.3 1199.8h0M778.3 1262h0M694.4 1205.4h0M669.8 1130.6h0M666.7 1165.2h0M717 1169.5h0M690.9 1139h0M767.2 1239.7h0M680.6 1127.3h0M655.8 1145h0M752.6 1264.1h0M726.5 1172.1h0M762.2 1246.3h0M704 1243.3h0M681.9 1178.3h0M713.8 1207.7h0M701.1 1207.8h0M749.4 1204.7h0M775.1 1264.6h0M706 1190.5h0M721.2 1243.1h0M682.8 1146.3h0M739.1 1237.8h0M676.8 1182.7h0M771.7 1304.2h0M744.9 1211.5h0M705.9 1223.8h0M703.9 1182.9h0M726.4 1201.6h0M747.5 1230.8h0M756.7 1303.6h0M721.9 1168.4h0M649.3 1144.6h0M733.1 1190.7h0M653.9 1147.7h0M665.9 1180.6h0M699.2 1196.9h0M696.5 1196h0M691.5 1146.2h0M699.6 1135.7h0M705.5 1245.8h0M644 1144h0M714.6 1168.1h0M674 1129.7h0M673.2 1144.5h0M735 1198.5h0M765.2 1288h0M767.6 1254h0M739.9 1263.4h0M772.2 1254.7h0M779.6 1295.1h0M650.7 1158.5h0M679.3 1197.2h0M709.5 1151h0M722.1 1221.6h0M736.8 1253.1h0M693 1202.3h0M743 1207.7h0M740.7 1227.1h0M745.9 1213.5h0M705.1 1165.7h0M767.1 1229.6h0M717.9 1199.3h0M787.5 1270h0M708.9 1231h0M688.6 1217.4h0M693.5 1174.1h0M710.6 1175.6h0M656.9 1151.6h0M724.5 1256.4h0M736.4 1202.3h0M720.2 1261h0M742 1219.2h0M707.7 1233.9h0M755.1 1278.2h0M776.1 1243.6h0M704.1 1136.5h0M717.5 1208.4h0M648.3 1143.8h0M716.9 1233.9h0M765.9 1308.8h0M745.8 1265.8h0M712.3 1231.3h0M767.5 1260.2h0M777.8 1258.8h0M705.4 1237.9h0M668.9 1181.7h0M709.3 1222.8h0M703.7 1140.4h0M688 1177h0M767.2 1288.8h0M731.8 1217.2h0M712.2 1225.2h0M775.3 1276.7h0M751.9 1242.7h0M715.9 1158.4h0M705.9 1204.6h0M726.8 1217.3h0M758 1263.3h0M743.3 1253.1h0M786 1290.8h0M702.3 1216.7h0M683.3 1191.9h0M719.4 1174.4h0M725.5 1227.7h0M711.1 1175.3h0M783 1305.2h0M752.5 1251.7h0M740 1218.8h0M665.9 1170.9h0M755 1242.6h0M708.6 1203.1h0M664.5 1145h0M773.4 1311.1h0M738.3 1198.2h0M723.5 1227.2h0M727.4 1265.7h0M715.3 1163h0M778 1301.3h0M764.6 1289.4h0M766.4 1291.7h0M743.5 1262h0M765 1306h0M784.6 1298h0M702.7 1155.3h0M714.8 1211.8h0M747.7 1249.6h0M784.1 1296h0M662.1 1132h0M755.2 1236.2h0M767.8 1249.5h0M774.6 1286.7h0M771.9 1301.1h0M765.1 1246.6h0M744.1 1301.8h0M676.6 1158.7h0M662.5 1171.1h0M746.1 1296.1h0M761.2 1260.8h0M761.5 1225.2h0M672.5 1150.1h0M762.7 1252.7h0M687.4 1115.9h0M709 1183.1h0M762.5 1295.7h0M756.2 1293.7h0M733.8 1262.1h0M676.1 1177.6h0M725.4 1236.8h0M725.2 1214.9h0M749.3 1288.5h0M667.5 1176.1h0M750.2 1209.1h0M738.6 1281.9h0M718.6 1203.4h0M710.9 1166.4h0M730.4 1221.4h0M733.5 1250.1h0M672.2 1173.1h0M721.8 1205.6h0M679.2 1165.9h0M730.3 1259h0M769.5 1268.7h0M722.8 1229.7h0M734.6 1180.7h0M730.3 1271.8h0M698.3 1227.7h0M664.5 1141.6h0M703.4 1204.2h0M694.9 1200.6h0M697.9 1157.7h0M716.5 1199.1h0M690.3 1218.4h0M721.6 1222.1h0M676.4 1153.2h0M744.2 1270.5h0M773.4 1301.3h0M688.5 1207.9h0M756.9 1318.4h0M667.4 1155.9h0M693.6 1149.2h0M737.4 1279.3h0M743.3 1227.3h0M731.1 1208.3h0M709.7 1165.8h0M755.3 1311.7h0M667.2 1174.3h0M741.6 1269.1h0M691.7 1175.5h0M750.9 1280h0M798.2 1278.2h0M709.2 1183.2h0M687.9 1219.6h0M762.7 1311.5h0M728 1254.8h0M779.8 1268.8h0M713.6 1256.8h0M685.4 1156.8h0M688.9 1206.7h0M737 1198.3h0M700.3 1200.5h0M752.6 1208.8h0M772.2 1265.4h0M660.4 1140.1h0M738.2 1251.3h0M698.1 1128.8h0M749.7 1257.2h0M660.8 1133.5h0M674 1143.3h0M762.4 1244.7h0M700.4 1208.7h0M689.7 1182.3h0M658.9 1146.5h0M694.5 1168.7h0M768.6 1314.2h0M669.6 1172.5h0M710.9 1199.4h0M713 1167.3h0M787.5 1299.2h0M672 1176.4h0M679.6 1144.9h0M700.2 1133.4h0M782.1 1302.2h0M759.6 1232.1h0M729.1 1178.2h0M789.6 1260.5h0M752.6 1311.1h0M697.4 1157h0M708.3 1144.2h0M718.7 1214.1h0M770.3 1284.3h0M687.2 1157.7h0M705.7 1141.2h0M692.4 1209.4h0M648.2 1160.5h0M739 1294.9h0M744.3 1227.5h0M773.7 1252.7h0M708.7 1233.1h0M713.9 1233.3h0M665.7 1173.8h0M689.3 1150.2h0M712.9 1248.5h0M688.3 1142.9h0M768.8 1256.5h0M726.4 1187.5h0M767.7 1313.9h0M683.1 1213.6h0M778.9 1279.1h0M660.5 1150.3h0M751.5 1233.2h0M674.5 1123.5h0M766.1 1300h0M733.4 1254.1h0M675.8 1190.4h0M697.8 1227.6h0M727.2 1243.4h0M743.4 1299.8h0M726.2 1270.8h0M721.8 1195.6h0M700.6 1170.7h0M779.6 1280.9h0M713.1 1158.4h0M727.5 1271.4h0M731.5 1191.9h0M737 1276h0M713.1 1200.2h0M705.9 1196.6h0M720.7 1260.7h0M679.2 1204.5h0M738.8 1235.9h0M777.9 1268.8h0M707.7 1240.3h0M745 1289h0M719.2 1227.8h0M770 1258h0M763.9 1309.9h0M716.5 1218.9h0M801.9 1279.1h0M676.3 1191h0M658.1 1144.8h0M711.6 1173h0M679.5 1130.7h0M699 1199.3h0M755.8 1276h0M679.8 1157.3h0M788.2 1283.3h0M761.2 1242.5h0M696.9 1184.2h0M761.3 1277.4h0M681.9 1165.9h0M657 1146.9h0M738.5 1221.8h0M745.7 1234.8h0M717.6 1219.1h0M775 1259.4h0M761.3 1311.4h0M664.3 1177.1h0M677.2 1188.8h0M669.8 1179.7h0M764.1 1283.8h0M731.7 1258h0M747.8 1235.6h0M735.1 1279.2h0M709 1236.4h0M708.9 1191.3h0M754.1 1242.8h0M742.8 1278.7h0M692.5 1162.2h0M768.4 1285.2h0M651.1 1146.7h0M686.2 1160.5h0M758.3 1297.8h0M777.3 1243.6h0M712.2 1159.7h0M795.8 1292.1h0M671 1165.3h0M745.9 1274.6h0M707 1236.8h0M758.7 1218.9h0M788.8 1259.3h0M778.6 1307.2h0M751.8 1230.7h0M773.9 1276.3h0M754.6 1215.2h0M726.5 1260.1h0M721.2 1248.6h0M728.6 1231.7h0M779.3 1264.9h0M694.5 1209.2h0M731 1274.1h0M742 1263.8h0M753.6 1232h0M739.9 1276.9h0M697 1165.9h0M702.8 1213.8h0M690.8 1129.5h0M760.5 1301.5h0M728.9 1189.7h0M680.7 1118h0M791.3 1271.3h0M781.7 1267.9h0M773.6 1261.2h0M733.9 1263h0M738.4 1211.6h0M735.5 1207.8h0M782 1298.9h0M741 1224h0M694.7 1220.1h0M753.1 1297.3h0M752.1 1313.5h0M675.1 1124.7h0M656.3 1157.4h0M665.1 1165.3h0M701.1 1152.9h0M681.7 1200.4h0M708.5 1162.5h0M769.5 1258.7h0M733.8 1230.7h0M748.3 1253.7h0M708.9 1156.5h0M778.2 1267.8h0M689.2 1176.9h0M784.2 1291.5h0M709.7 1180.9h0M696.5 1224.4h0M729.9 1233h0M708.7 1179.3h0M701.6 1219.8h0M755.6 1299.4h0M666.6 1183h0M708 1176.7h0M740 1198.6h0M702.1 1236h0M652.9 1166.7h0M724.7 1192.7h0M748.6 1210.6h0M689.5 1197.5h0M686.4 1190.5h0M683.8 1188.1h0M745.6 1258.8h0M732.3 1201h0M674.5 1148.2h0M686.6 1202.3h0M697.3 1135h0M700.5 1190.1h0M745 1264h0M715 1159.8h0M762.6 1233.1h0M751.2 1272.1h0M774.9 1286.2h0M711 1215.3h0M657.4 1160.5h0M724.7 1240.7h0M682 1133.9h0M689.6 1149.8h0M686.9 1212h0M716 1214.2h0M717.9 1200.5h0M661.8 1147.9h0M736.4 1204.7h0M778.3 1245.3h0M767.4 1286.5h0M763.7 1276.7h0M679.5 1152.2h0M686.2 1169.4h0M654.1 1137.8h0M755.5 1271.5h0M695.9 1197.3h0M686.3 1215.1h0M775.3 1286.4h0M772.9 1262.2h0M766.3 1298.9h0M655.3 1134.6h0M700.9 1201.5h0M684.5 1144.5h0M772.5 1297.3h0M715 1225h0M695.1 1137.2h0M718.8 1195.5h0M716.8 1213.9h0M683.3 1136.5h0M748.4 1281.6h0M761.8 1224.7h0M763.3 1231.6h0M700.3 1157.5h0M789.8 1298.3h0M720.7 1170.3h0M698.4 1213.3h0M708 1187.2h0M693.9 1137.8h0M658.8 1160.5h0M766.8 1277.9h0M737.4 1226.5h0M759.9 1241.1h0M693.2 1198.8h0M679 1207.7h0M744.4 1193.9h0M702.5 1227.8h0M687 1158.8h0M710.5 1240.9h0M653.1 1139.8h0M661.8 1151.1h0M769.2 1299.4h0M676.7 1125.7h0M699.3 1226.6h0M727.8 1196.9h0M740.9 1269.1h0M775.4 1306.7h0M736 1278h0M709.6 1147.4h0M755.4 1278.2h0M750.2 1294.6h0M688.9 1143h0M762.6 1281.1h0M736.9 1282.2h0M677 1123.4h0M685.3 1132.9h0M688.3 1212.5h0M689.3 1167.5h0M690.9 1220.4h0M748.8 1245.5h0M685.1 1136.9h0M652.3 1168.6h0M714.7 1170.2h0M683.9 1122.9h0M734.7 1234.4h0M721.7 1239.8h0M680.7 1166.6h0M709.2 1249.7h0M727.1 1192.6h0M679.2 1176.6h0M770.3 1264.1h0M740.2 1289.8h0M729.3 1182.4h0M786.9 1283.5h0M787.7 1300.2h0M725.5 1215.7h0M678.7 1137.4h0M531.8 1343.6h0M527.7 1350.5h0M543.5 1406.9h0M579.3 1426.8h0M588.2 1416.8h0M578.5 1426.2h0M567.3 1436.7h0M554.1 1420.5h0M504.2 1350.7h0M560.3 1387.2h0M550.8 1353.6h0M572.6 1389.8h0M533.1 1330.1h0M512.1 1368.5h0M520.5 1351.9h0M556.2 1433.8h0M567.5 1421.5h0M550.6 1414.7h0M586.5 1425.7h0M592.1 1441.2h0M565.2 1371.8h0M567.9 1403.6h0M548.9 1367.2h0M537.1 1392.2h0M554.9 1333.3h0M559.5 1390.6h0M529.7 1336.1h0M549.4 1338.1h0M605.5 1401.7h0M540.5 1356.5h0M571.2 1432.8h0M562.1 1390.5h0M582.4 1423.2h0M585.4 1417.1h0M513 1362.2h0M536.8 1360h0M574.7 1407.2h0M573.2 1358.9h0M577.9 1367.7h0M567.1 1390.9h0M536.8 1337.5h0M568.7 1374.9h0M604.8 1430.3h0M553.2 1327h0M532.8 1339.2h0M529.2 1335.9h0M604.7 1426h0M574.7 1411.6h0M540.7 1351.2h0M529.1 1334.4h0M551.3 1332.8h0M564.7 1379.7h0M555.4 1343h0M522.6 1380.7h0M605.2 1432.1h0M527.3 1336.8h0M602.8 1421.4h0M601.6 1438.6h0M565.5 1349.4h0M543.9 1366.3h0M551.7 1361.9h0M578 1412.4h0M551 1329.5h0M604.3 1416.3h0M544.3 1383.4h0M595.6 1440.5h0M574.1 1419.2h0M585 1419.9h0M538.6 1359.4h0M587.8 1390.2h0M570.3 1396.8h0M553.3 1375.2h0M558.3 1369.5h0M606.2 1434.8h0M584.2 1369h0M530.9 1376.6h0M552.7 1395.1h0M582.5 1439.6h0M576.6 1449.3h0M533.5 1361.1h0M519.5 1341.7h0M580 1439.6h0M586.4 1432.5h0M595 1409.2h0M565.8 1351h0M520.7 1358.2h0M518.8 1355h0M527.2 1374.9h0M618.7 1423.4h0M559 1402.3h0M582.3 1368.3h0M551.3 1395.3h0M580 1379.3h0M588.1 1377h0M545.8 1348h0M566.5 1382.1h0M522.1 1377.2h0M548.9 1334h0M588.7 1409h0M570.9 1439.1h0M555.1 1393.5h0M540.4 1384h0M590.1 1443.6h0M531.2 1388.5h0M512.5 1343.8h0M608.3 1428h0M591 1390h0M531.9 1392.3h0M546.5 1333.4h0M553.2 1339.7h0M518.6 1374.3h0M568.9 1400.7h0M576.2 1426.8h0M604.4 1434.3h0M543.7 1405.6h0M526.6 1382.3h0M554.9 1373.9h0M572.9 1364.7h0M540.4 1379.5h0M584.1 1428.2h0M524.7 1343.8h0M566.7 1408.8h0M565.5 1347.6h0M575.7 1383.1h0M567.8 1435.7h0M516.5 1350.6h0M561.4 1380.9h0M540.4 1396.3h0M509.6 1359.6h0M595.7 1431.4h0M581.6 1449.9h0M573.3 1409.4h0M573.6 1414.3h0M595.9 1410.9h0M567.4 1372.3h0M514.5 1341.7h0M582.3 1391.2h0M573.3 1429.9h0M576.7 1419.9h0M539.3 1372.8h0M541.9 1363.4h0M584.1 1422.6h0M572.2 1438.6h0M564.1 1380.7h0M546.7 1363.3h0M514.6 1355h0M563.7 1346.6h0M542.3 1344.3h0M543.2 1374.4h0M563.5 1361.4h0M559.3 1386.2h0M568.4 1386h0M541 1409.9h0M541 1380.1h0M545.9 1388.3h0M538.9 1387.5h0M587.3 1448.5h0M601.8 1399.7h0M565.6 1415h0M522.9 1360.8h0M564.5 1437.3h0M570.8 1368.3h0M563.7 1339.9h0M538 1405h0M550.8 1375.3h0M521 1357.8h0M561.4 1365.6h0M575 1429h0M556.4 1403.8h0M524.3 1356.3h0M560.8 1400.5h0M551 1367.9h0M533.6 1343.2h0M556.5 1388h0M555.4 1391.4h0M540.5 1410.5h0M529.1 1356.8h0M565.4 1424.5h0M549.4 1345h0M570.4 1414.9h0M532.8 1380.2h0M569.2 1374.2h0M573.3 1375.4h0M556.5 1430.8h0M574.1 1415.1h0M509.6 1360.1h0M572.6 1439.7h0M599.1 1398.6h0M548.7 1368.3h0M583.3 1389.7h0M590.1 1429.6h0M559 1425.7h0M558.6 1351.8h0M586.2 1384.3h0M549.8 1321.9h0M565.4 1430.4h0M554.6 1375h0M576.2 1389.7h0M555.1 1367.1h0M534 1369.4h0M584.8 1381.3h0M519.7 1353.5h0M542.5 1398.8h0M573.4 1415h0M538 1365.8h0M546.9 1393.5h0M519.3 1378.6h0M570.7 1453.1h0M568.2 1365.7h0M544.4 1391.8h0M596.9 1388.5h0M518.3 1374.4h0M585.4 1377.6h0M553.1 1405.6h0M610.7 1419.6h0M596.3 1398h0M569.7 1404.9h0M542.3 1325.9h0M545.3 1386.8h0M608.5 1433.5h0M535.7 1370.8h0M553.4 1386.9h0M574.9 1434.9h0M563.1 1376.3h0M570.6 1412.6h0M574.3 1405.8h0M591.6 1404.3h0M589.2 1418.7h0M578 1364.8h0M582.5 1426.2h0M579.9 1397.2h0M527.5 1342.4h0M577.6 1379.3h0M607.9 1406.8h0M567.3 1440.9h0M509.8 1360.8h0M601.1 1430.9h0M541 1392.1h0M513.5 1351.8h0M519.3 1340.2h0M530.4 1338h0M575 1412.2h0M563 1365.6h0M542.2 1337.4h0M553.5 1348.6h0M548.3 1336.7h0M574.4 1365h0M588.2 1405.7h0M578.8 1420.4h0M566 1420h0M542.1 1379.3h0M510.1 1350.6h0M556.7 1426.6h0M567 1360.7h0M594.4 1402.7h0M597.7 1423.4h0M609.2 1413h0M530.8 1376.1h0M519 1350.5h0M550.5 1379.1h0M550.5 1345h0M578.3 1436.7h0M553.7 1332.7h0M547.6 1335.9h0M544.2 1366h0M525.7 1383.1h0M530.5 1343.1h0M556.5 1412.1h0M553.4 1390.4h0M546.5 1343.7h0M611.4 1410.9h0M543.9 1407.2h0M607.9 1423.5h0M599.7 1440.9h0M518.7 1359.2h0M539.9 1408.4h0M516.9 1359.6h0M570.6 1352.7h0M522.8 1361.1h0M580.6 1440.8h0M576.8 1403.1h0M553.2 1363.4h0M547.8 1330.2h0M522.2 1375h0M602.7 1425.3h0M612.3 1425.1h0M592.5 1392.6h0M543 1413h0M569.8 1420.2h0M556.9 1417h0M541.7 1401.2h0M567.4 1419.8h0M527.8 1369.9h0M616.6 1422.4h0M547.9 1389.1h0M568.9 1432.2h0M549.5 1367.8h0M556.2 1430.9h0M557.4 1331h0M610.8 1411.2h0M537.6 1339.1h0M504.6 1349.9h0M547.7 1323.1h0M566.7 1384.8h0M561.9 1427.8h0M504.3 1351.8h0M536.1 1337.5h0M558.9 1349.7h0M515.5 1353.3h0M556.3 1364.2h0M595.8 1427h0M553.6 1338.5h0M572.9 1358.5h0M797.1 1170.3h0M795.6 1172.5h0M759.4 1151.3h0M793.8 1178.7h0M771.9 1149h0M783.1 1170h0M768.7 1145.3h0M794.2 1192.9h0M802 1167h0M787.1 1174.4h0M768.1 1159.1h0M793.3 1145.5h0M775.5 1170.7h0M801.5 1170.3h0M773.5 1166.7h0M803.9 1185.7h0M794 1159.7h0M782.6 1180.6h0M773.5 1162.3h0M782.5 1168h0M791.7 1178.6h0M764 1156.7h0M781.4 1136.2h0M770.2 1148.1h0M773 1171.3h0M788.9 1140.2h0M777.3 1136.2h0M802.3 1177.7h0M794.5 1161.6h0M774.3 1157.8h0M769.9 1140.3h0M807.9 1183.4h0M783.5 1166.6h0M789.8 1148.2h0M813.7 1172.9h0M779.8 1150.5h0M786.6 1134h0M791.6 1188.9h0M775.9 1174.3h0M792 1185.2h0M777 1162h0M787.2 1153.8h0M792 1139.5h0M789.9 1184.6h0M801.7 1180.2h0M791.8 1176.5h0M781.9 1151.9h0M766 1150.7h0M807.9 1166.5h0M788.8 1178.7h0M759.6 1151.1h0M804.5 1189.1h0M797.9 1148.7h0M790.3 1182.1h0M790.9 1142h0M776.4 1165.1h0M779.4 1157.2h0M803.2 1168h0M800.7 1161.9h0M798.6 1179.3h0M803 1183.4h0M786.4 1158.4h0M778 1166.8h0M795.2 1145.4h0M802.8 1165.5h0M781 1144h0M794.7 1158.2h0M807.1 1181.8h0M808 1181.4h0M762.3 1146.2h0M798 1150.8h0M783.8 1175.8h0M779.5 1162.9h0M810.7 1185.3h0M778.1 1179.7h0M771.6 1160.2h0M769.6 1147.2h0M782.1 1170.8h0M782.7 1169.4h0M764.6 1151.3h0M783.6 1169.5h0M796.5 1177.8h0M793.8 1187h0M791.6 1144.5h0M784 1183.3h0M787.7 1152.9h0M781 1181.8h0M803.8 1162.5h0M788.4 1164.2h0M774.1 1152h0M792.5 1166.4h0M802.5 1162.9h0M805.8 1182.4h0M771.7 1163.4h0M672.6 1525h0M732.7 1468.8h0M521.2 1425.6h0M713.1 1487.4h0M504.1 1400.7h0M780.9 1417.6h0M565.2 1519.6h0M725.9 1473.6h0M569.3 1516.5h0M789.5 1350.3h0M536 1444.9h0M778.4 1326h0M713.9 1497.1h0M785.6 1402.7h0M688.7 1451.1h0M736.8 1467.9h0M633.7 1520.2h0M629.7 1487.3h0M690.7 1472.7h0M718 1429.1h0M685.2 1435.3h0M788.2 1329h0M707.9 1470.5h0M537.2 1459.6h0M779.6 1357.5h0M749.3 1342.7h0M677.7 1492.4h0M749.5 1354.4h0M726.3 1393.9h0M540.6 1490.6h0M781.9 1349.9h0M694.4 1497h0M515.4 1449.7h0M763.9 1360.9h0M657 1440.4h0M645.6 1525.9h0M755.3 1446.2h0M776 1388.1h0M509.3 1423.9h0M526.4 1483.1h0M518.5 1514h0M621.1 1526.1h0M754.8 1388.6h0M774.3 1440.4h0M757.3 1418h0M670.7 1482.6h0M751.7 1469.4h0M538 1439h0M507.2 1455.3h0M755.4 1438.8h0M561.3 1503.1h0M787.6 1390.8h0M784.5 1437.5h0M550.2 1522h0M559.1 1502.6h0M730.7 1394.2h0M786.5 1435.5h0M794.3 1331.1h0M672.1 1507.3h0M674.2 1439.2h0M678.1 1443.7h0M625.1 1506h0M747.9 1415.4h0M738.3 1461.7h0M534.8 1432h0M648.1 1452h0M512.4 1506.7h0M563.7 1512.9h0M588.9 1521.2h0M526.3 1506.8h0M635 1482.8h0M714.1 1457.4h0M632.9 1494.1h0M723 1464.2h0M718.2 1469.5h0M682.1 1434.2h0M662.2 1457.9h0M764.2 1447.8h0M720.3 1435.1h0M740.2 1344.2h0M575.9 1504.5h0M669.1 1482.3h0M723.3 1412.5h0M681 1486.5h0M706.6 1493h0M692.8 1466.8h0M698.1 1479.4h0M663 1466h0M774.2 1366.5h0M773.4 1328.9h0M647.4 1472h0M511.6 1455h0M508.7 1437.4h0M761.6 1420.5h0M617.7 1465.7h0M563.4 1505.1h0M510.7 1505.3h0M514.1 1502h0M785.4 1332.6h0M536.6 1520.4h0M682.6 1476.4h0M793.3 1344.8h0M530.9 1452.2h0M693.9 1508.5h0M754.3 1405.2h0M734.2 1372.2h0M778.5 1315.9h0M619.4 1526.7h0M674.5 1445.4h0M754.4 1453.5h0M750.7 1427.1h0M768.7 1410.8h0M666.7 1488.6h0M722.3 1429.8h0M694.5 1479.4h0M753 1357.3h0M687 1440.7h0M582.6 1501.6h0M620.2 1502.8h0M784.4 1363.7h0M633.3 1509.4h0M782.6 1306.2h0M744 1415h0M760.7 1373.6h0M504.6 1436.4h0M544 1501.4h0M617.7 1479.6h0M759.8 1360.9h0M657.4 1522.6h0M757.5 1381.5h0M515.5 1434.6h0M541 1521.6h0M543.2 1508.3h0M560.1 1482.2h0M728.5 1464.9h0M791.5 1302h0M761.1 1343.7h0M571.4 1524h0M630.9 1455.9h0M587.7 1494.5h0M691.4 1446h0M529.2 1523.3h0M736.5 1374.1h0M548.3 1509.1h0M516.9 1460.2h0M746.1 1474h0M503.6 1480.5h0M534.2 1485.9h0M785.7 1358.4h0M543.7 1470h0M747.5 1451.5h0M753.6 1401.9h0M746.6 1368.9h0M793.1 1384.6h0M756.4 1448.9h0M663.3 1510h0M732.1 1424.1h0M507 1491.9h0M542 1490.5h0M531.5 1449.6h0M505.4 1526.8h0M728.2 1417.5h0M739.4 1384.5h0M635.9 1505.3h0M687.5 1496.4h0M713.4 1450.5h0M512.8 1470.9h0M517.7 1496.8h0M617.1 1516h0M794.3 1320.1h0M503.7 1508.6h0M675.7 1524.6h0M655.7 1465.5h0M558.8 1496.4h0M791.2 1379.5h0M725.8 1375.5h0M700 1475h0M551.5 1514h0M728.6 1416.6h0M515.9 1508.3h0M574.4 1506.8h0M737.1 1474.7h0M786.4 1429.7h0M606.5 1498.4h0M699.7 1486.4h0M781.5 1331.9h0M685.7 1434.8h0M649.1 1459.2h0M509.5 1477.2h0M543.2 1494.1h0M521.2 1478.6h0M508.8 1439.8h0M674 1514.4h0M659.3 1508h0M781.9 1384.7h0M642.5 1478.7h0M686 1479.4h0M774.8 1315.9h0M776 1374h0M561.3 1521.3h0M772.6 1411.1h0M706.1 1440.5h0M787.3 1308.7h0M654 1497h0M781.8 1338.3h0M752.4 1409.6h0M587.2 1514.3h0M665.9 1471.4h0M715.1 1467.7h0M729.2 1397.1h0M777.4 1416.6h0M772.8 1383.2h0M523.2 1418.3h0M771.4 1321.5h0M688.2 1493.5h0M690.6 1466.7h0M757.7 1451.9h0M663.9 1469.9h0M773.2 1447.9h0M764.5 1365.5h0M654.9 1451.3h0M664.6 1454.4h0M677 1463.9h0M648.7 1493.3h0M760.5 1414.1h0M736.4 1448.8h0M768.1 1380.5h0M597.9 1494.6h0M744.4 1348.3h0M737.2 1390.6h0M503.9 1431.9h0M764.9 1436h0M793.8 1365.3h0M517.2 1526.4h0M563.5 1503.3h0M522.1 1518h0M715.2 1424.9h0M636.1 1476.1h0M564.2 1489.8h0M627.1 1511.8h0M729.7 1471.4h0M745.2 1375.1h0M526.7 1456.3h0M782.4 1367.2h0M526.2 1516h0M509.8 1504.7h0M651.2 1504.7h0M516.4 1431.4h0M768.7 1407.6h0M626.1 1478.5h0M773.8 1335.3h0M545 1522.5h0M707.8 1474.1h0M527.8 1444.1h0M587.7 1502.5h0M629.8 1463.7h0M736.4 1414.7h0M730 1465.7h0M677.2 1508.3h0M744.7 1339.5h0M759.8 1383h0M743.2 1462.6h0M789.4 1388.4h0M616.5 1515.4h0M768.8 1367h0M516.8 1526h0M744.9 1444.6h0M767.4 1331.8h0M770.9 1358.7h0M533 1489.8h0M759.5 1335.3h0M748.4 1374.3h0M709.3 1463.7h0M646 1526.1h0M593.9 1483h0M627.4 1473.5h0M728.9 1484.8h0M687.3 1456.5h0M576.5 1493.3h0M627.5 1466h0M710 1493.1h0M723.9 1391.9h0M774.2 1390.7h0M505 1497.8h0M531.4 1460.9h0M754.2 1387.8h0M647.8 1452.4h0M579.9 1504.5h0M781.9 1356.2h0M764.5 1449.2h0M647.3 1441.3h0M665.1 1450.5h0M586.5 1518.2h0M693.1 1488.1h0M734.6 1482.3h0M771.8 1338.7h0M538.5 1507.5h0M780.9 1372.2h0M577.1 1501.5h0M535.3 1476.4h0M591.2 1515.7h0M644.4 1490.4h0M523.1 1523.6h0M738.8 1377.4h0M626.9 1521.9h0M688.6 1483.3h0M737.6 1352.3h0M690.8 1473.1h0M761.3 1455h0M526.4 1448.1h0M772.3 1314.7h0M738.6 1413.3h0M696 1488.2h0M773.7 1329.3h0M752.5 1454.2h0M588.9 1518.5h0M682 1510.2h0M511 1430.5h0M729.8 1372.4h0M637.9 1452.7h0M503.7 1443.3h0M531.2 1521.4h0M543.7 1454.4h0M791.7 1374.3h0M589.7 1519.2h0M614.2 1473.6h0M607.3 1511.9h0M605.1 1494.7h0M790.6 1329.7h0M734 1413.8h0M514.5 1471.4h0M694.1 1462.4h0M529.9 1522h0M600.9 1492.3h0M617 1479.2h0M751.7 1363.7h0M533 1526.9h0M695.7 1484.7h0M763.9 1389.9h0M523.9 1485.5h0M624.5 1477.3h0M689.3 1448.6h0M749.6 1403.8h0M713.9 1450.4h0M745.7 1348.4h0M707.4 1463.4h0M783.9 1377.4h0M664.6 1527.2h0M766.6 1388.3h0M552.8 1515h0M621.3 1449.7h0M774.3 1448.7h0M746.7 1428.2h0M753.2 1334.8h0M743.8 1410.8h0M594.7 1501.6h0M610.4 1469h0M626.5 1457.8h0M530.1 1426.8h0M610.1 1467.6h0M785.9 1324.9h0M767.2 1421h0M570.3 1498.6h0M671.4 1498.8h0M770.3 1446.4h0M759.8 1352.8h0M762 1461.6h0M771.4 1332h0M695.3 1503.1h0M777.9 1395.1h0M778.8 1448.7h0M684 1515.6h0M704 1438.6h0M571 1520.5h0M784.2 1373.3h0M764.9 1327h0M548.8 1523.9h0M543.8 1513.1h0M725.9 1464.6h0M723.6 1490.6h0M740.5 1354.6h0M710 1484.5h0M626.8 1499.1h0M608.8 1496.9h0M746.5 1461.2h0M614.3 1499.4h0M725.7 1404.6h0M652.1 1465.6h0M679.5 1478.2h0M684.4 1473.9h0M780.3 1316.8h0M720.3 1451h0M598.6 1497.8h0M739.2 1405h0M756 1329.8h0M762.6 1326.9h0M712.1 1425.5h0M542.9 1468.7h0M587.9 1500.1h0M660.5 1516.4h0M788.1 1324.5h0M771 1316.4h0M730.8 1399.4h0M540.1 1516.4h0M510.6 1481.5h0M580.6 1511.3h0M616.6 1509.9h0M682.1 1475.6h0M654.9 1472.7h0M543.1 1451.6h0M772 1342.7h0M748.4 1377h0M723.5 1434.4h0M626.5 1522.5h0M523.3 1440.7h0M544.3 1510.5h0M770.1 1451.3h0M769.5 1425.2h0M760.3 1425.1h0M521 1523.8h0M780.2 1381.6h0M511.8 1508.4h0M733 1461.3h0M670.4 1506.5h0M666.5 1483.1h0M775.6 1344.6h0M657.2 1453.9h0M774.2 1353.5h0M706 1465.1h0M703.3 1492h0M640 1454.2h0M673.8 1459.6h0M752 1370.7h0M654.6 1472.1h0M740.6 1421.2h0M743.8 1423h0M712 1442.4h0M765 1437h0M547.2 1516.5h0M665.7 1495.5h0M744.7 1474.7h0M760.5 1395.1h0M780.6 1361.3h0M676.9 1472.5h0M514.4 1495.3h0M607.7 1464.3h0M753.9 1430.2h0M621.6 1473.1h0M611.5 1462.9h0M710.8 1471.6h0M522.2 1447.8h0M621.4 1501.6h0M610.1 1510.1h0M738 1479.9h0M714.7 1452h0M787.5 1314.6h0M628.1 1446.7h0M615.4 1488.2h0M677.9 1504.1h0M762.3 1393.7h0M664.3 1452.2h0M536.9 1523.7h0M652.9 1440.6h0M660.1 1508.1h0M757.8 1459.1h0M732.2 1416.2h0M661.8 1446.3h0M530.1 1423h0M514.7 1425.5h0M679.9 1476.2h0M787.6 1414h0M760.6 1433.8h0M636.8 1507.9h0M573.6 1503.1h0M742.9 1427.7h0M622.4 1516.1h0M709.2 1450.2h0M693.6 1441.4h0M516.3 1420.5h0M721.2 1422.9h0M624.9 1455.3h0M746.6 1446.4h0M771.5 1441.7h0M783.6 1403.8h0M743.4 1384.3h0M733 1457.1h0M703.2 1443.7h0M611.8 1518.4h0M640.7 1464.5h0M536.5 1435.7h0M670.1 1454.2h0M732.2 1360.1h0M709.4 1483.5h0M544.4 1516.3h0M758 1441.9h0M629.3 1485.8h0M779.2 1323.7h0M521.8 1435.7h0M724.1 1396.9h0M771.9 1345.3h0M503.7 1508.6h0M646.2 1442.7h0M583.5 1521.8h0M792.6 1346.1h0M542.4 1469.8h0M650 1441.1h0M611.1 1492.1h0M524.6 1503.2h0M514.4 1502.8h0M687.3 1435.6h0M783.1 1354.7h0M646.3 1483.8h0M534.6 1476h0M566.7 1499.8h0M610.2 1498.8h0M789.9 1395.5h0M657.9 1451.7h0M543.1 1520.1h0M769.3 1377.8h0M504.2 1473.1h0M737.8 1383.9h0M684.3 1482.4h0M540.1 1523.7h0M533.1 1490.6h0M568.9 1510.5h0M787.4 1327.6h0M740.9 1394.6h0M734.9 1398.4h0M687.2 1435.5h0M546.7 1518h0M541.5 1508.8h0M688.2 1484.9h0M677.9 1475h0M515.7 1498.5h0M741.4 1349.2h0M569.3 1505h0M735.6 1353.9h0M739.7 1443.8h0M548.5 1464.7h0M654.9 1484.4h0M651.1 1471.4h0M605.8 1482.4h0M620.9 1526h0M506.4 1437.7h0M621.2 1497.8h0M724.7 1482.7h0M729.1 1378h0M554.5 1518.8h0M700.1 1498.4h0M762.5 1418h0M540.3 1463.2h0M792.5 1333.8h0M654.2 1515.3h0M712.9 1424.4h0M771.9 1335.8h0M610.7 1520.1h0M505.9 1472h0M690.6 1453.4h0M534.8 1503.7h0M528.1 1428h0M774.3 1326.7h0M671.2 1450.1h0M719.8 1384.3h0M665.3 1478.4h0M790.8 1398.2h0M505.3 1415.7h0M759.4 1437.7h0M649.7 1456.7h0M664.9 1468.3h0M763.9 1414.1h0M659.7 1490.2h0M506.7 1494.7h0M653.6 1519.2h0M584.1 1495.4h0M582.4 1494.8h0M544.7 1466.3h0M752.9 1385.3h0M737.6 1348.1h0M625.6 1520.1h0M573.5 1492.8h0M653.8 1480h0M724.7 1401.3h0M792.6 1434.9h0M788.1 1394.8h0M522.1 1476.6h0M763.2 1371.6h0M542.3 1461.6h0M780.1 1313.5h0M524.1 1518.5h0M659.7 1438.2h0M662.6 1448.5h0M674.1 1503.6h0M584.9 1526.2h0M602.1 1485.7h0M754.3 1440h0M764.5 1363.3h0M567.4 1492.2h0M781 1439.7h0M703 1452.5h0M641.3 1491.8h0M780.1 1354.4h0M657.5 1494.4h0M731.4 1434.1h0M634.9 1514.9h0M675 1495.2h0M690 1466.6h0M744.7 1378.5h0M736.8 1370.3h0M653.8 1446.8h0M702.6 1505.2h0M704.7 1494.8h0M671.4 1526.8h0M537 1527h0M778.5 1399.8h0M561.8 1527.3h0M754.5 1422.7h0M758.5 1382.8h0M756.2 1428.2h0M554.7 1478.5h0M730.4 1447.3h0M734.5 1389.9h0M748.4 1396.4h0M783.5 1320.2h0M690.7 1468.7h0M773.4 1379.6h0M513 1436.7h0M747.8 1471.2h0M638.8 1486.3h0M733.9 1455.8h0M685.9 1490.4h0M610.9 1460.7h0M536.9 1446.4h0M642.9 1467.7h0M515.8 1431.3h0M759.4 1443.6h0M518.7 1414.6h0M673.8 1509.7h0M658.1 1525.9h0M786 1314.3h0M794.7 1421.2h0M730.4 1440.3h0M702 1506.8h0M723 1454.5h0M512.1 1521h0M550.1 1516.7h0M703.3 1503.7h0M722.5 1491.2h0M651.8 1486.9h0M519.4 1497.4h0M731.9 1414.4h0M721.6 1459.6h0M692.1 1505.4h0M786.7 1390.2h0M659.5 1499.8h0M581.7 1489.3h0M719.6 1379.9h0M554 1491.7h0M731.8 1399.5h0M641.3 1526.5h0M789.3 1330.3h0M701.5 1442.2h0M518.8 1438.7h0M565.9 1516.6h0M756.8 1442.7h0M667.7 1466.7h0M572.3 1499.1h0M738.3 1377.9h0M678.5 1497.3h0M658.9 1496.4h0M544.6 1467.4h0M727.2 1450.2h0M714.7 1454.9h0M658.6 1471.8h0M513.7 1477.1h0M794.9 1420h0M766.4 1416h0M541.9 1488.3h0M515 1467.5h0M766.7 1327.4h0M550.9 1520.3h0M734.1 1477.5h0M683.2 1479.5h0M531.7 1507.8h0M676.6 1443.5h0M690.4 1510.6h0M792.1 1369.3h0M545.4 1507.8h0M658.8 1451.3h0M759.3 1411.7h0M716 1444.2h0M703.6 1460.9h0M636.6 1466.9h0M514.8 1474.1h0M527.1 1517.8h0M719.8 1477.7h0M650.6 1496.4h0M531.7 1456.1h0M711.4 1493.2h0M767.2 1366.6h0M722.3 1434.9h0M631.2 1451h0M640.1 1449.3h0M529.8 1521.2h0M748.2 1446.8h0M547.1 1517.3h0M553.4 1524.3h0M787.1 1360.3h0M783.8 1374.6h0M613 1458.9h0M517.3 1505.2h0M737.7 1385.2h0M722.7 1412.3h0M571.4 1526.8h0M641.2 1490h0M619.5 1501.2h0M681.1 1475h0M706.7 1441.7h0M614.8 1455.2h0M741.1 1380.4h0M584.4 1498.1h0M706.8 1444.3h0M696.7 1464.1h0M523 1461.9h0M655 1438.2h0M765.4 1438.3h0M746.8 1369.6h0M752.2 1417.3h0M757.7 1348.9h0M618.4 1511.3h0M521.1 1429.5h0M773.4 1377.7h0M709.3 1459.6h0M509.1 1495.1h0M737.5 1421.6h0M661.2 1456.1h0M657.8 1524.3h0M631.7 1465.7h0M765.1 1429.7h0M596.9 1510.2h0M774.2 1345.1h0M505.7 1403.4h0M595.8 1491.3h0M533.9 1502.1h0M663.7 1511.3h0M645.1 1517.6h0M702.7 1472.2h0M648.5 1512.9h0M511.9 1497.8h0M642.8 1464.7h0M770.3 1356.1h0M758 1462.6h0M786 1315.4h0M775.2 1447.4h0M628.6 1456.6h0M725.3 1370.5h0M518.8 1483.2h0M512.9 1499h0M591 1505.1h0M689.7 1486.5h0M760.3 1393h0M647.7 1502.1h0M662.4 1480.4h0M789.8 1310.5h0M751.3 1440.3h0M661.6 1516.4h0M732 1429.4h0M579.8 1506.7h0M553.9 1510.6h0M702.9 1452.2h0M745.9 1417.3h0M762.6 1341.5h0M673.8 1437h0M605.9 1517.9h0M548.8 1492.4h0M585.6 1493.5h0M683.7 1501.2h0M595.4 1499.2h0M745.8 1374.7h0M731.6 1429.1h0M754.9 1345.7h0M632.5 1481.4h0M596.7 1497.1h0M640.2 1491.1h0M505.6 1422.4h0M620.9 1513h0M770.6 1377.9h0M724 1444.9h0M539.5 1504.3h0M509.2 1419h0M599.4 1522.1h0M789.5 1378.9h0M580.1 1507.6h0M758.7 1371.8h0M745.1 1420.9h0M727.8 1460.8h0M641.3 1499h0M785.6 1317h0M616.9 1492.6h0M650 1524.1h0M658.9 1468.7h0M726.3 1424.8h0M785.2 1406.6h0M685 1449.6h0M532.3 1452.8h0M786 1333.7h0M686.8 1510.3h0M662.8 1472.2h0M563.8 1495.1h0M701.8 1483h0M751.1 1458.5h0M576.5 1522.1h0M503.7 1436.8h0M681.1 1456h0M541.7 1471.5h0M628.8 1503.7h0M538.7 1498.6h0M735.7 1473.3h0M735 1423.5h0M791.4 1389.1h0M519.9 1506.3h0M742.6 1401.2h0M764.2 1335.4h0M655.1 1509.7h0M717.2 1445.3h0M514.1 1522.7h0M569.4 1505.6h0M783.3 1337.4h0M640.6 1506.9h0M719.5 1433.2h0M699.6 1473.5h0M652.5 1454.4h0M684.1 1488.5h0M775.7 1314.7h0M552.1 1466.4h0M717.3 1450h0M611.8 1467.6h0M761.9 1407.4h0M770.8 1325.7h0M589.1 1510.9h0M667.9 1453.2h0M707.2 1444.1h0M632.4 1508h0M622.9 1480h0M658.1 1483.3h0M779.1 1348.1h0M536.6 1484.9h0M770.4 1356.3h0M682.2 1487.7h0M537.3 1436.1h0M511.5 1512.7h0M551.1 1525.2h0M786.4 1443h0M701.5 1468.6h0M722.1 1377.4h0M743.6 1401.3h0M730.4 1481.9h0M547 1494h0M741.1 1474h0M541.8 1470.1h0M538.1 1510.5h0M734.3 1351.8h0M782.4 1372.7h0M689.8 1464.3h0M731.9 1423.1h0M701.3 1457.4h0M688.1 1507.5h0M630.7 1508.8h0M642.2 1485h0M631 1490.7h0M743.6 1473.6h0M517.1 1509.9h0M514.1 1501.7h0M734.8 1434.7h0M669.7 1501.4h0M653.5 1526.7h0M791.7 1392.1h0M542.6 1512.8h0M634.7 1469.2h0M712.8 1485.9h0M520.9 1521.4h0M514.7 1468.9h0M573.4 1518.1h0M512.2 1409h0M672.9 1450.5h0M527.4 1493.3h0M731.5 1435.1h0M742.5 1379.2h0M503.2 1438.1h0M794.5 1415.6h0M728.5 1404.4h0M650.1 1439h0M764.9 1372.7h0M708.8 1436.8h0M735.5 1388.8h0M788.3 1355.8h0M722.5 1422.7h0M529.8 1461.2h0M724.3 1442.4h0M615 1526.5h0M504.7 1503.6h0M695.5 1478.1h0M724 1388h0M642.3 1497h0M717.2 1487.3h0M600.2 1475.5h0M564.2 1506.6h0M737.8 1438.4h0M730.8 1375.6h0M785.5 1331h0M563.3 1490.9h0M609.5 1470.3h0M774.7 1395.5h0M534.6 1510.3h0M610.1 1508.3h0M776.1 1338.5h0M652.1 1460h0M727.2 1385.5h0M734.1 1442.9h0M781.8 1375.1h0M505.1 1517.2h0M721.2 1476.3h0M759.2 1387.4h0M711 1461.3h0M773.8 1380.7h0M773.5 1403.4h0M634.8 1495.5h0M639.7 1456.8h0M509.4 1410.7h0M765.1 1349h0M765.8 1374.6h0M780.5 1427.6h0M642.2 1489.4h0M610.1 1500.7h0M762.5 1424.8h0M748.2 1386.7h0M670.5 1446.6h0M589.1 1512.1h0M627.5 1470h0M687.2 1462.6h0M567.5 1511.5h0M577.8 1501.6h0M548.6 1496.5h0M734.1 1395h0M646.4 1495.8h0M525.5 1503.8h0M549.9 1501.3h0M647.6 1472.2h0M751.8 1373.4h0M741.8 1344.6h0M751.3 1427.5h0M723.1 1478.2h0M777 1360.1h0M698.2 1485h0M721.3 1420.7h0M663.2 1460.2h0M637 1520.2h0M514.5 1471.8h0M772.5 1419.1h0M744.7 1460.3h0M616.5 1470.7h0M728.8 1448.4h0M591.5 1504.6h0M649.2 1492.3h0M779.9 1381.7h0M762.5 1430.9h0M542.9 1524.9h0M641.8 1493.6h0M617.6 1504.9h0M678.8 1494.2h0M619.5 1493.8h0M770.3 1420.9h0M718.6 1438.2h0M785.2 1424.2h0M627.3 1480.8h0M599.4 1506.9h0M689.8 1433.7h0M633.7 1502.7h0M763.2 1349.2h0M597.4 1508.8h0M566.9 1493.1h0M761.2 1355.2h0M712 1485.8h0M766.8 1326.8h0M691.7 1450.2h0M550.5 1466.8h0M748 1415.4h0M534.6 1527.5h0M739.9 1426.3h0M742.1 1405.3h0M709.7 1460.1h0M659.2 1450.2h0M768.7 1409.3h0M779 1394.5h0M671.9 1487h0M790.5 1356.4h0M553.9 1482.9h0M760.5 1328h0M704.6 1491.7h0M791.1 1304.4h0M535.1 1443.5h0M528.4 1498.8h0M529.1 1515.4h0M532.4 1426.1h0M759.2 1445.2h0M664.2 1469.1h0M731 1377h0M671.3 1493.1h0M533.9 1527.1h0M641.3 1447.5h0M645 1472.1h0M672.8 1498.3h0M637.9 1475.4h0M728.6 1416.3h0M533.1 1438.6h0M736.9 1455.4h0M544.6 1485.4h0M674.3 1475.2h0M546.1 1462h0M661.2 1512.7h0M750.7 1379.3h0M619.9 1517.2h0M661.4 1473.1h0M794.1 1363.4h0M630.5 1518.3h0M779.4 1410.3h0M629.1 1503.3h0M650.7 1491.3h0M727.5 1468.6h0M780.5 1345.6h0M637.1 1449.5h0M506.6 1462h0M510.6 1436.8h0M605.7 1476.3h0M787.1 1384.7h0M525 1418.9h0M779.3 1418.4h0M785.9 1324.5h0M745.4 1452.1h0M790.2 1416.6h0M789.9 1398h0M506.5 1455.4h0M653.8 1501.9h0M701 1460h0M758.2 1358h0M613.7 1467.3h0M739.4 1406.5h0M744.2 1342.5h0M539.2 1481.9h0M652 1517.6h0M647.1 1494.4h0M730 1471h0M628.5 1508.9h0M520.3 1451.5h0M599.3 1513.4h0M736.2 1451h0M752.5 1400.3h0M669.1 1523.4h0M768.2 1404.2h0M701.1 1471.3h0M662.9 1450.5h0M624.4 1464.6h0M508.7 1425.4h0M769 1456.7h0M780.8 1366.4h0M764.3 1358.8h0M670.4 1469.4h0M534.2 1442.2h0M729.8 1395.9h0M674.6 1462.6h0M607.4 1500.1h0M760.8 1447.5h0M630.8 1502.6h0M632.2 1469.2h0M507.7 1505.5h0M652.4 1460h0M754.8 1390.5h0M598.2 1493.9h0M743.4 1418.3h0M667.5 1508.6h0M700.8 1508.4h0M693.9 1509.9h0M774.4 1362.3h0M776 1437.3h0M681.6 1493.2h0M735.6 1425.5h0M508.5 1486.2h0M518.1 1524.9h0M669.1 1524.2h0M580.3 1507.1h0M543.5 1461.4h0M538.3 1508.2h0M566.2 1501.3h0M691 1467.2h0M617.8 1472.7h0M757.8 1383.9h0M786.5 1347.9h0M656.3 1476.9h0M771.5 1383.9h0M593.3 1519.9h0M740.8 1468.6h0M793.1 1321.8h0M617.9 1525.3h0M513 1510.9h0M647.9 1483.3h0M506.4 1473.3h0M641.3 1489.8h0M741.6 1440.4h0M505.3 1479.6h0M751.2 1378.2h0M592.9 1514.3h0M736.9 1433.5h0M555.3 1501.7h0M673.4 1477.8h0M730.3 1362.6h0M772.7 1442.7h0M539.1 1500.2h0M526.8 1487.2h0M751.7 1372.2h0M525.8 1469.1h0M626 1502.8h0M741.4 1378.5h0M544.9 1506.5h0M658.4 1514.7h0M669.6 1478.6h0M533 1502.4h0M750.7 1434.9h0M625 1491h0M521.6 1506.1h0M708.7 1498h0M609.2 1503.2h0M696.5 1489.1h0M526.6 1436.1h0M538.4 1452.8h0M514.9 1468.7h0M743.8 1418.5h0M721.8 1487.6h0M608.5 1461.3h0M668.2 1481h0M642.8 1523.5h0M678.3 1508.8h0M735.1 1461.4h0M667.2 1463h0M736.1 1386.9h0M601 1483.2h0M583.4 1520.4h0M515 1409.8h0M662.6 1504.3h0M677.4 1443h0M729.6 1418.5h0M783.4 1337.8h0M661.5 1462.6h0M570.5 1513.9h0M520 1527.2h0M564.8 1517.3h0M589 1520.2h0M778.4 1444.6h0M730.2 1373.6h0M746 1445.5h0M695.2 1484.5h0M674.6 1491.7h0M557.5 1523.2h0M532.6 1465.3h0M680.7 1470.7h0M632 1449.4h0M664.2 1462.5h0M668.8 1503.4h0M526.7 1434.9h0M703.6 1464.7h0M784.6 1329.3h0M610.7 1506.9h0M778.9 1356.7h0M741.9 1422.9h0M689 1441.5h0M686.2 1443.7h0M744.5 1459.8h0M689 1490.5h0M763.4 1390.3h0M721.7 1439.5h0M505.8 1450.4h0M738.4 1378h0M774.3 1433.8h0M508.3 1517.7h0M739.9 1399.6h0M771.2 1399.7h0M673.9 1482.6h0M792.7 1409.5h0M744.6 1438.2h0M630.5 1458.2h0M749 1427.9h0M650.5 1447h0M755.8 1356.2h0M754.7 1428.5h0M542.4 1505.6h0M622.6 1521.3h0M644.5 1496.8h0M731.2 1364.9h0M553.8 1481.7h0M730.4 1432.4h0M780.6 1434.8h0M508.4 1486.9h0M688.9 1475.8h0M732.5 1445h0M787.1 1428.8h0M625.6 1452.7h0M742.5 1423.8h0M600.7 1496.5h0M790.5 1309.6h0M730.1 1370.1h0M506.6 1510.7h0M676.5 1459.6h0M619.6 1486.4h0M744.5 1425.7h0M577.8 1497.1h0M536.3 1516.9h0M772.1 1394.9h0M582.9 1522.1h0M737.3 1353.9h0M663.3 1519.7h0M743.3 1413.7h0M522.1 1456.8h0M665.3 1441.1h0M767.4 1364.5h0M695.1 1481.4h0M701.4 1480.9h0M775.3 1348.5h0M786 1326h0M776.2 1443.9h0M657.1 1514.4h0M737.9 1474.1h0M733.5 1421.7h0M525.2 1418.3h0M525.6 1429.4h0M674.9 1463.3h0M681.3 1437.9h0M774.7 1426.3h0M676.4 1455.1h0M636.2 1493.3h0M597.8 1499.2h0M678.4 1492.8h0M780 1395.8h0M773.2 1440.5h0M694.2 1496.5h0M740 1461.6h0M741.5 1406.1h0M675.5 1451.8h0M725.8 1403h0M669.8 1514.7h0M504.1 1471.8h0M769.4 1339.9h0M557.1 1487.8h0M595.9 1523.1h0M529.4 1487.3h0M660.9 1466.8h0M585.2 1515.7h0M571.1 1494.7h0M586.2 1512.4h0M675.6 1471h0M723.4 1445.7h0M789.7 1401.2h0M696.7 1451.9h0M508.8 1446h0M577.1 1493.8h0M713 1436.8h0M704.1 1473.6h0M721.7 1485.8h0M510 1425.9h0M620.5 1501.8h0M510.4 1500.2h0M526.6 1461.6h0M760.1 1411.8h0M660.5 1459.4h0M768.3 1414.3h0M686.1 1483.8h0M632.2 1467.8h0M749.3 1350h0M509.7 1464.3h0M653.2 1507.7h0M749.6 1357h0M622 1474.3h0M668.1 1488.3h0M536.3 1450h0M540.1 1517.7h0M522.1 1505.2h0M745.4 1339.7h0M790 1328.1h0M689 1441.1h0M696.5 1492.2h0M775.2 1441.6h0M789.7 1308.8h0M513.5 1501h0M737.2 1368.5h0M681.9 1465.9h0M685.5 1474.1h0M576.7 1505.7h0M778.9 1396.2h0M791.9 1302.5h0M614.2 1465.8h0M631.3 1519.2h0M780.1 1323.8h0M657.1 1517.1h0M658.1 1451.4h0M654.4 1476.3h0M719.8 1469.3h0M697.4 1505.7h0M598.2 1479h0M734.1 1435.7h0M703.6 1506.1h0M664.8 1498.3h0M721.8 1483.9h0M788.1 1412h0M738.1 1449.6h0M695.8 1509.4h0M657 1447.8h0M782.2 1366.3h0M539.5 1520.3h0M567.7 1516.5h0M723.4 1460.2h0M736.8 1469.5h0M528.5 1503.1h0M539.1 1483.4h0M779.9 1336.5h0M676.9 1471.9h0M533 1503.6h0M660.7 1493h0M741.8 1431h0M744.8 1435.4h0M516.4 1443.5h0M632.2 1520.3h0M619.4 1490.8h0M769.2 1380.2h0M728.5 1436.1h0M744.3 1412.6h0M527.9 1465.3h0M749.9 1384.7h0M583.4 1494.7h0M612.6 1522.9h0M752.8 1390.2h0M536.8 1433.8h0M567.9 1512.2h0M505.1 1415h0M676.5 1450.7h0M770.5 1342.1h0M529.6 1511.4h0M519.9 1469.5h0M761.5 1319.3h0M754.9 1434.2h0M505.7 1400.4h0M532.6 1480.2h0M725.6 1438.2h0M638.2 1444.7h0M665.5 1527.3h0M750.2 1465h0M763.5 1341.2h0M661.1 1449.7h0M632.5 1465.6h0M696.4 1487.5h0M735.6 1464h0M733.1 1390h0M661.3 1484.9h0M756.3 1442.7h0M746 1398.8h0" stroke="#3e2e86" stroke-width="5"/>
<path d="M800 1430L800 1530 668 1530Z" fill="#8f8b92"/>
<path d="M800 1418L664 1524" stroke="#9c979f" stroke-width="8" stroke-linecap="butt"/>
<path d="M800 1432L672 1532" stroke="#9a50a4" stroke-width="24" stroke-linecap="butt"/>
<path d="M800 1432L672 1532" stroke="#8a3c98" stroke-width="2.4" stroke-dasharray="5 9" stroke-linecap="butt"/>
<path d="M672 1372L702 1418" stroke="#a6a0aa" stroke-width="9"/>
<path d="M610 1270L640 1330" stroke="#8f80ba" stroke-width="7"/>
</g>
<rect x="503" y="1147.5" width="291.5" height="376.5" fill="none" stroke="#111" stroke-width="1.6" stroke-dasharray="4.5 3.5"/>
<clipPath id="cer"><rect x="812.5" y="1147.5" width="290.0" height="376.5"/></clipPath>
<g clip-path="url(#cer)" fill="none" stroke-linecap="round">
<path d="M933.4 1274.6h0M1021.4 1368.4h0M1021.9 1379.7h0M978.8 1303.1h0M967.5 1341.7h0M892.3 1188h0M906.4 1306.8h0M983.1 1358h0M880 1175.2h0M972.9 1346.5h0M911.7 1216.2h0M1000.2 1360.5h0M1020.5 1373.7h0M959.7 1269.1h0M1021.3 1383h0M865.4 1191.2h0M913.9 1191.6h0M967.8 1281.7h0M905.1 1304.1h0M906.5 1267.3h0M964.7 1298.2h0M1033.3 1394.7h0M970.5 1304.4h0M980.9 1439.8h0M937 1360.9h0M977.8 1301.7h0M954.2 1339h0M874.1 1173.3h0M948.2 1309.8h0M990.6 1362.6h0M888.7 1210.7h0M857 1184.5h0M1006.9 1347.2h0M981.5 1371.1h0M876.2 1231h0M859.4 1234.9h0M888.8 1268.9h0M979 1321.5h0M920.3 1208.1h0M851 1218.7h0M979 1299.3h0M891.3 1207.4h0M1016.1 1408.1h0M964 1292.1h0M928.5 1311.5h0M911.1 1283.9h0M888.7 1272.5h0M949.7 1356.8h0M956.4 1284.7h0M847 1188.9h0M872.8 1147.3h0M948.1 1300.8h0M901.1 1301.2h0M1032.1 1389.2h0M991.8 1394.6h0M912.3 1314.5h0M952.1 1328.9h0M954.4 1357.4h0M966.7 1340.7h0M981.3 1308.9h0M887.7 1269.6h0M969.7 1384h0M1021.1 1372h0M938.9 1326.1h0M881 1162.7h0M906.9 1188h0M986.4 1356.4h0M916.8 1331.1h0M1009.8 1363.2h0M870.8 1228.1h0M910.5 1200.3h0M973.1 1423.9h0M972.6 1352.3h0M902.1 1259.5h0M891 1224.9h0M848.8 1194.7h0M869.6 1236.1h0M913.6 1198.2h0M880.7 1247.2h0M953.1 1380.6h0M966.6 1405.3h0M877.2 1174.3h0M949 1316.7h0M992.4 1375.3h0M897.8 1228.2h0M946.4 1305.2h0M926.6 1256.6h0M957.9 1289.2h0M979.6 1318h0M908.6 1244h0M950.2 1373.3h0M882.3 1213.8h0M850.5 1163h0M1001.8 1380.4h0M958.6 1278h0M894.7 1233.1h0M879.1 1154h0M846.2 1193.7h0M962.2 1325.1h0M955.1 1277.2h0M923 1243h0M932.6 1246.7h0M991 1320.3h0M979.8 1393.4h0M986.8 1348.6h0M912.6 1283h0M888.9 1253.5h0M945.1 1317.8h0M874.3 1151.2h0M983.9 1319.2h0M882.1 1213.7h0M904.1 1202.5h0M897.7 1281.7h0M988.9 1413.6h0M841.5 1183.7h0M917.5 1284.5h0M914.8 1319.8h0M873.4 1173.1h0M945.9 1378.1h0M909.9 1313.8h0M929.8 1352.4h0M838 1184.3h0M862.6 1221.8h0M899.1 1274.6h0M1035.1 1395.9h0M869.3 1197.1h0M957.2 1334.7h0M969.5 1392.1h0M882.7 1192h0M928.1 1253.7h0M858.4 1217.2h0M837.3 1198.6h0M884.8 1227.8h0M936.8 1230.2h0M858.4 1172.6h0M949.1 1265.7h0M907 1204h0M1010.2 1400.6h0M877.3 1257.6h0M840.5 1172.8h0M973.7 1387.8h0M928.2 1312.3h0M952 1351.9h0M855.8 1174.4h0M996 1376.4h0M1005.2 1389.4h0M1024 1376.7h0M904 1237.8h0M977.7 1369.8h0M844 1197.9h0M977.9 1326.9h0M950.7 1260.1h0M888.7 1281.6h0M937.1 1339.9h0M948.8 1250.7h0M886.3 1276.6h0M975.9 1429h0M865.1 1190.5h0M956.9 1314.3h0M1026.9 1402.6h0M925.9 1302.5h0M947.2 1369.1h0M917.7 1287.7h0M963.5 1361.8h0M944 1347.7h0M937.9 1318.4h0M870.7 1176.2h0M994.1 1332.9h0M943.7 1313.8h0M943.1 1335.7h0M884.3 1239.5h0M994.5 1420.6h0M908.6 1182.7h0M936.9 1290h0M982.9 1355.9h0M847.2 1217.1h0M903.6 1240h0M891.1 1250.2h0M1021.2 1402.9h0M930.1 1329.8h0M920.5 1264.2h0M952.1 1259.3h0M961.6 1392h0M846.7 1187.4h0M898.3 1231.8h0M844.9 1179h0M839.5 1194.5h0M954.2 1370.3h0M928 1244.8h0M993.2 1424.6h0M943.3 1295.7h0M910 1218.2h0M861.8 1242.2h0M910 1187h0M872.4 1191.7h0M988.4 1367.3h0M1005 1359.4h0M990.3 1366.2h0M889.9 1162.8h0M933.9 1274.7h0M898.8 1290.1h0M967 1313.7h0M903.1 1181.5h0M914.8 1214.4h0M886.7 1178.7h0M983.9 1400.6h0M837.2 1190.4h0M954.6 1353.6h0M933.4 1280.4h0M976.9 1315.2h0M900.9 1220.3h0M933.5 1312.6h0M833.4 1166.9h0M970 1355.7h0M1017.2 1399.2h0M935 1227.9h0M894.4 1159.5h0M852.9 1156.9h0M993.7 1329.2h0M862.5 1218.1h0M942.7 1298.6h0M860 1226.9h0M1004.6 1365.6h0M903.8 1223.8h0M953.9 1293.6h0M902.3 1177h0M972.2 1393.1h0M975 1420h0M874.5 1206.2h0M974.6 1339.1h0M904 1194.1h0M960 1340.7h0M971.9 1348.3h0M851.8 1227h0M945 1270.6h0M931.5 1278.6h0M897.3 1249.8h0M852.6 1204.1h0M871.9 1237h0M900.7 1226.2h0M1024.9 1403.6h0M984.1 1377.6h0M844.6 1177.1h0M834.6 1190.2h0M926.3 1261.3h0M943.2 1342.5h0M972.1 1348h0M873 1159.9h0M868.7 1242.9h0M908.7 1196.6h0M921.2 1261.1h0M948.5 1269.4h0M976.8 1353.7h0M926 1312.5h0M991 1417.1h0M1034.9 1391.9h0M877.7 1183.9h0M905.4 1264.6h0M917.9 1291.3h0M1013.7 1406.2h0M990.1 1432.9h0M882.2 1178.6h0M902.9 1237h0M913 1259.5h0M943.1 1314.6h0M844.7 1181.3h0M924 1234.9h0M946.6 1325h0M955.8 1339.4h0M971.8 1414.1h0M959.9 1400.3h0M963.7 1364.7h0M886 1277.8h0M894.5 1165.9h0M955.1 1377.1h0M895.7 1211.1h0M1021.3 1367.7h0M889.3 1173.5h0M962.4 1274.7h0M916.6 1285.8h0M1012.4 1367.2h0M889.7 1222.2h0M956.8 1336.7h0M856.8 1170.8h0M975.2 1306.4h0M891.9 1160.7h0M1029.9 1404.2h0M853.2 1174.8h0M932.9 1324.6h0M875.7 1160.6h0M1003.5 1341.7h0M946.4 1289.2h0M998 1372.9h0M875.7 1230.5h0M847.2 1164.5h0M998.5 1346.8h0M993.8 1344.4h0M970.1 1310.9h0M1015.6 1368.4h0M976.3 1294.3h0M1012.8 1399.7h0M979.3 1419.8h0M913 1239.1h0M975.7 1374.2h0M930 1288.5h0M861.7 1204.6h0M847.9 1193.4h0M913.2 1274.2h0M861.9 1227.9h0M947.5 1379.3h0M973.7 1309.5h0M992.5 1328.8h0M964 1333.7h0M990.2 1411.1h0M998.8 1419.2h0M924.7 1313.7h0M933.6 1287.7h0M942.3 1338.4h0M848.7 1181.3h0M976.9 1315.5h0M950 1361.3h0M1028.3 1403.2h0M995.7 1358h0M941.3 1357.5h0M877.6 1177.3h0M832.3 1179.1h0M981.9 1429.8h0M889.4 1241h0M1035.6 1403.7h0M927.9 1247.6h0M984.3 1396.7h0M993.1 1369.2h0M909.6 1303.3h0M877.5 1268.5h0M937.8 1302.6h0M974.1 1327.4h0M888.1 1286.7h0M973.1 1416.2h0M851.3 1168.1h0M914.2 1240.3h0M868.2 1179.2h0M900.1 1285.5h0M956.9 1366.4h0M942.3 1269.9h0M961.9 1404.7h0M1002.3 1417.3h0M999 1424.1h0M983 1387.2h0M908.2 1269.1h0M926.5 1334h0M932.5 1351.9h0M977.5 1391.3h0M857.2 1166h0M881.9 1208h0M993.4 1409.3h0M968.3 1283.7h0M863.3 1191.4h0M860.7 1232.8h0M955.5 1334.2h0M936.1 1353.2h0M987.6 1360.5h0M850.3 1160h0M896.4 1226.1h0M889.2 1208.4h0M931.6 1311.9h0M926.4 1343.6h0M974.9 1375.7h0M949.7 1296.3h0M870.4 1178h0M879.8 1191.2h0M928.8 1333.9h0M971.7 1290h0M909.9 1273h0M993.7 1392.8h0M962.4 1388.1h0M950.6 1338.8h0M951.3 1303.3h0M1005 1382.7h0M892.6 1167.6h0M901.7 1230.8h0M1024.8 1380.6h0M901.8 1212.5h0M975.2 1297.3h0M895.5 1231.5h0M934.1 1255.7h0M957.3 1387.9h0M1022.4 1402.6h0M869 1192.3h0M923.3 1342.7h0M894.5 1284.1h0M887.2 1201.5h0M840.8 1183.7h0M979.1 1314.3h0M851.6 1211.6h0M861.9 1167.7h0M1010.1 1373.9h0M914.8 1253.3h0M1012.6 1408.5h0M873 1190.2h0M977.1 1384h0M1021 1416.9h0M891.5 1167.4h0M962.8 1376.2h0M887.4 1226.9h0M914 1208.3h0M847.8 1189.8h0M970 1376.3h0M896.6 1228.7h0M956.6 1394.6h0M881.1 1238.1h0M978 1432.5h0M986.6 1376h0M854.7 1231.7h0M956.9 1370.8h0M987.7 1392.7h0M912.8 1242.4h0M914.5 1228.5h0M974.7 1356h0M885.6 1274.4h0M989.8 1323.6h0M908.8 1278.8h0M861 1179.4h0M871.1 1205.5h0M929.4 1250.5h0M886.4 1254.3h0M918.5 1323.9h0M984.3 1400.8h0M1020.6 1388.3h0M935.9 1300.6h0M903.1 1210.3h0M990.1 1360.7h0M927.4 1290.9h0M940.8 1310.5h0M968.8 1342.2h0M920.9 1310.7h0M1014.4 1375.7h0M1016.2 1363.9h0M995 1368.1h0M1020.3 1396.4h0M878.5 1263.6h0M879.7 1166.5h0M869.2 1148.7h0M840.3 1200.6h0M917.9 1247.7h0M937.9 1322.9h0M967.8 1399.6h0M913.2 1202h0M978.8 1312.9h0M1023.2 1374.6h0M961.9 1372.5h0M937.2 1240.6h0M920.1 1325.2h0M931.2 1349.3h0M895.8 1206.9h0M853.6 1159.8h0M875.5 1205.4h0M875 1241.4h0M1024.8 1373.8h0M927 1282.1h0M910.7 1310.4h0M839.3 1188.5h0M937.2 1299.8h0M859.9 1174.3h0M878.9 1242.6h0M943.4 1265.2h0M909.4 1249.8h0M983.3 1327.3h0M1028.3 1383.2h0M958.6 1384h0M988.3 1380.9h0M904.2 1221.7h0M866.8 1247.6h0M983.1 1398.2h0M913.9 1209.4h0M927.9 1339.6h0M952.8 1291.5h0M982.8 1403.8h0M1001.2 1396h0M969.1 1382.1h0M922.2 1257.8h0M937.6 1351h0M942.8 1278.7h0M861.2 1223.8h0M1000.4 1356.6h0M915 1323.2h0M926.9 1221.5h0M1005.6 1343.8h0M972.1 1335.6h0M905.3 1258.3h0M983.1 1304.8h0M889.7 1276.3h0M997.5 1391.6h0M934.2 1347.4h0M964.7 1342.1h0M920.3 1212.4h0M914.2 1323h0M976.3 1403h0M929.1 1282.4h0M976 1404.7h0M912.2 1230.9h0M994.9 1381.3h0M916.4 1216.3h0M920 1226.8h0M971.8 1359.7h0M890.2 1215.5h0M938.7 1253.5h0M997.4 1341.4h0M921.6 1232.2h0M956.1 1262.9h0M931.5 1346.4h0M1018.9 1388.2h0M959.8 1349.2h0M870.3 1192.2h0M966.1 1411.6h0M975.1 1306h0M926.1 1263.5h0M1004.3 1404h0M854.2 1199.6h0M936.3 1362.7h0M947 1314.4h0M928.5 1290.9h0M914.2 1305.2h0M992.5 1400.5h0M920.1 1297.7h0M937.2 1273.7h0M984.7 1315.2h0M909.3 1283.4h0M919.1 1269.8h0M863.8 1165.8h0M851.5 1159.6h0M987.8 1329.8h0M976.2 1383.2h0M1023.7 1406.7h0M912.5 1297.1h0M968.6 1288.1h0M861 1169.2h0M899.2 1205.9h0M864.6 1179.1h0M880.2 1236.3h0M918.6 1267.1h0M867.2 1194h0M883.9 1185.2h0M928.7 1277.1h0M851.6 1168.7h0M1023.2 1414.3h0M971.2 1349.4h0M850.7 1207.4h0M973.2 1399.8h0M922.9 1261.5h0M900.5 1219.8h0M897.6 1255.7h0M853.4 1174.9h0M985 1419.5h0M860.9 1215.9h0M906.4 1233.8h0M953.7 1352.2h0M983.9 1335.2h0M951.4 1389.6h0M944.7 1300.8h0M945.2 1328.1h0M917.8 1240.3h0M992.5 1360.2h0M930.8 1235h0M913.2 1215.3h0M842.1 1182.2h0M899.5 1216.2h0M1029 1397.1h0M880.2 1242.4h0M929.7 1241h0M952.2 1341.3h0M920 1321.8h0M846.9 1182.6h0M991.3 1384.9h0M1000.3 1374.5h0M857 1169.9h0M937.6 1307.1h0M841.2 1203.6h0M947.5 1273.4h0M831 1186.9h0M959.1 1279.1h0M952 1378.2h0M994.1 1425.5h0M886.8 1179.9h0M865.3 1195.5h0M913.2 1296.7h0M1009.1 1420h0M935.1 1352.6h0M967.3 1357.6h0M1008.4 1362.4h0M905.9 1267.1h0M853.1 1177.6h0M940.9 1307.5h0M919.4 1272.8h0M967.8 1367.7h0M943.5 1342.3h0M928.7 1320.3h0M961.1 1274.6h0M881.8 1254.5h0M942.4 1350.7h0M956.9 1266.1h0M996.4 1350.4h0M913.4 1222.2h0M876.6 1229.9h0M1027.1 1383.2h0M959.5 1391h0M834 1166.2h0M854.2 1215.7h0M859.2 1210.1h0M889.7 1191.5h0M934.9 1341.7h0M1014.7 1399.7h0M959.3 1346.5h0M928 1309.9h0M923.7 1255h0M877.5 1176.7h0M1009.3 1354.5h0M911.8 1305.3h0M938 1259.9h0M886.4 1177.5h0M961 1399.3h0M965.3 1288.1h0M1017.2 1372.3h0M1001.9 1367.4h0M886.9 1188.6h0M898.3 1237.2h0M866.4 1247.7h0M914 1324.7h0M965.6 1380.7h0M879.4 1213h0M968.2 1363.4h0M970.9 1405.9h0M997.1 1371.2h0M884.6 1226.1h0M876.6 1203.2h0M895.4 1160.8h0M864 1217.2h0M942.7 1343.7h0M977.5 1295.5h0M873.8 1226.4h0M954 1261.7h0M844.5 1184.4h0M963 1302.1h0M925.6 1254h0M907 1200.3h0M840.1 1199.8h0M841.2 1196.7h0M870.9 1188.8h0M888.1 1235.9h0M863.8 1172.8h0M893.2 1278.9h0M920.2 1301.5h0M894.4 1262.8h0M901.7 1209.9h0M833.2 1191.9h0M989.5 1368.7h0M943.1 1343h0M897.7 1268.6h0M903.6 1230.3h0M875.2 1166.7h0M964.2 1385.7h0M961.4 1398.4h0M947.4 1268h0M889.6 1288.4h0M933.3 1246.7h0M980.3 1376.4h0M874.7 1189.5h0M885.3 1196.3h0M949.1 1384.4h0M1000.6 1406.2h0M874.4 1151.4h0M970.5 1297.4h0M941.7 1315.6h0M908.1 1304.9h0M995 1339.3h0M868 1159.7h0M882.4 1264.5h0M957 1301.1h0M975.6 1397.1h0M909.3 1249.1h0M862.7 1159h0M999.5 1393.8h0M987.1 1331.5h0M977.5 1296.7h0M879.5 1223.8h0M875.7 1225.8h0M946.3 1309.4h0M938.5 1297.7h0M847.9 1200.7h0M907.6 1248.7h0M951.5 1273.6h0M882.1 1270.7h0M875.8 1204.9h0M882.1 1273.2h0M908.9 1274.7h0M974.8 1412.7h0M998.1 1425.5h0M943.1 1301.6h0M1012.7 1364.6h0M1028.5 1396.4h0M937.1 1315.6h0M910.4 1189.1h0M896 1169h0M996.9 1356.5h0M969.4 1291.3h0M924.7 1311.1h0M862.9 1168.3h0M936.2 1271.5h0M878.6 1225.3h0M897.3 1190.7h0M838.9 1188.6h0M1004.6 1418.5h0M921.6 1318.1h0M868.8 1168.1h0M980.9 1437.9h0M966.3 1294.3h0M899.6 1225.6h0M972.6 1365.2h0M887.3 1200.9h0M983.6 1314.4h0M950.4 1293.3h0M1032.1 1399h0M969.3 1346.7h0M872.7 1256.3h0M858.4 1193.5h0M842.9 1208.2h0M887.6 1187.6h0M885.7 1180.6h0M868.3 1223h0M1026 1384h0M957.8 1281.9h0M1055.5 1229.2h0M965.6 1166.7h0M1017.4 1196.6h0M972.8 1181.9h0M1059.9 1203.5h0M1097.9 1258.1h0M1061.1 1308.8h0M976.9 1113.9h0M984.6 1150.2h0M1046.3 1267.2h0M984 1131.2h0M1072.6 1218.9h0M1034.9 1232.1h0M1085.5 1240.9h0M1009.3 1157.5h0M1085.9 1272.2h0M1028.4 1154.9h0M986.1 1191.5h0M973.6 1134.4h0M988.5 1114h0M987.9 1194.7h0M1073.1 1279.8h0M962.6 1124.4h0M1024.7 1186h0M1008.9 1174h0M1034.5 1204.6h0M1066.1 1233.3h0M1023.9 1221h0M1083.3 1247.9h0M1007.4 1228.7h0M1054.2 1230.5h0M977.1 1115h0M1059.3 1250.5h0M1008.6 1239h0M1020.9 1238.8h0M1059.6 1274.2h0M1060.4 1285.9h0M1001.8 1133.1h0M1067.2 1309.5h0M1048.7 1219.7h0M966.2 1137.9h0M962.9 1130.8h0M966.4 1120.5h0M1000.5 1214.1h0M972 1151.9h0M1067.1 1304.8h0M1042.8 1207.7h0M972.6 1145.7h0M1058.3 1311.1h0M992.4 1184.2h0M1046.4 1285.5h0M978.8 1117.5h0M1061.2 1257.1h0M1108.1 1270.2h0M1062.1 1283.9h0M969.5 1169.9h0M1003.3 1225h0M968.8 1126.8h0M1043.9 1197.7h0M1074.6 1230.5h0M1089.1 1286.6h0M1008 1239h0M1055.7 1301.8h0M1031.5 1162.1h0M1045.3 1291.9h0M962.5 1136.9h0M1004.2 1197.1h0M1048.4 1232.9h0M1035.7 1266.6h0M1019.7 1177.9h0M1007.7 1176.3h0M958.3 1152.4h0M985.2 1117.6h0M959.3 1151.4h0M1003.2 1143.4h0M1044.3 1224.5h0M964.6 1119.3h0M991.4 1128.1h0M1068.7 1217.8h0M1052.4 1248.8h0M996.4 1149.5h0M1067.9 1232.2h0M999.6 1149.2h0M1041.5 1261h0M1014.7 1155.8h0M1044.3 1285.8h0M1023.2 1205.3h0M1056.9 1261.3h0M1047.4 1250h0M972 1173.6h0M992 1169.6h0M1008.8 1203.6h0M1053.2 1230.4h0M1033.7 1238.2h0M1049.8 1268.2h0M1054.9 1211.1h0M969.6 1155.5h0M958.7 1125.3h0M983.7 1180.5h0M1070.2 1243.3h0M1022.5 1179h0M996.9 1219h0M1041.2 1202.8h0M1062.5 1248.2h0M1009.9 1137.4h0M1095.7 1279.3h0M992.1 1179.3h0M1069.1 1278.3h0M950.1 1130h0M1044.8 1185.6h0M1008.5 1171.1h0M1023.6 1192.7h0M992.3 1115.1h0M1051.6 1189h0M998.4 1136.5h0M1060.8 1276.2h0M1007.3 1166h0M1073.2 1247.6h0M983.4 1119.5h0M1032.2 1261.7h0M1018.6 1226.3h0M965.4 1126.7h0M974.7 1157.9h0M1023.4 1261.7h0M1023.8 1244.7h0M1024.4 1237h0M1074.6 1289h0M1071.3 1259.6h0M966.4 1163.5h0M1049 1187.7h0M1070.6 1291.2h0M1059.9 1269.3h0M996.5 1125.4h0M1017.6 1167.4h0M983 1171.3h0M1080.4 1281.9h0M982.4 1188.7h0M998 1167.9h0M984.5 1173.1h0M1066.9 1230.3h0M1070.5 1263.2h0M1028.1 1188.2h0M1043.7 1276h0M1023.1 1243h0M993.2 1206h0M1034.4 1201.8h0M1029.3 1232.4h0M989.6 1120.4h0M1041.1 1198.7h0M999.9 1169.7h0M980.3 1155.2h0M1037.9 1170.6h0M1043.3 1282.7h0M1068.4 1239h0M987.5 1189.2h0M980.4 1156.6h0M1072.2 1291.8h0M1053.5 1276.3h0M1069.4 1218.9h0M1070.8 1308.2h0M964.7 1139.2h0M1083.9 1247.9h0M958.6 1135.3h0M1014.2 1197.2h0M982.2 1118.1h0M986.4 1204.1h0M1016 1159.1h0M1078.6 1234.2h0M1079.1 1247.3h0M1049.5 1219.1h0M1038.5 1268.1h0M1051 1261.1h0M1001.6 1201.3h0M1102.6 1273.8h0M1016.5 1237.5h0M1049.9 1275h0M1007.5 1218.2h0M953.7 1140.7h0M1094.7 1265h0M1064.2 1211.2h0M1049.9 1296.5h0M1008.9 1156.1h0M982.1 1135.7h0M1060.5 1217.3h0M1016.7 1232.5h0M1065.5 1291.3h0M1060.2 1296.7h0M994.3 1109.2h0M1001.8 1153.2h0M994.2 1159.2h0M1067.2 1310.5h0M1089.3 1277.2h0M962.5 1130.8h0M971.2 1168.9h0M1021.7 1171.4h0M1052.3 1195.2h0M1050.6 1186.4h0M1079.6 1239.5h0M1077.8 1239h0M1058.9 1231.7h0M987.9 1112.7h0M1029.2 1174.8h0M992.8 1123.8h0M995.7 1123.4h0M1101.9 1286h0M983.5 1113.5h0M1043.7 1176.4h0M1011.8 1230.4h0M995.1 1144.7h0M1034.9 1237.2h0M1053.9 1200.2h0M1013.5 1237.7h0M1083.8 1235.5h0M1067.1 1238.8h0M1084.3 1293.7h0M1034.7 1202.3h0M1051 1209.6h0M990.9 1169.8h0M989.2 1188.9h0M993 1174.8h0M1049.2 1289.6h0M1044.6 1259h0M994.3 1153.8h0M1088 1263.2h0M985.1 1147.5h0M1065.9 1282.9h0M1029.4 1262.9h0M1037.1 1201.6h0M1022.7 1154.4h0M980.1 1141.8h0M1025.4 1253.7h0M1054.3 1282.6h0M1000.3 1218.5h0M972.5 1130.8h0M968.5 1156h0M1028.4 1263h0M1096.7 1282.8h0M1005 1181.3h0M1028.7 1181.4h0M1057.7 1223.6h0M1052.1 1247.6h0M1024.4 1229h0M973.6 1158.3h0M1046.1 1283.1h0M1036.3 1277.8h0M1055.6 1294.2h0M1016.1 1224.5h0M1027.6 1194.9h0M1068.2 1224.4h0M1038.7 1237.9h0M1058.4 1210.9h0M1054.9 1297.8h0M1015.1 1149h0M1037.9 1219.9h0M960.9 1121.3h0M999.1 1147.3h0M983.9 1118.9h0M977.4 1186.3h0M1094 1272h0M1008.8 1142.1h0M977.8 1178.2h0M1035.3 1186h0M1075.5 1248.9h0M1023.6 1231.4h0M1007.8 1210.3h0M1057.4 1228.3h0M1030.1 1209.2h0M973.5 1142.7h0M1016.6 1196.7h0M1024 1157.1h0M1064.3 1251.6h0M1059 1221.8h0M969.4 1163h0M956.8 1153.7h0M979.6 1121.9h0M957.1 1153.7h0M1037.9 1217.1h0M1041.7 1217.3h0M1013 1157.1h0M1068.5 1254.4h0M1067.6 1258.9h0M986.7 1143.4h0M995.1 1110h0M976.1 1192.2h0M1090.8 1291.2h0M978.1 1110.8h0M1001.6 1219.5h0M999.2 1197.7h0M1030.5 1200.4h0M1001.3 1132h0M1011 1135.3h0M969.6 1137.2h0M949.4 1147.7h0M1044.4 1244.3h0M961 1126.3h0M1037.1 1245.7h0M1019.8 1176.6h0M1048.5 1262.4h0M1050.2 1196.8h0M1086.1 1242.4h0M1037.9 1191.5h0M1059.9 1285.2h0M1102.6 1272h0M1085.9 1279.4h0M1000.7 1195.8h0M1038.9 1251.2h0M1066.4 1277.8h0M1026.1 1206.7h0M984.7 1177.6h0M987.6 1190.9h0M1074.8 1245h0M1027.8 1248.5h0M1062.1 1273.4h0M968.4 1175.3h0M1043.4 1258.1h0M1028.2 1263.5h0M1062.6 1306.2h0M960.4 1127.2h0M1058.1 1197.5h0M949.9 1129.8h0M980.7 1197.1h0M1079.1 1289.7h0M999.2 1215.1h0M1012.6 1136.3h0M1072.8 1274h0M982.9 1142.2h0M1070.9 1301.9h0M1035 1200.6h0M969.3 1129.2h0M1028.5 1180.7h0M1017.3 1248.4h0M1044.8 1278.7h0M1003.2 1200.1h0M1019.2 1188.8h0M999.9 1185.1h0M1044.9 1201.9h0M1023.4 1228.9h0M1050.8 1255.9h0M1060.7 1242.4h0M1065.5 1301.4h0M993.6 1149.6h0M1051.7 1214h0M993 1130.7h0M1052 1274.1h0M1059.2 1284.7h0M959.3 1131.5h0M1010.9 1165.1h0M1033.6 1215.7h0M1077.4 1302h0M1083.1 1248.7h0M1051.7 1189.5h0M992.3 1110h0M994.2 1108.8h0M953.6 1135h0M1090.4 1285.1h0M1041.2 1272.2h0M1106.1 1278.4h0M1037.6 1278.8h0M983.4 1141.3h0M1083.5 1254.7h0M977.5 1111.1h0M1041.1 1178h0M1061.5 1296.5h0M980.4 1125.2h0M979.1 1115.8h0M1029.2 1230.2h0M1021.8 1152.7h0M1078.1 1256.6h0M1050.5 1298.5h0M990.7 1201.1h0M966.7 1173.5h0M1030.1 1258.9h0M971.6 1179.9h0M996.5 1114.9h0M1031.7 1184.8h0M1040.6 1196.4h0M1020.6 1162.2h0M1041.9 1215.1h0M1043 1237.6h0M967.8 1158.7h0M993.7 1206h0M1004.2 1163.9h0M1000 1136.7h0M1031.1 1225.4h0M993.2 1118.5h0M1023.7 1161h0M1005.1 1149.4h0M1042.8 1194.7h0M1008.5 1234.9h0M1012.1 1144.1h0M1040.9 1242.7h0M1100.8 1287.8h0M995.8 1204.7h0M947.7 1136.2h0M1007.9 1174.8h0M1020.7 1144.4h0M990 1113.6h0M1052.1 1205.3h0M1007.3 1185h0M1069.5 1261.9h0M1057 1237.2h0M1051.6 1226.6h0M1078.6 1293.8h0M1006.6 1133.9h0M1057 1228.7h0M1005.8 1178.9h0M993.4 1209.4h0M1008.6 1177h0M1048.5 1203.5h0M1003.4 1228.7h0M997 1195.6h0M1039.7 1222.4h0M1042.2 1282.4h0M1073.1 1230.2h0M1047.5 1233.4h0M1089.1 1278.8h0M1086.7 1278.8h0M1003.9 1204h0M1054.5 1272.4h0M1021.3 1248.3h0M970 1143.3h0M1034.4 1219.1h0M1046.4 1196.1h0M983.9 1129.1h0M1031 1227h0M1041.3 1222.2h0M1066.2 1219.7h0M1031.5 1266.7h0M1099.8 1275.8h0M986.8 1155.7h0M955.9 1126.4h0M1067.3 1231.3h0M1003.5 1181.7h0M1006.2 1221.3h0M1042.8 1245.7h0M965.3 1122.3h0M1004.6 1152.3h0M1004.2 1161h0M1074.8 1238.7h0M995.6 1115h0M1092.3 1263.5h0M1013.8 1234.8h0M1069.2 1280.5h0M1075.9 1256.6h0M1037.6 1249h0M991.2 1135.9h0M1068.2 1230.8h0M1001.1 1142.5h0M1066.4 1246.2h0M1043.2 1182.2h0M1043.5 1227.7h0M999.5 1128.4h0M1098.3 1261.6h0M1060.5 1307.6h0M1082.9 1236.5h0M1103.3 1285.2h0M1001.1 1187.4h0M979.5 1158.7h0M980.4 1171.2h0M1013.6 1176.8h0M1024.2 1235.8h0M981.7 1115.6h0M1055.6 1240h0M1046.4 1183.7h0M1015.9 1234.2h0M1003.8 1120.2h0M1081.2 1262.2h0M912.9 1424.7h0M855.7 1413.1h0M842.9 1379.5h0M871 1443.8h0M908.9 1430.5h0M907 1415.5h0M805.8 1344.8h0M881.8 1380.8h0M885.8 1378.9h0M873.3 1336.6h0M863.1 1354.1h0M862 1358.2h0M863.3 1383h0M846.6 1366.1h0M890.2 1380h0M846.8 1371.3h0M894.4 1436.4h0M867.8 1366.8h0M880.9 1346.7h0M824.4 1346.1h0M888.9 1361.4h0M859 1333.2h0M908.9 1430.3h0M838.5 1388.3h0M856.1 1352.7h0M886.3 1377.1h0M893.1 1405.1h0M899.6 1389.7h0M867.7 1393.3h0M842.2 1381.9h0M885.4 1370h0M830.6 1369.7h0M814.4 1355.3h0M890.2 1439h0M865.8 1342.7h0M862.3 1377.8h0M882.4 1436.3h0M823.1 1353.9h0M869.8 1378.2h0M863.1 1417.8h0M851.4 1412.1h0M842 1350.3h0M840.6 1334.6h0M850.5 1405.4h0M871.7 1352.5h0M909.3 1410.1h0M904.3 1392h0M857.1 1392h0M858 1327.8h0M816.3 1353.5h0M877.5 1418.9h0M855.7 1382.5h0M870.5 1340.6h0M849.9 1354.6h0M898.6 1432.8h0M893.9 1424.3h0M854.3 1348.4h0M882.7 1354.5h0M846.7 1379.2h0M882.6 1386h0M828 1334h0M895.4 1402.4h0M860 1360.1h0M862.2 1369.1h0M882.2 1418.9h0M855.8 1318.3h0M882.1 1399.3h0M854.8 1378.7h0M896.4 1397.6h0M910.3 1415.1h0M879.2 1382.2h0M881.1 1368.5h0M875.9 1373.7h0M853.4 1374.3h0M849.3 1337.8h0M874.3 1443.8h0M928.7 1419.3h0M876.1 1348.6h0M868.8 1427.1h0M856.3 1415.7h0M896.6 1441.3h0M875.7 1371.9h0M873.6 1433.4h0M855.3 1388.5h0M925.1 1412.1h0M900.2 1385.3h0M874.8 1407.1h0M853.7 1356.5h0M839.2 1384.6h0M908.7 1417.3h0M849.7 1360.4h0M846.1 1337.3h0M867.1 1425.4h0M894.4 1408.1h0M874.3 1377.1h0M892.1 1439.7h0M872.7 1425.3h0M853.8 1366h0M851.9 1370.8h0M875.9 1438.7h0M859.7 1344.3h0M884.9 1375.4h0M891.1 1392.8h0M885.2 1402.7h0M885.9 1448h0M807.6 1350h0M858.6 1382.9h0M860.3 1347h0M912.1 1418.4h0M838.5 1396.2h0M865.1 1425.2h0M841.3 1399.2h0M838.2 1353h0M838.4 1337.6h0M857.1 1403.2h0M860.6 1419.1h0M830 1377.6h0M866.1 1379.8h0M874.4 1365.3h0M887.4 1432.7h0M859.8 1317.4h0M875.4 1398.4h0M878.4 1455.2h0M846.3 1321.8h0M906.8 1397.7h0M831.6 1360.7h0M857.6 1418.3h0M868 1373.4h0M844 1349.2h0M873.1 1355.1h0M878.1 1384h0M878 1405.6h0M916.3 1414.9h0M835.2 1373.6h0M835.1 1353.7h0M820 1365h0M874 1421.2h0M894.1 1434.7h0M828.9 1335.9h0M851.7 1377.9h0M841.3 1353h0M815.9 1339.5h0M852.4 1367.9h0M832.2 1340.8h0M844.6 1341.1h0M866 1435.7h0M887.5 1367.1h0M870.2 1392.1h0M846 1382h0M864.4 1402.6h0M842.9 1331.4h0M922.4 1420.8h0M871.7 1409.6h0M906.2 1430.7h0M841.3 1323.8h0M855.8 1379h0M812.1 1349.2h0M891.1 1362.8h0M854.3 1327.3h0M887.1 1373.5h0M846 1334.5h0M859.3 1394.1h0M877.4 1439.2h0M882.4 1359.8h0M819.4 1335.4h0M889.8 1412.2h0M889.5 1376.5h0M917 1412.9h0M815.9 1352.4h0M849 1375.3h0M883.9 1374h0M876.6 1423.3h0M867 1430.1h0M851.4 1322.8h0M881 1396h0M868.3 1407.7h0M895.7 1415.7h0M861.7 1320.6h0M889.7 1391h0M829.9 1351.2h0M872.8 1416h0M868.2 1365.5h0M882.4 1383.2h0M838.2 1323.9h0M889.7 1374.5h0M916.2 1407.9h0M848.1 1343.1h0M824.4 1337.3h0M907.8 1433.7h0M872.9 1336.4h0M871.5 1348.5h0M837 1380.7h0M820.5 1364h0M849 1391.7h0M839.7 1392.4h0M921.7 1407.7h0M864.6 1390h0M845.8 1339.2h0M851.7 1370.1h0M836.6 1364.3h0M870.9 1351.5h0M914.7 1413h0M895.4 1391.3h0M911.1 1429.8h0M874 1442.1h0M826.4 1352.3h0M875 1435.8h0M908.1 1386.7h0M905.4 1415.2h0M825.6 1348.8h0M849.4 1363.3h0M899.8 1385.7h0M809.6 1349.5h0M852.6 1389h0M841.4 1367.9h0M853.3 1361.1h0M925.5 1421.6h0M861.4 1420.9h0M865.4 1394.5h0M869 1402.2h0M840.3 1372.1h0M878.5 1344.2h0M921.2 1411.8h0M863.2 1342.2h0M874.3 1431.7h0M862.3 1341.4h0M920.9 1408h0M883.7 1425h0M863.3 1385.7h0M861.5 1367.6h0M860.8 1354.9h0M883.6 1404.1h0M890.7 1364.9h0M876.6 1349.3h0M835.5 1373.6h0M881.8 1372.4h0M896.2 1384.8h0M894.5 1414.1h0M878.3 1343.3h0M868.3 1382.4h0M828.4 1342.4h0M887.2 1408.5h0M871.5 1337.4h0M883.9 1351.5h0M850.1 1404.5h0M890.6 1446h0M859.6 1363h0M900.4 1436.9h0M878.8 1375.5h0M881.5 1360.1h0M890.6 1414.9h0M886.5 1369.5h0M867.6 1386.3h0M841.8 1361.5h0M911.4 1395.2h0M884.4 1409.7h0M846.4 1370.3h0M865.8 1357.6h0M912.1 1432.3h0M838.8 1364.8h0M911.5 1418h0M839.6 1339.7h0M812.6 1356.1h0M861.7 1422.1h0M892.9 1409.3h0M839.7 1363.3h0M827.9 1337.9h0M903.9 1427.3h0M866.4 1434.5h0M865.5 1343.8h0M824.5 1337.8h0M883.1 1436.8h0M872.9 1435.3h0M870.2 1418.1h0M846.5 1329.9h0M1093.4 1191.5h0M1102.4 1171h0M1073.9 1154.6h0M1097.2 1130.1h0M1086.6 1137h0M1094.9 1195h0M1086.2 1137.9h0M1091.3 1137h0M1099.8 1188.2h0M1078 1143.6h0M1097.5 1164.8h0M1080.6 1143.8h0M1090.1 1129.9h0M1082.5 1168.2h0M1090.8 1157.4h0M1094 1195.3h0M1074 1145.4h0M1096.4 1187.6h0M1111.9 1186h0M1068 1146.8h0M1117.1 1178.5h0M1088.8 1139.8h0M1106.4 1156.5h0M1097.7 1137.9h0M1114.9 1161.5h0M1120.4 1169.2h0M1070.9 1142h0M1080.1 1169.1h0M1097.2 1165.1h0M1087.5 1185.5h0M1090.6 1159.4h0M1114.1 1180.4h0M1071.5 1152.4h0M1079.5 1139.5h0M1089.8 1161.4h0M1089.4 1186.8h0M1087 1152.7h0M1093.9 1187.6h0M1070.9 1146.3h0M1075.3 1150.9h0M1087.5 1156h0M1087.2 1131.5h0M1088.6 1187.6h0M1108.5 1159.8h0M1081 1161.8h0M1089.5 1134.6h0M1081.2 1169.9h0M1099.6 1148.6h0M1086.2 1177.9h0M1096.2 1166h0M1063 1147.2h0M1094 1129.7h0M1109.7 1174.8h0M1116.9 1168.7h0M1085.4 1182.8h0M1091.1 1158.6h0M1079.9 1163.4h0M1082.1 1172.8h0M1077.1 1152.8h0M1090.2 1169.6h0M1112 1174.4h0M1080.3 1162.4h0M1093.8 1194.2h0M1081 1158.3h0M1092.1 1152.3h0M1124.2 1172h0M1085.9 1152.7h0M1089 1175.2h0M1103.6 1191h0M1076.5 1162.4h0M1107.3 1169.6h0M1099.6 1152.6h0M1120.1 1166.5h0M1064.9 1148.6h0M1087.9 1148.6h0M1083.4 1162.7h0M1094.5 1173.8h0M1092.5 1164.2h0M1112 1167h0M1090.9 1183.4h0M1097.6 1127.6h0M1108.3 1171.5h0M1111.9 1179.5h0M1089.7 1140.8h0M985.4 1505.9h0M818.4 1435.2h0M826 1484.7h0M841.2 1500.5h0M1101.9 1511.4h0M1050.2 1420.5h0M850.3 1489.2h0M949.8 1510.6h0M841.8 1507.3h0M1000.6 1477.6h0M1092.8 1333.1h0M1085.7 1483.1h0M1011.1 1490.5h0M869.8 1520h0M946 1508.4h0M1015.1 1518.1h0M885.8 1506.9h0M823.6 1440.7h0M966.4 1491.2h0M1083.2 1457.8h0M1089.2 1343.3h0M984.6 1453.3h0M888.4 1508.2h0M928.3 1519h0M953.2 1478.4h0M1027.9 1445.9h0M1058.7 1523.5h0M996.7 1472.2h0M974.9 1526.9h0M896.2 1516.4h0M833.3 1488.1h0M1089.6 1445h0M937.1 1482.4h0M911.2 1484h0M842.4 1491.3h0M823.1 1419.1h0M1062.3 1403.7h0M836.1 1476.1h0M1058.3 1343.2h0M1087.6 1464.9h0M846.6 1448h0M984.6 1524.7h0M1027 1500.1h0M1076.2 1450.5h0M1058.9 1369.5h0M969.9 1446.6h0M947.4 1479.8h0M1084.5 1521.3h0M834.4 1507h0M936.9 1484.2h0M976 1459.6h0M831.1 1442.3h0M1099.8 1509.6h0M1068.3 1498.9h0M956.1 1458h0M1025.9 1444.1h0M1100.4 1440.2h0M1035.3 1389.6h0M1031 1451.7h0M1070.5 1482.7h0M1037.2 1386.7h0M937.1 1523.3h0M820.6 1432.6h0M949.5 1480.6h0M923.2 1468.1h0M1031.1 1518.9h0M991.3 1502.3h0M1041.1 1524.8h0M860.6 1510.8h0M856.3 1505.8h0M1099.9 1342.7h0M1023 1488.1h0M1069 1332.3h0M873.1 1516.9h0M813 1498.3h0M1023.1 1444.4h0M867 1494.4h0M1079 1372.6h0M1056.1 1366.6h0M1034.8 1377.4h0M1063.3 1384.1h0M964.9 1465h0M908.4 1512.1h0M1066.8 1432.1h0M1082.6 1472.1h0M928.1 1491.2h0M1070.3 1518.3h0M908.7 1506.5h0M829.3 1511.8h0M935.5 1506.9h0M910.8 1508.8h0M1069 1498.9h0M1097.2 1433.8h0M856.8 1464.1h0M1096.9 1321.4h0M926.9 1504.4h0M1065 1335.2h0M821.8 1421.6h0M867 1526.4h0M1034.1 1472.6h0M844 1447.6h0M1070.4 1330.9h0M1078.7 1375.9h0M1081.9 1328h0M1053.6 1352h0M1062.2 1470.7h0M1067.3 1414.7h0M841.7 1447.2h0M1069.9 1377h0M1090 1401.9h0M862 1517.4h0M1082.1 1335.4h0M1052.7 1438.9h0M945.7 1469.7h0M1023.7 1450.6h0M927.8 1490.2h0M1050.6 1502.1h0M1073.7 1479.7h0M940.7 1526.3h0M1080.3 1434.9h0M1096.3 1515.3h0M835.1 1454.9h0M870.7 1515.7h0M1030.9 1492h0M1066.2 1472.3h0M1075.8 1395.5h0M1092.1 1392.1h0M1066.2 1406.2h0M1013.7 1449.5h0M954 1483.4h0M1104.4 1498h0M1090.1 1401.9h0M814.6 1448.9h0M819 1445.6h0M956.1 1475.2h0M1039.3 1427.2h0M1061.1 1367.5h0M1035.8 1516.7h0M1016.4 1446.4h0M1039.5 1417.2h0M1049.3 1497.6h0M1071.1 1392.4h0M1071 1461.6h0M959 1522.1h0M848.6 1514.3h0M1003.7 1509h0M1052 1378.3h0M1002.5 1512.4h0M818.6 1471.2h0M822.2 1525.7h0M1082.6 1352.8h0M1052.4 1378.8h0M837.7 1459.3h0M823.6 1488.8h0M826.1 1449.7h0M1051.9 1350.6h0M1091.4 1448.1h0M1060.8 1495.7h0M1000.3 1512.2h0M842.5 1475.4h0M1062.7 1396.3h0M836.5 1468.5h0M1041.5 1506.5h0M1042.4 1475.9h0M953.5 1523.2h0M1044.3 1437.1h0M822.1 1484.2h0M835.1 1493.7h0M985.6 1477.7h0M1037 1406.2h0M1040.5 1452.7h0M985.9 1485h0M897.6 1510.9h0M1040.3 1379.7h0M1091.4 1513.1h0M1043.3 1384.1h0M967.7 1519.4h0M898.5 1499.6h0M956.8 1522.6h0M1080.9 1373.3h0M820.9 1499.9h0M815.6 1441.4h0M1093.9 1443.5h0M1073.4 1406h0M838 1481.1h0M813.6 1428.5h0M1070.6 1459.2h0M950.7 1495.7h0M1066.7 1409h0M1065.2 1495h0M990.7 1470.9h0M1055.3 1502.3h0M1051.4 1424.7h0M1010 1504.7h0M841.5 1487.6h0M859.5 1521.3h0M1103.9 1424h0M1045.1 1405.4h0M1042.7 1418.1h0M1095.5 1475.4h0M1051.3 1442.2h0M819.1 1425.5h0M1009.7 1525.3h0M865.3 1517.3h0M1062.9 1345.2h0M1095.1 1371.4h0M813.7 1510h0M1094.8 1422.5h0M1097.1 1516h0M1035 1379.3h0M1013.3 1514.1h0M952.9 1476.3h0M985.5 1526.9h0M1083.1 1508.1h0M860.7 1472.5h0M950.2 1525.3h0M815 1483.4h0M815.1 1412.8h0M1073.4 1465.9h0M1078.2 1360.4h0M968 1487.6h0M843.8 1446.9h0M836.2 1478.1h0M833.3 1456.7h0M836.1 1470.5h0M897.5 1504.7h0M832.2 1445.6h0M1104 1323.1h0M937.5 1491.9h0M820.7 1421.3h0M1080.8 1458.9h0M1033.1 1430.6h0M1102.5 1425.6h0M986.2 1497.1h0M814.9 1478.6h0M1088 1324.4h0M862.8 1505.9h0M984.1 1491h0M1036.6 1514h0M1079.6 1504.3h0M934.3 1470.4h0M1097.3 1442.6h0M922 1504.5h0M1048.1 1394.1h0M987.9 1481.1h0M1025.3 1442.5h0M823 1453.5h0M958.7 1469.6h0M1065.5 1461.4h0M1041.6 1448.3h0M923.3 1524.3h0M1074.8 1483h0M1058.3 1527.3h0M955.9 1469.4h0M987.4 1524.7h0M833.8 1445.2h0M884.6 1514.6h0M1060.5 1387.1h0M1002.2 1478h0M1063.6 1336.5h0M1064.5 1365.8h0M1062.4 1491.8h0M914.1 1488.2h0M1054.1 1449h0M1067.4 1513.3h0M994 1476h0M1036.6 1445.3h0M825 1456.3h0M831.7 1464.4h0M1064.5 1423.8h0M974.9 1461.9h0M1099.6 1524.9h0M1017.1 1518.1h0M861.1 1503.2h0M958.6 1483.5h0M1085.4 1464.9h0M832.4 1484.3h0M1073.4 1394h0M1045 1465.6h0M1035.3 1415.8h0M1104.4 1449.1h0M1063.7 1397.2h0M1055.4 1428h0M1078.1 1514.1h0M968.4 1451.2h0M1064.6 1416.2h0M1081.5 1472.1h0M1063.5 1336.3h0M1069.4 1446.4h0M874.9 1523.6h0M1020.7 1434.8h0M1072.1 1433.5h0M859.8 1517.4h0M1033.7 1395.6h0M1044.1 1496.7h0M1092.8 1394.4h0M1046.4 1359.1h0M833.9 1511.8h0M1053.7 1441.9h0M913.8 1481.2h0M1097.4 1497.6h0M1023.5 1435.1h0M940.8 1505.6h0M953.7 1452.5h0M1073.1 1378.9h0M1036.6 1431.9h0M992.5 1527.3h0M945.9 1509.1h0M1043.3 1500.8h0M1095.7 1390.7h0M1046.4 1448.3h0M934.4 1505.9h0M1101.7 1422.7h0M828.9 1495.3h0M1101.9 1517.3h0M841.8 1450.4h0M900.7 1516.9h0M1045.6 1382.7h0M958.4 1506.8h0M981.9 1481.7h0M941 1511.9h0M1089.2 1479.7h0M833.4 1482.7h0M846.9 1525.6h0M833.4 1461.2h0M919 1473.6h0M834.5 1467.1h0M1059.9 1383.6h0M836.5 1492.2h0M853.4 1479.9h0M1091.1 1385.3h0M972.2 1518.1h0M1095.3 1422h0M986.3 1452.2h0M814 1519.1h0M816.2 1463h0M1080.2 1519.5h0M1075.3 1476.7h0M1066.3 1421h0M833 1450.8h0M1039.9 1524.9h0M850.4 1503.1h0M1054 1490.7h0M1085.4 1382.3h0M913.3 1508.7h0M1089.4 1431.7h0M1065.6 1501.2h0M847.9 1526.5h0M1104.3 1357.7h0M1044.4 1392.4h0M1103.9 1440.5h0M1029.7 1463h0M1077.2 1459h0M1088.7 1398.4h0M1069.6 1480.3h0M1039.8 1470.6h0M1081.8 1320.4h0M983 1446.7h0M834.2 1507.6h0M1096.1 1368.4h0M1077.7 1497.4h0M1063.6 1507.8h0M928.7 1510.2h0M1019.4 1439.2h0M1098.6 1381h0M859.7 1498.9h0M1090.5 1512.5h0M831.8 1434.1h0M961.6 1510.5h0M1093 1377.6h0M1008.3 1455.8h0M962.6 1475.2h0M900.2 1499.5h0M1095.8 1451.1h0M812.7 1501.7h0M829.6 1489.1h0M1036.3 1525h0M1097.8 1454.3h0M1090.2 1399h0M838.9 1501.9h0M1102.9 1445.9h0M960.8 1448.5h0M844.7 1471.3h0M1084.2 1350.5h0M963.6 1502.7h0M839 1494.8h0M909.3 1518.4h0M928.6 1485.9h0M1024.8 1450.5h0M946.3 1512.1h0M1072.5 1347.2h0M904.2 1522.3h0M984.6 1501h0M1005.9 1442.1h0M899.3 1509.3h0M834.2 1515.7h0M982.4 1516.3h0M1060 1423.2h0M831.9 1470.7h0M970.9 1473.9h0M1074.6 1504.5h0M815.2 1495.2h0M1072.9 1521h0M1093.8 1351.3h0M1049 1432.3h0M1056.6 1364.3h0M1078.4 1442.1h0M1072.2 1460.4h0M1100.8 1499.1h0M1018.4 1451.8h0M1046.7 1514.3h0M886.4 1512h0M1060.5 1354.8h0M1009 1460.9h0M1072.2 1523.6h0M1055.1 1502.2h0M1078.9 1492.1h0M1099.1 1356.7h0M838.2 1455.3h0M1054.9 1511.2h0M1069.4 1371.3h0M924.4 1521h0M948.6 1478.6h0M1055.2 1349.9h0M814.2 1518.5h0M978.2 1449.6h0M1072 1329h0M1094.3 1426.4h0M1103.7 1516.7h0M1058.9 1475.3h0M1051.5 1443.9h0M820 1482.3h0M847.8 1496.4h0M1054.2 1471.5h0M1084.7 1493.6h0M934 1467.7h0M1036.7 1443.7h0M974.1 1504.9h0M1046 1453.2h0M1066.1 1486.4h0M1099.2 1394.7h0M846.9 1494.7h0M1039.3 1459.3h0M1050.9 1519.2h0M859.6 1516.4h0M1080.6 1361.4h0M1038.9 1437.6h0M1081.4 1465.5h0M1071.8 1413.3h0M1012.2 1522.2h0M1089.1 1498.1h0M826.3 1453.3h0M1049.9 1501.8h0M1060.4 1387.9h0M867.6 1488.2h0M891.5 1518.7h0M1042.8 1468.5h0M1048.3 1387.9h0M849.9 1467.3h0M1056.7 1424.2h0M1100.4 1314.5h0M977.5 1483.5h0M1092.2 1399.7h0M925.4 1523.4h0M819.4 1477.7h0M1078.4 1471.1h0M831.6 1469.6h0M1048 1400.5h0M915.9 1515.1h0M828.1 1424.2h0M1103.3 1376.7h0M977.4 1461.6h0M975.4 1473.7h0M1049.1 1489.2h0M1012.6 1490.8h0M1030.3 1432.5h0M989.2 1453.7h0M1060.1 1347h0M1050.4 1401.7h0M981.1 1445.7h0M874.4 1503.9h0M1031.7 1492.9h0M823.7 1487.9h0M1072.1 1442.3h0M1097.2 1358.9h0M1063.3 1409.2h0M895.3 1515.4h0M1069.4 1496.7h0M913.7 1505.2h0M941.5 1456.4h0M1096.9 1436.2h0M1016.1 1492.2h0M1001.7 1475.5h0M1050 1484h0M846.5 1496.8h0M1026.9 1462.5h0M974.8 1495.8h0M952 1465.2h0M819.5 1468.3h0M985.5 1465.7h0M979.6 1502.2h0M1081.5 1438.9h0M1102.5 1332.6h0M1068.6 1513.7h0M852 1518.7h0M855.9 1463.3h0M994.6 1447.5h0M940.1 1508.6h0M1085.8 1373.3h0M1063.1 1525.6h0M816.8 1465.6h0M1098.6 1363.3h0M846.1 1451.2h0M1045.8 1401.2h0M1096 1524.3h0M841.9 1514h0M1012.6 1484.2h0M1052.1 1386.6h0M1046.2 1480.9h0M1063.6 1410.7h0M1036.1 1459.1h0M1072.3 1375.7h0M1051.7 1430.1h0M1061.4 1450.7h0M818.9 1414.6h0M844.8 1472.8h0M1013.6 1491.3h0M934.8 1518.4h0M1061.2 1416.8h0M1017.4 1454.3h0M1053.7 1487.7h0M964.5 1476h0M829.9 1428.8h0M892.2 1516.4h0M1091 1390.2h0M967.3 1480.2h0M1104.1 1469.4h0M1054.3 1429.6h0M957.7 1507h0M1024.2 1492.4h0M1002.6 1480h0M1082.8 1359.9h0M1071.4 1515.6h0M1054.5 1380.4h0M1047.7 1473.6h0M956.9 1524.6h0M935.2 1504.7h0M1026.6 1453.7h0M1018.5 1472.1h0M998.8 1460h0M994.5 1475.3h0M841.4 1442.2h0M1098.3 1484.1h0M1060.2 1357.6h0M1034.5 1455.2h0M890.5 1525.9h0M968.2 1501.7h0M1039 1443h0M1051.8 1407.8h0M1104.1 1360.2h0M1055.7 1506.5h0M907.9 1511.6h0M854.4 1472.9h0M1021.6 1452.7h0M1083.6 1403.8h0M1074.2 1507.4h0M1030.3 1514.7h0M1019.7 1436.2h0M1096.7 1503h0M1093.6 1321.3h0M1077.7 1336.1h0M1037.1 1496h0M1086 1516.2h0M954.6 1493.2h0M1044.4 1484.3h0M1020.9 1449.6h0M850.9 1462.1h0M823.6 1490.9h0M1083.5 1457.9h0M1093.3 1369.9h0M1077.2 1433.5h0M1024.2 1492.3h0M1099.9 1383.4h0M832.4 1510.2h0M827.1 1521.1h0M1061.5 1519.8h0M1083 1474.1h0M823.5 1507.4h0M1086.2 1495.8h0M1013.2 1479.7h0M1066.4 1482.9h0M1012.4 1452.9h0M1065.1 1414.2h0M836.9 1473.1h0M847.5 1481.2h0M1086.4 1411.4h0M1080.3 1395.3h0M934.9 1527.5h0M943.2 1477.6h0M1103.6 1426.2h0M1018.6 1487.8h0M1096 1375.2h0M1044.6 1396.5h0M988.4 1508.7h0M918.1 1479.5h0M872.6 1524.4h0M1017.5 1470.2h0M951.5 1475.3h0M1001.3 1520.8h0M966.9 1505.1h0M1097.3 1505.1h0M968.3 1478.5h0M1081 1322.2h0M1010.8 1503.7h0M866.6 1488.6h0M955.9 1526.6h0M929.9 1498.1h0M1069.6 1392.3h0M1076.7 1403.8h0M1096.3 1501.6h0M968.7 1450.8h0M887.9 1511.7h0M1062.9 1343.7h0M965.9 1502.4h0M1103.6 1329.1h0M1068.3 1372.7h0M985.9 1518h0M840.8 1452h0M1029.7 1428.6h0M1007.9 1451.1h0M1066.8 1395.5h0M1073.6 1339.5h0M968.8 1447.2h0M1032.5 1473.7h0M940.1 1498.7h0M817 1513h0M970.6 1465.2h0M911.7 1489.9h0M990.5 1443.9h0M1078.5 1417.5h0M1087 1402h0M1003.7 1502.1h0M820.5 1464h0M1088.6 1500.2h0M1063.8 1365h0M949.1 1498.5h0M1091.1 1495.3h0M935 1522.4h0M1038.6 1522.9h0M1026.5 1511h0M1080.3 1452.6h0M819.1 1480.4h0M1068.8 1381.3h0M848.9 1467.3h0M975.8 1507.9h0M1062.5 1473h0" stroke="#b3d3e8" stroke-width="6"/>
<path d="M1005.6 1421.6h0M955.4 1272.7h0M924.6 1282.6h0M894.3 1289.7h0M986.8 1390.1h0M884.2 1182.9h0M1006.6 1371.9h0M868.3 1156.1h0M997.9 1409.3h0M883.4 1170.3h0M901.9 1180.4h0M943.9 1287.8h0M893.4 1174.6h0M947.9 1335.2h0M924.7 1308.2h0M925.8 1213.7h0M977.6 1359.1h0M892.5 1229.5h0M974.4 1318.4h0M959.6 1312.6h0M918.3 1277.2h0M911.2 1253.9h0M950.2 1337.5h0M950.8 1375h0M1026.3 1406.1h0M943.8 1354.4h0M845.1 1180.2h0M964.7 1321.9h0M899 1219.3h0M1008.2 1386.7h0M999.1 1418.6h0M926.6 1238.8h0M872.5 1244.2h0M905.1 1307.7h0M945.9 1246.9h0M924.3 1261.5h0M930.7 1260.4h0M963.9 1378h0M971.8 1323.7h0M910.4 1242.1h0M911.6 1249.6h0M963.2 1125.5h0M1044.8 1272.1h0M1004.5 1187.4h0M998.6 1188.9h0M976.3 1146.4h0M1071.8 1252.2h0M986.1 1105.6h0M1051.7 1241h0M1061 1248.7h0M1095.6 1279.9h0M1046.9 1191.6h0M984.7 1161.5h0M999.8 1212.6h0M1039 1205.4h0M1083.9 1285.6h0M1048.9 1236.4h0M996.8 1134.6h0M1054.2 1233.6h0M1054.7 1217.2h0M1027.7 1239.4h0M883.2 1406.5h0M821.2 1358.9h0M850.2 1319.6h0M866.1 1345.5h0M865.6 1328h0M912.6 1425h0M838.3 1350.8h0M857 1372.4h0M825.8 1350.3h0M852.6 1378.9h0M850.8 1314.7h0M895.7 1432.2h0M898.3 1378.1h0M865.2 1417.9h0M886.5 1384.9h0M858.7 1320.5h0M1098.4 1180.3h0M1079.2 1156.4h0M1120.3 1173.3h0M1084.9 1425.6h0M951.6 1452.8h0M1057.6 1364.7h0M1012.1 1477.4h0M1079.6 1441.5h0M994.2 1470.7h0M824.7 1418.1h0M949.5 1482.7h0M1055.1 1523.5h0M1054.8 1485.9h0M842.2 1452.6h0M1050 1397h0M1093.7 1385.9h0M1095.9 1430h0M994.9 1469.5h0M1012.3 1516.1h0M1036.7 1459.6h0M1059.6 1431h0M1068.3 1384.5h0M1041.7 1433.4h0M947.5 1498.3h0M849.1 1526.6h0M1098.3 1356.1h0M828.9 1500.3h0M843.7 1521.9h0M1099.2 1335.3h0M985.5 1524.3h0M1041.5 1437h0M1104.4 1506.2h0M1021.9 1511.2h0M904 1523.8h0M826.8 1522.9h0M962.7 1470.3h0M1065.5 1389.5h0M861.9 1524.2h0M1034.1 1479.3h0M953.2 1416.8h0M922 1449.5h0M933.7 1452.7h0M887.8 1349.1h0M957.9 1429.5h0M895.9 1343.8h0M878.4 1294.5h0M887.2 1305.4h0M887.5 1324.2h0M927.9 1453.5h0M904.4 1474.2h0M880.6 1496.9h0M863.8 1253.2h0M876.5 1227.9h0M875.8 1493.8h0M870 1270.5h0M932.5 1435h0M876.4 1300.9h0M904.9 1476.5h0M874.8 1268.2h0M905.8 1338.8h0M933 1393h0M932.3 1389.7h0M934.3 1394.3h0M963 1427.4h0M966.1 1416.6h0M885.5 1484.9h0M870.9 1291.4h0M878.8 1333.4h0M934.2 1457.8h0M1027.3 1372.5h0M1023.5 1369.4h0M1010.8 1355.8h0M1017.1 1369.7h0M1032.2 1406.4h0M1016.3 1364.6h0M1029.3 1369h0M1042.4 1396.7h0M1060.7 1363.1h0M976.7 1311.3h0M983.5 1290h0M1014.5 1374.7h0M982.7 1323.8h0M1068.1 1365.6h0M1053.5 1360.4h0M966.9 1311.6h0M1047.5 1369.5h0M1053.5 1355h0M852.5 1235.5h0M856.5 1243.5h0M867.5 1275.5h0M1012.5 1202.5h0M1027.5 1209.5h0M1042.5 1217.5h0M1038.5 1259.5h0M1052.5 1237.5h0M1074.5 1245.5h0M962.5 1447.5h0M992.5 1457.5h0M912.5 1427.5h0M842.5 1347.5h0" stroke="#5a9fd0" stroke-width="6.6"/>
<path d="M926.5 1391.4h0M920.5 1367.3h0M914.7 1467h0M895.9 1332h0M881 1308.9h0M945.6 1389.9h0M918.3 1443.3h0M910 1365.1h0M953.6 1438.8h0M930 1444.7h0M918.1 1375.3h0M917.2 1376.6h0M962.6 1430.8h0M896.2 1335.8h0M886.5 1320.4h0M926.8 1390.9h0M884.5 1488.6h0M878 1309.9h0M882.8 1278.5h0M916.3 1461.1h0M928.9 1446h0M948.4 1436.7h0M914.8 1455.9h0M916 1470.3h0M952.2 1402.3h0M899.8 1350h0M858 1488.4h0M958.9 1427.6h0M878.2 1494.4h0M921.3 1442.4h0M936.5 1443.7h0M958.3 1438.5h0M912.1 1385.7h0M938.8 1441.4h0M894.5 1301.9h0M976.8 1434h0M905.7 1353.6h0M899.3 1319.4h0M932.5 1402.5h0M878.7 1295.7h0M963.5 1434.2h0M882.5 1339h0M908 1463.9h0M872.5 1486.5h0M911.6 1356.2h0M879 1284.4h0M875.5 1487.9h0M897.3 1330.6h0M936.1 1464.3h0M890.6 1295.8h0M885 1472.2h0M931.1 1389.2h0M949.6 1410.8h0M890.9 1478.4h0M907.8 1371.3h0M888.7 1480.8h0M943.4 1439.9h0M882.7 1311.9h0M899 1347h0M920.2 1370.1h0M954 1430.9h0M890 1341.7h0M941.2 1446.4h0M908.2 1491.3h0M914.7 1370.8h0M881.1 1285.8h0M925.3 1449.5h0M930.8 1449.3h0M941.7 1452.9h0M919.4 1376.6h0M856.1 1495.2h0M879.8 1490.3h0M893 1481.1h0M954.7 1426.4h0M960 1410.1h0M891.7 1333.4h0M929.5 1387.3h0M920.5 1393.9h0M954.6 1410.1h0M895.1 1353.9h0M908 1363.4h0M878.4 1294.4h0M912 1455.6h0M960.6 1419.8h0M883 1335.1h0M898.8 1323.7h0M936 1445.9h0M889.4 1292.6h0M916.2 1446.3h0M942.9 1443.7h0M880.4 1307.9h0M966 1425.1h0M904.6 1468.9h0M910.6 1460.4h0M941.6 1441.7h0M943.3 1398.9h0M881.9 1315.9h0M914 1454.9h0M893.2 1478.5h0M877.3 1486.6h0M940.8 1443.8h0M943.4 1416h0M888.5 1322.5h0M877.1 1304.1h0M915.5 1369.6h0M913 1376h0M895.7 1472.9h0M909.7 1354.3h0M917.2 1371.3h0M926.5 1450.2h0M930.1 1430.6h0M938.7 1456.1h0M956.5 1440.2h0M861.8 1488.2h0M933.5 1441.4h0M949.8 1436h0M962.8 1421.7h0M921.1 1378.8h0M903.4 1351.1h0M896.7 1360.6h0M1002 1341.8h0M970.9 1292.8h0M1042.3 1373.6h0M994.7 1335.1h0M1046.9 1364.9h0M1004.5 1355.9h0M1012.3 1355.7h0M965.3 1277.3h0M967.9 1289.4h0M1057.2 1364.6h0M1057 1368.2h0M975.5 1289.6h0M1035.6 1377.3h0M956.7 1279h0M1049.6 1371.9h0M1043 1369.4h0M1061.6 1364.6h0M981.3 1311.3h0M1002.1 1352.9h0M979.9 1328.8h0M1039.1 1369.1h0M1023.8 1364.4h0M1023.1 1382.6h0M973.8 1290.1h0M1000.4 1332.1h0M1053.7 1358.8h0M1041.4 1382.8h0M992.3 1311.5h0M1005.5 1342.1h0M1003.8 1339.6h0M974.8 1290.8h0M1010.8 1337.8h0M1047 1385.1h0M982.6 1319.8h0M1059.6 1366.8h0M979.9 1296.7h0M1005.1 1348.6h0M1054.4 1349.8h0M971 1314.3h0M967.8 1287.1h0M962.2 1280.4h0M970.7 1271h0M1005.4 1345.7h0M992.8 1322.1h0M1033.6 1377.8h0M1012.8 1359.8h0M1007.3 1337.2h0M995.8 1322.9h0M981.1 1305.6h0M990.8 1342.5h0M972 1297.9h0M1003.7 1360.7h0M965.6 1290.2h0M970.3 1283.1h0M1025.3 1369.9h0M999.6 1342.2h0M1036.3 1382.4h0M986.2 1325.3h0M1033.8 1380.8h0M1024.6 1368.3h0M1004.3 1333.1h0M1044.4 1363.7h0M995.9 1339.2h0M1024.9 1383.6h0M994.8 1311.5h0M1056.1 1352.6h0M1063.7 1362.9h0M1040.5 1373.2h0M1024.9 1385.8h0M966.8 1283.6h0M842.9 1479.7h0M851.3 1494.1h0M866.1 1465.7h0M819.2 1469.3h0M860.9 1489.5h0M855.5 1453.2h0M810 1454.4h0M839.8 1456.4h0M852.4 1453.3h0M870.1 1481h0M837.9 1473.7h0M851.4 1456.4h0M822.6 1448.9h0M830.9 1468.9h0M808.6 1442.1h0M857.5 1448.8h0M877.1 1473.2h0M818.8 1437.6h0M845.2 1444.6h0M827.8 1462.9h0M828.4 1485.9h0M864.9 1467.1h0M827.1 1478.4h0M874.5 1482.3h0M824.7 1448.2h0M817.8 1462.5h0M874.2 1457.2h0M841.9 1457.1h0M847.8 1473.5h0M841.2 1436.8h0M838.5 1443.9h0M854.4 1450.4h0M848 1446.9h0M787.6 1469.3h0M851.9 1450.7h0M874 1453h0M854.9 1445.8h0M826.8 1480.2h0M821.8 1482.2h0M839.3 1461.8h0M838.9 1456.6h0M878.6 1477.7h0M883 1440.2h0M829.1 1466.3h0M820.8 1467.9h0M849.2 1449.7h0M844.9 1451.6h0M866.4 1439.4h0M820 1450.3h0M825.8 1470.2h0M823.9 1450.8h0M833.7 1447.8h0M819.1 1463.3h0M846.9 1462.6h0M868.4 1463.9h0M820.3 1438.1h0M815.2 1422.7h0M809.6 1429.3h0M824.8 1446.2h0M827.3 1440.2h0M822.9 1435.5h0M813.7 1444.4h0M817 1443.9h0M1096.6 1280.4h0M1090.7 1292.3h0M1100.4 1307.1h0M1088.1 1295.1h0M1095.4 1296.6h0M1085.5 1278.5h0M1090.3 1276.9h0M1086.6 1280h0M1092.9 1300.2h0M1096.3 1290.8h0M1089.7 1284.8h0M1092.6 1260.1h0M1081.4 1274.8h0M1091.2 1305.2h0M1103.7 1303.4h0M1085.7 1268.7h0M1086.5 1310.7h0M1076.7 1288.9h0M1069 1311.3h0M1095.5 1279.5h0M1096.8 1292.4h0M1092.9 1275.9h0M1092.4 1279.9h0M1083.8 1300.9h0M1110.2 1332.7h0M1085.4 1308.6h0M1069.9 1299.1h0M1072.3 1295.3h0M1091.3 1282h0M1081.1 1332.5h0M1088.2 1276.8h0M1082 1300.2h0M1092 1328.2h0M1090.9 1275.1h0M1096.3 1300.7h0M1082.5 1286.3h0M1076.1 1343.8h0M1071.8 1339h0M1077.8 1337.4h0M1093.1 1335.8h0M1081.8 1336.5h0M1087.4 1337.2h0M1100.3 1339.6h0M1090.3 1338.9h0M1069.9 1330.2h0M1099.2 1345.5h0M1064.5 1335.6h0M1082.4 1327.8h0M1031.3 1372h0M1055 1381.4h0M1021.6 1381h0M1034.5 1366.6h0M1023.3 1374.1h0M1055.2 1372.1h0M1032.5 1365.3h0M1048.5 1387.8h0M1023.2 1375.1h0M1037.6 1370.6h0M1012.6 1370.2h0M1026.6 1383.5h0M1047.6 1367.6h0M1030.3 1387h0M980.1 1492h0M981.5 1494.5h0M978.5 1489.5h0M891.2 1506h0M1008 1206.4h0M1056.2 1191.2h0M1081.5 1231.8h0M930.5 1405.5h0M934.5 1409.5h0M812.5 1519.5h0" stroke="#1f3d7a" stroke-width="7.8"/>
</g>
<text x="841" y="1133.5" font-size="29.2"><tspan font-style="italic">Reg3b</tspan> expression</text>
<linearGradient id="ge" x1="0" y1="0" x2="0" y2="1"><stop offset="0" stop-color="#1d3a77"/><stop offset=".17" stop-color="#2c5fa8"/><stop offset=".34" stop-color="#4a90c8"/><stop offset=".52" stop-color="#7db8dc"/><stop offset=".69" stop-color="#aed0e8"/><stop offset=".86" stop-color="#d6e6f4"/><stop offset="1" stop-color="#f4f8fd"/></linearGradient>
<rect x="1126.3" y="1146.9" width="18.4" height="377.2" fill="url(#ge)" stroke="#98a2ac" stroke-width="1.4"/>
<path d="M1145 1146.9h2.6" stroke="#333" stroke-width="1.1"/>
<text x="1151.4" y="1154.3" font-size="28.5">3.0</text>
<path d="M1145 1212h2.6" stroke="#333" stroke-width="1.1"/>
<text x="1151.4" y="1219.7" font-size="28.5">2.5</text>
<path d="M1145 1277h2.6" stroke="#333" stroke-width="1.1"/>
<text x="1151.4" y="1285.2" font-size="28.5">2.0</text>
<path d="M1145 1342.1h2.6" stroke="#333" stroke-width="1.1"/>
<text x="1151.4" y="1350.6" font-size="28.5">1.5</text>
<path d="M1145 1407.1h2.6" stroke="#333" stroke-width="1.1"/>
<text x="1151.4" y="1416.1" font-size="28.5">1.0</text>
<path d="M1145 1472.2h2.6" stroke="#333" stroke-width="1.1"/>
<text x="1151.4" y="1481.5" font-size="28.5">0.5</text>
<rect x="1437.8" y="1146.3" width="69.5" height="69.6" fill="#eeee5c"/>
<rect x="1506.8" y="1146.3" width="69.5" height="69.6" fill="#98de6a"/>
<rect x="1575.9" y="1146.3" width="69.5" height="69.6" fill="#d0ea58"/>
<rect x="1644.9" y="1146.3" width="69.5" height="69.6" fill="#b8e660"/>
<rect x="1714" y="1146.3" width="69.5" height="69.6" fill="#c0e85c"/>
<rect x="1783" y="1146.3" width="69.5" height="69.6" fill="#d4ea58"/>
<rect x="1852.1" y="1146.3" width="69.5" height="69.6" fill="#4a788c"/>
<rect x="1921.1" y="1146.3" width="69.5" height="69.6" fill="#f0ee5c"/>
<rect x="1990.2" y="1146.3" width="69.5" height="69.6" fill="#4a7a8c"/>
<rect x="2059.2" y="1146.3" width="69.5" height="69.6" fill="#eef05c"/>
<rect x="1437.8" y="1215.5" width="69.5" height="69.6" fill="#a8e264"/>
<rect x="1506.8" y="1215.5" width="69.5" height="69.6" fill="#98de6a"/>
<rect x="1575.9" y="1215.5" width="69.5" height="69.6" fill="#eef05c"/>
<rect x="1644.9" y="1215.5" width="69.5" height="69.6" fill="#eef05c"/>
<rect x="1714" y="1215.5" width="69.5" height="69.6" fill="#e6ee5c"/>
<rect x="1783" y="1215.5" width="69.5" height="69.6" fill="#a0e066"/>
<rect x="1852.1" y="1215.5" width="69.5" height="69.6" fill="#4a7a8c"/>
<rect x="1921.1" y="1215.5" width="69.5" height="69.6" fill="#7cd07a"/>
<rect x="1990.2" y="1215.5" width="69.5" height="69.6" fill="#486c8c"/>
<rect x="2059.2" y="1215.5" width="69.5" height="69.6" fill="#6cc080"/>
<rect x="1437.8" y="1284.7" width="69.5" height="69.6" fill="#c0e85c"/>
<rect x="1506.8" y="1284.7" width="69.5" height="69.6" fill="#5aa08c"/>
<rect x="1575.9" y="1284.7" width="69.5" height="69.6" fill="#3a0a5c"/>
<rect x="1644.9" y="1284.7" width="69.5" height="69.6" fill="#3c1060"/>
<rect x="1714" y="1284.7" width="69.5" height="69.6" fill="#3a0c5c"/>
<rect x="1783" y="1284.7" width="69.5" height="69.6" fill="#402070"/>
<rect x="1852.1" y="1284.7" width="69.5" height="69.6" fill="#eef05c"/>
<rect x="1921.1" y="1284.7" width="69.5" height="69.6" fill="#3a0a5c"/>
<rect x="1990.2" y="1284.7" width="69.5" height="69.6" fill="#eef05c"/>
<rect x="2059.2" y="1284.7" width="69.5" height="69.6" fill="#3a0a5c"/>
<text x="1433.8" y="1194.6" font-size="29.2" text-anchor="end">CD8αβ top</text>
<text x="1433.8" y="1260.4" font-size="29.2" text-anchor="end">CD8αβ bottom</text>
<text x="1433.8" y="1330" font-size="29.2" text-anchor="end">CD8αβ musc.</text>
<text transform="translate(1491.8 1372) rotate(-45)" font-size="29.2" text-anchor="end">CCL</text>
<text transform="translate(1560.9 1372) rotate(-45)" font-size="29.2" text-anchor="end">ICAM</text>
<text transform="translate(1629.9 1372) rotate(-45)" font-size="29.2" text-anchor="end">PD-L1</text>
<text transform="translate(1699 1372) rotate(-45)" font-size="29.2" text-anchor="end">PVR</text>
<text transform="translate(1768 1372) rotate(-45)" font-size="29.2" text-anchor="end">MADCAM</text>
<text transform="translate(1837.1 1372) rotate(-45)" font-size="29.2" text-anchor="end">IL1</text>
<text transform="translate(1906.1 1372) rotate(-45)" font-size="29.2" text-anchor="end">CXCL</text>
<text transform="translate(1975.2 1372) rotate(-45)" font-size="29.2" text-anchor="end">PDL2</text>
<text transform="translate(2044.2 1372) rotate(-45)" font-size="29.2" text-anchor="end">THY1</text>
<text transform="translate(2113.3 1372) rotate(-45)" font-size="29.2" text-anchor="end">LCK</text>
<text x="1459" y="1133" font-size="29.2">Incoming signals across CD8αβ regional subtypes</text>
<text x="1452" y="1463.5" font-size="29.2">Intensity</text>
<linearGradient id="gf" x1="0" y1="0" x2="1" y2="0"><stop offset="0.000" stop-color="#3a0a5c"/><stop offset="0.125" stop-color="#402873"/><stop offset="0.250" stop-color="#424887"/><stop offset="0.375" stop-color="#46698c"/><stop offset="0.500" stop-color="#488a8c"/><stop offset="0.625" stop-color="#50a887"/><stop offset="0.750" stop-color="#69c47d"/><stop offset="0.875" stop-color="#aade64"/><stop offset="1.000" stop-color="#eef05c"/></linearGradient>
<rect x="1438.5" y="1472.6" width="133" height="27.8" fill="url(#gf)"/>
<text x="1440" y="1524.5" font-size="29.2" text-anchor="middle">0</text>
<text x="1566" y="1524.5" font-size="29.2" text-anchor="middle">1</text>
<text x="1221" y="1101.5" font-size="40.5" font-weight="bold">f</text>
</svg>
</div>
</body></html>
